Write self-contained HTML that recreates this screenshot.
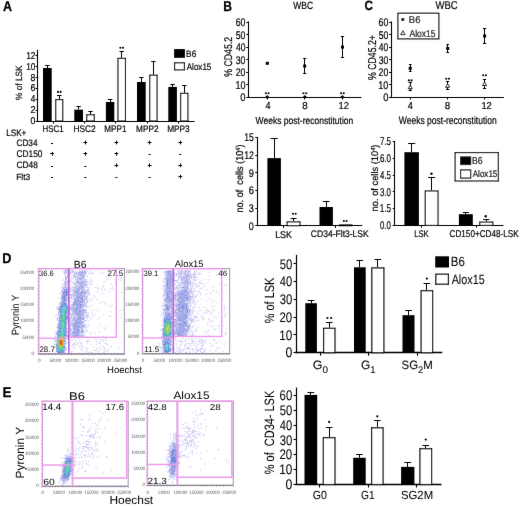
<!DOCTYPE html>
<html><head><meta charset="utf-8"><style>
html,body{margin:0;padding:0;background:#fff;}
svg{display:block;text-rendering:geometricPrecision;font-family:"Liberation Sans",sans-serif;}
</style></head><body>
<svg width="520" height="506" viewBox="0 0 520 506">
<defs><filter id="soft" x="-10%" y="-10%" width="120%" height="120%"><feGaussianBlur stdDeviation="0.35"/></filter>
<filter id="gsoft" x="0" y="0" width="520" height="506" filterUnits="userSpaceOnUse"><feConvolveMatrix order="3" kernelMatrix="0.0028 0.0470 0.0028 0.0470 0.8008 0.0470 0.0028 0.0470 0.0028" edgeMode="duplicate"/></filter></defs>
<rect width="520" height="506" fill="#fff"/>
<g filter="url(#gsoft)">
<text x="2.99" y="10.7" font-size="14.19" font-weight="bold" fill="#000" stroke="#000" stroke-width="0.25" textLength="9.04" lengthAdjust="spacingAndGlyphs">A</text>
<line x1="37.5" y1="49.8" x2="37.5" y2="121.5" stroke="#000" stroke-width="1.1"/>
<line x1="37.1" y1="121.5" x2="194.5" y2="121.5" stroke="#000" stroke-width="1.2"/>
<line x1="35.6" y1="121.5" x2="37.6" y2="121.5" stroke="#000" stroke-width="1"/>
<text x="30.61" y="124.3" font-size="9.92" font-weight="normal" fill="#000" stroke="#000" stroke-width="0.2" textLength="4.83" lengthAdjust="spacingAndGlyphs">0</text>
<line x1="35.6" y1="110.5" x2="37.6" y2="110.5" stroke="#000" stroke-width="1"/>
<text x="30.49" y="113.36" font-size="9.92" font-weight="normal" fill="#000" stroke="#000" stroke-width="0.2" textLength="5.07" lengthAdjust="spacingAndGlyphs">2</text>
<line x1="35.6" y1="99.5" x2="37.6" y2="99.5" stroke="#000" stroke-width="1"/>
<text x="30.76" y="102.42" font-size="10.07" font-weight="normal" fill="#000" stroke="#000" stroke-width="0.2" textLength="4.58" lengthAdjust="spacingAndGlyphs">4</text>
<line x1="35.6" y1="88.5" x2="37.6" y2="88.5" stroke="#000" stroke-width="1"/>
<text x="30.49" y="91.48" font-size="9.92" font-weight="normal" fill="#000" stroke="#000" stroke-width="0.2" textLength="5" lengthAdjust="spacingAndGlyphs">6</text>
<line x1="35.6" y1="77.5" x2="37.6" y2="77.5" stroke="#000" stroke-width="1"/>
<text x="30.57" y="80.54" font-size="9.92" font-weight="normal" fill="#000" stroke="#000" stroke-width="0.2" textLength="4.92" lengthAdjust="spacingAndGlyphs">8</text>
<line x1="35.6" y1="66.5" x2="37.6" y2="66.5" stroke="#000" stroke-width="1"/>
<text x="26.17" y="69.6" font-size="9.92" font-weight="normal" fill="#000" stroke="#000" stroke-width="0.2" textLength="9.26" lengthAdjust="spacingAndGlyphs">10</text>
<line x1="35.6" y1="55.5" x2="37.6" y2="55.5" stroke="#000" stroke-width="1"/>
<text x="26.16" y="58.66" font-size="9.92" font-weight="normal" fill="#000" stroke="#000" stroke-width="0.2" textLength="9.36" lengthAdjust="spacingAndGlyphs">12</text>
<line x1="53.5" y1="121" x2="53.5" y2="123.5" stroke="#000" stroke-width="1"/>
<line x1="84.5" y1="121" x2="84.5" y2="123.5" stroke="#000" stroke-width="1"/>
<line x1="115.5" y1="121" x2="115.5" y2="123.5" stroke="#000" stroke-width="1"/>
<line x1="147.5" y1="121" x2="147.5" y2="123.5" stroke="#000" stroke-width="1"/>
<line x1="178.5" y1="121" x2="178.5" y2="123.5" stroke="#000" stroke-width="1"/>
<line x1="47.5" y1="68" x2="47.5" y2="65.2" stroke="#000" stroke-width="1"/>
<line x1="45.15" y1="65.5" x2="49.55" y2="65.5" stroke="#000" stroke-width="1"/>
<rect x="43" y="68" width="8.7" height="53" fill="#000" stroke="none" stroke-width="0"/>
<line x1="59.5" y1="99.1" x2="59.5" y2="95.9" stroke="#000" stroke-width="1"/>
<line x1="57.05" y1="95.5" x2="61.45" y2="95.5" stroke="#000" stroke-width="1"/>
<rect x="55.75" y="99.65" width="7" height="21.35" fill="#fff" stroke="#000" stroke-width="1.1"/>
<line x1="78.5" y1="109.7" x2="78.5" y2="106.9" stroke="#000" stroke-width="1"/>
<line x1="76.45" y1="106.5" x2="80.85" y2="106.5" stroke="#000" stroke-width="1"/>
<rect x="74.3" y="109.7" width="8.7" height="11.3" fill="#000" stroke="none" stroke-width="0"/>
<line x1="90.5" y1="114.2" x2="90.5" y2="111.5" stroke="#000" stroke-width="1"/>
<line x1="88.3" y1="111.5" x2="92.7" y2="111.5" stroke="#000" stroke-width="1"/>
<rect x="86.75" y="114.75" width="7.5" height="6.25" fill="#fff" stroke="#000" stroke-width="1.1"/>
<line x1="110.5" y1="102" x2="110.5" y2="99.6" stroke="#000" stroke-width="1"/>
<line x1="107.9" y1="99.5" x2="112.3" y2="99.5" stroke="#000" stroke-width="1"/>
<rect x="105.9" y="102" width="8.4" height="19" fill="#000" stroke="none" stroke-width="0"/>
<line x1="121.5" y1="57.8" x2="121.5" y2="51.2" stroke="#000" stroke-width="1"/>
<line x1="119.5" y1="51.5" x2="123.9" y2="51.5" stroke="#000" stroke-width="1"/>
<rect x="117.95" y="58.35" width="7.5" height="62.65" fill="#fff" stroke="#000" stroke-width="1.1"/>
<line x1="141.5" y1="82" x2="141.5" y2="77.5" stroke="#000" stroke-width="1"/>
<line x1="139.15" y1="77.5" x2="143.55" y2="77.5" stroke="#000" stroke-width="1"/>
<rect x="137" y="82" width="8.7" height="39" fill="#000" stroke="none" stroke-width="0"/>
<line x1="153.5" y1="74.6" x2="153.5" y2="61.2" stroke="#000" stroke-width="1"/>
<line x1="151.2" y1="61.5" x2="155.6" y2="61.5" stroke="#000" stroke-width="1"/>
<rect x="149.75" y="75.15" width="7.3" height="45.85" fill="#fff" stroke="#000" stroke-width="1.1"/>
<line x1="172.5" y1="86.9" x2="172.5" y2="84.4" stroke="#000" stroke-width="1"/>
<line x1="170.4" y1="84.5" x2="174.8" y2="84.5" stroke="#000" stroke-width="1"/>
<rect x="168.3" y="86.9" width="8.6" height="34.1" fill="#000" stroke="none" stroke-width="0"/>
<line x1="184.5" y1="92.8" x2="184.5" y2="85.4" stroke="#000" stroke-width="1"/>
<line x1="182.1" y1="85.5" x2="186.5" y2="85.5" stroke="#000" stroke-width="1"/>
<rect x="180.65" y="93.35" width="7.3" height="27.65" fill="#fff" stroke="#000" stroke-width="1.1"/>
<circle cx="57.95" cy="91.9" r="1.05" fill="#000"/>
<circle cx="60.65" cy="91.9" r="1.05" fill="#000"/>
<circle cx="120.35" cy="47.7" r="1.05" fill="#000"/>
<circle cx="123.05" cy="47.7" r="1.05" fill="#000"/>
<rect x="174.1" y="49.1" width="10.8" height="8.7" fill="#000" stroke="none" stroke-width="0"/>
<rect x="174.6" y="62.8" width="9.8" height="7.1" fill="#fff" stroke="#000" stroke-width="1.1"/>
<text x="186.12" y="57" font-size="9.47" font-weight="normal" fill="#000" stroke="#000" stroke-width="0.2" textLength="10.14" lengthAdjust="spacingAndGlyphs">B6</text>
<text x="186.78" y="69.5" font-size="9.56" font-weight="normal" fill="#000" stroke="#000" stroke-width="0.2" textLength="24.55" lengthAdjust="spacingAndGlyphs">Alox15</text>
<text transform="translate(21.8,99.89) rotate(-90)" x="0" y="0" font-size="9.14" fill="#000" stroke="#000" stroke-width="0.2" textLength="34.49" lengthAdjust="spacingAndGlyphs">% of LSK</text>
<text x="42.55" y="132.3" font-size="9.47" font-weight="normal" fill="#000" stroke="#000" stroke-width="0.2" textLength="21.14" lengthAdjust="spacingAndGlyphs">HSC1</text>
<text x="73.52" y="132.3" font-size="9.47" font-weight="normal" fill="#000" stroke="#000" stroke-width="0.2" textLength="22.2" lengthAdjust="spacingAndGlyphs">HSC2</text>
<text x="104.33" y="132.3" font-size="9.61" font-weight="normal" fill="#000" stroke="#000" stroke-width="0.2" textLength="22.17" lengthAdjust="spacingAndGlyphs">MPP1</text>
<text x="136.12" y="132.3" font-size="9.47" font-weight="normal" fill="#000" stroke="#000" stroke-width="0.2" textLength="22.49" lengthAdjust="spacingAndGlyphs">MPP2</text>
<text x="167.22" y="132.3" font-size="9.47" font-weight="normal" fill="#000" stroke="#000" stroke-width="0.2" textLength="22.44" lengthAdjust="spacingAndGlyphs">MPP3</text>
<text x="6.23" y="135.9" font-size="9.32" font-weight="normal" fill="#000" stroke="#000" stroke-width="0.2" textLength="20.17" lengthAdjust="spacingAndGlyphs">LSK+</text>
<text x="16.48" y="145.6" font-size="9.32" font-weight="normal" fill="#000" stroke="#000" stroke-width="0.2" textLength="21.06" lengthAdjust="spacingAndGlyphs">CD34</text>
<text x="16.47" y="157.1" font-size="9.62" font-weight="normal" fill="#000" stroke="#000" stroke-width="0.2" textLength="26.05" lengthAdjust="spacingAndGlyphs">CD150</text>
<text x="16.47" y="168.4" font-size="9.32" font-weight="normal" fill="#000" stroke="#000" stroke-width="0.2" textLength="21.49" lengthAdjust="spacingAndGlyphs">CD48</text>
<text x="16.22" y="179.8" font-size="8.84" font-weight="normal" fill="#000" stroke="#000" stroke-width="0.2" textLength="13.85" lengthAdjust="spacingAndGlyphs">Flt3</text>
<line x1="51" y1="143.5" x2="53" y2="143.5" stroke="#000" stroke-width="1"/>
<line x1="50.1" y1="153.5" x2="53.9" y2="153.5" stroke="#000" stroke-width="1"/>
<line x1="52.5" y1="152" x2="52.5" y2="155.8" stroke="#000" stroke-width="1"/>
<line x1="51" y1="166.5" x2="53" y2="166.5" stroke="#000" stroke-width="1"/>
<line x1="51" y1="177.5" x2="53" y2="177.5" stroke="#000" stroke-width="1"/>
<line x1="83.4" y1="142.5" x2="87.2" y2="142.5" stroke="#000" stroke-width="1"/>
<line x1="85.5" y1="140.6" x2="85.5" y2="144.4" stroke="#000" stroke-width="1"/>
<line x1="83.4" y1="153.5" x2="87.2" y2="153.5" stroke="#000" stroke-width="1"/>
<line x1="85.5" y1="152" x2="85.5" y2="155.8" stroke="#000" stroke-width="1"/>
<line x1="84.3" y1="166.5" x2="86.3" y2="166.5" stroke="#000" stroke-width="1"/>
<line x1="84.3" y1="177.5" x2="86.3" y2="177.5" stroke="#000" stroke-width="1"/>
<line x1="114.5" y1="142.5" x2="118.3" y2="142.5" stroke="#000" stroke-width="1"/>
<line x1="116.5" y1="140.6" x2="116.5" y2="144.4" stroke="#000" stroke-width="1"/>
<line x1="114.5" y1="153.5" x2="118.3" y2="153.5" stroke="#000" stroke-width="1"/>
<line x1="116.5" y1="152" x2="116.5" y2="155.8" stroke="#000" stroke-width="1"/>
<line x1="114.5" y1="165.5" x2="118.3" y2="165.5" stroke="#000" stroke-width="1"/>
<line x1="116.5" y1="163.4" x2="116.5" y2="167.2" stroke="#000" stroke-width="1"/>
<line x1="115.4" y1="177.5" x2="117.4" y2="177.5" stroke="#000" stroke-width="1"/>
<line x1="147.7" y1="142.5" x2="151.5" y2="142.5" stroke="#000" stroke-width="1"/>
<line x1="149.5" y1="140.6" x2="149.5" y2="144.4" stroke="#000" stroke-width="1"/>
<line x1="148.6" y1="154.5" x2="150.6" y2="154.5" stroke="#000" stroke-width="1"/>
<line x1="147.7" y1="165.5" x2="151.5" y2="165.5" stroke="#000" stroke-width="1"/>
<line x1="149.5" y1="163.4" x2="149.5" y2="167.2" stroke="#000" stroke-width="1"/>
<line x1="148.6" y1="177.5" x2="150.6" y2="177.5" stroke="#000" stroke-width="1"/>
<line x1="178.4" y1="142.5" x2="182.2" y2="142.5" stroke="#000" stroke-width="1"/>
<line x1="180.5" y1="140.6" x2="180.5" y2="144.4" stroke="#000" stroke-width="1"/>
<line x1="179.3" y1="154.5" x2="181.3" y2="154.5" stroke="#000" stroke-width="1"/>
<line x1="178.4" y1="165.5" x2="182.2" y2="165.5" stroke="#000" stroke-width="1"/>
<line x1="180.5" y1="163.4" x2="180.5" y2="167.2" stroke="#000" stroke-width="1"/>
<line x1="178.4" y1="176.5" x2="182.2" y2="176.5" stroke="#000" stroke-width="1"/>
<line x1="180.5" y1="174.85" x2="180.5" y2="178.65" stroke="#000" stroke-width="1"/>
<text x="223.29" y="10.6" font-size="14.04" font-weight="bold" fill="#000" stroke="#000" stroke-width="0.25" textLength="8.76" lengthAdjust="spacingAndGlyphs">B</text>
<text x="293.26" y="9" font-size="10.53" font-weight="normal" fill="#000" stroke="#000" stroke-width="0.2" textLength="19.76" lengthAdjust="spacingAndGlyphs">WBC</text>
<line x1="248.5" y1="21.4" x2="248.5" y2="97.8" stroke="#000" stroke-width="1.1"/>
<line x1="247.8" y1="97.5" x2="361.5" y2="97.5" stroke="#000" stroke-width="1.2"/>
<line x1="246.3" y1="97.5" x2="248.3" y2="97.5" stroke="#000" stroke-width="1"/>
<text x="240.23" y="101.1" font-size="11.13" font-weight="normal" fill="#000" stroke="#000" stroke-width="0.2" textLength="5.24" lengthAdjust="spacingAndGlyphs">0</text>
<line x1="246.3" y1="84.5" x2="248.3" y2="84.5" stroke="#000" stroke-width="1"/>
<text x="235.41" y="88.62" font-size="11.13" font-weight="normal" fill="#000" stroke="#000" stroke-width="0.2" textLength="10.04" lengthAdjust="spacingAndGlyphs">10</text>
<line x1="246.3" y1="72.5" x2="248.3" y2="72.5" stroke="#000" stroke-width="1"/>
<text x="235.66" y="76.14" font-size="11.13" font-weight="normal" fill="#000" stroke="#000" stroke-width="0.2" textLength="9.79" lengthAdjust="spacingAndGlyphs">20</text>
<line x1="246.3" y1="59.5" x2="248.3" y2="59.5" stroke="#000" stroke-width="1"/>
<text x="235.77" y="63.66" font-size="11.13" font-weight="normal" fill="#000" stroke="#000" stroke-width="0.2" textLength="9.67" lengthAdjust="spacingAndGlyphs">30</text>
<line x1="246.3" y1="47.5" x2="248.3" y2="47.5" stroke="#000" stroke-width="1"/>
<text x="235.9" y="51.18" font-size="11.13" font-weight="normal" fill="#000" stroke="#000" stroke-width="0.2" textLength="9.53" lengthAdjust="spacingAndGlyphs">40</text>
<line x1="246.3" y1="34.5" x2="248.3" y2="34.5" stroke="#000" stroke-width="1"/>
<text x="235.75" y="38.7" font-size="11.13" font-weight="normal" fill="#000" stroke="#000" stroke-width="0.2" textLength="9.69" lengthAdjust="spacingAndGlyphs">50</text>
<line x1="246.3" y1="22.5" x2="248.3" y2="22.5" stroke="#000" stroke-width="1"/>
<text x="235.65" y="26.22" font-size="11.13" font-weight="normal" fill="#000" stroke="#000" stroke-width="0.2" textLength="9.79" lengthAdjust="spacingAndGlyphs">60</text>
<line x1="267.5" y1="97.3" x2="267.5" y2="99.5" stroke="#000" stroke-width="1"/>
<line x1="304.5" y1="97.3" x2="304.5" y2="99.5" stroke="#000" stroke-width="1"/>
<line x1="342.5" y1="97.3" x2="342.5" y2="99.5" stroke="#000" stroke-width="1"/>
<rect x="265.8" y="61.8" width="3" height="3" fill="#000" stroke="none" stroke-width="0"/>
<line x1="304.5" y1="58.9" x2="304.5" y2="73.2" stroke="#000" stroke-width="1"/>
<line x1="303.1" y1="58.5" x2="306.3" y2="58.5" stroke="#000" stroke-width="1"/>
<line x1="303.1" y1="73.5" x2="306.3" y2="73.5" stroke="#000" stroke-width="1"/>
<rect x="303.2" y="64.5" width="3" height="3" fill="#000" stroke="none" stroke-width="0"/>
<line x1="342.5" y1="36.6" x2="342.5" y2="57.4" stroke="#000" stroke-width="1"/>
<line x1="340.9" y1="36.5" x2="344.1" y2="36.5" stroke="#000" stroke-width="1"/>
<line x1="340.9" y1="57.5" x2="344.1" y2="57.5" stroke="#000" stroke-width="1"/>
<rect x="341" y="45.6" width="3" height="3" fill="#000" stroke="none" stroke-width="0"/>
<path d="M267.2 95L269.2 97L267.2 99L265.2 97Z" fill="#000"/>
<circle cx="265.85" cy="93.2" r="1.05" fill="#000"/>
<circle cx="268.55" cy="93.2" r="1.05" fill="#000"/>
<path d="M304.8 95L306.8 97L304.8 99L302.8 97Z" fill="#000"/>
<circle cx="303.45" cy="93.2" r="1.05" fill="#000"/>
<circle cx="306.15" cy="93.2" r="1.05" fill="#000"/>
<path d="M342.4 95L344.4 97L342.4 99L340.4 97Z" fill="#000"/>
<circle cx="341.05" cy="93.2" r="1.05" fill="#000"/>
<circle cx="343.75" cy="93.2" r="1.05" fill="#000"/>
<text x="265.39" y="109" font-size="10.23" font-weight="normal" fill="#000" stroke="#000" stroke-width="0.2" textLength="5.08" lengthAdjust="spacingAndGlyphs">4</text>
<text x="302.27" y="109" font-size="10.08" font-weight="normal" fill="#000" stroke="#000" stroke-width="0.2" textLength="5.45" lengthAdjust="spacingAndGlyphs">8</text>
<text x="338.59" y="109" font-size="10.08" font-weight="normal" fill="#000" stroke="#000" stroke-width="0.2" textLength="10.38" lengthAdjust="spacingAndGlyphs">12</text>
<text x="255.56" y="123.7" font-size="10.14" font-weight="normal" fill="#000" stroke="#000" stroke-width="0.2" textLength="97.69" lengthAdjust="spacingAndGlyphs">Weeks post-reconstitution</text>
<text transform="translate(231.8,76.71) rotate(-90)" x="0" y="0" font-size="11.13" fill="#000" stroke="#000" stroke-width="0.2" textLength="39.75" lengthAdjust="spacingAndGlyphs">% CD45.2</text>
<text x="364.42" y="10.4" font-size="13.38" font-weight="bold" fill="#000" stroke="#000" stroke-width="0.25" textLength="8.51" lengthAdjust="spacingAndGlyphs">C</text>
<text x="435.46" y="9.4" font-size="11.28" font-weight="normal" fill="#000" stroke="#000" stroke-width="0.2" textLength="22.2" lengthAdjust="spacingAndGlyphs">WBC</text>
<line x1="391.5" y1="21.4" x2="391.5" y2="97.8" stroke="#000" stroke-width="1.1"/>
<line x1="390.6" y1="97.5" x2="503.9" y2="97.5" stroke="#000" stroke-width="1.2"/>
<line x1="389.1" y1="97.5" x2="391.1" y2="97.5" stroke="#000" stroke-width="1"/>
<text x="383.13" y="101.1" font-size="11.13" font-weight="normal" fill="#000" stroke="#000" stroke-width="0.2" textLength="5.24" lengthAdjust="spacingAndGlyphs">0</text>
<line x1="389.1" y1="84.5" x2="391.1" y2="84.5" stroke="#000" stroke-width="1"/>
<text x="378.31" y="88.62" font-size="11.13" font-weight="normal" fill="#000" stroke="#000" stroke-width="0.2" textLength="10.04" lengthAdjust="spacingAndGlyphs">10</text>
<line x1="389.1" y1="72.5" x2="391.1" y2="72.5" stroke="#000" stroke-width="1"/>
<text x="378.56" y="76.14" font-size="11.13" font-weight="normal" fill="#000" stroke="#000" stroke-width="0.2" textLength="9.79" lengthAdjust="spacingAndGlyphs">20</text>
<line x1="389.1" y1="59.5" x2="391.1" y2="59.5" stroke="#000" stroke-width="1"/>
<text x="378.67" y="63.66" font-size="11.13" font-weight="normal" fill="#000" stroke="#000" stroke-width="0.2" textLength="9.67" lengthAdjust="spacingAndGlyphs">30</text>
<line x1="389.1" y1="47.5" x2="391.1" y2="47.5" stroke="#000" stroke-width="1"/>
<text x="378.8" y="51.18" font-size="11.13" font-weight="normal" fill="#000" stroke="#000" stroke-width="0.2" textLength="9.53" lengthAdjust="spacingAndGlyphs">40</text>
<line x1="389.1" y1="34.5" x2="391.1" y2="34.5" stroke="#000" stroke-width="1"/>
<text x="378.65" y="38.7" font-size="11.13" font-weight="normal" fill="#000" stroke="#000" stroke-width="0.2" textLength="9.69" lengthAdjust="spacingAndGlyphs">50</text>
<line x1="389.1" y1="22.5" x2="391.1" y2="22.5" stroke="#000" stroke-width="1"/>
<text x="378.55" y="26.22" font-size="11.13" font-weight="normal" fill="#000" stroke="#000" stroke-width="0.2" textLength="9.79" lengthAdjust="spacingAndGlyphs">60</text>
<line x1="410.5" y1="97.3" x2="410.5" y2="99.5" stroke="#000" stroke-width="1"/>
<line x1="447.5" y1="97.3" x2="447.5" y2="99.5" stroke="#000" stroke-width="1"/>
<line x1="484.5" y1="97.3" x2="484.5" y2="99.5" stroke="#000" stroke-width="1"/>
<line x1="410.5" y1="64.8" x2="410.5" y2="71.8" stroke="#000" stroke-width="1"/>
<line x1="408.9" y1="64.5" x2="411.5" y2="64.5" stroke="#000" stroke-width="1"/>
<line x1="408.9" y1="71.5" x2="411.5" y2="71.5" stroke="#000" stroke-width="1"/>
<rect x="408.7" y="66.9" width="3" height="3" fill="#000" stroke="none" stroke-width="0"/>
<line x1="447.5" y1="44.2" x2="447.5" y2="52.4" stroke="#000" stroke-width="1"/>
<line x1="446.4" y1="44.5" x2="449" y2="44.5" stroke="#000" stroke-width="1"/>
<line x1="446.4" y1="52.5" x2="449" y2="52.5" stroke="#000" stroke-width="1"/>
<rect x="446.2" y="46.9" width="3" height="3" fill="#000" stroke="none" stroke-width="0"/>
<line x1="484.5" y1="28.6" x2="484.5" y2="43.4" stroke="#000" stroke-width="1"/>
<line x1="483" y1="28.5" x2="486.2" y2="28.5" stroke="#000" stroke-width="1"/>
<line x1="483" y1="43.5" x2="486.2" y2="43.5" stroke="#000" stroke-width="1"/>
<rect x="483.1" y="34.5" width="3" height="3" fill="#000" stroke="none" stroke-width="0"/>
<line x1="410.5" y1="82.3" x2="410.5" y2="90.2" stroke="#000" stroke-width="1"/>
<line x1="408.6" y1="82.5" x2="411.8" y2="82.5" stroke="#000" stroke-width="1"/>
<line x1="408.6" y1="90.5" x2="411.8" y2="90.5" stroke="#000" stroke-width="1"/>
<path d="M410.2 85.1L412.2 88.7L408.2 88.7Z" fill="#fff" stroke="#000" stroke-width="0.9"/>
<circle cx="408.85" cy="80.4" r="1.05" fill="#000"/>
<circle cx="411.55" cy="80.4" r="1.05" fill="#000"/>
<line x1="447.5" y1="81.5" x2="447.5" y2="89.4" stroke="#000" stroke-width="1"/>
<line x1="446" y1="81.5" x2="449.2" y2="81.5" stroke="#000" stroke-width="1"/>
<line x1="446" y1="89.5" x2="449.2" y2="89.5" stroke="#000" stroke-width="1"/>
<path d="M447.6 83.7L449.6 87.3L445.6 87.3Z" fill="#fff" stroke="#000" stroke-width="0.9"/>
<circle cx="446.25" cy="78.8" r="1.05" fill="#000"/>
<circle cx="448.95" cy="78.8" r="1.05" fill="#000"/>
<line x1="484.5" y1="79" x2="484.5" y2="88" stroke="#000" stroke-width="1"/>
<line x1="482.9" y1="79.5" x2="486.1" y2="79.5" stroke="#000" stroke-width="1"/>
<line x1="482.9" y1="88.5" x2="486.1" y2="88.5" stroke="#000" stroke-width="1"/>
<path d="M484.5 81.9L486.5 85.5L482.5 85.5Z" fill="#fff" stroke="#000" stroke-width="0.9"/>
<circle cx="483.15" cy="75.3" r="1.05" fill="#000"/>
<circle cx="485.85" cy="75.3" r="1.05" fill="#000"/>
<text x="407.79" y="109" font-size="10.07" font-weight="normal" fill="#000" stroke="#000" stroke-width="0.2" textLength="5.08" lengthAdjust="spacingAndGlyphs">4</text>
<text x="444.87" y="109" font-size="9.92" font-weight="normal" fill="#000" stroke="#000" stroke-width="0.2" textLength="5.45" lengthAdjust="spacingAndGlyphs">8</text>
<text x="481.39" y="109" font-size="9.92" font-weight="normal" fill="#000" stroke="#000" stroke-width="0.2" textLength="10.38" lengthAdjust="spacingAndGlyphs">12</text>
<text x="398.76" y="123.8" font-size="10.87" font-weight="normal" fill="#000" stroke="#000" stroke-width="0.2" textLength="97.99" lengthAdjust="spacingAndGlyphs">Weeks post-reconstitution</text>
<text transform="translate(375.8,79.91) rotate(-90)" x="0" y="0" font-size="11.43" fill="#000" stroke="#000" stroke-width="0.2" textLength="44.84" lengthAdjust="spacingAndGlyphs">% CD45.2+</text>
<rect x="397.9" y="13.2" width="41" height="25.7" fill="#fff" stroke="#000" stroke-width="1.1"/>
<rect x="401.4" y="18.1" width="2.8" height="2.8" fill="#000" stroke="none" stroke-width="0"/>
<path d="M402.9 30.7L405.1 34.66L400.7 34.66Z" fill="#fff" stroke="#000" stroke-width="0.9"/>
<text x="408.82" y="22.9" font-size="9.77" font-weight="normal" fill="#000" stroke="#000" stroke-width="0.2" textLength="11.59" lengthAdjust="spacingAndGlyphs">B6</text>
<text x="409.48" y="36.7" font-size="10" font-weight="normal" fill="#000" stroke="#000" stroke-width="0.2" textLength="26.07" lengthAdjust="spacingAndGlyphs">Alox15</text>
<line x1="257.5" y1="137" x2="257.5" y2="226.2" stroke="#000" stroke-width="1.1"/>
<line x1="256.8" y1="225.5" x2="362.2" y2="225.5" stroke="#000" stroke-width="1.2"/>
<line x1="255.3" y1="225.5" x2="257.3" y2="225.5" stroke="#000" stroke-width="1"/>
<text x="248.85" y="229.5" font-size="11.13" font-weight="normal" fill="#000" stroke="#000" stroke-width="0.2" textLength="5" lengthAdjust="spacingAndGlyphs">0</text>
<line x1="255.3" y1="208.5" x2="257.3" y2="208.5" stroke="#000" stroke-width="1"/>
<text x="248.85" y="211.86" font-size="11.13" font-weight="normal" fill="#000" stroke="#000" stroke-width="0.2" textLength="5.04" lengthAdjust="spacingAndGlyphs">3</text>
<line x1="255.3" y1="190.5" x2="257.3" y2="190.5" stroke="#000" stroke-width="1"/>
<text x="248.73" y="194.22" font-size="11.13" font-weight="normal" fill="#000" stroke="#000" stroke-width="0.2" textLength="5.18" lengthAdjust="spacingAndGlyphs">6</text>
<line x1="255.3" y1="172.5" x2="257.3" y2="172.5" stroke="#000" stroke-width="1"/>
<text x="248.76" y="176.58" font-size="11.13" font-weight="normal" fill="#000" stroke="#000" stroke-width="0.2" textLength="5.18" lengthAdjust="spacingAndGlyphs">9</text>
<line x1="255.3" y1="155.5" x2="257.3" y2="155.5" stroke="#000" stroke-width="1"/>
<text x="244.24" y="158.94" font-size="11.13" font-weight="normal" fill="#000" stroke="#000" stroke-width="0.2" textLength="9.7" lengthAdjust="spacingAndGlyphs">12</text>
<line x1="255.3" y1="137.5" x2="257.3" y2="137.5" stroke="#000" stroke-width="1"/>
<text x="244.24" y="141.3" font-size="11.29" font-weight="normal" fill="#000" stroke="#000" stroke-width="0.2" textLength="9.62" lengthAdjust="spacingAndGlyphs">15</text>
<line x1="283.5" y1="225.7" x2="283.5" y2="228" stroke="#000" stroke-width="1"/>
<line x1="335.5" y1="225.7" x2="335.5" y2="228" stroke="#000" stroke-width="1"/>
<line x1="274.5" y1="158.1" x2="274.5" y2="138.9" stroke="#000" stroke-width="1"/>
<line x1="270.55" y1="138.5" x2="277.75" y2="138.5" stroke="#000" stroke-width="1"/>
<rect x="267.4" y="158.1" width="13.5" height="67.6" fill="#000" stroke="none" stroke-width="0"/>
<line x1="293.5" y1="221.3" x2="293.5" y2="218.6" stroke="#000" stroke-width="1"/>
<line x1="290.6" y1="218.5" x2="296.6" y2="218.5" stroke="#000" stroke-width="1"/>
<rect x="287.15" y="221.85" width="12.9" height="3.85" fill="#fff" stroke="#000" stroke-width="1.1"/>
<circle cx="292.95" cy="213.8" r="1.05" fill="#000"/>
<circle cx="295.65" cy="213.8" r="1.05" fill="#000"/>
<line x1="326.5" y1="207" x2="326.5" y2="201.4" stroke="#000" stroke-width="1"/>
<line x1="322.9" y1="201.5" x2="329.5" y2="201.5" stroke="#000" stroke-width="1"/>
<rect x="319.5" y="207" width="13.4" height="18.7" fill="#000" stroke="none" stroke-width="0"/>
<rect x="339.55" y="224.95" width="12.4" height="0.75" fill="#fff" stroke="#000" stroke-width="1.1"/>
<circle cx="343.85" cy="221" r="1.05" fill="#000"/>
<circle cx="346.55" cy="221" r="1.05" fill="#000"/>
<text x="275.17" y="237.5" font-size="9.77" font-weight="normal" fill="#000" stroke="#000" stroke-width="0.2" textLength="16.83" lengthAdjust="spacingAndGlyphs">LSK</text>
<text x="310.77" y="237.1" font-size="9.56" font-weight="normal" fill="#000" stroke="#000" stroke-width="0.2" textLength="58.03" lengthAdjust="spacingAndGlyphs">CD34-Flt3-LSK</text>
<text transform="translate(243,212.59) rotate(-90)" x="0" y="0" font-size="10.14" fill="#000" stroke="#000" stroke-width="0.2" textLength="68.04" lengthAdjust="spacingAndGlyphs">no. of&#160; cells (10<tspan font-size="60%" dy="-3">4</tspan><tspan dy="3">)</tspan></text>
<line x1="394.5" y1="140.9" x2="394.5" y2="225.9" stroke="#000" stroke-width="1.1"/>
<line x1="394.2" y1="225.5" x2="503.5" y2="225.5" stroke="#000" stroke-width="1.2"/>
<line x1="392.7" y1="225.5" x2="394.7" y2="225.5" stroke="#000" stroke-width="1"/>
<text x="379.99" y="229.2" font-size="11.28" font-weight="normal" fill="#000" stroke="#000" stroke-width="0.2" textLength="10.91" lengthAdjust="spacingAndGlyphs">0.0</text>
<line x1="392.7" y1="208.5" x2="394.7" y2="208.5" stroke="#000" stroke-width="1"/>
<text x="379.68" y="212.4" font-size="11.45" font-weight="normal" fill="#000" stroke="#000" stroke-width="0.2" textLength="11.26" lengthAdjust="spacingAndGlyphs">1.5</text>
<line x1="392.7" y1="191.5" x2="394.7" y2="191.5" stroke="#000" stroke-width="1"/>
<text x="380" y="195.6" font-size="11.28" font-weight="normal" fill="#000" stroke="#000" stroke-width="0.2" textLength="10.91" lengthAdjust="spacingAndGlyphs">3.0</text>
<line x1="392.7" y1="175.5" x2="394.7" y2="175.5" stroke="#000" stroke-width="1"/>
<text x="380.12" y="178.8" font-size="11.45" font-weight="normal" fill="#000" stroke="#000" stroke-width="0.2" textLength="10.8" lengthAdjust="spacingAndGlyphs">4.5</text>
<line x1="392.7" y1="158.5" x2="394.7" y2="158.5" stroke="#000" stroke-width="1"/>
<text x="379.9" y="162" font-size="11.28" font-weight="normal" fill="#000" stroke="#000" stroke-width="0.2" textLength="11.01" lengthAdjust="spacingAndGlyphs">6.0</text>
<line x1="392.7" y1="141.5" x2="394.7" y2="141.5" stroke="#000" stroke-width="1"/>
<text x="379.89" y="145.2" font-size="11.45" font-weight="normal" fill="#000" stroke="#000" stroke-width="0.2" textLength="11.04" lengthAdjust="spacingAndGlyphs">7.5</text>
<line x1="421.5" y1="225.4" x2="421.5" y2="227.7" stroke="#000" stroke-width="1"/>
<line x1="476.5" y1="225.4" x2="476.5" y2="227.7" stroke="#000" stroke-width="1"/>
<line x1="411.5" y1="152.2" x2="411.5" y2="143.4" stroke="#000" stroke-width="1"/>
<line x1="408.05" y1="143.5" x2="415.25" y2="143.5" stroke="#000" stroke-width="1"/>
<rect x="404.4" y="152.2" width="14.5" height="73.2" fill="#000" stroke="none" stroke-width="0"/>
<line x1="431.5" y1="190.4" x2="431.5" y2="177" stroke="#000" stroke-width="1"/>
<line x1="428.15" y1="177.5" x2="435.15" y2="177.5" stroke="#000" stroke-width="1"/>
<rect x="425.25" y="190.95" width="12.8" height="34.45" fill="#fff" stroke="#000" stroke-width="1.1"/>
<circle cx="431.5" cy="173.8" r="1.2" fill="#000"/>
<line x1="465.5" y1="214.2" x2="465.5" y2="212.3" stroke="#000" stroke-width="1"/>
<line x1="462.85" y1="212.5" x2="468.85" y2="212.5" stroke="#000" stroke-width="1"/>
<rect x="458.9" y="214.2" width="13.9" height="11.2" fill="#000" stroke="none" stroke-width="0"/>
<line x1="486.5" y1="221.5" x2="486.5" y2="219.2" stroke="#000" stroke-width="1"/>
<line x1="483.3" y1="219.5" x2="489.3" y2="219.5" stroke="#000" stroke-width="1"/>
<rect x="479.75" y="222.05" width="13.1" height="3.35" fill="#fff" stroke="#000" stroke-width="1.1"/>
<circle cx="485.7" cy="216.2" r="1.2" fill="#000"/>
<text x="414.17" y="237.2" font-size="9.62" font-weight="normal" fill="#000" stroke="#000" stroke-width="0.2" textLength="14.62" lengthAdjust="spacingAndGlyphs">LSK</text>
<text x="449.59" y="236.9" font-size="9.92" font-weight="normal" fill="#000" stroke="#000" stroke-width="0.2" textLength="69" lengthAdjust="spacingAndGlyphs">CD150+CD48-LSK</text>
<text transform="translate(377.9,211.4) rotate(-90)" x="0" y="0" font-size="9.71" fill="#000" stroke="#000" stroke-width="0.2" textLength="66.86" lengthAdjust="spacingAndGlyphs">no. of cells (10<tspan font-size="60%" dy="-3">4</tspan><tspan dy="3">)</tspan></text>
<rect x="455.1" y="152.6" width="43.2" height="28.4" fill="#fff" stroke="#000" stroke-width="1.1"/>
<rect x="460.1" y="156.4" width="11.1" height="8.7" fill="#000" stroke="none" stroke-width="0"/>
<rect x="460.6" y="169.9" width="10.1" height="8.2" fill="#fff" stroke="#000" stroke-width="1.1"/>
<text x="472.09" y="164.3" font-size="10.08" font-weight="normal" fill="#000" stroke="#000" stroke-width="0.2" textLength="10.59" lengthAdjust="spacingAndGlyphs">B6</text>
<text x="472.78" y="177.4" font-size="9.56" font-weight="normal" fill="#000" stroke="#000" stroke-width="0.2" textLength="24.55" lengthAdjust="spacingAndGlyphs">Alox15</text>
<text x="2.35" y="262.8" font-size="14.04" font-weight="bold" fill="#000" stroke="#000" stroke-width="0.25" textLength="9.18" lengthAdjust="spacingAndGlyphs">D</text>
<text x="2.51" y="397.3" font-size="14.04" font-weight="bold" fill="#000" stroke="#000" stroke-width="0.25" textLength="8.92" lengthAdjust="spacingAndGlyphs">E</text>
<line x1="296.5" y1="254.8" x2="296.5" y2="353.2" stroke="#000" stroke-width="1.2"/>
<line x1="295.5" y1="352.5" x2="442.2" y2="352.5" stroke="#000" stroke-width="1.3"/>
<line x1="293.5" y1="352.5" x2="296" y2="352.5" stroke="#000" stroke-width="1.1"/>
<text x="285.47" y="357.3" font-size="13.83" font-weight="normal" fill="#000" stroke="#000" stroke-width="0.06" textLength="6.81" lengthAdjust="spacingAndGlyphs">0</text>
<line x1="293.5" y1="334.5" x2="296" y2="334.5" stroke="#000" stroke-width="1.1"/>
<text x="279.21" y="339.54" font-size="13.83" font-weight="normal" fill="#000" stroke="#000" stroke-width="0.06" textLength="13.05" lengthAdjust="spacingAndGlyphs">10</text>
<line x1="293.5" y1="317.5" x2="296" y2="317.5" stroke="#000" stroke-width="1.1"/>
<text x="279.52" y="321.78" font-size="13.83" font-weight="normal" fill="#000" stroke="#000" stroke-width="0.06" textLength="12.72" lengthAdjust="spacingAndGlyphs">20</text>
<line x1="293.5" y1="299.5" x2="296" y2="299.5" stroke="#000" stroke-width="1.1"/>
<text x="279.67" y="304.02" font-size="13.83" font-weight="normal" fill="#000" stroke="#000" stroke-width="0.06" textLength="12.57" lengthAdjust="spacingAndGlyphs">30</text>
<line x1="293.5" y1="281.5" x2="296" y2="281.5" stroke="#000" stroke-width="1.1"/>
<text x="279.84" y="286.26" font-size="13.83" font-weight="normal" fill="#000" stroke="#000" stroke-width="0.06" textLength="12.39" lengthAdjust="spacingAndGlyphs">40</text>
<line x1="293.5" y1="263.5" x2="296" y2="263.5" stroke="#000" stroke-width="1.1"/>
<text x="279.65" y="268.5" font-size="13.83" font-weight="normal" fill="#000" stroke="#000" stroke-width="0.06" textLength="12.6" lengthAdjust="spacingAndGlyphs">50</text>
<line x1="320.5" y1="352.7" x2="320.5" y2="355.7" stroke="#000" stroke-width="1.1"/>
<line x1="368.5" y1="352.7" x2="368.5" y2="355.7" stroke="#000" stroke-width="1.1"/>
<line x1="417.5" y1="352.7" x2="417.5" y2="355.7" stroke="#000" stroke-width="1.1"/>
<line x1="311.5" y1="303.2" x2="311.5" y2="300.7" stroke="#000" stroke-width="1"/>
<line x1="307.8" y1="300.5" x2="314.4" y2="300.5" stroke="#000" stroke-width="1"/>
<rect x="305.3" y="303.2" width="11.6" height="49.5" fill="#000" stroke="none" stroke-width="0"/>
<line x1="329.5" y1="327.7" x2="329.5" y2="322.1" stroke="#000" stroke-width="1"/>
<line x1="326" y1="322.5" x2="332.6" y2="322.5" stroke="#000" stroke-width="1"/>
<rect x="323.6" y="328.3" width="11.4" height="24.4" fill="#fff" stroke="#000" stroke-width="1.2"/>
<circle cx="327.45" cy="318" r="1.1" fill="#000"/>
<circle cx="331.15" cy="318" r="1.1" fill="#000"/>
<line x1="359.5" y1="267.3" x2="359.5" y2="260.8" stroke="#000" stroke-width="1"/>
<line x1="356.55" y1="260.5" x2="363.15" y2="260.5" stroke="#000" stroke-width="1"/>
<rect x="354" y="267.3" width="11.7" height="85.4" fill="#000" stroke="none" stroke-width="0"/>
<line x1="377.5" y1="267.3" x2="377.5" y2="259.7" stroke="#000" stroke-width="1"/>
<line x1="374.55" y1="259.5" x2="381.15" y2="259.5" stroke="#000" stroke-width="1"/>
<rect x="371.8" y="267.9" width="12.1" height="84.8" fill="#fff" stroke="#000" stroke-width="1.2"/>
<line x1="408.5" y1="315.2" x2="408.5" y2="310.8" stroke="#000" stroke-width="1"/>
<line x1="405.2" y1="310.5" x2="411.8" y2="310.5" stroke="#000" stroke-width="1"/>
<rect x="402.5" y="315.2" width="12" height="37.5" fill="#000" stroke="none" stroke-width="0"/>
<line x1="426.5" y1="290.1" x2="426.5" y2="283.5" stroke="#000" stroke-width="1"/>
<line x1="423.55" y1="283.5" x2="430.15" y2="283.5" stroke="#000" stroke-width="1"/>
<rect x="421.1" y="290.7" width="11.5" height="62" fill="#fff" stroke="#000" stroke-width="1.2"/>
<circle cx="426.85" cy="278.6" r="1.1" fill="#000"/>
<text transform="translate(274,323.19) rotate(-90)" x="0" y="0" font-size="13.35" fill="#000" stroke="#000" stroke-width="0.06" textLength="45.51" lengthAdjust="spacingAndGlyphs">% of LSK</text>
<rect x="435.2" y="256.3" width="13.8" height="11.2" fill="#000" stroke="none" stroke-width="0"/>
<rect x="435.8" y="274.2" width="12.6" height="10" fill="#fff" stroke="#000" stroke-width="1.2"/>
<text x="450.75" y="266.4" font-size="13.38" font-weight="normal" fill="#000" stroke="#000" stroke-width="0.06" textLength="14.16" lengthAdjust="spacingAndGlyphs">B6</text>
<text x="451.68" y="284" font-size="13.33" font-weight="normal" fill="#000" stroke="#000" stroke-width="0.06" textLength="32.97" lengthAdjust="spacingAndGlyphs">Alox15</text>
<text x="312.73" y="369.3" font-size="12.03" stroke="#000" stroke-width="0.06" textLength="15.22" lengthAdjust="spacingAndGlyphs">G<tspan font-size="9.62" dy="3.37">0</tspan><tspan dy="-3.37"></tspan></text>
<text x="360.95" y="369.3" font-size="12.03" stroke="#000" stroke-width="0.06" textLength="14.58" lengthAdjust="spacingAndGlyphs">G<tspan font-size="9.62" dy="3.37">1</tspan><tspan dy="-3.37"></tspan></text>
<text x="401.6" y="369.3" font-size="12.03" stroke="#000" stroke-width="0.06" textLength="31.1" lengthAdjust="spacingAndGlyphs">SG<tspan font-size="9.62" dy="3.37">2</tspan><tspan dy="-3.37">M</tspan></text>
<line x1="296.5" y1="387.6" x2="296.5" y2="485" stroke="#000" stroke-width="1.2"/>
<line x1="295.5" y1="484.5" x2="441.5" y2="484.5" stroke="#000" stroke-width="1.3"/>
<line x1="293.5" y1="484.5" x2="296" y2="484.5" stroke="#000" stroke-width="1.1"/>
<text x="285.47" y="489.1" font-size="13.83" font-weight="normal" fill="#000" stroke="#000" stroke-width="0.06" textLength="6.81" lengthAdjust="spacingAndGlyphs">0</text>
<line x1="293.5" y1="469.5" x2="296" y2="469.5" stroke="#000" stroke-width="1.1"/>
<text x="279.21" y="474.25" font-size="13.83" font-weight="normal" fill="#000" stroke="#000" stroke-width="0.06" textLength="13.05" lengthAdjust="spacingAndGlyphs">10</text>
<line x1="293.5" y1="454.5" x2="296" y2="454.5" stroke="#000" stroke-width="1.1"/>
<text x="279.52" y="459.4" font-size="13.83" font-weight="normal" fill="#000" stroke="#000" stroke-width="0.06" textLength="12.72" lengthAdjust="spacingAndGlyphs">20</text>
<line x1="293.5" y1="439.5" x2="296" y2="439.5" stroke="#000" stroke-width="1.1"/>
<text x="279.67" y="444.55" font-size="13.83" font-weight="normal" fill="#000" stroke="#000" stroke-width="0.06" textLength="12.57" lengthAdjust="spacingAndGlyphs">30</text>
<line x1="293.5" y1="425.5" x2="296" y2="425.5" stroke="#000" stroke-width="1.1"/>
<text x="279.84" y="429.7" font-size="13.83" font-weight="normal" fill="#000" stroke="#000" stroke-width="0.06" textLength="12.39" lengthAdjust="spacingAndGlyphs">40</text>
<line x1="293.5" y1="410.5" x2="296" y2="410.5" stroke="#000" stroke-width="1.1"/>
<text x="279.65" y="414.85" font-size="13.83" font-weight="normal" fill="#000" stroke="#000" stroke-width="0.06" textLength="12.6" lengthAdjust="spacingAndGlyphs">50</text>
<line x1="293.5" y1="395.5" x2="296" y2="395.5" stroke="#000" stroke-width="1.1"/>
<text x="279.52" y="400" font-size="13.83" font-weight="normal" fill="#000" stroke="#000" stroke-width="0.06" textLength="12.73" lengthAdjust="spacingAndGlyphs">60</text>
<line x1="319.5" y1="484.5" x2="319.5" y2="487.5" stroke="#000" stroke-width="1.1"/>
<line x1="368.5" y1="484.5" x2="368.5" y2="487.5" stroke="#000" stroke-width="1.1"/>
<line x1="416.5" y1="484.5" x2="416.5" y2="487.5" stroke="#000" stroke-width="1.1"/>
<line x1="310.5" y1="394.9" x2="310.5" y2="392.4" stroke="#000" stroke-width="1"/>
<line x1="307.55" y1="392.5" x2="314.15" y2="392.5" stroke="#000" stroke-width="1"/>
<rect x="304.5" y="394.9" width="12.7" height="89.6" fill="#000" stroke="none" stroke-width="0"/>
<line x1="329.5" y1="437.1" x2="329.5" y2="427" stroke="#000" stroke-width="1"/>
<line x1="325.85" y1="427.5" x2="332.45" y2="427.5" stroke="#000" stroke-width="1"/>
<rect x="323.3" y="437.7" width="11.7" height="46.8" fill="#fff" stroke="#000" stroke-width="1.2"/>
<circle cx="329.15" cy="421.9" r="1.1" fill="#000"/>
<line x1="359.5" y1="457.8" x2="359.5" y2="454.6" stroke="#000" stroke-width="1"/>
<line x1="356.15" y1="454.5" x2="362.75" y2="454.5" stroke="#000" stroke-width="1"/>
<rect x="353.2" y="457.8" width="12.5" height="26.7" fill="#000" stroke="none" stroke-width="0"/>
<line x1="377.5" y1="427.2" x2="377.5" y2="420.5" stroke="#000" stroke-width="1"/>
<line x1="374.05" y1="420.5" x2="380.65" y2="420.5" stroke="#000" stroke-width="1"/>
<rect x="371.6" y="427.8" width="11.5" height="56.7" fill="#fff" stroke="#000" stroke-width="1.2"/>
<circle cx="377.35" cy="416.4" r="1.1" fill="#000"/>
<line x1="407.5" y1="466.9" x2="407.5" y2="462.3" stroke="#000" stroke-width="1"/>
<line x1="404.45" y1="462.5" x2="411.05" y2="462.5" stroke="#000" stroke-width="1"/>
<rect x="401.1" y="466.9" width="13.3" height="17.6" fill="#000" stroke="none" stroke-width="0"/>
<line x1="425.5" y1="448.1" x2="425.5" y2="445.5" stroke="#000" stroke-width="1"/>
<line x1="422.45" y1="445.5" x2="429.05" y2="445.5" stroke="#000" stroke-width="1"/>
<rect x="419.9" y="448.7" width="11.7" height="35.8" fill="#fff" stroke="#000" stroke-width="1.2"/>
<circle cx="425.75" cy="439.6" r="1.1" fill="#000"/>
<text transform="translate(274.2,474.19) rotate(-90)" x="0" y="0" font-size="13.49" fill="#000" stroke="#000" stroke-width="0.06" textLength="83.41" lengthAdjust="spacingAndGlyphs">% of&#160; CD34- LSK</text>
<text x="312.77" y="499.3" font-size="11.73" font-weight="normal" fill="#000" stroke="#000" stroke-width="0.06" textLength="14.04" lengthAdjust="spacingAndGlyphs">G0</text>
<text x="361.09" y="499.3" font-size="11.73" font-weight="normal" fill="#000" stroke="#000" stroke-width="0.06" textLength="13.61" lengthAdjust="spacingAndGlyphs">G1</text>
<text x="400.98" y="499.3" font-size="11.73" font-weight="normal" fill="#000" stroke="#000" stroke-width="0.06" textLength="32.15" lengthAdjust="spacingAndGlyphs">SG2M</text>
<g filter="url(#soft)"><path fill="rgb(87,88,213)" fill-opacity="0.36" d="M114.5 335.5h1v1h-1zM121.2 291.8h1v1h-1zM118.3 347.6h1v1h-1zM122 341.5h1v1h-1zM115.6 300.8h1v1h-1zM97.6 309.7h1v1h-1zM116.7 324.3h1v1h-1zM113.3 329h1v1h-1zM114.7 275h1v1h-1zM115.5 317.2h1v1h-1zM115.6 282.3h1v1h-1zM115.7 307.2h1v1h-1zM111.1 311.5h1v1h-1zM102.5 335.7h1v1h-1zM107.7 271.4h1v1h-1zM103.1 314.8h1v1h-1zM98.8 331.7h1v1h-1zM101.6 292.8h1v1h-1zM94.8 332h1v1h-1zM111 345.9h1v1h-1zM99.3 324.2h1v1h-1zM108.4 291.5h1v1h-1zM96.4 299.3h1v1h-1zM98.7 272.7h1v1h-1zM110.8 283.8h1v1h-1zM96.7 291.3h1v1h-1zM120.5 317.5h1v1h-1zM98.3 327.7h1v1h-1zM121 314.8h1v1h-1zM111.6 270.1h1v1h-1zM98.8 302.7h1v1h-1zM94.2 314.4h1v1h-1zM97.8 319.1h1v1h-1zM91.4 309.7h1v1h-1zM99.6 316.7h1v1h-1zM109 275.5h1v1h-1zM102 301.5h1v1h-1zM90.5 305h1v1h-1zM90.8 344.5h1v1h-1zM106 276.5h1v1h-1zM121.7 309.3h1v1h-1zM107.4 278.7h1v1h-1zM119.4 310.5h1v1h-1zM104 289.1h1v1h-1zM102.5 273.6h1v1h-1zM92.8 346.9h1v1h-1zM108.4 315.2h1v1h-1zM91.7 312.3h1v1h-1zM110.3 316.1h1v1h-1zM102.1 271.9h1v1h-1zM111.5 304.5h1v1h-1zM108.5 305.3h1v1h-1zM89.7 331.7h1v1h-1zM104.8 303.4h1v1h-1zM108.6 348.6h1v1h-1zM89.7 334.3h1v1h-1zM104.2 302h1v1h-1zM87.3 343.3h1v1h-1zM91.5 333.2h1v1h-1zM96.1 343.7h1v1h-1zM110.2 288.5h1v1h-1zM91.9 315.4h1v1h-1zM71 352.3h1v1h-1zM71.4 351.1h1v1h-1zM110.8 306.6h1v1h-1zM120.8 270.4h1v1h-1zM95.2 286.7h1v1h-1zM74.9 347.4h1v1h-1zM54 352.4h1v1h-1zM105 280.7h1v1h-1zM93.5 295.5h1v1h-1zM94.7 296.8h1v1h-1zM105.3 338.2h1v1h-1zM103.3 281.5h1v1h-1zM99.1 346.9h1v1h-1zM107.7 350.8h1v1h-1zM103.3 284.8h1v1h-1zM91.9 298.6h1v1h-1zM95.6 339.1h1v1h-1zM120.4 273.2h1v1h-1zM119.7 280.1h1v1h-1zM68.5 348h1v1h-1zM105.8 327.5h1v1h-1zM91.2 352h1v1h-1zM103.4 327.5h1v1h-1zM112 286.4h1v1h-1zM59 293.1h1v1h-1zM102.5 285.5h1v1h-1zM68.9 345.3h1v1h-1zM99.6 348.4h1v1h-1zM111.7 288.1h1v1h-1zM120.5 277.2h1v1h-1zM88.6 325.6h1v1h-1zM81.5 350.2h1v1h-1zM121 272.8h1v1h-1zM106.9 344.6h1v1h-1zM95.3 339.5h1v1h-1zM88.4 320.7h1v1h-1zM90.3 318.2h1v1h-1zM90.7 278.3h1v1h-1zM55.2 316h1v1h-1zM104.3 328.4h1v1h-1zM102.2 345.8h1v1h-1zM93.8 350h1v1h-1zM101.1 288.9h1v1h-1zM101.7 287.3h1v1h-1zM104.7 339.4h1v1h-1zM80.4 342.1h1v1h-1zM90.1 351.4h1v1h-1zM120.8 278.2h1v1h-1zM84.1 346.6h1v1h-1zM101.9 346.2h1v1h-1zM97.2 288.5h1v1h-1zM106.3 343.6h1v1h-1zM86.1 340.9h1v1h-1zM97.5 286.5h1v1h-1zM91.6 281.6h1v1h-1zM78.8 341.4h1v1h-1zM87 336.4h1v1h-1zM100.4 339.1h1v1h-1zM98.6 350.6h1v1h-1zM90.3 284.2h1v1h-1zM95 350.3h1v1h-1zM69.1 342.5h1v1h-1zM96.2 341.3h1v1h-1zM62.1 280.2h1v1h-1zM87.7 324.4h1v1h-1zM105.6 349.6h1v1h-1zM96.8 351.4h1v1h-1zM97.3 351.2h1v1h-1zM90 318.1h1v1h-1zM79.7 348h1v1h-1zM96.3 349.1h1v1h-1zM86.9 352.4h1v1h-1zM76 341.6h1v1h-1zM82.3 349.2h1v1h-1zM96.2 348.3h1v1h-1zM71.7 340h1v1h-1zM70.6 339.7h1v1h-1zM103.8 347.4h1v1h-1zM98.4 288h1v1h-1zM90.3 300.2h1v1h-1zM72.9 346.9h1v1h-1zM86.8 347.8h1v1h-1zM105.1 342.4h1v1h-1zM105 342.9h1v1h-1zM103.3 351.9h1v1h-1zM102.5 340.1h1v1h-1zM105.1 351.3h1v1h-1zM91.1 283.4h1v1h-1zM88.7 306.6h1v1h-1zM98.9 342.9h1v1h-1zM89.9 271.1h1v1h-1zM103.8 348.5h1v1h-1zM91.8 273.2h1v1h-1zM89.7 279.5h1v1h-1zM88.1 351.8h1v1h-1zM101.9 340.2h1v1h-1zM77.2 344.1h1v1h-1zM85.2 351.6h1v1h-1zM71.7 346.1h1v1h-1zM81.3 348.6h1v1h-1zM90.7 280.8h1v1h-1zM89.1 340.7h1v1h-1zM89 340.8h1v1h-1zM77.1 343.1h1v1h-1zM85.5 336.4h1v1h-1zM103.7 350.3h1v1h-1zM99.3 341.4h1v1h-1zM86.1 350.8h1v1h-1zM78.9 346.1h1v1h-1zM87.1 340.8h1v1h-1zM98.6 342h1v1h-1zM87.3 339.7h1v1h-1zM86.3 348.8h1v1h-1zM86.3 349h1v1h-1zM56.2 314.8h1v1h-1zM86.7 330.3h1v1h-1zM89.9 273h1v1h-1zM91.6 273h1v1h-1zM91.9 272.2h1v1h-1zM86.5 320.3h1v1h-1zM75.3 339.2h1v1h-1zM58.4 297.5h1v1h-1zM87 276h1v1h-1zM74 343h1v1h-1zM90.2 300.4h1v1h-1zM86.6 326.3h1v1h-1zM88.7 286.9h1v1h-1zM88.4 287.7h1v1h-1zM87.3 307.3h1v1h-1zM74.8 344.9h1v1h-1zM89.1 281.5h1v1h-1zM73.1 343.5h1v1h-1zM89.1 283.6h1v1h-1zM80 343.1h1v1h-1zM80.6 343.5h1v1h-1zM81.3 346.4h1v1h-1zM84.4 336.2h1v1h-1zM53.3 348.4h1v1h-1zM72.2 344.6h1v1h-1zM88.1 273h1v1h-1zM81.7 345.9h1v1h-1zM86.9 318.3h1v1h-1zM74.1 344.1h1v1h-1zM89.1 299.1h1v1h-1zM70.2 285h1v1h-1zM68.2 341.7h1v1h-1zM88.2 316.1h1v1h-1zM80.8 344.1h1v1h-1zM81.2 345.5h1v1h-1zM85.4 328.7h1v1h-1zM85.8 330.9h1v1h-1zM61.6 283.4h1v1h-1zM61.7 283.3h1v1h-1zM89.1 299.4h1v1h-1zM85.5 329.4h1v1h-1zM85.7 325.9h1v1h-1zM60.6 287.2h1v1h-1zM87.7 312.4h1v1h-1zM72.1 284.3h1v1h-1zM87.3 316.5h1v1h-1zM71.9 282.1h1v1h-1zM78.1 338.5h1v1h-1zM58.7 301.9h1v1h-1zM86.2 306.2h1v1h-1zM86.3 306.2h1v1h-1zM87.2 301.2h1v1h-1zM54.9 336.5h1v1h-1zM86.4 279.2h1v1h-1zM71.6 278.7h1v1h-1zM71.8 278.3h1v1h-1zM89.4 294.1h1v1h-1zM89.3 293.5h1v1h-1zM89.5 293.5h1v1h-1zM67.4 338.5h1v1h-1zM68.1 339h1v1h-1zM70.1 301.1h1v1h-1zM71 276.5h1v1h-1zM73 280.7h1v1h-1zM69.2 301.4h1v1h-1zM56.9 306.6h1v1h-1zM57 306.9h1v1h-1zM55 335.6h1v1h-1zM54 343.4h1v1h-1zM56.2 329.9h1v1h-1zM61.8 285.9h1v1h-1zM70.7 280.5h1v1h-1zM70.6 300.2h1v1h-1zM53.9 344.4h1v1h-1zM54.6 332.2h1v1h-1zM70 282.1h1v1h-1zM88.1 313.3h1v1h-1zM87.2 313.7h1v1h-1zM84.3 321.1h1v1h-1zM88.8 294.2h1v1h-1zM71.5 274.1h1v1h-1zM60.9 288.8h1v1h-1zM68.3 301.6h1v1h-1zM87.2 315.2h1v1h-1zM84.9 324h1v1h-1zM86.5 316.9h1v1h-1zM71.7 286.9h1v1h-1zM63.3 278.6h1v1h-1zM84.3 321h1v1h-1zM86.5 287h1v1h-1zM86.4 286.8h1v1h-1zM85 327.3h1v1h-1zM64 273.1h1v1h-1zM56.4 307.8h1v1h-1zM86.7 280.7h1v1h-1zM69.5 274.3h1v1h-1zM69.6 279.4h1v1h-1zM84.4 325.1h1v1h-1zM57 317.6h1v1h-1zM86.3 312.1h1v1h-1zM64.3 274.1h1v1h-1zM64.6 274.6h1v1h-1zM69.3 281h1v1h-1zM85.7 275.1h1v1h-1zM64.7 273.8h1v1h-1zM82.6 336.9h1v1h-1zM84.9 320.1h1v1h-1zM54.3 339.3h1v1h-1zM68.2 304.1h1v1h-1zM56.9 319.1h1v1h-1zM56.9 319.8h1v1h-1zM86.9 315.3h1v1h-1zM83.9 334h1v1h-1z"/>
<path fill="rgb(70,74,208)" fill-opacity="0.39" d="M87.4 294.6h1v1h-1zM70.4 287.6h1v1h-1zM56.7 318.3h1v1h-1zM88.2 289.3h1v1h-1zM85.6 305.8h1v1h-1zM85.8 305.2h1v1h-1zM72.5 270.2h1v1h-1zM72.9 271.1h1v1h-1zM66.3 341.9h1v1h-1zM72.2 298.6h1v1h-1zM84.2 277.5h1v1h-1zM85.5 279.5h1v1h-1zM68.2 298.2h1v1h-1zM85.5 309.3h1v1h-1zM84.3 318.3h1v1h-1zM86.5 301.7h1v1h-1zM70.3 270.2h1v1h-1zM71.1 270.8h1v1h-1zM73.1 287.1h1v1h-1zM63.8 272h1v1h-1zM63.4 272h1v1h-1zM71.8 270.7h1v1h-1zM71.8 271.1h1v1h-1zM75.1 279.4h1v1h-1zM74.9 279.7h1v1h-1zM71.6 272h1v1h-1zM64.9 275.7h1v1h-1zM70.5 336.8h1v1h-1zM71.2 336.8h1v1h-1zM70.7 336.5h1v1h-1zM68.4 282.9h1v1h-1zM86.4 300.3h1v1h-1zM86.9 300.5h1v1h-1zM70.2 289.4h1v1h-1zM70.6 289.4h1v1h-1zM88.5 291.6h1v1h-1zM88.4 291.5h1v1h-1zM54.8 340.1h1v1h-1zM55 340.8h1v1h-1zM54.2 340.6h1v1h-1zM70.1 326.4h1v1h-1zM70 327h1v1h-1zM71 297.5h1v1h-1zM85.9 315.9h1v1h-1zM85.3 315.7h1v1h-1zM70 272.9h1v1h-1zM63.9 270.2h1v1h-1zM63.4 270.8h1v1h-1zM69.7 335.3h1v1h-1zM72.5 271.3h1v1h-1zM85.9 286.5h1v1h-1zM85.8 286.7h1v1h-1zM71 294.1h1v1h-1zM72.8 275.6h1v1h-1zM87 284.8h1v1h-1zM85.8 304.5h1v1h-1zM73 277h1v1h-1zM73 276.6h1v1h-1zM68.5 327.8h1v1h-1zM85 308.8h1v1h-1zM69.2 298h1v1h-1zM70.1 297.6h1v1h-1zM71.9 290.5h1v1h-1zM87.2 282.2h1v1h-1zM74.9 278.8h1v1h-1zM71.4 291.2h1v1h-1zM86.8 295.9h1v1h-1zM86.6 295.3h1v1h-1zM86.2 296.7h1v1h-1zM72 301.7h1v1h-1zM86.5 298.4h1v1h-1zM87.1 298.3h1v1h-1zM70.1 291.1h1v1h-1zM73.2 271.6h1v1h-1zM69.6 325.5h1v1h-1zM70 272.1h1v1h-1zM85.5 314.5h1v1h-1zM85.9 314.9h1v1h-1zM85.6 273.3h1v1h-1zM68.2 278.5h1v1h-1zM85.5 313.3h1v1h-1zM81.8 336.7h1v1h-1zM87 289.1h1v1h-1zM67.9 300.3h1v1h-1zM64.5 352h1v1h-1zM69.3 315h1v1h-1zM65.5 348.9h1v1h-1zM69.3 334.4h1v1h-1zM70 334.4h1v1h-1zM68.8 325h1v1h-1zM68.4 324.6h1v1h-1zM88.1 293.3h1v1h-1zM83.9 324.1h1v1h-1zM84.2 288.4h1v1h-1zM74.9 271.4h1v1h-1zM83.4 320.5h1v1h-1zM64.8 277h1v1h-1zM85.8 310.6h1v1h-1zM69.2 280.1h1v1h-1zM69.7 313.4h1v1h-1zM69.5 287.3h1v1h-1zM69.5 288h1v1h-1zM86.1 270.2h1v1h-1zM68.5 277.9h1v1h-1zM70.9 294.4h1v1h-1zM66.3 338.4h1v1h-1zM69.9 333.3h1v1h-1zM73.9 285.8h1v1h-1zM70.1 324.4h1v1h-1zM69.9 312.6h1v1h-1zM70 293.9h1v1h-1zM71.1 316.3h1v1h-1zM70.7 317h1v1h-1zM68.5 275.6h1v1h-1zM68.8 275.2h1v1h-1zM70.9 296.5h1v1h-1zM69.1 329h1v1h-1zM84.2 331.5h1v1h-1zM83.7 331.7h1v1h-1zM83.3 331.7h1v1h-1zM84.3 306h1v1h-1zM75.9 271.4h1v1h-1zM75.7 271.7h1v1h-1zM75.4 271.2h1v1h-1zM74.1 272.2h1v1h-1zM85.2 312h1v1h-1zM83.2 307.2h1v1h-1zM82.3 335.9h1v1h-1zM83 335.2h1v1h-1zM74.1 282.8h1v1h-1zM74 282.6h1v1h-1zM73.9 283h1v1h-1zM74.1 282.6h1v1h-1zM65.1 278.4h1v1h-1zM64.8 279.8h1v1h-1zM65.2 279.6h1v1h-1zM69.6 289.3h1v1h-1zM70.1 317.4h1v1h-1zM70.7 313.7h1v1h-1zM71.6 297h1v1h-1zM73.7 273.8h1v1h-1zM73.3 273.3h1v1h-1zM67.5 283.8h1v1h-1zM68.1 283.5h1v1h-1zM81.2 337h1v1h-1zM80.5 336.3h1v1h-1zM73.2 288.4h1v1h-1zM72.6 288.6h1v1h-1zM69.6 311.9h1v1h-1zM69.5 311.6h1v1h-1zM73.4 283.2h1v1h-1zM74.1 283.2h1v1h-1zM84.3 279.7h1v1h-1zM87.7 290.4h1v1h-1zM88 290.6h1v1h-1zM87.7 290.4h1v1h-1zM79 270.5h1v1h-1zM79.1 270.2h1v1h-1zM70.9 325.1h1v1h-1zM68.6 271.1h1v1h-1zM57.9 313.9h1v1h-1zM57.7 313.2h1v1h-1zM54.7 346.6h1v1h-1zM57.1 329.8h1v1h-1zM69.1 322.3h1v1h-1zM71 335.5h1v1h-1zM70.5 335.2h1v1h-1zM70.1 294.4h1v1h-1zM70.1 322.5h1v1h-1zM69.5 322.7h1v1h-1zM83.7 325h1v1h-1zM75.2 277.8h1v1h-1zM68.7 314.1h1v1h-1zM69.8 318.9h1v1h-1zM85.4 272.7h1v1h-1zM63.8 282.3h1v1h-1zM58 312.7h1v1h-1zM73.9 274.7h1v1h-1zM68.2 272.6h1v1h-1zM68.5 272.7h1v1h-1zM69.3 319.1h1v1h-1zM70.4 318.5h1v1h-1zM74.3 338.1h1v1h-1zM62.9 287.1h1v1h-1zM64.8 271.5h1v1h-1zM65 272h1v1h-1zM74.1 276.8h1v1h-1zM73.8 276.6h1v1h-1zM74.2 276.6h1v1h-1zM73.8 276.8h1v1h-1zM70.1 333.1h1v1h-1zM71.7 295.2h1v1h-1zM56.9 324.6h1v1h-1zM68.5 271.3h1v1h-1zM86.1 302.4h1v1h-1zM85.6 302.6h1v1h-1zM86.1 271.3h1v1h-1zM69.3 295.6h1v1h-1zM69.5 295.2h1v1h-1zM65.4 346.3h1v1h-1zM65.5 346.7h1v1h-1zM70 328.1h1v1h-1zM84.6 310.1h1v1h-1zM73.1 298.6h1v1h-1zM88.2 292.7h1v1h-1zM69.2 315.5h1v1h-1zM57.1 327.4h1v1h-1zM56.4 327.3h1v1h-1zM83.9 309h1v1h-1zM69.1 322.1h1v1h-1zM68.3 322h1v1h-1zM83.7 270.1h1v1h-1zM54.6 343.8h1v1h-1zM63.5 284h1v1h-1zM72.3 289.5h1v1h-1zM83.1 334.7h1v1h-1zM82.3 334.4h1v1h-1zM71.1 320.2h1v1h-1zM67.3 331.3h1v1h-1zM67.4 332h1v1h-1zM84.2 327.1h1v1h-1zM84 326.1h1v1h-1zM71.7 315.6h1v1h-1zM71.7 316.1h1v1h-1zM67.2 273.8h1v1h-1zM67.4 275.1h1v1h-1zM67.2 274.2h1v1h-1zM68.2 296.7h1v1h-1zM68.8 296.7h1v1h-1zM68.4 296.5h1v1h-1zM55.5 332.3h1v1h-1zM72.6 336.6h1v1h-1zM70.1 305.8h1v1h-1zM70.8 304.7h1v1h-1zM71.1 304.9h1v1h-1zM83.9 278.4h1v1h-1zM86.2 301.5h1v1h-1zM70.2 321.2h1v1h-1zM70.5 321.5h1v1h-1zM71.2 314.8h1v1h-1zM75.1 272.7h1v1h-1zM79.9 270.9h1v1h-1zM84.9 305.1h1v1h-1zM84.8 290h1v1h-1zM84.6 289.6h1v1h-1zM67.8 278.1h1v1h-1zM68.2 329.8h1v1h-1zM58 310.6h1v1h-1zM87.4 291.1h1v1h-1zM67.7 324.2h1v1h-1zM69 331h1v1h-1zM66.3 272.7h1v1h-1zM66.4 272.4h1v1h-1zM69.2 320.6h1v1h-1zM56.7 326.6h1v1h-1zM83.6 318.6h1v1h-1zM67.3 280.3h1v1h-1zM67.4 280.4h1v1h-1zM68.1 280.1h1v1h-1zM85.2 296.2h1v1h-1zM86.2 296.3h1v1h-1zM64.8 270.3h1v1h-1zM85.6 281.2h1v1h-1zM86 281.6h1v1h-1zM68.3 312.3h1v1h-1zM70.7 323.2h1v1h-1zM67.5 272.5h1v1h-1zM68.2 272.8h1v1h-1zM67.6 272.9h1v1h-1zM72 313.7h1v1h-1zM71.2 313.6h1v1h-1zM71.7 314h1v1h-1zM56.1 333.6h1v1h-1zM85.7 298.9h1v1h-1zM80.7 271h1v1h-1zM84.4 312.2h1v1h-1zM67.4 281.7h1v1h-1zM67.6 281.3h1v1h-1zM75.2 276.2h1v1h-1zM71.9 327.7h1v1h-1zM73.1 296.3h1v1h-1zM85.9 297.4h1v1h-1zM85.7 298h1v1h-1zM71.1 328.5h1v1h-1zM67.3 275.5h1v1h-1zM67.5 275.4h1v1h-1zM74.6 284.2h1v1h-1zM70.5 333.7h1v1h-1zM63.3 285.5h1v1h-1zM64.1 285.7h1v1h-1zM64.1 285.9h1v1h-1zM83.2 322.2h1v1h-1zM83.9 287.4h1v1h-1zM86 284.1h1v1h-1zM86 284.3h1v1h-1zM81.3 270.5h1v1h-1zM82 270.2h1v1h-1zM81.9 270.9h1v1h-1zM82.6 332.3h1v1h-1zM86.8 290.1h1v1h-1zM57.3 317.7h1v1h-1zM57.6 317.8h1v1h-1zM83.7 316.8h1v1h-1zM83.9 317h1v1h-1zM77.5 271.4h1v1h-1zM74 287.3h1v1h-1zM73.8 288h1v1h-1zM66.8 275.7h1v1h-1zM66.9 275.3h1v1h-1zM67.7 278h1v1h-1zM67.8 277.7h1v1h-1zM67.9 277.9h1v1h-1zM68.3 319.7h1v1h-1zM68.3 319.1h1v1h-1zM82.5 321.7h1v1h-1zM70 331.4h1v1h-1zM67.7 323.2h1v1h-1zM71.9 335.6h1v1h-1zM83.4 305.6h1v1h-1zM66.6 284.8h1v1h-1zM66.9 284.7h1v1h-1zM66.6 284.8h1v1h-1zM83.5 316h1v1h-1zM81.7 335.8h1v1h-1zM83.4 276.7h1v1h-1zM83.9 276.6h1v1h-1zM83.9 276.4h1v1h-1zM84.6 271.1h1v1h-1zM84.4 270.6h1v1h-1zM84.2 271h1v1h-1zM84.4 270.2h1v1h-1zM74.7 283.7h1v1h-1zM75 283.8h1v1h-1zM74.3 283.1h1v1h-1zM66 279.1h1v1h-1zM65.3 278.6h1v1h-1zM74.9 275.4h1v1h-1zM75.1 274.4h1v1h-1zM75 274.4h1v1h-1zM68.8 305.6h1v1h-1zM83.8 279.6h1v1h-1zM57.2 309.3h1v1h-1zM65.4 276.1h1v1h-1zM65.8 277h1v1h-1zM71.5 318.1h1v1h-1zM71.7 317.8h1v1h-1zM75.5 272.8h1v1h-1zM72.9 292.2h1v1h-1zM72.7 292.9h1v1h-1zM72.9 295.6h1v1h-1zM72.8 295.7h1v1h-1zM84.8 273.3h1v1h-1zM84.6 273.9h1v1h-1zM82.7 270.4h1v1h-1zM68.7 296.1h1v1h-1zM67.3 277.1h1v1h-1zM82.2 323.3h1v1h-1zM83.4 315h1v1h-1zM85 310.5h1v1h-1zM84.3 310.3h1v1h-1zM84.2 310.2h1v1h-1zM68.7 287.2h1v1h-1zM60.8 296.6h1v1h-1zM56.1 350.9h1v1h-1zM66.2 271.7h1v1h-1zM67 271.2h1v1h-1zM70.1 329.5h1v1h-1zM84.3 303.8h1v1h-1zM72.7 293.6h1v1h-1zM72.3 294h1v1h-1zM64.7 281.7h1v1h-1zM64.6 281.1h1v1h-1zM64.3 281.4h1v1h-1zM65 281.1h1v1h-1zM71.3 321h1v1h-1zM62.4 287.6h1v1h-1zM84.2 281h1v1h-1zM84.8 281h1v1h-1zM72.4 294.5h1v1h-1zM72.9 314.4h1v1h-1zM58 308.6h1v1h-1zM57.3 308.5h1v1h-1zM68.1 269.7h1v1h-1zM68.1 269.4h1v1h-1zM67.5 269.9h1v1h-1zM66.4 280.9h1v1h-1zM67.1 280.4h1v1h-1zM65.4 280.5h1v1h-1zM84.4 311.7h1v1h-1zM85.1 311.5h1v1h-1zM72 321.5h1v1h-1zM71.6 321.1h1v1h-1zM65.9 277.5h1v1h-1zM65.4 277.8h1v1h-1zM66.2 277.7h1v1h-1zM65.9 277.9h1v1h-1zM85.7 283.6h1v1h-1zM85.6 283.2h1v1h-1zM86 283.9h1v1h-1zM86.8 292.8h1v1h-1zM86.3 292.4h1v1h-1zM82.4 307.1h1v1h-1zM67.8 287h1v1h-1zM71.1 333.1h1v1h-1zM72 326.1h1v1h-1zM76.5 278.9h1v1h-1zM72.1 303.9h1v1h-1zM66.4 284.1h1v1h-1zM76 275.9h1v1h-1zM85.4 290.7h1v1h-1zM73.1 302h1v1h-1zM83.4 313.4h1v1h-1zM66.8 336.1h1v1h-1zM85.3 293.3h1v1h-1zM69.7 331h1v1h-1zM70 330.5h1v1h-1zM69.6 330.9h1v1h-1zM69.9 330.3h1v1h-1zM76.2 274.3h1v1h-1zM71.6 310.6h1v1h-1zM73.3 288.5h1v1h-1zM59.6 303.2h1v1h-1zM59.6 304h1v1h-1zM65.1 284.7h1v1h-1zM75.5 273.3h1v1h-1zM75.8 273.7h1v1h-1zM75.2 281.7h1v1h-1zM76.2 281.6h1v1h-1zM75.8 282h1v1h-1zM83 308.9h1v1h-1zM66.7 276.7h1v1h-1zM66.2 270.2h1v1h-1zM65.7 270.4h1v1h-1zM66.6 277.6h1v1h-1zM70.8 309.5h1v1h-1zM75.4 284.7h1v1h-1zM78.5 336.9h1v1h-1zM78.9 336.3h1v1h-1zM86.9 291.1h1v1h-1zM72.7 313.6h1v1h-1zM81 335.6h1v1h-1zM82 334.9h1v1h-1zM81.2 334.9h1v1h-1zM81.7 334.8h1v1h-1zM82.4 328.6h1v1h-1zM64.3 283.3h1v1h-1zM64.9 283.6h1v1h-1zM64.5 283.6h1v1h-1zM65.1 284.1h1v1h-1zM76.8 277.5h1v1h-1zM76.8 277.7h1v1h-1zM77 277.7h1v1h-1zM64.3 282.5h1v1h-1zM79.2 271.9h1v1h-1zM78.6 271.9h1v1h-1zM79 271.3h1v1h-1zM68.2 291.1h1v1h-1zM84.2 272.5h1v1h-1zM60.7 297.9h1v1h-1zM66.9 282.3h1v1h-1zM66.3 282.3h1v1h-1zM73.9 336.2h1v1h-1zM74 336.6h1v1h-1zM65.3 284.1h1v1h-1zM84.7 271.5h1v1h-1zM85.1 272h1v1h-1zM85.2 271.4h1v1h-1zM84.8 272h1v1h-1zM66.5 270.8h1v1h-1zM63.4 286.2h1v1h-1zM84.1 304.2h1v1h-1zM71.7 334.5h1v1h-1zM83.2 320h1v1h-1zM68.6 288.9h1v1h-1zM69 289h1v1h-1zM76.8 277h1v1h-1zM76.2 276.3h1v1h-1zM76.3 276.2h1v1h-1zM76.5 276.4h1v1h-1zM70.5 330h1v1h-1zM70.8 329.3h1v1h-1zM70.4 329.1h1v1h-1zM70.6 330.1h1v1h-1zM60.7 298.5h1v1h-1zM84.8 302.7h1v1h-1zM84.6 302.6h1v1h-1zM84.3 302.4h1v1h-1zM67.5 305.1h1v1h-1zM68.7 292.8h1v1h-1zM74.9 286.4h1v1h-1zM74.9 286.8h1v1h-1zM75.1 286.2h1v1h-1zM71.1 331.5h1v1h-1zM65.8 281.7h1v1h-1zM65.2 281.9h1v1h-1zM71.4 324.2h1v1h-1zM71.6 324.6h1v1h-1zM83.3 274.1h1v1h-1zM83.7 274.8h1v1h-1zM65.9 269.6h1v1h-1zM66.1 269.9h1v1h-1zM65.8 269.7h1v1h-1zM85.2 296.1h1v1h-1zM74.1 314.9h1v1h-1zM76.9 273.8h1v1h-1zM76.6 273.2h1v1h-1zM77 273.4h1v1h-1zM76.5 273.8h1v1h-1zM82.3 329.3h1v1h-1zM65.2 285.6h1v1h-1zM76.9 281h1v1h-1zM76.6 280.5h1v1h-1zM73.4 289.6h1v1h-1zM71.8 323.4h1v1h-1zM71.5 323.6h1v1h-1zM84.6 297.8h1v1h-1zM76.4 284.5h1v1h-1zM76.3 284.8h1v1h-1zM76.3 284.9h1v1h-1zM76.8 284.5h1v1h-1zM81.5 332.3h1v1h-1zM81.6 332.5h1v1h-1zM77.3 278.7h1v1h-1zM67.3 314.9h1v1h-1zM66.5 301h1v1h-1zM77.7 279.9h1v1h-1zM77.5 280h1v1h-1zM77.3 279.3h1v1h-1zM82.5 331h1v1h-1zM82.7 330.4h1v1h-1zM82.6 330.7h1v1h-1zM61.8 290.4h1v1h-1zM61.7 290.7h1v1h-1zM61.9 290.9h1v1h-1zM71 306.7h1v1h-1zM70.6 306.7h1v1h-1zM80.1 272h1v1h-1zM66.7 269.3h1v1h-1zM73.1 312.9h1v1h-1zM72.2 312.7h1v1h-1zM77.7 276.5h1v1h-1zM77.6 276.3h1v1h-1zM72.7 335.9h1v1h-1zM65.2 349.5h1v1h-1zM77.9 272.5h1v1h-1zM78 272.6h1v1h-1zM73.4 315.2h1v1h-1zM77.3 274.5h1v1h-1zM74 296.7h1v1h-1zM73.8 296.9h1v1h-1zM83.8 280.3h1v1h-1zM83.6 310.2h1v1h-1zM78.6 275.3h1v1h-1zM78.3 275.7h1v1h-1zM84.4 281.1h1v1h-1zM84.3 281.2h1v1h-1zM85 281.8h1v1h-1zM85 298.7h1v1h-1zM85.1 298.8h1v1h-1zM84.7 298.3h1v1h-1zM70.5 330.5h1v1h-1zM65.6 283h1v1h-1zM66.1 283h1v1h-1zM85.1 284.9h1v1h-1zM83 277.8h1v1h-1zM82.4 277.5h1v1h-1zM77.8 278h1v1h-1zM66.1 342.5h1v1h-1zM85.4 292.8h1v1h-1zM58.3 306.3h1v1h-1zM83.7 271.6h1v1h-1zM83 326.4h1v1h-1zM82.8 326.1h1v1h-1zM82.4 326.3h1v1h-1zM82.3 309.9h1v1h-1zM81.2 271.6h1v1h-1zM81 271.8h1v1h-1zM63.1 288.9h1v1h-1zM62.3 288.6h1v1h-1zM63.1 288.1h1v1h-1zM63.2 288.9h1v1h-1zM84.9 299.4h1v1h-1zM83.1 325.2h1v1h-1zM82.9 325.4h1v1h-1zM84.7 295h1v1h-1zM84.5 294.6h1v1h-1zM83.9 311.7h1v1h-1zM83.5 312.1h1v1h-1zM83.7 311.6h1v1h-1zM85.3 291.9h1v1h-1zM85.4 291.8h1v1h-1zM85.6 291.6h1v1h-1zM85.5 291.7h1v1h-1zM82.4 271.2h1v1h-1zM71.3 304.4h1v1h-1zM72.2 304.4h1v1h-1zM82.4 318.8h1v1h-1zM83.1 319.1h1v1h-1zM82.4 318.4h1v1h-1zM69.1 307h1v1h-1zM80 335.6h1v1h-1zM79.6 335.5h1v1h-1zM80.3 334.4h1v1h-1zM80.5 334.6h1v1h-1zM72.9 303h1v1h-1zM83.8 285.9h1v1h-1zM83.5 285.4h1v1h-1zM83.4 285.3h1v1h-1zM83.5 285.5h1v1h-1zM83.4 285.9h1v1h-1zM69.4 308h1v1h-1zM69.7 307.9h1v1h-1zM78.7 279.8h1v1h-1zM80.3 334.1h1v1h-1zM81.1 333.3h1v1h-1zM82.9 288.2h1v1h-1zM82.8 288.5h1v1h-1zM82.4 306.1h1v1h-1zM83.2 305.4h1v1h-1zM67.8 315.2h1v1h-1zM83.3 273.9h1v1h-1zM66.5 286.5h1v1h-1zM70.3 308.3h1v1h-1zM70.9 308.2h1v1h-1zM70.3 308.9h1v1h-1zM72.9 321.5h1v1h-1zM66.8 299.4h1v1h-1zM69.6 308.8h1v1h-1zM69.6 308.2h1v1h-1zM74.1 299.1h1v1h-1zM74.1 298.9h1v1h-1zM76.6 282.2h1v1h-1zM77 282.2h1v1h-1zM77.2 282.8h1v1h-1zM60.8 301.1h1v1h-1zM60.5 300.9h1v1h-1zM81.1 332.6h1v1h-1zM80.5 332.5h1v1h-1zM74.1 290.6h1v1h-1zM56.1 349.8h1v1h-1zM82.5 276.5h1v1h-1zM82.3 276.3h1v1h-1z"/>
<path fill="rgb(55,64,203)" fill-opacity="0.43" d="M82.2 287.3h1v1h-1zM79.1 274.5h1v1h-1zM79.6 275.4h1v1h-1zM80.2 275.1h1v1h-1zM77.6 280.8h1v1h-1zM72.4 327h1v1h-1zM70.4 307.5h1v1h-1zM72.7 327.5h1v1h-1zM72.4 311.8h1v1h-1zM76.8 281.7h1v1h-1zM76.9 281.7h1v1h-1zM77.2 281.4h1v1h-1zM73.5 294.2h1v1h-1zM79.7 281h1v1h-1zM67 335.1h1v1h-1zM67.1 335.8h1v1h-1zM66.8 335.4h1v1h-1zM78.3 277.4h1v1h-1zM79 278.1h1v1h-1zM81.3 323.2h1v1h-1zM81.9 324.1h1v1h-1zM82.7 317h1v1h-1zM83.5 272.1h1v1h-1zM82.7 317.7h1v1h-1zM83.2 317.5h1v1h-1zM82.3 317.6h1v1h-1zM82.3 317.8h1v1h-1zM72.3 317.6h1v1h-1zM73.2 317.2h1v1h-1zM82.5 314.3h1v1h-1zM82.6 314.4h1v1h-1zM83.1 314.8h1v1h-1zM66.5 298.5h1v1h-1zM67.2 298.3h1v1h-1zM61.8 292.2h1v1h-1zM61.6 292.6h1v1h-1zM65.1 286.3h1v1h-1zM64.9 287.1h1v1h-1zM67 332.1h1v1h-1zM81.3 331.4h1v1h-1zM81.8 331.5h1v1h-1zM84.9 283.9h1v1h-1zM84.6 283.8h1v1h-1zM84.2 284h1v1h-1zM72 332.8h1v1h-1zM78.3 284.4h1v1h-1zM79.2 284.5h1v1h-1zM61.6 291.1h1v1h-1zM61.8 292.1h1v1h-1zM61.4 292h1v1h-1zM68.1 288h1v1h-1zM67.5 288.1h1v1h-1zM67.6 287.6h1v1h-1zM67.7 287.5h1v1h-1zM74.1 299.9h1v1h-1zM78.6 272.2h1v1h-1zM67.8 320.1h1v1h-1zM67.5 295.4h1v1h-1zM82.5 280.5h1v1h-1zM73.7 293.5h1v1h-1zM77.9 282.5h1v1h-1zM77.7 283h1v1h-1zM76.7 285.2h1v1h-1zM66.6 297.3h1v1h-1zM66.6 297.1h1v1h-1zM77.7 336.8h1v1h-1zM77.7 336.5h1v1h-1zM73.6 291.5h1v1h-1zM73.2 292h1v1h-1zM74.1 291.5h1v1h-1zM61.2 294.3h1v1h-1zM82.5 313.3h1v1h-1zM83.1 275.6h1v1h-1zM82.3 275.7h1v1h-1zM80.1 282h1v1h-1zM79.3 281.4h1v1h-1zM73.1 319.8h1v1h-1zM73.1 319.2h1v1h-1zM73 319.6h1v1h-1zM72.3 319.9h1v1h-1zM72.4 319.1h1v1h-1zM78.6 282.5h1v1h-1zM81.9 308.8h1v1h-1zM78.4 281.7h1v1h-1zM78.5 282h1v1h-1zM78.9 281.6h1v1h-1zM81.7 321.7h1v1h-1zM82.1 322.1h1v1h-1zM81.5 321.2h1v1h-1zM65.5 286.3h1v1h-1zM65.3 286.9h1v1h-1zM78.9 273.8h1v1h-1zM78.6 273.6h1v1h-1zM78.3 273.4h1v1h-1zM78.6 274.1h1v1h-1zM74.8 336.4h1v1h-1zM75.1 336.7h1v1h-1zM74.2 336.5h1v1h-1zM82.8 310.5h1v1h-1zM82.9 310.8h1v1h-1zM83 310.4h1v1h-1zM81.4 280.2h1v1h-1zM82.2 324.4h1v1h-1zM81.3 324.8h1v1h-1zM80.2 279.7h1v1h-1zM80.5 279.1h1v1h-1zM80.3 279.8h1v1h-1zM78.2 281.7h1v1h-1zM78.2 281.5h1v1h-1zM71.9 305.3h1v1h-1zM74.8 314.2h1v1h-1zM80.6 332.1h1v1h-1zM82.8 305.1h1v1h-1zM82.8 304.8h1v1h-1zM82.9 304.5h1v1h-1zM83 286.9h1v1h-1zM83.1 286.1h1v1h-1zM83.9 302.3h1v1h-1zM83.6 302.4h1v1h-1zM83.9 302.6h1v1h-1zM80.3 276h1v1h-1zM81.8 278.7h1v1h-1zM81.6 278.3h1v1h-1zM81.8 278.6h1v1h-1zM69.2 310h1v1h-1zM68.3 309.9h1v1h-1zM68.7 309.2h1v1h-1zM58.1 329.4h1v1h-1zM74.9 315.4h1v1h-1zM74.7 315.6h1v1h-1zM82.3 312.3h1v1h-1zM83 313.1h1v1h-1zM83.2 289.7h1v1h-1zM84 284.3h1v1h-1zM67.1 327.8h1v1h-1zM66.4 327.9h1v1h-1zM64.9 348.7h1v1h-1zM64.2 348.5h1v1h-1zM72 332h1v1h-1zM74 316.7h1v1h-1zM73.9 316.8h1v1h-1zM73.5 316.9h1v1h-1zM83.2 290.3h1v1h-1zM79.3 277.3h1v1h-1zM79.4 277.5h1v1h-1zM79.9 277.8h1v1h-1zM71.8 330.5h1v1h-1zM79.9 272.9h1v1h-1zM63.9 351.5h1v1h-1zM63.2 351.5h1v1h-1zM80.1 282.4h1v1h-1zM79.6 282.8h1v1h-1zM67.5 312.3h1v1h-1zM71.6 308.6h1v1h-1zM72.2 309h1v1h-1zM62.5 352.3h1v1h-1zM81.6 328.2h1v1h-1zM81.6 328.4h1v1h-1zM84.8 291.6h1v1h-1zM79.3 279.1h1v1h-1zM79.6 278.7h1v1h-1zM82.7 272.6h1v1h-1zM82.4 272.1h1v1h-1zM83.7 296.7h1v1h-1zM67.2 334.9h1v1h-1zM66.9 334.8h1v1h-1zM81.9 320.8h1v1h-1zM81.9 276.9h1v1h-1zM72.3 335h1v1h-1zM72.4 335.1h1v1h-1zM72.2 310.6h1v1h-1zM72.3 311h1v1h-1zM79.2 283.7h1v1h-1zM79.2 284.1h1v1h-1zM82.9 274.9h1v1h-1zM83.2 274.9h1v1h-1zM81.7 278.1h1v1h-1zM81.6 277.8h1v1h-1zM79.1 285.9h1v1h-1zM80.9 272.7h1v1h-1zM73.1 303.1h1v1h-1zM73.1 303.5h1v1h-1zM73 303.9h1v1h-1zM68.5 307.9h1v1h-1zM82.1 330.7h1v1h-1zM82.2 330.7h1v1h-1zM81.4 275.4h1v1h-1zM81.2 275.2h1v1h-1zM79.6 273.6h1v1h-1zM79.4 273.2h1v1h-1zM80.1 273.8h1v1h-1zM84 295.6h1v1h-1zM83.8 296h1v1h-1zM73.1 328.4h1v1h-1zM73 328.8h1v1h-1zM60.9 302.1h1v1h-1zM61 301.7h1v1h-1zM60.9 301.6h1v1h-1zM81.6 309.6h1v1h-1zM82 309.7h1v1h-1zM72.1 307.9h1v1h-1zM67.8 318.5h1v1h-1zM56.8 351.2h1v1h-1zM84.5 292.1h1v1h-1zM84.8 292.9h1v1h-1zM82 329.8h1v1h-1zM82.2 329.1h1v1h-1zM81.9 329.7h1v1h-1zM81.5 329.7h1v1h-1zM81.8 329.4h1v1h-1zM83.9 297.4h1v1h-1zM81.6 272.4h1v1h-1zM81.8 272.3h1v1h-1zM81.9 272.4h1v1h-1zM81.4 306.5h1v1h-1zM81.3 306.3h1v1h-1zM81.8 306.4h1v1h-1zM67.3 305.4h1v1h-1zM80.6 274.4h1v1h-1zM80.6 275.1h1v1h-1zM83.2 273.8h1v1h-1zM81.3 326h1v1h-1zM81.7 325.5h1v1h-1zM82.2 326h1v1h-1zM81.8 325.3h1v1h-1zM74.6 295.5h1v1h-1zM74.3 295.3h1v1h-1zM80.7 278.7h1v1h-1zM80.3 278.5h1v1h-1zM80.4 278.1h1v1h-1zM81.2 278.9h1v1h-1zM74.2 312.7h1v1h-1zM74 312.2h1v1h-1zM73.8 312.4h1v1h-1zM73.3 312.2h1v1h-1zM83.2 304h1v1h-1zM80.5 277.4h1v1h-1zM80.5 277.6h1v1h-1zM58.1 323.8h1v1h-1zM58 323.1h1v1h-1zM81.7 326.1h1v1h-1zM81.4 327.1h1v1h-1zM81.6 327h1v1h-1zM56 348.3h1v1h-1zM81.4 319.1h1v1h-1zM68 317.7h1v1h-1zM67.9 318h1v1h-1zM67.3 317.1h1v1h-1zM67.7 317.7h1v1h-1zM67.5 317.4h1v1h-1zM68.9 308.8h1v1h-1zM79.5 284.5h1v1h-1zM81.1 282.5h1v1h-1zM83.6 284h1v1h-1zM83.5 284h1v1h-1zM78.9 335.2h1v1h-1zM56.4 332.2h1v1h-1zM56.3 332.4h1v1h-1zM56.7 332.9h1v1h-1zM58.8 307.8h1v1h-1zM58.4 308h1v1h-1zM81.7 288.2h1v1h-1zM68.2 288.2h1v1h-1zM67.4 288.7h1v1h-1zM80.3 330.9h1v1h-1zM81.2 330.9h1v1h-1zM81.1 330.3h1v1h-1zM73.6 335.8h1v1h-1zM58.5 314.2h1v1h-1zM81.3 281.2h1v1h-1zM81.7 282h1v1h-1zM81.9 281.4h1v1h-1zM80.9 324.6h1v1h-1zM76.3 336.1h1v1h-1zM76.4 336.6h1v1h-1zM76.7 336.4h1v1h-1zM77 336.1h1v1h-1zM81.3 274.7h1v1h-1zM81.3 274.2h1v1h-1zM74.3 294.1h1v1h-1zM74.8 294.9h1v1h-1zM75.1 295h1v1h-1zM75 294.4h1v1h-1zM58.9 315.7h1v1h-1zM58.6 315.4h1v1h-1zM75.6 336.5h1v1h-1zM83.2 282.5h1v1h-1zM84.1 282.3h1v1h-1zM72.7 323.2h1v1h-1zM72.6 323.4h1v1h-1zM72.9 323.7h1v1h-1zM57.8 327.4h1v1h-1zM83.5 301.7h1v1h-1zM83.5 301.7h1v1h-1zM82.7 281.2h1v1h-1zM82.8 281.3h1v1h-1zM82.7 281.4h1v1h-1zM82.6 281.4h1v1h-1zM82.5 281.5h1v1h-1zM80.4 323.6h1v1h-1zM80.7 284h1v1h-1zM80.3 283.7h1v1h-1zM61.3 295.2h1v1h-1zM61.8 296.1h1v1h-1zM74.4 289.8h1v1h-1zM84.1 294.4h1v1h-1zM83.6 294.5h1v1h-1zM84 294.4h1v1h-1zM83.8 294.8h1v1h-1zM65.1 287.2h1v1h-1zM64.4 287.3h1v1h-1zM65.1 287.6h1v1h-1zM66.3 287.4h1v1h-1zM66.7 287.8h1v1h-1zM66.4 287.8h1v1h-1zM81.6 273.9h1v1h-1zM81.9 273.5h1v1h-1zM81.5 273.3h1v1h-1zM81.7 273.6h1v1h-1zM72.2 324.5h1v1h-1zM56.1 342.9h1v1h-1zM72.9 310.1h1v1h-1zM73 309.4h1v1h-1zM80.9 330h1v1h-1zM65 348h1v1h-1zM64.6 348h1v1h-1zM73.1 333.3h1v1h-1zM72.6 333.7h1v1h-1zM81.4 287.9h1v1h-1zM79 287h1v1h-1zM80.4 327.5h1v1h-1zM81 328h1v1h-1zM81.1 327.7h1v1h-1zM80.7 327.9h1v1h-1zM63.8 288.2h1v1h-1zM63.7 288.4h1v1h-1zM64 288.8h1v1h-1zM83 283.6h1v1h-1zM82.9 283.2h1v1h-1zM74.4 298h1v1h-1zM75.1 297.8h1v1h-1zM82.1 318.9h1v1h-1zM82.1 289.4h1v1h-1zM81.7 289.7h1v1h-1zM81.4 289.4h1v1h-1zM77.5 286.2h1v1h-1zM77.6 286.8h1v1h-1zM81.7 305.7h1v1h-1zM75.1 316.7h1v1h-1zM75 293.2h1v1h-1zM75.1 293.1h1v1h-1zM75 293.3h1v1h-1zM73.6 301.4h1v1h-1zM73.9 301.8h1v1h-1zM74.2 302h1v1h-1zM57.9 352.5h1v1h-1zM82 283h1v1h-1zM81.7 282.7h1v1h-1zM81.3 283.1h1v1h-1zM58.9 312.6h1v1h-1zM76.6 286.2h1v1h-1zM76.6 286.3h1v1h-1zM76.5 286.7h1v1h-1zM76.6 286.5h1v1h-1zM77.1 286.2h1v1h-1zM81.2 326.7h1v1h-1zM80 285.2h1v1h-1zM80.1 285.7h1v1h-1zM79.8 285.3h1v1h-1zM57.1 333.5h1v1h-1zM57 333.7h1v1h-1zM56.6 333.7h1v1h-1zM82 284.1h1v1h-1zM81.8 284.8h1v1h-1zM66.4 303.4h1v1h-1zM66.7 303.8h1v1h-1zM73.2 322.1h1v1h-1zM58.1 330.7h1v1h-1zM57.3 330.8h1v1h-1zM80.5 284.7h1v1h-1zM80.9 284.8h1v1h-1zM81 288.5h1v1h-1zM80.8 288.4h1v1h-1zM65.6 287.5h1v1h-1zM65.4 287.4h1v1h-1zM74.1 317.5h1v1h-1zM73.7 317.5h1v1h-1zM59.5 305.3h1v1h-1zM65.3 337.6h1v1h-1zM80.6 308.5h1v1h-1zM81.2 308.8h1v1h-1zM82.9 283.1h1v1h-1zM82.6 282.1h1v1h-1zM82 315.3h1v1h-1zM68.2 289.7h1v1h-1zM83.3 299.8h1v1h-1zM83.4 301h1v1h-1zM84 300.3h1v1h-1zM83.5 300.8h1v1h-1zM83.3 300.7h1v1h-1zM83.6 300.2h1v1h-1zM68 294.1h1v1h-1zM82.1 316.7h1v1h-1zM59.2 311.1h1v1h-1zM60.3 302.7h1v1h-1zM60.9 303h1v1h-1zM80.1 324.7h1v1h-1zM79.9 324.4h1v1h-1zM79.2 324.8h1v1h-1zM57.6 324.8h1v1h-1zM81.5 317.5h1v1h-1zM80.8 322.6h1v1h-1zM78.9 333.6h1v1h-1zM78.4 333.4h1v1h-1zM78.9 334h1v1h-1zM72.8 308.1h1v1h-1zM72.5 308.6h1v1h-1zM72.3 308.6h1v1h-1zM81.4 315h1v1h-1zM81.4 314.4h1v1h-1zM79.7 288.4h1v1h-1zM79.7 288.7h1v1h-1zM78.6 331.4h1v1h-1zM79 331.6h1v1h-1zM79.1 331.9h1v1h-1zM78.7 331.7h1v1h-1zM74.4 290.1h1v1h-1zM75 290.2h1v1h-1zM74.2 290.4h1v1h-1zM81.8 286.5h1v1h-1zM81.3 286.3h1v1h-1zM83.8 291.2h1v1h-1zM82.9 291h1v1h-1zM82.7 290.5h1v1h-1zM79.3 329.6h1v1h-1zM82.1 285.2h1v1h-1zM82.1 285.5h1v1h-1zM81.5 285.4h1v1h-1zM82 311.5h1v1h-1zM82 311.2h1v1h-1zM82.2 311.7h1v1h-1zM57.6 326.4h1v1h-1zM58 327.1h1v1h-1zM79 288h1v1h-1zM78.3 287.7h1v1h-1zM80.2 325.9h1v1h-1zM59.1 308.8h1v1h-1zM59.1 308.8h1v1h-1zM58.7 308.7h1v1h-1zM81.3 313.8h1v1h-1zM81.3 314h1v1h-1zM75.8 287.5h1v1h-1zM75.8 287.9h1v1h-1zM75.9 287.7h1v1h-1zM75.7 287.4h1v1h-1zM75.8 295.9h1v1h-1zM76.2 296.1h1v1h-1zM74.9 292.5h1v1h-1zM79.7 286.1h1v1h-1zM79 334.2h1v1h-1zM78.4 334.7h1v1h-1zM78.3 335h1v1h-1zM78.9 335h1v1h-1zM80.8 307.4h1v1h-1zM81 307.5h1v1h-1zM80.4 307.4h1v1h-1zM80.6 307.6h1v1h-1zM82.1 312.7h1v1h-1zM79.4 289.5h1v1h-1zM57.1 335.5h1v1h-1zM56.9 335.4h1v1h-1zM73 332.5h1v1h-1zM72.2 333h1v1h-1zM72.9 332.7h1v1h-1zM72.5 333.1h1v1h-1zM72.9 307.4h1v1h-1zM80.5 309.1h1v1h-1zM75.9 294.8h1v1h-1zM59.2 317.5h1v1h-1zM59.2 317.2h1v1h-1zM81.7 304.3h1v1h-1zM81.2 304.6h1v1h-1zM59 309.4h1v1h-1zM73.6 319.7h1v1h-1zM73.9 319.2h1v1h-1zM80.6 287.2h1v1h-1zM80.3 287.3h1v1h-1zM81.1 287.1h1v1h-1zM80.5 287.9h1v1h-1zM72.3 305.3h1v1h-1zM72.8 305.3h1v1h-1zM72.7 305.2h1v1h-1zM72.9 305.9h1v1h-1zM79.7 329h1v1h-1zM58.1 325.5h1v1h-1zM57.7 325.6h1v1h-1zM82.5 295.4h1v1h-1zM55.7 347h1v1h-1zM75 298.8h1v1h-1zM74.3 298.7h1v1h-1zM74.7 298.2h1v1h-1zM74.4 298.9h1v1h-1zM75 291.9h1v1h-1zM74.4 291.2h1v1h-1zM74.7 291.7h1v1h-1zM72.9 306.5h1v1h-1zM72.5 306.3h1v1h-1zM73 307h1v1h-1zM72.4 307h1v1h-1zM83 296.3h1v1h-1zM75.8 296.3h1v1h-1zM75.9 296.7h1v1h-1zM78.4 288.8h1v1h-1zM80.7 285.9h1v1h-1zM81.2 285.3h1v1h-1zM80 326.3h1v1h-1zM79.3 326.3h1v1h-1zM75.7 314.5h1v1h-1zM79.6 324h1v1h-1zM79.3 323.4h1v1h-1zM79.9 327.4h1v1h-1zM73.9 302.2h1v1h-1zM73.9 319h1v1h-1zM73.8 318.1h1v1h-1zM74 318.1h1v1h-1zM55.9 344.1h1v1h-1zM55.9 343.2h1v1h-1zM64.5 346.8h1v1h-1zM81.1 322h1v1h-1zM80.9 321.3h1v1h-1zM81.1 322h1v1h-1zM83.9 292.3h1v1h-1zM84 292.9h1v1h-1zM83.6 292.6h1v1h-1zM84.1 292.6h1v1h-1zM74.2 326.7h1v1h-1zM73.9 322.7h1v1h-1zM73.2 323h1v1h-1zM62.3 290.2h1v1h-1zM80.3 286.4h1v1h-1zM80.6 287.1h1v1h-1zM80.5 286.7h1v1h-1zM80.9 287.1h1v1h-1zM73.6 334.3h1v1h-1zM73.8 334.7h1v1h-1zM62 296.6h1v1h-1zM77.9 287.6h1v1h-1zM68.1 290.9h1v1h-1zM73.8 328h1v1h-1zM73.9 327.3h1v1h-1zM73.1 330.4h1v1h-1zM73.2 330.7h1v1h-1zM82.2 294.5h1v1h-1zM82.2 294.2h1v1h-1zM78.9 289.1h1v1h-1zM79.2 289.3h1v1h-1zM78.9 289.5h1v1h-1zM79.1 289.4h1v1h-1zM82.2 304.1h1v1h-1zM81.7 303.2h1v1h-1zM78.8 330.6h1v1h-1zM78.9 330.6h1v1h-1zM66.3 321.9h1v1h-1zM68 306.8h1v1h-1zM76.1 288.5h1v1h-1zM75.5 288.3h1v1h-1zM75.7 289h1v1h-1zM56.5 336.8h1v1h-1zM73.7 303.6h1v1h-1zM74 304h1v1h-1zM81.1 321h1v1h-1zM80.3 321h1v1h-1zM80.3 321.1h1v1h-1zM81 306.6h1v1h-1zM81.9 290.5h1v1h-1zM81.6 291h1v1h-1zM82.2 290.6h1v1h-1zM82.4 297.3h1v1h-1zM82.6 297.9h1v1h-1zM64.5 288.9h1v1h-1zM74.5 312.9h1v1h-1zM79.9 291.1h1v1h-1zM77.7 335.7h1v1h-1zM67.7 310.7h1v1h-1zM68 311h1v1h-1zM67.5 310.9h1v1h-1zM67.6 310.3h1v1h-1zM58.8 318.7h1v1h-1zM55.9 345.5h1v1h-1zM56.1 346.1h1v1h-1zM76.1 297.2h1v1h-1zM75.4 298h1v1h-1zM75.8 297.9h1v1h-1zM74.1 310.6h1v1h-1zM73.5 311.1h1v1h-1zM74.1 310.2h1v1h-1zM73.8 310.4h1v1h-1zM80.9 310.8h1v1h-1zM80.6 310.5h1v1h-1zM81 310.7h1v1h-1zM79.5 309h1v1h-1zM76.5 288h1v1h-1zM76.4 288h1v1h-1zM74.1 304.4h1v1h-1zM73.8 304.6h1v1h-1zM73.7 304.8h1v1h-1zM74.4 299.8h1v1h-1zM75.1 299.9h1v1h-1zM74.5 335.5h1v1h-1zM74.7 335.7h1v1h-1zM78.1 332.4h1v1h-1zM77.7 332.6h1v1h-1zM77.5 333h1v1h-1zM61 303.2h1v1h-1zM60.8 303.3h1v1h-1zM74.3 317.7h1v1h-1zM74.7 317.2h1v1h-1zM74.8 317.8h1v1h-1zM74.8 318.1h1v1h-1zM75.8 290.1h1v1h-1zM76.2 289.9h1v1h-1zM66.8 320.4h1v1h-1zM56 345h1v1h-1zM76.7 295.3h1v1h-1zM76.3 295.6h1v1h-1zM65.5 300.2h1v1h-1zM65.4 300.4h1v1h-1zM62.1 300h1v1h-1zM61.9 300h1v1h-1zM77.4 288.4h1v1h-1zM77.4 289h1v1h-1zM80.3 319.8h1v1h-1zM78.4 325.8h1v1h-1zM78.6 290.1h1v1h-1zM78.4 290.1h1v1h-1zM79 290.8h1v1h-1zM73.4 305.3h1v1h-1zM73.8 305.9h1v1h-1zM73.6 305.2h1v1h-1zM73.5 306h1v1h-1zM79.6 309.6h1v1h-1zM79.2 310h1v1h-1zM79.5 309.5h1v1h-1zM81.9 295.8h1v1h-1zM81.4 296.1h1v1h-1zM81.7 296.1h1v1h-1zM81.8 295.7h1v1h-1zM73.8 325.1h1v1h-1zM73.8 325.5h1v1h-1zM73.3 325.9h1v1h-1zM63.8 289.4h1v1h-1zM63.7 289.4h1v1h-1zM63.9 290h1v1h-1zM61.5 297.2h1v1h-1zM61.3 297.9h1v1h-1zM62.1 297.9h1v1h-1zM61.2 298.9h1v1h-1zM61.5 298.8h1v1h-1zM62.1 298.2h1v1h-1zM75.9 292.6h1v1h-1zM75.4 293h1v1h-1zM76.2 292.2h1v1h-1zM76.1 292.7h1v1h-1zM73.8 333.7h1v1h-1zM64.1 350.6h1v1h-1zM79.7 322.8h1v1h-1zM79.4 323.1h1v1h-1zM79.7 322.2h1v1h-1zM65.7 288.9h1v1h-1zM65.6 288.2h1v1h-1zM82.8 293.6h1v1h-1zM82.8 293.4h1v1h-1zM66 301.3h1v1h-1zM66 301.6h1v1h-1zM78.5 329.6h1v1h-1zM78.6 329.7h1v1h-1zM77.2 297h1v1h-1zM67.4 291.7h1v1h-1zM82.8 291.8h1v1h-1zM82.9 291.8h1v1h-1zM82.6 291.6h1v1h-1zM82.8 291.3h1v1h-1zM77.3 331.9h1v1h-1zM75.6 290.7h1v1h-1zM75.6 290.6h1v1h-1zM78.2 323.2h1v1h-1zM78.5 323.6h1v1h-1zM73.7 306.3h1v1h-1zM74.1 306.3h1v1h-1zM80.5 305.9h1v1h-1zM73.4 324.1h1v1h-1zM74.1 324h1v1h-1zM77.8 334h1v1h-1zM81.7 302.2h1v1h-1zM61.6 300.4h1v1h-1zM80.3 294.7h1v1h-1zM75 304.2h1v1h-1zM81 311.8h1v1h-1zM81.1 311.6h1v1h-1zM76.4 288.1h1v1h-1zM76.3 288.1h1v1h-1zM76.9 288.2h1v1h-1zM76.3 288.2h1v1h-1zM67.8 309.4h1v1h-1zM75.5 292h1v1h-1zM75.5 291.3h1v1h-1zM83.1 299h1v1h-1zM82.3 298.9h1v1h-1zM82.4 298.7h1v1h-1zM76.5 293.6h1v1h-1zM76.4 293.9h1v1h-1zM80.8 315.3h1v1h-1zM80.9 315.9h1v1h-1zM80.8 315.8h1v1h-1zM80.4 316h1v1h-1zM75.6 314h1v1h-1zM75.7 313.7h1v1h-1zM75.7 313.8h1v1h-1zM78.8 328.7h1v1h-1zM78.4 329h1v1h-1zM79 328.8h1v1h-1zM79 326.2h1v1h-1zM79.1 327.1h1v1h-1zM78.9 326.1h1v1h-1zM81 318.9h1v1h-1zM80.9 318.5h1v1h-1zM57.9 331.9h1v1h-1zM57.7 331.4h1v1h-1zM58.2 331.6h1v1h-1zM74.6 320.8h1v1h-1zM73.3 309.8h1v1h-1zM65.7 299.9h1v1h-1zM65.9 299.5h1v1h-1zM58.4 319.8h1v1h-1zM80.4 314.5h1v1h-1zM80.9 315.1h1v1h-1zM76.5 297.9h1v1h-1zM76.5 297.3h1v1h-1zM77.8 291h1v1h-1zM77.6 290.3h1v1h-1zM63.2 291.8h1v1h-1zM62.8 291.9h1v1h-1zM62.4 291.5h1v1h-1zM62.6 291.8h1v1h-1zM67.9 293h1v1h-1zM67.8 292.1h1v1h-1zM81.9 296.9h1v1h-1zM81.7 296.2h1v1h-1zM56.3 337.9h1v1h-1zM75.7 299h1v1h-1zM75.6 298.7h1v1h-1zM75.6 298.1h1v1h-1zM73.4 328.6h1v1h-1zM76.7 289.9h1v1h-1zM76.9 289.3h1v1h-1zM76.4 289.2h1v1h-1zM80.9 295.7h1v1h-1zM80.7 295.6h1v1h-1zM73.5 325.1h1v1h-1zM73.3 325.1h1v1h-1zM74 324.7h1v1h-1zM73.5 324.1h1v1h-1zM73.5 324.9h1v1h-1zM80.7 316.9h1v1h-1zM80.3 316.5h1v1h-1zM80.9 316.8h1v1h-1zM79.2 327.2h1v1h-1zM56.3 351h1v1h-1zM56.5 350.3h1v1h-1zM82.4 292.4h1v1h-1zM82.2 292.4h1v1h-1zM82.6 292.1h1v1h-1zM80.8 313.2h1v1h-1zM80.6 313.5h1v1h-1zM80.7 313.3h1v1h-1zM62.3 293.2h1v1h-1zM63.1 294h1v1h-1zM74.2 318.5h1v1h-1zM75.1 318.9h1v1h-1zM74.5 318.3h1v1h-1zM81.8 293.6h1v1h-1zM81.8 294h1v1h-1zM81.8 293.9h1v1h-1zM82.1 293.5h1v1h-1zM74.6 319.6h1v1h-1zM74.4 319.9h1v1h-1zM74.4 319.6h1v1h-1zM59.3 306.7h1v1h-1zM59.8 306.3h1v1h-1zM60.2 306.5h1v1h-1zM73.9 332.4h1v1h-1zM74.1 332.5h1v1h-1zM73.6 332.2h1v1h-1zM73.6 332.5h1v1h-1zM77.5 334.8h1v1h-1zM77.5 335.1h1v1h-1zM77.4 334.9h1v1h-1zM79.8 291.5h1v1h-1zM80.1 291.5h1v1h-1zM80.1 291.5h1v1h-1zM66.2 319.2h1v1h-1zM66.8 320.1h1v1h-1zM62.6 293h1v1h-1zM80.6 317.2h1v1h-1zM77.1 290.5h1v1h-1zM67.3 307.6h1v1h-1zM79.8 311h1v1h-1zM79.8 310.6h1v1h-1zM75.1 300.6h1v1h-1zM74.8 300.7h1v1h-1zM74.3 300.9h1v1h-1zM74.8 300.5h1v1h-1zM73.8 309h1v1h-1zM67.1 315.4h1v1h-1zM66.9 316h1v1h-1zM66.4 315.5h1v1h-1zM75 311.6h1v1h-1zM75.2 312.1h1v1h-1zM74.9 311.9h1v1h-1zM79.4 322.1h1v1h-1zM79.9 321.8h1v1h-1zM75 321.4h1v1h-1zM75 322h1v1h-1zM82.9 300.3h1v1h-1zM82.7 300.6h1v1h-1zM83.2 301h1v1h-1zM65.3 298.9h1v1h-1zM65.8 298.7h1v1h-1zM65.9 298.7h1v1h-1zM80.6 304.6h1v1h-1zM80.6 304.9h1v1h-1zM80.3 304.3h1v1h-1zM78.7 309.1h1v1h-1zM78.6 309.5h1v1h-1zM79.3 294.4h1v1h-1zM81 294h1v1h-1zM78.2 308.2h1v1h-1zM80.6 291.4h1v1h-1zM80.3 291.9h1v1h-1zM81 291.9h1v1h-1zM76.8 332.1h1v1h-1zM75.9 304.8h1v1h-1zM66.7 313.7h1v1h-1zM81.2 291.4h1v1h-1zM81.9 291.3h1v1h-1zM82.1 291.5h1v1h-1zM76.7 335.7h1v1h-1zM76.8 336h1v1h-1zM77 335.7h1v1h-1zM67.7 308.6h1v1h-1zM77.9 295.8h1v1h-1zM77.2 296h1v1h-1zM77.3 295.2h1v1h-1zM76 335.3h1v1h-1zM75.9 335.6h1v1h-1zM76.1 335.7h1v1h-1zM76.9 292h1v1h-1zM76.6 291.7h1v1h-1zM77 291.4h1v1h-1zM76.3 291.6h1v1h-1zM83 299.9h1v1h-1zM83.1 299.8h1v1h-1z"/>
<path fill="rgb(43,62,198)" fill-opacity="0.46" d="M78.1 294.1h1v1h-1zM77.6 294.3h1v1h-1zM77.8 294.2h1v1h-1zM80 306.8h1v1h-1zM80 307.1h1v1h-1zM79.9 306.3h1v1h-1zM80 306.6h1v1h-1zM80.2 295.1h1v1h-1zM77.3 291.6h1v1h-1zM77.9 291.5h1v1h-1zM75 303.5h1v1h-1zM74.8 303.8h1v1h-1zM74.8 304h1v1h-1zM77.8 297.8h1v1h-1zM78 297.8h1v1h-1zM77.4 298h1v1h-1zM77.5 296.4h1v1h-1zM78.1 296.2h1v1h-1zM74.4 334.3h1v1h-1zM75.1 334.3h1v1h-1zM74.2 334.8h1v1h-1zM77.3 298.7h1v1h-1zM62.5 295.1h1v1h-1zM62.4 294.1h1v1h-1zM62.4 294.8h1v1h-1zM62.6 294.2h1v1h-1zM76.1 317.3h1v1h-1zM75.8 305.8h1v1h-1zM79.1 322.4h1v1h-1zM78.9 322.6h1v1h-1zM79.3 293.8h1v1h-1zM79.7 293.5h1v1h-1zM66.7 290h1v1h-1zM66.3 289.2h1v1h-1zM67 289.2h1v1h-1zM66.3 289.2h1v1h-1zM78.1 330.4h1v1h-1zM77.9 330.7h1v1h-1zM77.3 330.7h1v1h-1zM79.5 320.6h1v1h-1zM79.3 320.9h1v1h-1zM80.1 320.1h1v1h-1zM78.2 324.4h1v1h-1zM65.9 330.4h1v1h-1zM65.5 330.3h1v1h-1zM65.4 331h1v1h-1zM65.6 331h1v1h-1zM76.8 315.2h1v1h-1zM65.8 335.5h1v1h-1zM65.2 335.2h1v1h-1zM65.8 335.3h1v1h-1zM65.4 335.5h1v1h-1zM74.7 333.4h1v1h-1zM74.8 333.6h1v1h-1zM74.7 333.2h1v1h-1zM80.8 293h1v1h-1zM81 292.2h1v1h-1zM80.9 292.7h1v1h-1zM80.8 292.6h1v1h-1zM81.1 292.2h1v1h-1zM66 329.6h1v1h-1zM66.1 329.3h1v1h-1zM65.5 330.1h1v1h-1zM79.2 310.8h1v1h-1zM79.1 310.4h1v1h-1zM78.8 310.3h1v1h-1zM80.7 297.1h1v1h-1zM81 296.7h1v1h-1zM81.1 296.9h1v1h-1zM80.6 304h1v1h-1zM77.7 293.7h1v1h-1zM77.4 293.5h1v1h-1zM77.5 294h1v1h-1zM79.5 293.1h1v1h-1zM78.9 295.5h1v1h-1zM78.7 295.4h1v1h-1zM79.1 295.7h1v1h-1zM78.5 307.4h1v1h-1zM78.8 307.8h1v1h-1zM79.2 307.6h1v1h-1zM81.6 298.1h1v1h-1zM81.5 297.7h1v1h-1zM81.6 298h1v1h-1zM62 302.1h1v1h-1zM62.1 301.9h1v1h-1zM78.9 298.6h1v1h-1zM78.3 298.9h1v1h-1zM78.5 298.1h1v1h-1zM76.9 333.7h1v1h-1zM59.1 320.7h1v1h-1zM59 321h1v1h-1zM58.5 320.3h1v1h-1zM59 320.6h1v1h-1zM74.8 306.9h1v1h-1zM66.2 296.9h1v1h-1zM75.7 332.9h1v1h-1zM76.2 333h1v1h-1zM78.2 293h1v1h-1zM77.3 292.8h1v1h-1zM77.9 292.2h1v1h-1zM77.9 292.9h1v1h-1zM77 304.3h1v1h-1zM76.5 304.5h1v1h-1zM76.6 332h1v1h-1zM77.2 331.6h1v1h-1zM76.8 331.8h1v1h-1zM73.9 331.7h1v1h-1zM73.3 332h1v1h-1zM74.9 326.3h1v1h-1zM74.6 327.1h1v1h-1zM74.6 326.4h1v1h-1zM81.5 301.2h1v1h-1zM82 302h1v1h-1zM81.6 302.1h1v1h-1zM81.8 301.8h1v1h-1zM75 322.7h1v1h-1zM74.4 323h1v1h-1zM75 322.1h1v1h-1zM65.8 332h1v1h-1zM78.6 292.7h1v1h-1zM79.1 293h1v1h-1zM79.6 311.6h1v1h-1zM79.8 311.6h1v1h-1zM79.4 311.9h1v1h-1zM79 297.9h1v1h-1zM79 298h1v1h-1zM78.9 299.9h1v1h-1zM78.2 325.8h1v1h-1zM78 325.6h1v1h-1zM77.7 325.2h1v1h-1zM75.4 299.9h1v1h-1zM76.1 300h1v1h-1zM78.6 293.4h1v1h-1zM79 293.1h1v1h-1zM78.3 294h1v1h-1zM78.6 293.5h1v1h-1zM78.5 293.4h1v1h-1zM78.7 293.8h1v1h-1zM78.6 296.6h1v1h-1zM79.1 296.8h1v1h-1zM79.1 296.3h1v1h-1zM78.5 297h1v1h-1zM79.9 296.5h1v1h-1zM79.5 296.2h1v1h-1zM79.6 296.8h1v1h-1zM78.1 299.9h1v1h-1zM77.6 299.3h1v1h-1zM77.8 299.1h1v1h-1zM77.4 299.8h1v1h-1zM78.1 299.2h1v1h-1zM80 306h1v1h-1zM79.4 305.2h1v1h-1zM80 305.5h1v1h-1zM67 316.4h1v1h-1zM66.3 316.4h1v1h-1zM61 304.9h1v1h-1zM75.7 312.8h1v1h-1zM75.6 312.7h1v1h-1zM75.8 312.9h1v1h-1zM65.1 290.1h1v1h-1zM67.1 318.4h1v1h-1zM65.5 303.1h1v1h-1zM75.3 333.7h1v1h-1zM75.8 333.7h1v1h-1zM78.6 321.7h1v1h-1zM79 321.8h1v1h-1zM78.3 321.5h1v1h-1zM78.6 321.4h1v1h-1zM74.6 327.7h1v1h-1zM73.6 329.7h1v1h-1zM73.4 329.2h1v1h-1zM74.4 302.6h1v1h-1zM74.9 302.1h1v1h-1zM74.4 302.3h1v1h-1zM65.5 328.6h1v1h-1zM56.5 339h1v1h-1zM79.3 320h1v1h-1zM79.7 319.7h1v1h-1zM76.3 306h1v1h-1zM76.9 305.5h1v1h-1zM77.1 305.3h1v1h-1zM76.6 305.5h1v1h-1zM75 310.6h1v1h-1zM75 310.8h1v1h-1zM78.6 307h1v1h-1zM78.9 307.1h1v1h-1zM78.3 306.4h1v1h-1zM79 306.5h1v1h-1zM77.7 329.6h1v1h-1zM77.6 329.2h1v1h-1zM77.8 329.9h1v1h-1zM80.1 297.3h1v1h-1zM79.7 298.1h1v1h-1zM63.5 349.9h1v1h-1zM76.8 334.4h1v1h-1zM76.7 334.2h1v1h-1zM76.6 335h1v1h-1zM76.6 334.7h1v1h-1zM76.8 334.3h1v1h-1zM75.7 304.1h1v1h-1zM76.3 299.8h1v1h-1zM76.9 299.7h1v1h-1zM74.7 326h1v1h-1zM74.8 325.5h1v1h-1zM74.9 325.8h1v1h-1zM78.2 327h1v1h-1zM77.8 326.6h1v1h-1zM77.3 326.2h1v1h-1zM77.8 326.7h1v1h-1zM77.4 326.7h1v1h-1zM77.3 304.4h1v1h-1zM80 312.2h1v1h-1zM79.5 312.8h1v1h-1zM79.7 312.4h1v1h-1zM79.5 312.6h1v1h-1zM79.3 312.5h1v1h-1zM80.1 312.7h1v1h-1zM79.7 312.4h1v1h-1zM80.3 302.5h1v1h-1zM75.6 320h1v1h-1zM76.1 319.4h1v1h-1zM75.7 319.7h1v1h-1zM76.4 317.1h1v1h-1zM76.4 316.9h1v1h-1zM76.6 316.8h1v1h-1zM76.9 316.7h1v1h-1zM76.6 316.7h1v1h-1zM66 332.3h1v1h-1zM80.7 297.5h1v1h-1zM79.7 304.3h1v1h-1zM80 304.9h1v1h-1zM78.3 311.7h1v1h-1zM78.6 311.5h1v1h-1zM80.2 314.3h1v1h-1zM75.7 334.3h1v1h-1zM75.9 334.5h1v1h-1zM76 334.7h1v1h-1zM75.3 334.3h1v1h-1zM77.4 328h1v1h-1zM77.9 328.6h1v1h-1zM77.7 328.3h1v1h-1zM78 329h1v1h-1zM78 328.5h1v1h-1zM77.6 311h1v1h-1zM73.5 330.4h1v1h-1zM73.5 330.5h1v1h-1zM73.7 330.4h1v1h-1zM73.5 330.1h1v1h-1zM73.5 330.6h1v1h-1zM73.4 330.5h1v1h-1zM77.3 309.9h1v1h-1zM58.5 321.5h1v1h-1zM58.5 321.2h1v1h-1zM66.4 317.9h1v1h-1zM66.8 317.7h1v1h-1zM75.5 320.6h1v1h-1zM78.9 300.8h1v1h-1zM78.4 300.9h1v1h-1zM80 314h1v1h-1zM63.9 290.6h1v1h-1zM78.6 305.3h1v1h-1zM78.2 305.8h1v1h-1zM78.9 305.3h1v1h-1zM58.4 329.6h1v1h-1zM58.5 329.3h1v1h-1zM77.5 305.3h1v1h-1zM78.1 305.3h1v1h-1zM78 322.4h1v1h-1zM77.7 322.7h1v1h-1zM77.3 322.6h1v1h-1zM77.7 322.7h1v1h-1zM78 322.6h1v1h-1zM74.9 323.3h1v1h-1zM81.5 298.5h1v1h-1zM81.9 298.6h1v1h-1zM65.8 289.3h1v1h-1zM57.8 332.5h1v1h-1zM57.2 332.1h1v1h-1zM57.6 332.6h1v1h-1zM58.1 332.3h1v1h-1zM76.7 303.7h1v1h-1zM76.5 303.4h1v1h-1zM78.7 304.2h1v1h-1zM75.8 331.9h1v1h-1zM74.5 324.9h1v1h-1zM74.2 324.9h1v1h-1zM67 312.4h1v1h-1zM66.9 313.1h1v1h-1zM76.8 314.1h1v1h-1zM76.3 313.9h1v1h-1zM76.7 313.3h1v1h-1zM76.7 313.1h1v1h-1zM76.3 313.7h1v1h-1zM77.5 303.9h1v1h-1zM78 303.6h1v1h-1zM78.1 303.3h1v1h-1zM65.9 334.6h1v1h-1zM65.5 334.2h1v1h-1zM81.9 300.5h1v1h-1zM82.1 300.9h1v1h-1zM77.6 300.7h1v1h-1zM77.9 308.6h1v1h-1zM77.9 308.7h1v1h-1zM77.6 308.2h1v1h-1zM79.8 303.2h1v1h-1zM79.5 303.5h1v1h-1zM79.3 304h1v1h-1zM80 303.7h1v1h-1zM80.1 303.9h1v1h-1zM76.1 321.3h1v1h-1zM75.4 321.4h1v1h-1zM76 321.9h1v1h-1zM75.8 321.7h1v1h-1zM75.3 321.9h1v1h-1zM75.7 321.1h1v1h-1zM74.8 331.6h1v1h-1zM74.5 331.4h1v1h-1zM74.8 331.2h1v1h-1zM79.3 316.4h1v1h-1zM80 317h1v1h-1zM65.3 333.6h1v1h-1zM66 334h1v1h-1zM66.2 333.9h1v1h-1zM74.2 308h1v1h-1zM74.8 308h1v1h-1zM58.8 352.4h1v1h-1zM58.4 352.5h1v1h-1zM76.9 324.9h1v1h-1zM77.1 324.4h1v1h-1zM77.1 324.4h1v1h-1zM75.9 306.5h1v1h-1zM80.3 299.1h1v1h-1zM80.6 298.3h1v1h-1zM80.6 298.9h1v1h-1zM80.7 298.5h1v1h-1zM81 298.9h1v1h-1zM80.3 298.4h1v1h-1zM79.2 318.7h1v1h-1zM79.2 318.6h1v1h-1zM79.5 318.6h1v1h-1zM79.4 318.3h1v1h-1zM62.7 351.5h1v1h-1zM62.6 351.8h1v1h-1zM62.4 351.2h1v1h-1zM66.3 294.5h1v1h-1zM67.1 294.2h1v1h-1zM66.4 294.9h1v1h-1zM66.7 294.3h1v1h-1zM67.2 294.2h1v1h-1zM78.6 303.7h1v1h-1zM79 303.6h1v1h-1zM78.6 303.2h1v1h-1zM78.8 303.5h1v1h-1zM81.7 299.5h1v1h-1zM81.3 299.6h1v1h-1zM81.7 299.7h1v1h-1zM79.5 300.2h1v1h-1zM79.8 300.5h1v1h-1zM76.1 326.8h1v1h-1zM75.4 326.3h1v1h-1zM78.6 301.7h1v1h-1zM77.1 326h1v1h-1zM76.8 325.8h1v1h-1zM77 326.1h1v1h-1zM76.6 330.5h1v1h-1zM80.2 301.3h1v1h-1zM80.7 301.1h1v1h-1zM80.9 301.9h1v1h-1zM80.7 301.2h1v1h-1zM78.2 312.3h1v1h-1zM77.5 321.1h1v1h-1zM77.4 320.3h1v1h-1zM77.8 320.6h1v1h-1zM76.7 323.5h1v1h-1zM76.7 323.9h1v1h-1zM76.8 323.8h1v1h-1zM65.9 327.7h1v1h-1zM65.4 327.2h1v1h-1zM65.5 327.3h1v1h-1zM61.4 303.1h1v1h-1zM61.4 302.6h1v1h-1zM61.6 302.1h1v1h-1zM74.9 310h1v1h-1zM74.8 309.5h1v1h-1zM76.5 326.5h1v1h-1zM76.9 326.1h1v1h-1zM76.3 327.1h1v1h-1zM76.9 321.1h1v1h-1zM76.4 320.3h1v1h-1zM76.5 320.1h1v1h-1zM58.4 322.8h1v1h-1zM58.5 322.1h1v1h-1zM79.4 302.5h1v1h-1zM79.5 302.8h1v1h-1zM79.8 302.3h1v1h-1zM78.7 303h1v1h-1zM75.5 327.6h1v1h-1zM75.7 327.3h1v1h-1zM75.7 327.8h1v1h-1zM79.8 317.7h1v1h-1zM79.5 317.4h1v1h-1zM80.1 318.1h1v1h-1zM79.8 317.6h1v1h-1zM76.1 325.7h1v1h-1zM75.8 325.3h1v1h-1zM75.8 322.9h1v1h-1zM75.7 322.7h1v1h-1zM76.2 327.4h1v1h-1zM76.5 327.4h1v1h-1zM74.6 329h1v1h-1zM75.2 328.2h1v1h-1zM74.6 329h1v1h-1zM74.8 328.3h1v1h-1zM76.9 317.9h1v1h-1zM76.4 317.2h1v1h-1zM77.1 311.6h1v1h-1zM76.8 311.9h1v1h-1zM77.1 311.9h1v1h-1zM76.8 311.3h1v1h-1zM80.2 301.7h1v1h-1zM79.3 301.6h1v1h-1zM79.9 301.3h1v1h-1zM80.2 301.6h1v1h-1zM79.7 301.9h1v1h-1zM79.3 301.6h1v1h-1zM76.9 322h1v1h-1zM76.2 321.5h1v1h-1zM76.4 312.4h1v1h-1zM77 313h1v1h-1zM76.9 312.8h1v1h-1zM76.8 312.2h1v1h-1zM77 312.2h1v1h-1zM76.3 312.3h1v1h-1zM77.7 302.5h1v1h-1zM78.1 303h1v1h-1zM80.6 299.8h1v1h-1zM80.8 299.6h1v1h-1zM80.3 299.2h1v1h-1zM80.8 299.6h1v1h-1zM80.9 299.8h1v1h-1zM77.7 314.9h1v1h-1zM77 322.3h1v1h-1zM76.2 322.9h1v1h-1zM76.4 322.9h1v1h-1zM76.9 320h1v1h-1zM77.1 319.7h1v1h-1zM77.2 320h1v1h-1zM79.2 319.1h1v1h-1zM78 301.2h1v1h-1zM77.7 315.4h1v1h-1zM78 315.6h1v1h-1zM78 316h1v1h-1zM77.9 315.8h1v1h-1zM77.6 315.3h1v1h-1zM76.1 324.2h1v1h-1zM75.4 324.7h1v1h-1zM75.3 324.4h1v1h-1zM76.9 310.4h1v1h-1zM76.7 310.9h1v1h-1zM76.6 310.7h1v1h-1zM76.5 311h1v1h-1zM77.1 310.5h1v1h-1zM76.4 306.8h1v1h-1zM77.1 306.5h1v1h-1zM76.8 306.7h1v1h-1zM76.7 306.6h1v1h-1zM76.2 306.8h1v1h-1zM78.7 313.5h1v1h-1zM78.4 313.3h1v1h-1zM80.6 300.4h1v1h-1zM80.5 300.7h1v1h-1zM76 323.6h1v1h-1zM75.5 323.4h1v1h-1zM75.7 324h1v1h-1zM75.9 323.7h1v1h-1zM78.2 314.4h1v1h-1zM78.8 314.1h1v1h-1zM78.9 314.7h1v1h-1zM78.6 314.3h1v1h-1zM78.8 315.1h1v1h-1zM79 314.3h1v1h-1zM66.9 290.6h1v1h-1zM66.5 291h1v1h-1zM67 290.3h1v1h-1zM66.7 290.4h1v1h-1zM66.5 290.4h1v1h-1zM76 310.4h1v1h-1zM75.9 310.8h1v1h-1zM77.6 312.8h1v1h-1zM76.3 300.2h1v1h-1zM76.8 300.9h1v1h-1zM77 300.9h1v1h-1zM77.2 300.5h1v1h-1zM74.7 308.5h1v1h-1zM74.8 308.1h1v1h-1zM75.1 308.8h1v1h-1zM75.1 308.3h1v1h-1zM56.4 349.9h1v1h-1zM56.3 349.6h1v1h-1zM65.6 295.9h1v1h-1zM65.2 295.5h1v1h-1zM76.7 318.7h1v1h-1zM77 318.7h1v1h-1zM77 318.6h1v1h-1zM77.3 314.1h1v1h-1zM78 313.9h1v1h-1zM77.2 313.8h1v1h-1zM77.8 313.9h1v1h-1zM76.3 329h1v1h-1zM77.1 328.7h1v1h-1zM78.8 315.7h1v1h-1zM79.1 316h1v1h-1zM78.3 315.6h1v1h-1zM56.7 340h1v1h-1zM57.2 339.9h1v1h-1zM60.1 308.3h1v1h-1zM60.1 308.4h1v1h-1zM60.1 309h1v1h-1zM59.3 308.8h1v1h-1zM59.2 330.9h1v1h-1zM75.7 302.8h1v1h-1zM75.9 302.7h1v1h-1zM75.5 302.7h1v1h-1zM75.4 302.6h1v1h-1zM75.6 302.4h1v1h-1zM57.4 333.7h1v1h-1zM64.9 300.6h1v1h-1zM76.9 329.9h1v1h-1zM77.1 329.4h1v1h-1zM62.2 300.2h1v1h-1zM62.8 300.9h1v1h-1zM62.6 300.2h1v1h-1zM63.1 300.4h1v1h-1zM77.4 319.2h1v1h-1zM77.9 319.7h1v1h-1zM77.2 319.3h1v1h-1zM62.6 297.1h1v1h-1zM62.3 296.1h1v1h-1zM63.1 296.5h1v1h-1zM62.7 296.9h1v1h-1zM62.4 296.6h1v1h-1zM63 296.4h1v1h-1zM63.1 296.9h1v1h-1zM76.3 302.1h1v1h-1zM77 302.6h1v1h-1zM63 299.6h1v1h-1zM62.7 299.9h1v1h-1zM57.3 351.4h1v1h-1zM57.2 352.1h1v1h-1zM58 351.8h1v1h-1zM58.2 351.6h1v1h-1zM76.3 309.7h1v1h-1zM58.9 327.2h1v1h-1zM58.2 327.8h1v1h-1zM58.9 327.7h1v1h-1zM59.2 328.1h1v1h-1zM65.4 326.7h1v1h-1zM65.3 326.6h1v1h-1zM65.4 326.3h1v1h-1zM77.7 316.7h1v1h-1zM77.8 316.8h1v1h-1zM76 328.6h1v1h-1zM75.3 301.5h1v1h-1zM75.7 301.8h1v1h-1zM75.6 301.6h1v1h-1zM75.4 301.1h1v1h-1zM75.2 301.7h1v1h-1zM75.5 301.3h1v1h-1zM76 301.4h1v1h-1zM76 301.4h1v1h-1zM64.2 291.8h1v1h-1zM63.5 291.7h1v1h-1zM63.8 292h1v1h-1zM64.2 291.2h1v1h-1zM63.6 291.6h1v1h-1zM75 330.9h1v1h-1zM75.7 331h1v1h-1zM76 331.1h1v1h-1zM75.8 331h1v1h-1zM76 330.6h1v1h-1zM76.2 330.8h1v1h-1zM78.8 316.9h1v1h-1zM79.1 317h1v1h-1zM65.2 343.8h1v1h-1zM64.8 302.1h1v1h-1zM64.4 301.7h1v1h-1zM64.5 301.8h1v1h-1zM76.4 301.7h1v1h-1zM76.4 302.1h1v1h-1zM76.5 302h1v1h-1zM76.7 301.3h1v1h-1zM76.7 301.2h1v1h-1zM58.3 323.8h1v1h-1zM58.7 323.5h1v1h-1zM58.7 323.6h1v1h-1zM59.6 309.5h1v1h-1zM60 310h1v1h-1zM59.9 310h1v1h-1zM59.5 310.1h1v1h-1zM66.6 311.8h1v1h-1zM66.6 312.1h1v1h-1zM60.4 305.4h1v1h-1zM60.5 305.1h1v1h-1zM61 305.6h1v1h-1zM64.9 299.7h1v1h-1zM64.8 299.5h1v1h-1zM64.6 300h1v1h-1zM64.4 299.2h1v1h-1zM64.4 299.4h1v1h-1zM75 329.6h1v1h-1zM74.9 329.2h1v1h-1zM74.4 329.8h1v1h-1zM74.8 329.4h1v1h-1zM74.8 329.2h1v1h-1zM74.8 329.2h1v1h-1zM75.1 329.6h1v1h-1zM66.1 303.7h1v1h-1zM65.5 303.4h1v1h-1zM66.2 303.2h1v1h-1zM79 318.4h1v1h-1zM78.5 319.1h1v1h-1zM78.4 318.5h1v1h-1zM78.4 318.6h1v1h-1zM79.2 318.6h1v1h-1zM62.6 297.7h1v1h-1zM62.3 297.9h1v1h-1zM76.5 307.8h1v1h-1zM76.9 307.8h1v1h-1zM77.2 307.3h1v1h-1zM76.4 307.9h1v1h-1zM76.6 307.7h1v1h-1zM75.9 309.9h1v1h-1zM75.3 309.7h1v1h-1zM75.3 309.7h1v1h-1zM75.2 310h1v1h-1zM75.8 309.3h1v1h-1zM76 307.5h1v1h-1zM75.5 307.3h1v1h-1zM75.8 308h1v1h-1zM76 307.1h1v1h-1zM76 307.5h1v1h-1zM75.7 307.3h1v1h-1zM60.3 352.2h1v1h-1zM58 334.6h1v1h-1zM57.4 335h1v1h-1zM57.4 334.9h1v1h-1zM64.7 290.7h1v1h-1zM65 290.5h1v1h-1zM76.2 308.2h1v1h-1zM77 309h1v1h-1zM76.5 308.2h1v1h-1zM78.1 318.2h1v1h-1zM78 318.2h1v1h-1zM77.8 318.8h1v1h-1zM63.3 293.4h1v1h-1zM63.5 293.5h1v1h-1zM63.5 293.3h1v1h-1zM64.1 293.3h1v1h-1zM63.3 293h1v1h-1zM63.8 292.4h1v1h-1zM62.8 302h1v1h-1zM63.1 301.4h1v1h-1zM78.3 317.3h1v1h-1zM78.8 317.7h1v1h-1zM59.7 314.1h1v1h-1zM59.8 314.8h1v1h-1zM59.8 314.6h1v1h-1zM65.3 325.4h1v1h-1zM65.8 325.6h1v1h-1zM65.3 326h1v1h-1zM78 317.8h1v1h-1zM77.5 317.9h1v1h-1zM78.1 317.5h1v1h-1zM78.2 317.4h1v1h-1zM77.7 317.3h1v1h-1zM77.5 317.5h1v1h-1zM60.1 310.5h1v1h-1zM59.8 310.9h1v1h-1zM59.4 310.1h1v1h-1zM76.2 329.4h1v1h-1zM75.8 329.9h1v1h-1zM75.7 329.6h1v1h-1zM75.8 329.4h1v1h-1zM75.5 329.6h1v1h-1zM63.5 294.5h1v1h-1zM63.5 294.6h1v1h-1zM64.4 297.2h1v1h-1zM65 297.5h1v1h-1zM64.9 299.1h1v1h-1zM64.9 298.6h1v1h-1zM65 296.6h1v1h-1zM64.7 296.5h1v1h-1zM65 296.9h1v1h-1zM64.6 297h1v1h-1zM64.8 296.2h1v1h-1zM61.2 303.7h1v1h-1zM61.8 303.5h1v1h-1zM59.7 315.2h1v1h-1zM60.2 315.6h1v1h-1zM60 316h1v1h-1zM56.3 340.7h1v1h-1zM56.9 340.5h1v1h-1zM66.5 293.6h1v1h-1zM66.5 293.7h1v1h-1zM66.4 293.4h1v1h-1zM66.9 293.3h1v1h-1zM75.7 308.2h1v1h-1zM75.4 308.6h1v1h-1zM75.6 308.6h1v1h-1zM75.5 308.2h1v1h-1zM75.9 308.8h1v1h-1zM58.8 326.5h1v1h-1zM58.9 327h1v1h-1zM63.5 300.6h1v1h-1zM63.9 300.7h1v1h-1zM63.5 347.4h1v1h-1zM63.5 347.6h1v1h-1zM64.1 347.6h1v1h-1zM59.5 312.6h1v1h-1zM59.3 312.2h1v1h-1zM59.9 312.6h1v1h-1zM64.6 342.9h1v1h-1zM59.6 311.6h1v1h-1zM59.3 311.1h1v1h-1zM60.1 311.8h1v1h-1zM66.3 291.9h1v1h-1zM59.1 324.2h1v1h-1zM58.8 324.5h1v1h-1zM59.1 324.3h1v1h-1zM58.9 324.5h1v1h-1zM66.6 310.5h1v1h-1zM66.2 310.9h1v1h-1zM67.1 310.6h1v1h-1zM60.1 352.4h1v1h-1zM60.2 352.3h1v1h-1zM59.5 352.2h1v1h-1zM60.1 352.5h1v1h-1zM63.9 295.4h1v1h-1zM64 296h1v1h-1zM63.2 295.8h1v1h-1zM66 290.2h1v1h-1zM65.2 291h1v1h-1zM66.1 291h1v1h-1zM65.4 290.7h1v1h-1zM66.1 290.3h1v1h-1zM66.2 306.3h1v1h-1zM66.8 306.4h1v1h-1zM59.4 316.1h1v1h-1zM65.7 325h1v1h-1zM65.4 324.2h1v1h-1zM65.2 324.8h1v1h-1zM59.1 325.9h1v1h-1zM59 325.9h1v1h-1zM56.8 348.5h1v1h-1zM56.6 349h1v1h-1zM65.1 295.2h1v1h-1zM64.2 295.5h1v1h-1zM64.7 295.5h1v1h-1zM64.2 295.4h1v1h-1zM63.6 299.2h1v1h-1zM64.1 299.5h1v1h-1zM63.3 299.5h1v1h-1zM63.5 299.3h1v1h-1zM66.5 309.8h1v1h-1zM64.4 341.3h1v1h-1zM64.5 341.6h1v1h-1z"/>
<path fill="rgb(34,76,199)" fill-opacity="0.50" d="M58.8 331.4h1v1h-1zM58.9 331.4h1v1h-1zM58.9 331.2h1v1h-1zM57.8 335.4h1v1h-1zM57.7 336h1v1h-1zM58 335.8h1v1h-1zM57.5 335.5h1v1h-1zM66.4 292.7h1v1h-1zM67.1 292.3h1v1h-1zM66.4 292.9h1v1h-1zM66.8 292.8h1v1h-1zM66.3 292.5h1v1h-1zM66.5 292.3h1v1h-1zM66.3 292.1h1v1h-1zM64.1 301.9h1v1h-1zM64 301.8h1v1h-1zM63.7 301.9h1v1h-1zM64 297h1v1h-1zM64.1 296.4h1v1h-1zM63.7 296.4h1v1h-1zM63.5 296.9h1v1h-1zM63.5 296.5h1v1h-1zM66.1 294.9h1v1h-1zM65.5 294.7h1v1h-1zM65.6 294.2h1v1h-1zM65.2 295h1v1h-1zM66.1 294.5h1v1h-1zM60.1 318h1v1h-1zM59.8 317.1h1v1h-1zM59.9 317.9h1v1h-1zM59.4 317.8h1v1h-1zM65.6 323.7h1v1h-1zM65.7 322h1v1h-1zM65.5 321.9h1v1h-1zM65.5 321.6h1v1h-1zM65.4 321.5h1v1h-1zM66 322h1v1h-1zM65.4 320.5h1v1h-1zM56.5 341.2h1v1h-1zM66.5 308.3h1v1h-1zM66.8 308.9h1v1h-1zM66.2 322.9h1v1h-1zM65.8 322.6h1v1h-1zM65.9 323h1v1h-1zM65.3 322.3h1v1h-1zM65.5 322.5h1v1h-1zM64.1 298.3h1v1h-1zM63.4 298.2h1v1h-1zM64 298.3h1v1h-1zM63.6 298.1h1v1h-1zM63.9 299h1v1h-1zM63.9 298.3h1v1h-1zM64 298.6h1v1h-1zM63.8 298.9h1v1h-1zM63.4 298.9h1v1h-1zM64.2 299h1v1h-1zM63.7 298.8h1v1h-1zM64.8 340.2h1v1h-1zM65 340.6h1v1h-1zM64.8 341h1v1h-1zM64 297.5h1v1h-1zM63.8 298h1v1h-1zM64.4 302.8h1v1h-1zM64.7 302.7h1v1h-1zM64.5 302.8h1v1h-1zM66.6 307.2h1v1h-1zM66.8 307.2h1v1h-1zM66.7 307.7h1v1h-1zM67.1 307.5h1v1h-1zM66.2 307.2h1v1h-1zM66.8 307.3h1v1h-1zM66.7 307.5h1v1h-1zM66.4 308h1v1h-1zM65 294.9h1v1h-1zM64.9 295h1v1h-1zM64.3 294.8h1v1h-1zM60.6 306.5h1v1h-1zM60.2 306.6h1v1h-1zM61 307h1v1h-1zM60.4 306.7h1v1h-1zM56.9 347.3h1v1h-1zM56.7 348h1v1h-1zM56.4 347.6h1v1h-1zM57.1 347.7h1v1h-1zM59.7 318.3h1v1h-1zM59.2 318.8h1v1h-1zM65 336.8h1v1h-1zM64.4 336.8h1v1h-1zM62.8 302.7h1v1h-1zM62.8 302.8h1v1h-1zM62.9 302.9h1v1h-1zM64.5 291.3h1v1h-1zM65 291.5h1v1h-1zM65.1 291.4h1v1h-1zM64.7 291.9h1v1h-1zM64.2 291.8h1v1h-1zM65.3 319.5h1v1h-1zM65.7 319.3h1v1h-1zM64.6 339.9h1v1h-1zM64.6 339.4h1v1h-1zM64.7 339.8h1v1h-1zM65.3 305.1h1v1h-1zM65.4 304.4h1v1h-1zM65.4 304.7h1v1h-1zM65.2 304.2h1v1h-1zM65.4 314.1h1v1h-1zM65.6 314.4h1v1h-1zM66.1 314.8h1v1h-1zM64.6 338.3h1v1h-1zM62.3 350.4h1v1h-1zM62.5 350.2h1v1h-1zM62.9 350.2h1v1h-1zM62.8 350.5h1v1h-1zM64.7 329.3h1v1h-1zM64.4 329.6h1v1h-1zM64.4 293.8h1v1h-1zM64.7 293.6h1v1h-1zM64.5 293.9h1v1h-1zM61.3 305h1v1h-1zM61.2 304.3h1v1h-1zM61.4 304.8h1v1h-1zM65.3 315.4h1v1h-1zM64.3 335.4h1v1h-1zM64.6 330.3h1v1h-1zM64.9 330.1h1v1h-1zM65 330.8h1v1h-1zM65.5 291.1h1v1h-1zM65.5 292.1h1v1h-1zM66 291.1h1v1h-1zM65.6 291.8h1v1h-1zM65.6 291.2h1v1h-1zM66 292.1h1v1h-1zM65.6 291.6h1v1h-1zM57.6 336.2h1v1h-1zM63.3 346.6h1v1h-1zM64 346.6h1v1h-1zM59.8 319.7h1v1h-1zM60 319.9h1v1h-1zM66.2 293.7h1v1h-1zM65.5 293.5h1v1h-1zM66.2 293.6h1v1h-1zM65.9 293.8h1v1h-1zM65.3 293.8h1v1h-1zM66 293.4h1v1h-1zM65.2 313.3h1v1h-1zM58.6 332.7h1v1h-1zM61.2 307.5h1v1h-1zM60.9 307.2h1v1h-1zM60.4 307.4h1v1h-1zM64.8 329h1v1h-1zM64.9 328.2h1v1h-1zM64.3 329h1v1h-1zM64.5 328.2h1v1h-1zM64.4 328.8h1v1h-1zM65.5 318.9h1v1h-1zM65.5 318.7h1v1h-1zM65.7 318.9h1v1h-1zM66.1 318.1h1v1h-1zM63.5 302.9h1v1h-1zM63.7 302.3h1v1h-1zM63.8 302.9h1v1h-1zM63.6 302.5h1v1h-1zM63.3 302.1h1v1h-1zM63.5 302.2h1v1h-1zM65 331.2h1v1h-1zM64.3 332.1h1v1h-1zM64.5 331.9h1v1h-1zM64.4 331.4h1v1h-1zM65.9 317.1h1v1h-1zM65.5 316.7h1v1h-1zM57.3 350.2h1v1h-1zM57.7 350.2h1v1h-1zM56.8 345.3h1v1h-1zM56.7 345.3h1v1h-1zM57 345.4h1v1h-1zM56.7 345.5h1v1h-1zM65.2 292.2h1v1h-1zM66.2 292.6h1v1h-1zM66 292.3h1v1h-1zM65.4 292.6h1v1h-1zM66.1 292.9h1v1h-1zM57.1 343.6h1v1h-1zM62.1 352h1v1h-1zM61.3 351.6h1v1h-1zM61.4 351.2h1v1h-1zM64.5 334.6h1v1h-1zM64.8 334.3h1v1h-1zM64.8 334.3h1v1h-1zM64.6 335h1v1h-1zM65.3 317.7h1v1h-1zM65.5 318.1h1v1h-1zM65.6 317.2h1v1h-1zM59.2 329.2h1v1h-1zM59.3 329.9h1v1h-1zM60.6 308.7h1v1h-1zM64.3 332.1h1v1h-1zM65.1 332.2h1v1h-1zM64.6 332.3h1v1h-1zM64.6 332.1h1v1h-1zM63.1 303.8h1v1h-1zM62.5 304h1v1h-1zM62.9 303.9h1v1h-1zM57 344.2h1v1h-1zM56.5 344.5h1v1h-1zM56.6 344.7h1v1h-1zM60.1 320.5h1v1h-1zM60.2 320.6h1v1h-1zM59.5 320.5h1v1h-1zM59.7 320.4h1v1h-1zM64.3 303.5h1v1h-1zM64.8 303.9h1v1h-1zM64.9 303.5h1v1h-1zM64.3 303.3h1v1h-1zM64.3 303.5h1v1h-1zM64.8 303.8h1v1h-1zM64.4 303.8h1v1h-1zM64.3 333.9h1v1h-1zM64.6 333.7h1v1h-1zM64.9 333.6h1v1h-1zM64.8 333.5h1v1h-1zM64.2 333.2h1v1h-1zM65.4 305.8h1v1h-1zM65.7 305.3h1v1h-1zM66 305.8h1v1h-1zM65.6 305.8h1v1h-1zM65.9 305.7h1v1h-1zM65.6 305.6h1v1h-1zM59.9 328.8h1v1h-1zM59.4 328.3h1v1h-1zM66.2 312.7h1v1h-1zM66 312.9h1v1h-1zM65.3 312.5h1v1h-1zM65.5 312.2h1v1h-1zM66 312.7h1v1h-1zM65.8 312.7h1v1h-1zM62.4 349.9h1v1h-1zM62.2 349.5h1v1h-1zM62.7 350h1v1h-1zM62.9 349.7h1v1h-1zM63.1 349.6h1v1h-1zM63.2 349.9h1v1h-1zM65.2 327.5h1v1h-1zM64.8 327.6h1v1h-1zM65 327.2h1v1h-1zM58.7 333.4h1v1h-1zM58.3 333.7h1v1h-1zM58.7 333.1h1v1h-1zM60.1 330.3h1v1h-1zM59.8 331h1v1h-1zM59.6 330.7h1v1h-1zM60.3 309.3h1v1h-1zM61.7 306h1v1h-1zM61.9 305.5h1v1h-1zM61.6 305.3h1v1h-1zM58.2 352.1h1v1h-1zM58.3 351.6h1v1h-1zM58.3 351.8h1v1h-1zM58.8 351.3h1v1h-1zM58.8 351.8h1v1h-1zM58.1 337.6h1v1h-1zM58 337.2h1v1h-1zM57.3 337.4h1v1h-1zM58.1 337.3h1v1h-1zM57.7 338.1h1v1h-1zM58 337.5h1v1h-1zM59.5 321.5h1v1h-1zM60 321.7h1v1h-1zM60 321.4h1v1h-1z"/>
<path fill="rgb(31,130,210)" fill-opacity="0.53" d="M59.9 322.3h1v1h-1zM63.9 304.1h1v1h-1zM63.6 303.3h1v1h-1zM63.5 303.7h1v1h-1zM64.1 303.9h1v1h-1zM63.7 304.1h1v1h-1zM63.9 303.1h1v1h-1zM61 310.8h1v1h-1zM61 310.7h1v1h-1zM61.1 310.3h1v1h-1zM61.1 311h1v1h-1zM59.5 328.1h1v1h-1zM59.4 327.9h1v1h-1zM59.6 327.5h1v1h-1zM60 327.9h1v1h-1zM65.8 311.3h1v1h-1zM65.8 311.2h1v1h-1zM66 311.5h1v1h-1zM65.3 311.5h1v1h-1zM62.6 348.6h1v1h-1zM62.7 348.2h1v1h-1zM62.4 348.1h1v1h-1zM63.4 345.6h1v1h-1zM64 346h1v1h-1zM64 345.7h1v1h-1zM58.5 334.2h1v1h-1zM58.9 334.7h1v1h-1zM59.5 323.4h1v1h-1zM59.9 323.8h1v1h-1zM59.5 323.7h1v1h-1zM59.9 323.4h1v1h-1zM64.4 326.8h1v1h-1zM65.1 326.5h1v1h-1zM64.3 326.4h1v1h-1zM64.5 326.7h1v1h-1zM64.2 326.4h1v1h-1zM64.9 326.2h1v1h-1zM66.1 306.3h1v1h-1zM66.1 306.6h1v1h-1zM66.1 306.9h1v1h-1zM65.9 306.6h1v1h-1zM63.2 304.6h1v1h-1zM62.5 304.9h1v1h-1zM63 304.3h1v1h-1zM65.7 310.9h1v1h-1zM65.3 310.8h1v1h-1zM66.1 310.2h1v1h-1zM66.2 310.5h1v1h-1zM65.8 310.5h1v1h-1zM65.8 309.4h1v1h-1zM60.1 331.3h1v1h-1zM59.2 331.6h1v1h-1zM59.6 331.5h1v1h-1zM59.2 331.8h1v1h-1zM64.3 304.4h1v1h-1zM64.8 304.6h1v1h-1zM65.2 304.9h1v1h-1zM60.9 311.9h1v1h-1zM60.9 312h1v1h-1zM60.3 311.5h1v1h-1zM61 311.9h1v1h-1zM60.7 311.1h1v1h-1zM60.2 311.1h1v1h-1zM62.1 306.1h1v1h-1zM61.7 306.2h1v1h-1zM61.7 306.2h1v1h-1zM62.2 306.4h1v1h-1zM61.4 306.1h1v1h-1zM61.9 307.1h1v1h-1zM62 306.4h1v1h-1zM61 313.8h1v1h-1zM61 313.7h1v1h-1zM60.9 313.2h1v1h-1zM61.1 313.2h1v1h-1zM61 313.6h1v1h-1zM66 308.2h1v1h-1zM65.6 308.3h1v1h-1zM65.7 308.6h1v1h-1zM66 308.5h1v1h-1zM66.2 309h1v1h-1zM65.4 308.2h1v1h-1zM60.8 313h1v1h-1zM60.3 312.3h1v1h-1zM61.2 312.8h1v1h-1zM60.8 312.8h1v1h-1zM60.5 312.2h1v1h-1zM60.6 313.1h1v1h-1zM60.2 324.8h1v1h-1zM59.3 324.5h1v1h-1zM59.2 325h1v1h-1zM59.7 324.5h1v1h-1zM59.6 325h1v1h-1zM59.8 326.5h1v1h-1zM60.2 326.7h1v1h-1zM59.7 326.1h1v1h-1zM60 326.5h1v1h-1zM59.8 326.8h1v1h-1zM60.7 314.7h1v1h-1zM61 314.5h1v1h-1zM60.6 314.2h1v1h-1zM61.1 314.1h1v1h-1zM60.3 315h1v1h-1zM66 307.2h1v1h-1zM57.8 338.8h1v1h-1zM59.7 325.4h1v1h-1zM60.3 351.5h1v1h-1zM60.3 351.7h1v1h-1zM60.9 351.5h1v1h-1zM60.2 351.9h1v1h-1zM60.3 352.1h1v1h-1zM61.2 352h1v1h-1zM60.9 351.9h1v1h-1zM60.7 352.1h1v1h-1zM60.8 351.5h1v1h-1zM60.2 351.4h1v1h-1zM61.1 351.4h1v1h-1zM60.2 351.3h1v1h-1zM60.2 352h1v1h-1zM63.7 329.8h1v1h-1zM63.4 329.5h1v1h-1zM63.4 329.4h1v1h-1zM63.4 329.4h1v1h-1zM64.2 320.3h1v1h-1zM64.3 320.8h1v1h-1zM65.1 320.6h1v1h-1zM65.1 320.6h1v1h-1zM64.8 320.3h1v1h-1zM64.7 321.7h1v1h-1zM64.7 321.6h1v1h-1zM64.4 321.2h1v1h-1zM61.3 307.6h1v1h-1zM62 308h1v1h-1zM61.5 307.2h1v1h-1zM61.4 307.3h1v1h-1zM61 315.5h1v1h-1zM59.4 351.2h1v1h-1zM59.7 351.5h1v1h-1zM59.9 351.7h1v1h-1zM59.9 351.1h1v1h-1zM60.1 352h1v1h-1zM60.2 352h1v1h-1zM60.2 351.3h1v1h-1zM59.3 351.9h1v1h-1zM59.8 352h1v1h-1zM59.8 352h1v1h-1zM63 347.3h1v1h-1zM62.6 347.7h1v1h-1zM62.6 347.4h1v1h-1zM62.3 347.3h1v1h-1zM62.3 347.6h1v1h-1zM63.3 305h1v1h-1zM63.9 304.3h1v1h-1zM63.9 305h1v1h-1zM63.4 304.5h1v1h-1zM64.1 304.5h1v1h-1zM63.7 330.5h1v1h-1zM63.8 331.1h1v1h-1zM64.1 330.7h1v1h-1zM64.1 331h1v1h-1zM64.2 325.1h1v1h-1zM64.3 324.7h1v1h-1zM64.7 324.9h1v1h-1zM64.3 324.4h1v1h-1zM64.7 324.2h1v1h-1zM63.9 329.1h1v1h-1zM63.4 328.4h1v1h-1zM63.6 329h1v1h-1zM58.9 335.2h1v1h-1zM58.9 335.3h1v1h-1zM58.5 335.5h1v1h-1zM59 335.3h1v1h-1zM64.2 322.8h1v1h-1zM64.2 322.4h1v1h-1zM64.7 322.1h1v1h-1zM64.5 322.4h1v1h-1zM63.3 335.2h1v1h-1zM63.3 335.8h1v1h-1zM63.8 335.7h1v1h-1zM63.7 335.6h1v1h-1zM63.6 335.2h1v1h-1zM61.6 350.4h1v1h-1zM61.8 350.8h1v1h-1zM61.4 350.7h1v1h-1zM61.9 350.4h1v1h-1zM61.4 350.2h1v1h-1zM62.1 350.5h1v1h-1zM62 350.5h1v1h-1zM64.4 323.6h1v1h-1zM65.1 323.9h1v1h-1zM64.7 323.4h1v1h-1zM65.2 323.9h1v1h-1zM64.3 324h1v1h-1zM64.2 323.9h1v1h-1zM64.9 323.5h1v1h-1zM59.8 332.9h1v1h-1zM59.6 332.2h1v1h-1zM59.9 332.6h1v1h-1zM60 332.6h1v1h-1zM59.7 332.4h1v1h-1zM60.3 316.6h1v1h-1zM60.7 316.9h1v1h-1zM60.5 316.9h1v1h-1zM61 316.1h1v1h-1zM62.2 305.4h1v1h-1zM62.5 305.9h1v1h-1zM62.4 305.9h1v1h-1zM62.7 305.8h1v1h-1zM62.9 306h1v1h-1zM62.8 305.9h1v1h-1zM62.4 305.9h1v1h-1zM63.2 305.6h1v1h-1zM62.3 305.6h1v1h-1zM63.1 305.9h1v1h-1zM64.7 319.2h1v1h-1zM64.5 319.3h1v1h-1zM64.7 319.7h1v1h-1zM64.3 319.7h1v1h-1zM65.1 319.3h1v1h-1zM65 319.5h1v1h-1zM64.6 314.8h1v1h-1zM64.9 314.5h1v1h-1zM65 314.7h1v1h-1zM64.8 314.8h1v1h-1zM64.6 314.4h1v1h-1zM64.7 314.5h1v1h-1zM64.5 314.2h1v1h-1zM62.1 308.2h1v1h-1zM61.3 308.4h1v1h-1zM61.8 308.2h1v1h-1zM62 308.6h1v1h-1zM61.7 308.6h1v1h-1zM61.6 308.3h1v1h-1zM62.1 308.8h1v1h-1zM61.3 308.8h1v1h-1zM62.1 308.5h1v1h-1zM64.8 305.5h1v1h-1zM64.5 306h1v1h-1zM64.3 305.4h1v1h-1zM64.3 305.7h1v1h-1zM64.7 305.9h1v1h-1zM57.6 348.6h1v1h-1zM57.9 348.7h1v1h-1zM57.8 348.6h1v1h-1zM57.7 348.4h1v1h-1zM57.5 348.8h1v1h-1zM58.1 348.8h1v1h-1zM58.2 348.9h1v1h-1zM58 349h1v1h-1zM57.8 349h1v1h-1zM58 349h1v1h-1zM63.7 335.1h1v1h-1zM64.1 334.5h1v1h-1zM64.1 334.4h1v1h-1zM63.8 334.7h1v1h-1zM64.1 334.9h1v1h-1zM64 334.4h1v1h-1zM63.8 334.9h1v1h-1zM61 317.4h1v1h-1zM60.4 317.3h1v1h-1zM63.5 331.5h1v1h-1zM64.5 315.6h1v1h-1zM65.1 316.1h1v1h-1zM64.5 316h1v1h-1zM65 315.4h1v1h-1zM64.4 316h1v1h-1zM65.1 313.3h1v1h-1zM64.6 313.5h1v1h-1zM64.8 313.6h1v1h-1z"/>
<path fill="rgb(33,164,186)" fill-opacity="0.57" d="M63.6 336.1h1v1h-1zM63.4 336.8h1v1h-1zM63.8 336.5h1v1h-1zM63.4 336.2h1v1h-1zM60.3 318.7h1v1h-1zM60.8 318.2h1v1h-1zM60.7 318.9h1v1h-1zM60.5 329.5h1v1h-1zM60.8 330h1v1h-1zM61 329.8h1v1h-1zM60.3 329.8h1v1h-1zM60.6 329.6h1v1h-1zM60.3 329.5h1v1h-1zM60.9 329.8h1v1h-1zM60.9 329.5h1v1h-1zM60.6 329.1h1v1h-1zM58.1 339.5h1v1h-1zM57.3 339.3h1v1h-1zM57.4 339.9h1v1h-1zM63.6 345h1v1h-1zM58.8 350.4h1v1h-1zM58.5 351h1v1h-1zM59 351h1v1h-1zM58.6 351h1v1h-1zM58.8 350.8h1v1h-1zM58.3 350.3h1v1h-1zM59.1 350.4h1v1h-1zM58.4 350.3h1v1h-1zM59.2 350.3h1v1h-1zM61.7 310h1v1h-1zM62 309.7h1v1h-1zM61.5 309.1h1v1h-1zM61.2 309.3h1v1h-1zM64.1 333.9h1v1h-1zM63.8 333.4h1v1h-1zM63.5 333.4h1v1h-1zM61.1 319.7h1v1h-1zM60.5 319.9h1v1h-1zM60.5 319.8h1v1h-1zM60.6 319.3h1v1h-1zM60.5 319.2h1v1h-1zM60.8 319.8h1v1h-1zM63.6 332.8h1v1h-1zM63.6 332.4h1v1h-1zM63.8 332.9h1v1h-1zM64 332.6h1v1h-1zM63.6 332.4h1v1h-1zM64.6 318.7h1v1h-1zM65.2 318.4h1v1h-1zM57.4 348h1v1h-1zM57.7 347.5h1v1h-1zM57.7 347.6h1v1h-1zM57.4 347.1h1v1h-1zM57.6 347.4h1v1h-1zM60.3 330.2h1v1h-1zM61.2 330.9h1v1h-1zM64.2 316.9h1v1h-1zM65 317h1v1h-1zM65.1 316.4h1v1h-1zM64.6 316.7h1v1h-1zM64.2 316.5h1v1h-1zM63.9 305.4h1v1h-1zM63.3 305.9h1v1h-1zM63.6 305.3h1v1h-1zM63.3 305.8h1v1h-1zM63.3 305.8h1v1h-1zM62.8 306.7h1v1h-1zM62.7 306.7h1v1h-1zM62.4 306.6h1v1h-1zM62.3 306.4h1v1h-1zM64.1 327.5h1v1h-1zM64.1 327.3h1v1h-1zM60.6 328.7h1v1h-1zM61.2 329h1v1h-1zM61.1 328.5h1v1h-1zM61 328.4h1v1h-1zM59.5 333.9h1v1h-1zM59.4 334h1v1h-1zM60.2 333.2h1v1h-1zM59.7 334.1h1v1h-1zM59.8 333.9h1v1h-1zM64.2 307h1v1h-1zM64.3 306.1h1v1h-1zM65.1 306.5h1v1h-1zM64.3 306.6h1v1h-1zM64.7 306.7h1v1h-1zM65 306.2h1v1h-1zM64.3 306.4h1v1h-1zM64.6 306.4h1v1h-1zM64.5 306.4h1v1h-1zM65 317.4h1v1h-1zM64.5 317.4h1v1h-1zM64.9 317.7h1v1h-1zM64.8 317.3h1v1h-1zM64.5 317.8h1v1h-1zM64.4 318.1h1v1h-1zM64.4 317.6h1v1h-1zM64.8 313h1v1h-1zM65.1 312.2h1v1h-1zM64.2 313h1v1h-1zM60.9 320.6h1v1h-1zM60.3 321h1v1h-1zM60.6 320.8h1v1h-1zM60.6 320.5h1v1h-1zM61.6 310.4h1v1h-1zM62.1 311h1v1h-1zM61.3 310.8h1v1h-1zM61.5 310.6h1v1h-1zM61.7 310.6h1v1h-1zM57.3 346.1h1v1h-1zM58 346.6h1v1h-1zM57.7 347.1h1v1h-1zM57.9 346.5h1v1h-1zM58.4 336.4h1v1h-1zM58.5 336.3h1v1h-1zM58.6 336.7h1v1h-1zM58.3 337h1v1h-1zM62 349.9h1v1h-1zM61.5 349.3h1v1h-1zM62 349.3h1v1h-1zM61.4 349.8h1v1h-1zM62.1 349.2h1v1h-1zM64.9 307.8h1v1h-1zM64.3 307.1h1v1h-1zM64.7 307.9h1v1h-1zM64.2 307.5h1v1h-1zM64.7 307.5h1v1h-1zM64.7 307.4h1v1h-1zM64.3 308h1v1h-1zM64.6 307.1h1v1h-1zM64.8 307.8h1v1h-1zM65.1 308h1v1h-1zM62.9 307.7h1v1h-1zM62.7 329.9h1v1h-1zM63 330h1v1h-1zM63 329.5h1v1h-1zM62.7 329.6h1v1h-1zM62.7 329.3h1v1h-1zM62.4 329.6h1v1h-1zM64.3 308.4h1v1h-1zM64.3 308.5h1v1h-1zM64.3 309h1v1h-1zM65 309.6h1v1h-1zM64.9 309.7h1v1h-1zM64.9 309.5h1v1h-1zM64.4 309.6h1v1h-1zM64.2 309.3h1v1h-1zM65 309.4h1v1h-1zM64.6 309.2h1v1h-1zM63.7 338h1v1h-1zM64.2 338h1v1h-1zM63.3 337.8h1v1h-1zM63.6 337.3h1v1h-1zM63.4 337.4h1v1h-1zM63.6 337.9h1v1h-1zM57.9 340.6h1v1h-1zM57.7 340.6h1v1h-1zM58 341.1h1v1h-1zM57.7 341h1v1h-1zM62.4 346.1h1v1h-1zM62.9 346.4h1v1h-1zM61.1 321.9h1v1h-1zM61.2 321.8h1v1h-1zM60.5 321.4h1v1h-1zM60.4 321.3h1v1h-1zM60.8 321.3h1v1h-1zM60.6 321.5h1v1h-1zM61.2 321.3h1v1h-1zM60.4 321.8h1v1h-1zM60.4 321.4h1v1h-1zM60.5 321.4h1v1h-1zM60.5 331.1h1v1h-1zM60.7 332h1v1h-1zM61.2 331.5h1v1h-1zM60.5 331.9h1v1h-1zM60.8 332h1v1h-1zM60.8 331.2h1v1h-1zM63.9 306.4h1v1h-1zM63.9 306.4h1v1h-1zM64 306.6h1v1h-1zM64.1 306.6h1v1h-1zM63.3 343.8h1v1h-1zM63.3 343.5h1v1h-1zM63.7 343.5h1v1h-1zM63.4 343.8h1v1h-1zM64.1 343.7h1v1h-1zM63.4 343.8h1v1h-1zM63.6 343.7h1v1h-1zM62 312h1v1h-1zM62.1 311.3h1v1h-1zM61.8 311.6h1v1h-1zM64.2 311.2h1v1h-1zM64.4 311.7h1v1h-1zM64.2 312h1v1h-1zM64.6 312h1v1h-1zM65.1 311.9h1v1h-1zM65.1 311.4h1v1h-1zM65.2 310.4h1v1h-1zM64.6 310.6h1v1h-1zM64.8 310.9h1v1h-1zM64.3 310.5h1v1h-1zM64.4 311.1h1v1h-1zM65.2 310.6h1v1h-1zM64.6 310.5h1v1h-1zM61 322.5h1v1h-1zM60.9 323h1v1h-1zM60.3 322.5h1v1h-1zM60.9 322.9h1v1h-1zM60.6 328.1h1v1h-1zM60.7 327.2h1v1h-1zM60.6 328.1h1v1h-1zM60.4 327.8h1v1h-1zM60.8 327.2h1v1h-1zM60.9 327.8h1v1h-1zM62.3 330.9h1v1h-1zM62.8 330.4h1v1h-1zM62.7 330.2h1v1h-1zM63 330.8h1v1h-1zM62.2 330.7h1v1h-1zM62.9 330.4h1v1h-1zM62.2 312.5h1v1h-1zM62.2 312.8h1v1h-1zM61.4 312.7h1v1h-1zM61.6 312.3h1v1h-1zM61.8 313h1v1h-1zM62.1 312.5h1v1h-1zM61.8 313h1v1h-1zM62 313.2h1v1h-1zM61.6 313.5h1v1h-1zM62.1 313.2h1v1h-1zM61.6 313.3h1v1h-1zM63.1 328.8h1v1h-1zM62.4 328.2h1v1h-1zM62.4 309h1v1h-1zM62.8 308.2h1v1h-1zM63 308.9h1v1h-1zM62.4 309h1v1h-1zM63 308.7h1v1h-1zM62.9 308.8h1v1h-1zM63.1 308.5h1v1h-1zM60.5 323.5h1v1h-1zM61.1 323.4h1v1h-1zM61.1 323.9h1v1h-1zM60.8 323.4h1v1h-1zM60.2 323.7h1v1h-1zM60.4 323.9h1v1h-1zM60 335h1v1h-1zM59.9 334.9h1v1h-1zM59.4 334.2h1v1h-1zM59.6 334.8h1v1h-1zM59.4 334.2h1v1h-1zM60.1 334.2h1v1h-1zM60.1 334.9h1v1h-1zM62 329.9h1v1h-1zM61.4 329.7h1v1h-1zM61.6 329.8h1v1h-1zM61.5 330h1v1h-1zM63.3 326.4h1v1h-1zM63.4 326.5h1v1h-1zM63.3 326.3h1v1h-1zM63.6 326.9h1v1h-1zM64.2 326.5h1v1h-1zM64 326.7h1v1h-1zM63.3 326.5h1v1h-1zM63.3 326.7h1v1h-1zM57.2 345.9h1v1h-1zM57.9 345.8h1v1h-1zM58.1 345.9h1v1h-1zM57.3 345.5h1v1h-1zM58.1 345.7h1v1h-1zM60.3 350.2h1v1h-1zM60.4 350.3h1v1h-1zM60.5 350.9h1v1h-1zM63.6 343h1v1h-1zM63.3 342.4h1v1h-1zM63.7 341.5h1v1h-1zM63.5 341.4h1v1h-1zM63.8 342.1h1v1h-1zM63.4 341.1h1v1h-1zM63.4 341.9h1v1h-1zM63.2 307.4h1v1h-1zM63.4 307.6h1v1h-1zM63.4 307.3h1v1h-1zM63.7 307.2h1v1h-1zM63.3 307.2h1v1h-1zM64.2 307.4h1v1h-1zM60.3 324.9h1v1h-1zM60.5 325h1v1h-1zM60.3 324.6h1v1h-1zM60.8 324.9h1v1h-1zM60.4 324.4h1v1h-1zM60.9 324.4h1v1h-1zM60.3 324.8h1v1h-1zM60.6 324.4h1v1h-1zM63.4 340.9h1v1h-1zM63.4 340.1h1v1h-1zM62.1 314.4h1v1h-1zM62.1 315h1v1h-1zM61.9 314.6h1v1h-1zM61.5 314.4h1v1h-1zM61.6 314.5h1v1h-1zM61.3 314.6h1v1h-1zM63.5 338.9h1v1h-1zM64.2 338.1h1v1h-1zM63.4 338.9h1v1h-1zM63.2 339h1v1h-1zM63.3 338.2h1v1h-1zM63.6 338.2h1v1h-1zM63.9 338.5h1v1h-1zM62 330.2h1v1h-1zM61.8 330.4h1v1h-1zM62.1 330.8h1v1h-1zM61.5 330.5h1v1h-1zM61.5 331h1v1h-1zM62 330.7h1v1h-1zM61.9 330.6h1v1h-1zM62 330.4h1v1h-1zM57.6 342.1h1v1h-1zM57.6 341.6h1v1h-1zM57.4 341.7h1v1h-1zM58 342h1v1h-1zM59.6 351h1v1h-1zM60 350.2h1v1h-1zM60.2 350.2h1v1h-1zM61.4 348.6h1v1h-1zM61.4 348.2h1v1h-1zM61.8 348.9h1v1h-1zM61.9 349.1h1v1h-1zM61.5 348.8h1v1h-1zM61.1 326.6h1v1h-1zM60.3 327.1h1v1h-1zM60.5 326.1h1v1h-1zM60.9 326.6h1v1h-1zM60.9 326.3h1v1h-1zM61.1 326.5h1v1h-1zM60.6 326.6h1v1h-1zM59 349.2h1v1h-1zM58.2 350h1v1h-1zM58.9 349.1h1v1h-1zM58.9 349.8h1v1h-1zM64.1 339.7h1v1h-1zM64 339.7h1v1h-1zM63.6 339.5h1v1h-1zM63.7 339.2h1v1h-1zM64 339.4h1v1h-1zM64 339.4h1v1h-1zM60.5 325.2h1v1h-1zM60.4 326h1v1h-1zM61.2 325.8h1v1h-1zM61 325.3h1v1h-1zM61 325.9h1v1h-1zM60.6 326h1v1h-1zM62.2 309.6h1v1h-1zM63.1 309.5h1v1h-1zM62.2 309.9h1v1h-1zM62.3 309.3h1v1h-1zM62.4 309.5h1v1h-1zM62.3 309.8h1v1h-1zM62.9 309.7h1v1h-1zM61.9 328.4h1v1h-1zM61.9 328.8h1v1h-1zM61.4 328.7h1v1h-1zM62 328.9h1v1h-1zM61.9 328.9h1v1h-1zM61.2 328.4h1v1h-1zM61.9 328.2h1v1h-1zM64.1 308.8h1v1h-1zM63.8 308.2h1v1h-1zM64.1 308.9h1v1h-1zM63.4 309h1v1h-1zM63.8 308.9h1v1h-1zM63.5 308.3h1v1h-1zM63.5 308.9h1v1h-1zM63.8 308.4h1v1h-1zM64 308.7h1v1h-1zM60.9 333h1v1h-1zM61.1 332.4h1v1h-1zM61 332.9h1v1h-1zM60.8 332.4h1v1h-1zM60.6 332.4h1v1h-1zM60.6 333.1h1v1h-1zM60.6 332.1h1v1h-1zM64.1 321.6h1v1h-1zM63.9 321.7h1v1h-1zM63.5 321.9h1v1h-1zM63.4 321.2h1v1h-1zM64.2 322h1v1h-1zM64.1 321.8h1v1h-1zM63 334.3h1v1h-1zM63.2 334.3h1v1h-1zM62.9 334.5h1v1h-1zM62.6 335h1v1h-1zM62.5 334.9h1v1h-1zM63 334.5h1v1h-1zM62.3 334.2h1v1h-1zM63 334.3h1v1h-1zM63.9 320.8h1v1h-1zM63.3 320.3h1v1h-1z"/>
<path fill="rgb(39,186,139)" fill-opacity="0.60" d="M63.6 325.9h1v1h-1zM64 325.9h1v1h-1zM63.2 325.9h1v1h-1zM63.9 325.5h1v1h-1zM63.2 325.6h1v1h-1zM63.7 325.6h1v1h-1zM63.2 325.1h1v1h-1zM63.3 325.8h1v1h-1zM63.8 325.5h1v1h-1zM62.3 331.7h1v1h-1zM62.5 331.6h1v1h-1zM62.5 331.6h1v1h-1zM62.5 332.1h1v1h-1zM62.8 331.5h1v1h-1zM63.1 332h1v1h-1zM63.2 331.6h1v1h-1zM62.3 332h1v1h-1zM62.5 331.6h1v1h-1zM62.6 331.2h1v1h-1zM64.2 314.2h1v1h-1zM63.2 315h1v1h-1zM63.5 314.6h1v1h-1zM63.6 314.8h1v1h-1zM63.4 313.8h1v1h-1zM63.3 313.2h1v1h-1zM63.4 313.7h1v1h-1zM63.6 313.2h1v1h-1zM63.3 314h1v1h-1zM64 313.9h1v1h-1zM63.3 313.4h1v1h-1zM63.5 313.7h1v1h-1zM63.5 313.9h1v1h-1zM63.4 313.8h1v1h-1zM63.5 322.2h1v1h-1zM63.4 322.8h1v1h-1zM64 322.3h1v1h-1zM63.7 322.6h1v1h-1zM63.6 322.7h1v1h-1zM64.2 323.1h1v1h-1zM63.9 322.5h1v1h-1zM63.8 309.1h1v1h-1zM63.5 309.5h1v1h-1zM64 309.9h1v1h-1zM62.8 333.3h1v1h-1zM62.8 333.2h1v1h-1zM63 333.9h1v1h-1zM63 333.4h1v1h-1zM63.2 333.6h1v1h-1zM63.3 324.5h1v1h-1zM63.6 325.1h1v1h-1zM63.5 325h1v1h-1zM64 324.9h1v1h-1zM63.5 324.5h1v1h-1zM64 324.2h1v1h-1zM63.2 324.1h1v1h-1zM63.7 324.6h1v1h-1zM63.5 323.9h1v1h-1zM63.5 324h1v1h-1zM64 323.9h1v1h-1zM63.8 323.7h1v1h-1zM64 323.7h1v1h-1zM63.9 323.5h1v1h-1zM61.3 315.2h1v1h-1zM61.7 315.4h1v1h-1zM61.5 315.5h1v1h-1zM61.8 315.3h1v1h-1zM62.2 315.5h1v1h-1zM61.5 315.3h1v1h-1zM61.4 315.5h1v1h-1zM61.4 315.2h1v1h-1zM62.1 315.4h1v1h-1zM58 344.9h1v1h-1zM57.4 344.9h1v1h-1zM57.8 344.9h1v1h-1zM58.1 345h1v1h-1zM57.3 344.3h1v1h-1zM57.9 344.1h1v1h-1zM58.1 344.8h1v1h-1zM57.7 345h1v1h-1zM62.7 332.8h1v1h-1zM63.2 333h1v1h-1zM62.5 332.8h1v1h-1zM62.8 332.7h1v1h-1zM63.1 332.5h1v1h-1zM62.4 332.6h1v1h-1zM62.3 332.7h1v1h-1zM62.5 332.6h1v1h-1zM62.9 332.4h1v1h-1zM62.4 332.8h1v1h-1zM62.9 333h1v1h-1zM58 342.1h1v1h-1zM57.3 342.3h1v1h-1zM58.1 342.6h1v1h-1zM58.2 342.6h1v1h-1zM57.3 342.4h1v1h-1zM58.2 342.3h1v1h-1zM57.9 342.3h1v1h-1zM62.8 310.9h1v1h-1zM62.3 310.9h1v1h-1zM63.1 310.3h1v1h-1zM63.1 310.7h1v1h-1zM62.8 310.5h1v1h-1zM62.5 310.8h1v1h-1zM62.7 328h1v1h-1zM62.3 328.1h1v1h-1zM62.6 327.3h1v1h-1zM62.6 327.3h1v1h-1zM62.8 327.1h1v1h-1zM62.5 327.7h1v1h-1zM62.4 328h1v1h-1zM62.8 327.6h1v1h-1zM62.5 327.8h1v1h-1zM61.6 331.4h1v1h-1zM61.8 332h1v1h-1zM61.9 331.4h1v1h-1zM62 331.7h1v1h-1zM61.7 331.9h1v1h-1zM62 331.7h1v1h-1zM61.8 332h1v1h-1zM60.3 333.5h1v1h-1zM60.7 333.2h1v1h-1zM60.2 333.9h1v1h-1zM60.5 333.9h1v1h-1zM60.5 333.6h1v1h-1zM61 333.6h1v1h-1zM59 337.6h1v1h-1zM58.3 337.6h1v1h-1zM58.9 338h1v1h-1zM58.6 337.7h1v1h-1zM59.1 337.5h1v1h-1zM58.3 337.9h1v1h-1zM64.1 319.3h1v1h-1zM63.2 319.2h1v1h-1zM64.2 319.4h1v1h-1zM63.3 319.7h1v1h-1zM64 312.1h1v1h-1zM63.9 313.1h1v1h-1zM63.7 312.9h1v1h-1zM64.1 312.4h1v1h-1zM63.3 312.9h1v1h-1zM63.3 313.1h1v1h-1zM64 312.8h1v1h-1zM63.4 312.7h1v1h-1zM63.5 315.6h1v1h-1zM63.9 315.1h1v1h-1zM63.9 315.9h1v1h-1zM63.7 315.7h1v1h-1zM63 313.3h1v1h-1zM63.1 313.4h1v1h-1zM63.1 313.5h1v1h-1zM62.6 313.4h1v1h-1zM59.7 335.2h1v1h-1zM59.2 335.7h1v1h-1zM59.6 335.2h1v1h-1zM59.8 335.4h1v1h-1zM59.6 336h1v1h-1zM59.5 335.5h1v1h-1zM63.9 310.4h1v1h-1zM63.9 311h1v1h-1zM63.4 310.2h1v1h-1zM63.9 310.3h1v1h-1zM63.2 310.5h1v1h-1zM64 311h1v1h-1zM63.6 311h1v1h-1zM57.7 344h1v1h-1zM57.7 343.2h1v1h-1zM57.7 343.9h1v1h-1zM57.5 343.2h1v1h-1zM62.3 311.1h1v1h-1zM62.3 311.9h1v1h-1zM62.3 311.2h1v1h-1zM63.1 311.7h1v1h-1zM62.3 312.1h1v1h-1zM62.5 311.9h1v1h-1zM62.7 311.3h1v1h-1zM62.6 311.4h1v1h-1zM62.7 312.5h1v1h-1zM63 312.8h1v1h-1zM62.7 312.7h1v1h-1zM62.9 312.3h1v1h-1zM62.6 312.8h1v1h-1zM62.5 312.4h1v1h-1zM62.6 312.8h1v1h-1zM61.9 327.6h1v1h-1zM61.8 327.3h1v1h-1zM61.2 327.4h1v1h-1zM61.8 327.2h1v1h-1zM62 327.5h1v1h-1zM62 327.9h1v1h-1zM61.8 327.8h1v1h-1zM61.6 327.5h1v1h-1zM61.2 328h1v1h-1zM61.3 327.4h1v1h-1zM62.1 327.4h1v1h-1zM61.8 347.4h1v1h-1zM61.5 347.5h1v1h-1zM62 347.9h1v1h-1zM61.7 347.6h1v1h-1zM63.7 311.4h1v1h-1zM63.6 311.6h1v1h-1zM63.8 311.4h1v1h-1zM63.6 311.9h1v1h-1zM63.6 311.1h1v1h-1zM63.9 311.2h1v1h-1zM63.3 311.6h1v1h-1zM63.4 311.2h1v1h-1zM63.3 311.8h1v1h-1zM63.8 311.5h1v1h-1zM62.8 314.9h1v1h-1zM63.1 315.1h1v1h-1zM63.1 314.6h1v1h-1zM63 314.7h1v1h-1zM62.6 314.7h1v1h-1zM62.7 314.5h1v1h-1zM61.4 332.9h1v1h-1zM61.7 332.8h1v1h-1zM61.5 332.7h1v1h-1zM61.2 333h1v1h-1zM61.9 332.2h1v1h-1zM61.8 333h1v1h-1zM61.3 320.6h1v1h-1zM61.7 320.2h1v1h-1zM62.1 320.1h1v1h-1zM61.6 320.2h1v1h-1zM62 320.4h1v1h-1zM61.7 316.4h1v1h-1zM61.7 316.9h1v1h-1zM62.2 316.2h1v1h-1zM61.8 316.2h1v1h-1zM61.7 317h1v1h-1zM62.1 317.1h1v1h-1zM61.3 316.8h1v1h-1zM61.4 316.8h1v1h-1zM61.3 316.9h1v1h-1zM61.8 317h1v1h-1zM61.9 319.7h1v1h-1zM61.6 320h1v1h-1zM58.4 348.7h1v1h-1zM59.2 348.5h1v1h-1zM58.9 348.3h1v1h-1zM58.7 348.5h1v1h-1zM59.2 348.6h1v1h-1zM59 348.7h1v1h-1zM58.5 349.1h1v1h-1zM59.1 348.8h1v1h-1zM61.7 333.1h1v1h-1zM61.9 333.2h1v1h-1zM61.9 333.5h1v1h-1zM62 333.3h1v1h-1zM61.5 334.1h1v1h-1zM62 333.3h1v1h-1zM60.5 349.7h1v1h-1zM60.2 349.6h1v1h-1zM60.8 349.6h1v1h-1zM61.1 349.9h1v1h-1zM61 349.2h1v1h-1zM60.9 350h1v1h-1zM61.6 321.5h1v1h-1zM61.9 322.1h1v1h-1zM61.6 321.4h1v1h-1zM62 321.2h1v1h-1zM61.8 321.5h1v1h-1zM62 321.1h1v1h-1zM61.8 321.6h1v1h-1zM62.1 322h1v1h-1zM61.8 321.7h1v1h-1zM61.5 322h1v1h-1zM61.4 321.7h1v1h-1zM61.1 334.1h1v1h-1zM61 334.9h1v1h-1zM61 334.8h1v1h-1zM60.7 334.5h1v1h-1zM60.8 334.7h1v1h-1zM60.7 335h1v1h-1zM61.1 334.9h1v1h-1zM60.6 334.6h1v1h-1zM60.5 334.6h1v1h-1zM61.2 334.6h1v1h-1zM61.4 334.8h1v1h-1zM61.9 334.3h1v1h-1zM61.3 335.1h1v1h-1zM61.9 334.5h1v1h-1zM61.7 335h1v1h-1zM61.5 322.9h1v1h-1zM61.8 322.8h1v1h-1zM61.9 322.9h1v1h-1zM62 322.5h1v1h-1zM61.3 323.1h1v1h-1zM61.7 323.1h1v1h-1zM61.6 322.7h1v1h-1zM62 323.5h1v1h-1zM61.8 324h1v1h-1zM61.9 324.1h1v1h-1zM61.8 323.5h1v1h-1zM61.3 323.9h1v1h-1zM62.7 326.1h1v1h-1zM62.6 326.5h1v1h-1zM62.3 326.4h1v1h-1zM62.7 326.8h1v1h-1zM62.5 326.5h1v1h-1zM62.9 326.4h1v1h-1zM63 326.8h1v1h-1zM61.8 318.8h1v1h-1zM62.1 318.9h1v1h-1zM61.7 318.5h1v1h-1zM61.5 319.1h1v1h-1zM61.6 319h1v1h-1zM61.9 319h1v1h-1zM61.4 319.1h1v1h-1zM61.6 318.4h1v1h-1zM61.3 318.3h1v1h-1zM61.9 318.8h1v1h-1zM63.5 316.5h1v1h-1zM64.1 316.2h1v1h-1zM63.6 316.7h1v1h-1zM63.6 316.5h1v1h-1zM63.6 316.3h1v1h-1zM63.2 316.6h1v1h-1zM63.4 317h1v1h-1zM63.8 317.1h1v1h-1zM64.1 316.9h1v1h-1zM63.3 318.8h1v1h-1zM63.7 318.5h1v1h-1zM63.6 318.9h1v1h-1zM63.5 318.2h1v1h-1zM64.2 318.7h1v1h-1zM63.7 318.7h1v1h-1zM63.4 318.9h1v1h-1zM63.6 318.8h1v1h-1zM63.3 318.8h1v1h-1zM61.9 317.6h1v1h-1zM61.3 317.9h1v1h-1zM61.4 317.2h1v1h-1zM61.8 317.6h1v1h-1zM61.9 317.2h1v1h-1zM63 321.7h1v1h-1zM62.8 321.9h1v1h-1zM63.1 321.8h1v1h-1zM62.6 321.4h1v1h-1zM63.1 321.8h1v1h-1zM62 324.2h1v1h-1zM62 324.5h1v1h-1zM61.3 324.9h1v1h-1zM61.6 325h1v1h-1zM61.7 325.1h1v1h-1zM61.5 324.9h1v1h-1zM62.7 320.1h1v1h-1zM62.7 320.8h1v1h-1zM62.8 320.9h1v1h-1zM62.5 320.7h1v1h-1zM63.2 320.9h1v1h-1zM62.5 321h1v1h-1zM62.7 321h1v1h-1zM62.9 320.9h1v1h-1zM62.7 320.2h1v1h-1zM63 320.8h1v1h-1zM63.2 320.4h1v1h-1zM61.6 326.4h1v1h-1zM62.1 326.3h1v1h-1zM61.4 326.8h1v1h-1zM61.2 326.9h1v1h-1zM61.3 326.9h1v1h-1zM61.2 326.2h1v1h-1zM62.1 326.7h1v1h-1zM62 326.9h1v1h-1zM62.8 345.7h1v1h-1zM62.4 345.3h1v1h-1zM63.2 345.3h1v1h-1zM62.2 345.9h1v1h-1zM62.2 345.3h1v1h-1zM62.9 346.1h1v1h-1zM62.7 336.8h1v1h-1zM63 336.7h1v1h-1zM63 336.8h1v1h-1zM62.6 336.7h1v1h-1zM62.4 337.1h1v1h-1zM63 336.7h1v1h-1zM59.7 350h1v1h-1zM59.7 350.1h1v1h-1zM59.4 350.1h1v1h-1zM59.9 349.9h1v1h-1zM59.9 349.5h1v1h-1zM59.5 349.2h1v1h-1zM59.7 349.5h1v1h-1zM59.4 349.3h1v1h-1zM59.3 349.9h1v1h-1zM62.5 322.9h1v1h-1zM62.3 322.5h1v1h-1zM62.6 322.2h1v1h-1zM62.6 322.9h1v1h-1zM62.4 322.9h1v1h-1zM62.6 322.3h1v1h-1zM62.8 322.3h1v1h-1zM61.5 325.9h1v1h-1zM61.7 325.4h1v1h-1zM62.2 325.9h1v1h-1zM62.2 325.9h1v1h-1zM62 325.9h1v1h-1zM61.8 325.3h1v1h-1zM61.8 325.3h1v1h-1zM61.6 325.1h1v1h-1zM62.6 316h1v1h-1zM63 315.7h1v1h-1zM62.9 315.6h1v1h-1zM63.2 315.4h1v1h-1zM63 315.7h1v1h-1zM62.8 315.7h1v1h-1zM62.3 316h1v1h-1zM62.6 315.6h1v1h-1zM62.6 315.8h1v1h-1zM62.9 315.5h1v1h-1zM63.1 325.6h1v1h-1zM63.1 325.1h1v1h-1zM62.6 325.9h1v1h-1zM62.8 325.9h1v1h-1zM62.4 325.1h1v1h-1zM63 324.1h1v1h-1zM62.9 323.5h1v1h-1zM62.7 323.2h1v1h-1zM62.6 323.6h1v1h-1zM63.2 323.9h1v1h-1zM62.3 323.6h1v1h-1zM62.9 323.7h1v1h-1zM63 324h1v1h-1zM63.1 323.2h1v1h-1zM63.7 318h1v1h-1zM63.6 317.3h1v1h-1zM64.1 317.4h1v1h-1zM62.9 324.2h1v1h-1zM62.8 324.6h1v1h-1zM62.6 324.9h1v1h-1zM62.5 324.6h1v1h-1zM62.3 325.1h1v1h-1zM62.6 324.8h1v1h-1zM58.6 347.4h1v1h-1zM59.2 347.7h1v1h-1zM58.8 347.2h1v1h-1zM58.9 347.3h1v1h-1zM59.1 347.2h1v1h-1zM58.8 348.1h1v1h-1zM58.7 347.4h1v1h-1z"/>
<path fill="rgb(75,197,95)" fill-opacity="0.64" d="M62.7 319.4h1v1h-1zM63.1 319.4h1v1h-1zM62.3 319.9h1v1h-1zM63 319.8h1v1h-1zM62.9 319.8h1v1h-1zM62.6 319.5h1v1h-1zM63.1 319.7h1v1h-1zM61.9 336h1v1h-1zM61.6 336.1h1v1h-1zM61.8 336h1v1h-1zM61.8 335.4h1v1h-1zM61.2 336.1h1v1h-1zM58.5 338.9h1v1h-1zM58.7 338.4h1v1h-1zM58.7 338.5h1v1h-1zM59.1 338.9h1v1h-1zM58.7 338.5h1v1h-1zM58.7 338.3h1v1h-1zM60.9 348.8h1v1h-1zM60.6 348.9h1v1h-1zM60.7 348.9h1v1h-1zM61 348.2h1v1h-1zM61.2 348.1h1v1h-1zM60.3 348.3h1v1h-1zM60.2 348.3h1v1h-1zM60.8 348.3h1v1h-1zM61 348.4h1v1h-1zM60.5 348.9h1v1h-1zM61 349h1v1h-1zM60.4 335.9h1v1h-1zM61.1 336h1v1h-1zM61.1 335.1h1v1h-1zM60.8 335.9h1v1h-1zM60.6 335.5h1v1h-1zM60.6 335.5h1v1h-1zM60.8 335.5h1v1h-1zM60.3 335.6h1v1h-1zM61.2 336h1v1h-1zM58.5 346.5h1v1h-1zM59 347h1v1h-1zM63.2 316.4h1v1h-1zM62.8 316.8h1v1h-1zM62.8 317h1v1h-1zM62.3 316.7h1v1h-1zM62.8 316.7h1v1h-1zM62.5 316.3h1v1h-1zM62.7 316.3h1v1h-1zM62.8 316.4h1v1h-1zM62.6 316.8h1v1h-1zM59.7 336.5h1v1h-1zM59.3 336.2h1v1h-1zM62.8 318.3h1v1h-1zM63 318.7h1v1h-1zM62.8 318.8h1v1h-1zM62.8 318.9h1v1h-1zM63.2 318.8h1v1h-1zM62.7 318.4h1v1h-1zM62.3 318.2h1v1h-1zM62.2 318.6h1v1h-1zM63.1 318.1h1v1h-1zM62.6 318.5h1v1h-1zM63 318.5h1v1h-1zM62.9 318.9h1v1h-1zM62.7 318.8h1v1h-1zM63 318.2h1v1h-1zM62.7 318.8h1v1h-1zM62.8 318.8h1v1h-1zM62.8 319h1v1h-1zM61.5 346.5h1v1h-1zM61.9 346.6h1v1h-1zM61.4 346.8h1v1h-1zM61.9 347h1v1h-1zM62.1 346.2h1v1h-1zM61.8 346.5h1v1h-1zM61.6 346.8h1v1h-1zM60 348.7h1v1h-1zM59.4 348.3h1v1h-1zM60.2 348.3h1v1h-1zM59.5 348.3h1v1h-1zM59.3 349h1v1h-1zM59.7 348.9h1v1h-1zM59.5 349h1v1h-1zM59.5 348.2h1v1h-1zM59.6 348.3h1v1h-1zM59.8 348.6h1v1h-1zM59.4 348.6h1v1h-1zM62.9 317.6h1v1h-1zM63.1 317.7h1v1h-1zM62.8 317.4h1v1h-1zM62.2 317.3h1v1h-1zM62.4 317.8h1v1h-1zM62.8 317.4h1v1h-1zM62.5 317.5h1v1h-1zM63 317.9h1v1h-1zM62.9 317.2h1v1h-1zM62.3 317.1h1v1h-1zM60.5 347.9h1v1h-1zM61.2 348h1v1h-1zM60.6 347.5h1v1h-1zM60.3 347.9h1v1h-1zM60.9 347.6h1v1h-1zM62.4 338h1v1h-1zM62.6 337.8h1v1h-1zM62.7 337.5h1v1h-1zM62.8 338h1v1h-1zM62.4 338h1v1h-1zM62.4 337.2h1v1h-1zM62.4 337.5h1v1h-1zM63.1 337.6h1v1h-1zM63.1 338.1h1v1h-1zM62.6 337.2h1v1h-1zM63.1 337.7h1v1h-1zM60 347.6h1v1h-1zM59.8 347.7h1v1h-1zM59.9 347.5h1v1h-1zM59.3 347.2h1v1h-1zM59.4 347.5h1v1h-1zM59.4 347.9h1v1h-1zM59.3 347.3h1v1h-1zM60.1 348h1v1h-1zM60.1 348h1v1h-1zM59.9 347.8h1v1h-1zM59.1 345.2h1v1h-1zM58.3 345.2h1v1h-1zM59 346.1h1v1h-1zM58.7 345.9h1v1h-1zM59 346h1v1h-1zM59.1 345.7h1v1h-1zM58.9 345.2h1v1h-1zM58.3 345.2h1v1h-1zM58.2 345.2h1v1h-1zM59 345.7h1v1h-1zM58.7 345.6h1v1h-1zM58.7 340h1v1h-1zM58.7 340h1v1h-1zM58.5 339.9h1v1h-1zM58.9 339.7h1v1h-1zM58.6 339.7h1v1h-1zM59.2 339.6h1v1h-1zM59.1 339.6h1v1h-1zM58.3 339.2h1v1h-1zM59.2 339.6h1v1h-1zM58.5 339.7h1v1h-1zM58.7 339.5h1v1h-1z"/>
<path fill="rgb(119,205,51)" fill-opacity="0.67" d="M61.4 336.2h1v1h-1zM61.4 336.4h1v1h-1zM61.8 336.4h1v1h-1zM61.6 336.8h1v1h-1zM61.8 336.4h1v1h-1zM63.1 344.6h1v1h-1zM62.4 345h1v1h-1zM62.3 344.5h1v1h-1zM62.8 344.2h1v1h-1zM62.4 344.4h1v1h-1zM63.1 344.5h1v1h-1zM62.9 344.3h1v1h-1zM62.3 344.6h1v1h-1zM62.7 344.3h1v1h-1zM63 344.6h1v1h-1zM63.1 344.8h1v1h-1zM62.8 344.9h1v1h-1zM62.9 344.8h1v1h-1zM63 344.6h1v1h-1zM60.6 336.8h1v1h-1zM60.8 336.8h1v1h-1zM60.6 337h1v1h-1zM60.4 336.3h1v1h-1zM60.8 336.4h1v1h-1zM60.3 336.4h1v1h-1zM60.9 337.1h1v1h-1zM61 336.3h1v1h-1zM60.9 336.8h1v1h-1zM60.8 336.6h1v1h-1zM60.1 346.8h1v1h-1zM59.6 346.4h1v1h-1zM60.1 346.5h1v1h-1zM59.4 347.1h1v1h-1zM59.4 346.4h1v1h-1zM59.9 346.6h1v1h-1zM59.7 346.8h1v1h-1zM60.1 346.9h1v1h-1zM59.9 347.1h1v1h-1zM59.5 346.3h1v1h-1zM59.6 337.2h1v1h-1zM59.8 338.1h1v1h-1zM59.3 337.3h1v1h-1zM59.5 337.3h1v1h-1zM60 337.9h1v1h-1zM60 337.9h1v1h-1zM59.7 337.7h1v1h-1zM59.9 337.9h1v1h-1zM59.8 337.4h1v1h-1zM59.4 337.2h1v1h-1zM59.7 337.5h1v1h-1zM59.8 337.9h1v1h-1zM63 338.2h1v1h-1zM63.1 338.2h1v1h-1zM62.9 338.5h1v1h-1zM62.7 338.4h1v1h-1zM62.8 338.4h1v1h-1zM62.4 338.2h1v1h-1zM62.5 338.3h1v1h-1zM62.4 338.6h1v1h-1zM62.8 338.7h1v1h-1zM62.7 338.4h1v1h-1zM62.5 338.4h1v1h-1zM60.9 346.7h1v1h-1zM60.8 346.9h1v1h-1zM61.1 346.6h1v1h-1zM60.6 346.3h1v1h-1zM60.3 346.9h1v1h-1zM60.8 346.8h1v1h-1zM61 346.3h1v1h-1zM60.8 346.6h1v1h-1zM61.2 346.4h1v1h-1zM58.8 340.8h1v1h-1zM59.2 340.3h1v1h-1zM58.9 340.9h1v1h-1zM58.4 340.7h1v1h-1zM58.4 340.6h1v1h-1zM58.9 340.6h1v1h-1zM63.1 339.3h1v1h-1zM63.2 339.2h1v1h-1zM62.9 339.9h1v1h-1zM62.7 340.1h1v1h-1zM63 339.7h1v1h-1zM62.8 339.2h1v1h-1zM62.3 339.5h1v1h-1zM62.4 340h1v1h-1zM59.2 344.5h1v1h-1zM58.2 344.5h1v1h-1zM59.1 345h1v1h-1zM58.6 344.8h1v1h-1zM59.2 344.3h1v1h-1zM58.8 344.5h1v1h-1zM59.2 344.3h1v1h-1zM58.4 344.4h1v1h-1zM59.2 345h1v1h-1zM61.9 345.5h1v1h-1zM61.6 345.7h1v1h-1zM61.6 346h1v1h-1zM62 345.9h1v1h-1zM61.5 345.4h1v1h-1zM61.6 345.9h1v1h-1zM61.3 345.8h1v1h-1zM61.5 345.5h1v1h-1zM62 345.6h1v1h-1zM61.3 345.9h1v1h-1zM62.6 343.4h1v1h-1zM62.3 343.6h1v1h-1zM62.5 343.8h1v1h-1zM62.5 343.2h1v1h-1zM63 343.7h1v1h-1zM62.4 343.8h1v1h-1zM62.6 343.6h1v1h-1zM62.5 344.1h1v1h-1zM62.5 343.8h1v1h-1zM62.4 343.5h1v1h-1zM62.3 340.3h1v1h-1zM63.2 340.4h1v1h-1zM62.3 340.9h1v1h-1zM62.3 340.4h1v1h-1zM62.6 340.6h1v1h-1zM62.8 340.9h1v1h-1z"/>
<path fill="rgb(187,205,44)" fill-opacity="0.71" d="M62.5 341.9h1v1h-1zM62.8 341.2h1v1h-1zM62.8 341.5h1v1h-1zM62.8 341.4h1v1h-1zM62.5 341.5h1v1h-1zM62.9 341.2h1v1h-1zM62.9 341.6h1v1h-1zM62.4 342.7h1v1h-1zM62.3 342.5h1v1h-1zM62.2 342.2h1v1h-1zM62.2 342.3h1v1h-1zM62.5 342.6h1v1h-1zM62.8 342.2h1v1h-1zM62.7 342.8h1v1h-1zM62.9 342.8h1v1h-1zM62.4 342.7h1v1h-1zM58.9 341.3h1v1h-1zM58.6 342h1v1h-1zM59.1 341.3h1v1h-1zM58.3 341.5h1v1h-1zM58.5 341.9h1v1h-1zM58.6 341.5h1v1h-1zM58.7 342.1h1v1h-1zM58.8 341.5h1v1h-1zM58.9 341.6h1v1h-1zM59 341.4h1v1h-1zM58.2 341.2h1v1h-1zM61.7 337.4h1v1h-1zM61.4 337.8h1v1h-1zM61.4 337.8h1v1h-1zM61.7 337.9h1v1h-1zM61.9 337.2h1v1h-1zM62.1 337.3h1v1h-1zM61.6 337.6h1v1h-1zM61.7 337.6h1v1h-1zM62.2 337.7h1v1h-1zM61.3 338h1v1h-1zM58.8 343.6h1v1h-1zM59.2 343.4h1v1h-1zM58.5 343.4h1v1h-1zM58.5 343.5h1v1h-1zM58.5 343.4h1v1h-1zM58.8 343.4h1v1h-1zM58.7 343.6h1v1h-1zM58.7 343.1h1v1h-1zM60.1 345.9h1v1h-1zM60.1 345.2h1v1h-1zM60.2 345.7h1v1h-1zM59.5 345.8h1v1h-1zM60.2 345.4h1v1h-1zM59.2 346h1v1h-1zM59.4 345.6h1v1h-1zM59.1 342.6h1v1h-1zM58.3 342.4h1v1h-1zM59 342.9h1v1h-1zM58.9 342.8h1v1h-1zM58.5 342.6h1v1h-1zM59.1 342.8h1v1h-1zM58.2 343.1h1v1h-1zM59.3 339h1v1h-1zM60 338.6h1v1h-1zM60 338.1h1v1h-1zM59.4 339h1v1h-1zM59.7 338.9h1v1h-1zM60.3 337.4h1v1h-1zM60.4 337.2h1v1h-1zM60.2 337.9h1v1h-1zM60.6 337.3h1v1h-1zM61.1 337.3h1v1h-1zM60.8 337.7h1v1h-1zM60.4 337.6h1v1h-1zM61.1 337.6h1v1h-1zM60.7 338h1v1h-1zM60.7 337.7h1v1h-1zM60.8 337.2h1v1h-1zM60.6 337.6h1v1h-1zM61.1 338h1v1h-1zM61.1 337.5h1v1h-1zM61 338h1v1h-1zM60.5 337.2h1v1h-1zM60.2 337.6h1v1h-1zM60.5 337.6h1v1h-1zM61.1 345.1h1v1h-1zM60.4 345.9h1v1h-1zM60.8 345.4h1v1h-1zM60.6 345.8h1v1h-1zM60.2 346h1v1h-1zM60.8 345.6h1v1h-1zM60.6 345.7h1v1h-1zM60.7 345.9h1v1h-1zM61 345.6h1v1h-1zM60.6 345.7h1v1h-1zM60.3 345.1h1v1h-1z"/>
<path fill="rgb(237,189,38)" fill-opacity="0.74" d="M61.8 338.6h1v1h-1zM61.4 338.6h1v1h-1zM61.6 338.9h1v1h-1zM61.4 338.9h1v1h-1zM61.7 338.2h1v1h-1zM62 338.1h1v1h-1zM61.2 338.7h1v1h-1zM61.7 339h1v1h-1zM61.5 339.1h1v1h-1zM61.6 338.7h1v1h-1zM60 339.6h1v1h-1zM59.9 339.7h1v1h-1zM59.6 339.2h1v1h-1zM59.5 340h1v1h-1zM60.2 339.6h1v1h-1zM59.7 339.9h1v1h-1zM59.7 339.2h1v1h-1zM59.4 339.1h1v1h-1zM59.5 339.2h1v1h-1zM59.2 339.2h1v1h-1zM61.4 344.5h1v1h-1zM61.3 345h1v1h-1zM61.9 345h1v1h-1zM61.5 344.7h1v1h-1zM61.9 344.8h1v1h-1zM62.1 344.3h1v1h-1zM61.8 344.3h1v1h-1zM61.6 344.2h1v1h-1zM61.4 344.6h1v1h-1zM61.7 344.8h1v1h-1zM61.3 344.4h1v1h-1zM61.4 344.2h1v1h-1zM61.9 345h1v1h-1zM60.5 338.7h1v1h-1zM60.3 338.7h1v1h-1zM60.9 339.1h1v1h-1zM60.9 338.2h1v1h-1zM60.4 338.5h1v1h-1zM61.1 338.9h1v1h-1zM60.3 338.7h1v1h-1zM61.1 339h1v1h-1zM60.3 338.5h1v1h-1zM61 338.9h1v1h-1zM60.3 338.2h1v1h-1zM60.5 338.5h1v1h-1zM59.7 344.1h1v1h-1zM60 344.4h1v1h-1zM60.1 344.3h1v1h-1zM59.2 345.1h1v1h-1zM59.2 344.8h1v1h-1zM59.7 344.2h1v1h-1zM61.2 339.6h1v1h-1zM61.6 339.6h1v1h-1zM61.7 339.8h1v1h-1zM61.4 339.6h1v1h-1zM61.5 339.9h1v1h-1zM61.6 339.1h1v1h-1zM62 339.5h1v1h-1zM61.3 339.1h1v1h-1zM61.7 339.5h1v1h-1zM62 339.8h1v1h-1zM61.5 339.9h1v1h-1z"/>
<path fill="rgb(244,135,31)" fill-opacity="0.78" d="M59.2 341.1h1v1h-1zM59.5 340.9h1v1h-1zM59.7 340.7h1v1h-1zM59.6 340.8h1v1h-1zM60.1 340.5h1v1h-1zM60.2 340.9h1v1h-1zM59.5 340.8h1v1h-1zM60.2 340.6h1v1h-1zM60.1 340.3h1v1h-1zM59.8 340.4h1v1h-1zM59.5 341h1v1h-1zM59.8 340.5h1v1h-1zM59.6 340.4h1v1h-1zM59.6 340.8h1v1h-1zM59.9 340.4h1v1h-1zM59.9 340.5h1v1h-1zM60.2 340.9h1v1h-1zM61.2 340.8h1v1h-1zM62.2 340.4h1v1h-1zM61.3 340.5h1v1h-1zM61.8 340.2h1v1h-1zM61.6 340.9h1v1h-1zM61.5 341h1v1h-1zM61.4 340.3h1v1h-1zM62 340.4h1v1h-1zM61.4 340.9h1v1h-1zM61.8 340.6h1v1h-1zM61.1 345h1v1h-1zM60.5 344.4h1v1h-1zM61 344.8h1v1h-1zM60.9 344.3h1v1h-1zM60.5 344.6h1v1h-1zM60.9 344.5h1v1h-1zM60.7 344.5h1v1h-1zM60.7 344.8h1v1h-1zM61.5 343.4h1v1h-1zM61.4 343.7h1v1h-1zM61.7 343.4h1v1h-1zM61.9 343.3h1v1h-1zM62 343.6h1v1h-1zM61.6 343.2h1v1h-1zM61.7 343.6h1v1h-1zM62.1 343.5h1v1h-1zM61.8 343.7h1v1h-1zM61.3 343.8h1v1h-1zM61.9 343.8h1v1h-1zM61.2 343.3h1v1h-1zM62.1 343.6h1v1h-1zM60.6 339.9h1v1h-1zM60.5 339.1h1v1h-1zM61 339.9h1v1h-1zM60.4 339.5h1v1h-1zM60.3 339.2h1v1h-1zM60.9 339.9h1v1h-1zM60.4 339.1h1v1h-1zM60.7 339.2h1v1h-1zM60.7 339.6h1v1h-1zM60.9 339.4h1v1h-1zM60.9 339.5h1v1h-1zM61.2 339.6h1v1h-1zM60.5 339.6h1v1h-1zM60.7 339.5h1v1h-1zM60.2 343.9h1v1h-1zM59.2 343.7h1v1h-1zM59.6 343.8h1v1h-1zM59.8 343.3h1v1h-1zM59.7 344.1h1v1h-1zM59.8 343.1h1v1h-1zM60 343.4h1v1h-1zM59.9 343.4h1v1h-1zM59.8 343.4h1v1h-1zM60 343.4h1v1h-1zM59.5 343.3h1v1h-1zM59.6 344.1h1v1h-1zM59.6 344h1v1h-1zM59.8 343.5h1v1h-1zM60.1 343.3h1v1h-1zM60 344h1v1h-1zM60 344h1v1h-1zM59.6 343.2h1v1h-1zM59.4 343.2h1v1h-1zM59.6 343.4h1v1h-1zM59.9 343.5h1v1h-1zM59.8 343.7h1v1h-1zM61.9 341.9h1v1h-1zM61.4 341.5h1v1h-1zM61.9 341.7h1v1h-1zM61.5 341.7h1v1h-1zM62.1 341.4h1v1h-1zM61.7 341.5h1v1h-1zM61.6 341.6h1v1h-1zM62.2 341.2h1v1h-1zM62 341.3h1v1h-1zM62.2 341.1h1v1h-1zM61.4 341.4h1v1h-1zM61.3 341.6h1v1h-1zM61.5 342.1h1v1h-1zM62.1 341.4h1v1h-1zM61.4 342h1v1h-1zM61.2 341.8h1v1h-1zM61.6 341.8h1v1h-1zM61.5 341.7h1v1h-1zM61.8 341.3h1v1h-1zM62.1 341.8h1v1h-1zM62.1 341.7h1v1h-1zM62.1 341.9h1v1h-1zM60 341.1h1v1h-1zM59.7 341.9h1v1h-1zM60 341.7h1v1h-1zM59.3 342.1h1v1h-1zM59.6 341.4h1v1h-1zM60.2 341.7h1v1h-1zM59.9 342h1v1h-1zM61.9 342.7h1v1h-1zM61.3 342.7h1v1h-1zM61.2 342.8h1v1h-1zM61.6 342.1h1v1h-1zM61.4 342.4h1v1h-1zM61.4 342.5h1v1h-1zM61.9 342.6h1v1h-1z"/>
<path fill="rgb(232,69,27)" fill-opacity="0.81" d="M59.9 342.3h1v1h-1zM60 343h1v1h-1zM59.3 342.8h1v1h-1zM59.4 342.5h1v1h-1zM60.1 342.1h1v1h-1zM59.3 342.4h1v1h-1zM60.1 342.9h1v1h-1zM59.8 342.6h1v1h-1zM60 342.7h1v1h-1zM60.2 342.4h1v1h-1zM60 343h1v1h-1zM59.6 342.6h1v1h-1zM60 343.1h1v1h-1zM59.7 342.2h1v1h-1zM61.1 341h1v1h-1zM60.5 340.1h1v1h-1zM60.4 340.8h1v1h-1zM60.8 340.8h1v1h-1zM61.1 340.6h1v1h-1zM60.5 340.5h1v1h-1zM60.7 340.2h1v1h-1zM60.2 340.2h1v1h-1zM60.4 340.5h1v1h-1zM60.8 340.4h1v1h-1zM60.9 340.1h1v1h-1zM60.4 340.7h1v1h-1zM60.7 340.6h1v1h-1zM60.7 340.8h1v1h-1zM60.9 343.5h1v1h-1zM60.7 343.2h1v1h-1zM61.1 343.1h1v1h-1zM60.9 343.6h1v1h-1zM60.7 344h1v1h-1zM60.4 343.9h1v1h-1zM60.8 343.6h1v1h-1zM61.1 343.1h1v1h-1zM60.6 343.5h1v1h-1zM61 343.7h1v1h-1zM60.6 343.6h1v1h-1zM60.9 343.1h1v1h-1zM60.9 343.3h1v1h-1zM61 344h1v1h-1zM60.9 343.4h1v1h-1zM60.7 343.8h1v1h-1zM60.4 343.8h1v1h-1zM61.1 343.5h1v1h-1zM60.8 343.1h1v1h-1zM60.7 343.3h1v1h-1zM60.8 344h1v1h-1zM61 343.2h1v1h-1zM60.4 343.9h1v1h-1zM60.3 343.6h1v1h-1zM61.1 341.7h1v1h-1zM61 341.1h1v1h-1zM60.7 341.4h1v1h-1zM60.6 341.1h1v1h-1zM60.3 341.6h1v1h-1zM60.6 341.9h1v1h-1zM60.5 342.1h1v1h-1zM60.5 341.8h1v1h-1zM60.6 341.5h1v1h-1zM60.4 341.3h1v1h-1zM60.4 342h1v1h-1zM61.2 341.9h1v1h-1zM60.6 341.8h1v1h-1zM60.9 342.1h1v1h-1zM60.8 341.5h1v1h-1zM60.9 341.3h1v1h-1zM60.6 341.6h1v1h-1zM61 341.8h1v1h-1zM60.4 341.3h1v1h-1zM60.4 342.4h1v1h-1zM61.1 342.7h1v1h-1zM61.1 342.6h1v1h-1zM60.3 342.6h1v1h-1zM61 342.7h1v1h-1zM61.1 343h1v1h-1zM60.4 342.8h1v1h-1zM60.2 342.2h1v1h-1zM61 343h1v1h-1zM60.8 342.2h1v1h-1z"/>
<path fill="rgb(87,88,213)" fill-opacity="0.34" d="M219 284.3h1v1h-1zM220.4 277.7h1v1h-1zM221.7 320.3h1v1h-1zM218.1 311.7h1v1h-1zM223.1 325.1h1v1h-1zM209.3 350.2h1v1h-1zM222.7 351h1v1h-1zM223.8 293.3h1v1h-1zM212.2 334.8h1v1h-1zM206.5 289.5h1v1h-1zM221.4 290.4h1v1h-1zM220.6 315.8h1v1h-1zM216.1 303.3h1v1h-1zM218.2 293.2h1v1h-1zM201.2 298h1v1h-1zM205.9 300.4h1v1h-1zM219.6 340.7h1v1h-1zM225.9 328.6h1v1h-1zM209.6 275.9h1v1h-1zM220.9 305.6h1v1h-1zM204.7 278.8h1v1h-1zM224.8 341.4h1v1h-1zM207.4 324.4h1v1h-1zM215.4 317.4h1v1h-1zM203.5 334.1h1v1h-1zM224 344.8h1v1h-1zM221.6 343.5h1v1h-1zM219.7 330.5h1v1h-1zM198.7 306.9h1v1h-1zM197.7 326.5h1v1h-1zM220.1 347.7h1v1h-1zM207.5 297.7h1v1h-1zM206.8 321.9h1v1h-1zM213.8 316h1v1h-1zM213.4 286.1h1v1h-1zM215.4 350.9h1v1h-1zM204.8 330.9h1v1h-1zM209.1 343.1h1v1h-1zM208 329.9h1v1h-1zM224.6 271.5h1v1h-1zM207.6 281.6h1v1h-1zM216.5 289.9h1v1h-1zM204.9 294h1v1h-1zM213.5 300.3h1v1h-1zM223.9 304.9h1v1h-1zM198.9 335.8h1v1h-1zM209.3 272.2h1v1h-1zM210.3 270.9h1v1h-1zM211 305.7h1v1h-1zM212 345.2h1v1h-1zM219.9 271h1v1h-1zM204.7 306.6h1v1h-1zM207.8 279.3h1v1h-1zM213 305.9h1v1h-1zM211.6 301.7h1v1h-1zM206.3 293.2h1v1h-1zM225.6 284.6h1v1h-1zM224.2 285.3h1v1h-1zM200.4 294.3h1v1h-1zM196.9 311.5h1v1h-1zM199.3 309.5h1v1h-1zM211.9 288.9h1v1h-1zM213.1 291.1h1v1h-1zM215.7 291.5h1v1h-1zM210.9 345.8h1v1h-1zM211.4 286.8h1v1h-1zM222.2 271.5h1v1h-1zM202.5 307.2h1v1h-1zM212.3 319.8h1v1h-1zM158.5 342.7h1v1h-1zM159.7 310.8h1v1h-1zM204.3 284.2h1v1h-1zM200.8 279.8h1v1h-1zM224.3 306.5h1v1h-1zM223.6 309.8h1v1h-1zM211.1 326.1h1v1h-1zM207.1 335.7h1v1h-1zM210.4 292.9h1v1h-1zM212.3 325.1h1v1h-1zM202.8 312.5h1v1h-1zM209.6 292.2h1v1h-1zM215.1 329.1h1v1h-1zM206 338.4h1v1h-1zM208 334.7h1v1h-1zM216.6 342.1h1v1h-1zM203.5 286h1v1h-1zM208.5 318.1h1v1h-1zM196.9 313.4h1v1h-1zM216.7 274.8h1v1h-1zM216.3 274.5h1v1h-1zM220.7 336h1v1h-1zM220.8 335.4h1v1h-1zM210.6 314.5h1v1h-1zM197.7 300.6h1v1h-1zM215.6 342.9h1v1h-1zM201.1 309.9h1v1h-1zM202.1 283h1v1h-1zM224.8 313.1h1v1h-1zM201 287.6h1v1h-1zM213.1 327.8h1v1h-1zM224.1 308.2h1v1h-1zM208.2 318.7h1v1h-1zM202.9 319.2h1v1h-1zM207.3 331.3h1v1h-1zM195.8 331.3h1v1h-1zM206.1 332.6h1v1h-1zM194.9 338.8h1v1h-1zM210.5 298.6h1v1h-1zM210.2 298.9h1v1h-1zM217 346.9h1v1h-1zM225.3 313.8h1v1h-1zM216.3 348.7h1v1h-1zM225 334.3h1v1h-1zM188 339.1h1v1h-1zM198.4 319.6h1v1h-1zM213.9 329.1h1v1h-1zM203 318.3h1v1h-1zM212.9 309.5h1v1h-1zM213.2 310h1v1h-1zM225.7 331.4h1v1h-1zM209.1 322h1v1h-1zM213 338.5h1v1h-1zM224.3 315.7h1v1h-1zM224 315.8h1v1h-1zM217.6 325.4h1v1h-1zM196.1 329.5h1v1h-1zM211.6 321.8h1v1h-1zM196.5 352.2h1v1h-1zM185.7 340.5h1v1h-1zM196.4 293.9h1v1h-1zM214.4 339.8h1v1h-1zM158.7 344.3h1v1h-1zM218.6 325.4h1v1h-1zM217.6 347.4h1v1h-1zM213.7 339.8h1v1h-1zM200.8 316.1h1v1h-1zM198.4 271.9h1v1h-1zM210.9 310.6h1v1h-1zM160.1 314.7h1v1h-1zM193.4 325.1h1v1h-1zM195.2 321.5h1v1h-1zM195.3 328.5h1v1h-1zM211.3 313h1v1h-1zM209.9 320.1h1v1h-1zM202.8 316.3h1v1h-1zM180.7 344.2h1v1h-1zM179.6 352.1h1v1h-1zM218.6 327.4h1v1h-1zM218.6 327.6h1v1h-1zM197.1 320.1h1v1h-1zM205.8 348.7h1v1h-1zM225.4 333.4h1v1h-1zM225.2 332.6h1v1h-1zM199.6 288.7h1v1h-1zM193.7 345h1v1h-1zM197.2 290.9h1v1h-1zM205 342.2h1v1h-1zM199.8 293h1v1h-1zM161.7 287.8h1v1h-1zM192 327.3h1v1h-1zM198.3 343.7h1v1h-1zM179.4 343.7h1v1h-1zM200.9 316.2h1v1h-1zM194.4 330.1h1v1h-1zM176.6 345.9h1v1h-1zM185 339h1v1h-1zM196.2 301.2h1v1h-1zM210.5 312.1h1v1h-1zM196.7 344.4h1v1h-1zM196 304h1v1h-1zM196.4 345.7h1v1h-1zM183.8 344.3h1v1h-1zM193.6 351.5h1v1h-1zM199 291.3h1v1h-1zM205.8 309.7h1v1h-1zM201.6 317.7h1v1h-1zM199.6 287.9h1v1h-1zM200.5 273.2h1v1h-1zM200.9 273.8h1v1h-1zM195.2 346.7h1v1h-1zM195 290.6h1v1h-1zM176.6 347.9h1v1h-1zM177 340h1v1h-1zM194.7 306.9h1v1h-1zM189.5 352h1v1h-1zM177.4 340.5h1v1h-1zM175.1 339.6h1v1h-1zM194.6 351.7h1v1h-1zM162.8 282.1h1v1h-1zM204.2 312.1h1v1h-1zM204.3 311.8h1v1h-1zM199 274.1h1v1h-1zM195.8 343h1v1h-1zM198.4 291.7h1v1h-1zM200.5 282.6h1v1h-1zM206.1 312.8h1v1h-1zM196.8 279.1h1v1h-1zM206.8 309.8h1v1h-1zM198.6 281.8h1v1h-1zM205.5 340.4h1v1h-1zM195.2 341.7h1v1h-1zM187.9 342.9h1v1h-1zM188 342.7h1v1h-1zM175.6 342.2h1v1h-1zM176.2 351.1h1v1h-1zM191.3 345h1v1h-1zM174.9 352h1v1h-1zM162.3 280.2h1v1h-1zM198.6 286.3h1v1h-1zM195.7 297.2h1v1h-1zM198.7 284.3h1v1h-1zM188.8 351.5h1v1h-1zM199.4 281.5h1v1h-1zM189.9 345.7h1v1h-1zM192.4 325.5h1v1h-1zM175.3 338.4h1v1h-1zM203.9 351.4h1v1h-1zM181.6 351.4h1v1h-1zM192.7 330.7h1v1h-1zM185.1 343.4h1v1h-1zM185.9 343.3h1v1h-1zM199.8 283h1v1h-1zM183.9 340.7h1v1h-1zM175.8 343.6h1v1h-1zM175.7 343.8h1v1h-1zM195.1 282.5h1v1h-1zM198.5 273.8h1v1h-1zM193.1 305.5h1v1h-1zM193.2 306.2h1v1h-1zM196.2 276.9h1v1h-1zM204.1 340h1v1h-1zM188.5 344.2h1v1h-1zM197.9 273.2h1v1h-1zM177.6 351.9h1v1h-1zM208.5 310.3h1v1h-1zM208.2 311h1v1h-1zM195.7 303.8h1v1h-1zM174 348.7h1v1h-1zM197.4 340.2h1v1h-1zM179.2 346.5h1v1h-1zM178.8 346.8h1v1h-1zM173.3 351.4h1v1h-1zM173.5 351.9h1v1h-1zM194.6 288.4h1v1h-1zM191 330.1h1v1h-1zM189.7 350.3h1v1h-1zM159 346.8h1v1h-1zM159.8 346.7h1v1h-1zM160.1 350.2h1v1h-1zM200.8 351.6h1v1h-1zM162.5 301.2h1v1h-1zM161.6 308.2h1v1h-1zM196.3 283.6h1v1h-1zM191.9 307.4h1v1h-1zM182.1 349h1v1h-1zM201.7 345.6h1v1h-1zM196.2 275.3h1v1h-1zM195.8 348.7h1v1h-1zM190.6 338.4h1v1h-1zM193.7 310.3h1v1h-1zM177.6 350.5h1v1h-1zM191.5 331.4h1v1h-1zM207.4 311.5h1v1h-1zM207.2 311.5h1v1h-1zM195.8 295.6h1v1h-1zM202.9 345h1v1h-1zM182.6 350.6h1v1h-1zM201.7 352.1h1v1h-1zM197.2 285.8h1v1h-1zM161.6 305.2h1v1h-1zM161.2 305.3h1v1h-1zM179.4 341.4h1v1h-1zM202.3 352h1v1h-1zM194 270.4h1v1h-1zM195.6 286.6h1v1h-1zM195.7 286.7h1v1h-1zM198.4 338.4h1v1h-1zM184.6 349.1h1v1h-1zM202.9 339.2h1v1h-1zM192.4 308.5h1v1h-1zM194 283.3h1v1h-1zM194 315.9h1v1h-1zM196.7 348.7h1v1h-1zM194.3 303.7h1v1h-1zM182.5 341.7h1v1h-1zM195.1 280h1v1h-1zM204.7 350.6h1v1h-1zM192.2 332.8h1v1h-1zM196.2 317.8h1v1h-1zM184.2 346.6h1v1h-1zM196.6 350.7h1v1h-1zM182.6 349.9h1v1h-1zM193 287.8h1v1h-1zM200.2 347.4h1v1h-1zM179.4 347.9h1v1h-1zM203.9 349.2h1v1h-1zM184.5 347.7h1v1h-1zM202 347.1h1v1h-1zM197.7 350.8h1v1h-1zM193.6 339.9h1v1h-1zM201 344.9h1v1h-1zM190.1 342.9h1v1h-1zM186 352h1v1h-1zM195.4 315.7h1v1h-1zM178.5 350.7h1v1h-1zM180.3 339.2h1v1h-1zM196.5 285.6h1v1h-1zM193.4 334.9h1v1h-1zM193.7 334.7h1v1h-1zM180 351.1h1v1h-1zM189.1 334.6h1v1h-1zM192.8 315.1h1v1h-1zM177.9 348.7h1v1h-1zM195.3 284.4h1v1h-1zM185.6 351.8h1v1h-1zM185.5 351.5h1v1h-1zM184.9 351.6h1v1h-1zM185 352h1v1h-1zM196.4 316.5h1v1h-1zM196.4 316.8h1v1h-1zM191.7 338.1h1v1h-1zM173.1 338.9h1v1h-1zM161.9 312.7h1v1h-1zM161.3 313.1h1v1h-1zM181.7 349.3h1v1h-1zM173.1 343.2h1v1h-1zM194.2 319.8h1v1h-1zM160.1 348.1h1v1h-1zM193.1 284.5h1v1h-1zM196.1 349.5h1v1h-1zM194.7 316.6h1v1h-1zM203.2 343.3h1v1h-1zM193.9 318.3h1v1h-1zM199.7 348.6h1v1h-1zM202.6 344.7h1v1h-1zM198 340.6h1v1h-1zM162.8 294.6h1v1h-1zM185.3 345.4h1v1h-1zM185.5 345.4h1v1h-1zM200.2 338.6h1v1h-1zM193.5 280.4h1v1h-1zM197.7 349.7h1v1h-1zM179.5 349h1v1h-1zM192.4 343h1v1h-1zM162.6 296.1h1v1h-1zM162.5 296.7h1v1h-1zM199 338.5h1v1h-1zM199.4 338.6h1v1h-1zM200 351.1h1v1h-1zM193.9 342h1v1h-1zM179.8 349.4h1v1h-1zM203.7 350.7h1v1h-1zM173.8 346.8h1v1h-1zM163.6 271.2h1v1h-1zM193.6 271.7h1v1h-1zM191.6 342.8h1v1h-1zM192.3 285.9h1v1h-1zM191 315.9h1v1h-1zM193.4 321.6h1v1h-1zM180.9 341.2h1v1h-1zM173.3 348.1h1v1h-1zM195.7 271.3h1v1h-1zM195.3 271.4h1v1h-1zM195 271.3h1v1h-1zM163.8 272.2h1v1h-1zM195 316.9h1v1h-1zM199.9 342.5h1v1h-1zM192 335.1h1v1h-1zM192.8 335.6h1v1h-1zM192.2 333.4h1v1h-1zM190.7 348.2h1v1h-1zM203.6 349.8h1v1h-1zM199 349.3h1v1h-1zM199.7 349.4h1v1h-1zM192.9 349.2h1v1h-1zM192.7 349.5h1v1h-1zM199.1 342h1v1h-1zM190.2 334.4h1v1h-1zM189.9 334.5h1v1h-1zM202.1 348.6h1v1h-1zM194.2 279.2h1v1h-1zM192.9 281.5h1v1h-1zM191.6 335.6h1v1h-1zM192.2 349.1h1v1h-1zM192.4 348.6h1v1h-1zM192.1 348.7h1v1h-1zM180.4 340.6h1v1h-1zM179.9 340.9h1v1h-1zM190.3 305.4h1v1h-1zM190 305.2h1v1h-1zM192.2 284.6h1v1h-1zM193.5 302.1h1v1h-1zM193.2 303.1h1v1h-1zM202 343.4h1v1h-1zM163.8 280.8h1v1h-1zM191.6 348.6h1v1h-1zM180.9 340.8h1v1h-1zM181.4 340.5h1v1h-1zM203.8 341.3h1v1h-1zM203.7 341.3h1v1h-1zM201 339.5h1v1h-1zM201 348.8h1v1h-1zM201.7 348.7h1v1h-1zM186.9 335.9h1v1h-1zM194.2 297h1v1h-1zM162.9 303.3h1v1h-1zM162.3 303.7h1v1h-1zM191.3 286.9h1v1h-1zM160.7 346h1v1h-1zM188.9 347.4h1v1h-1zM177.7 279.2h1v1h-1zM161.9 320h1v1h-1zM194.8 295.8h1v1h-1zM194 295.7h1v1h-1zM177.7 277.9h1v1h-1zM192.7 310.5h1v1h-1zM192 313h1v1h-1zM192.7 312.2h1v1h-1zM193.3 279.4h1v1h-1zM191 322.4h1v1h-1zM199 341h1v1h-1zM194.5 278.4h1v1h-1zM183 338.1h1v1h-1zM177.7 280.2h1v1h-1zM191.2 334.9h1v1h-1zM193.5 291h1v1h-1zM191.8 340h1v1h-1zM192.8 311.3h1v1h-1zM193.2 301.9h1v1h-1zM177.2 270.1h1v1h-1zM200.5 340h1v1h-1zM202 340.2h1v1h-1zM176.3 279.9h1v1h-1zM193.3 299.7h1v1h-1zM193.7 299.7h1v1h-1zM193.1 300.1h1v1h-1zM193.7 291.6h1v1h-1zM163 278.4h1v1h-1zM177.3 281.6h1v1h-1zM175.9 275.2h1v1h-1zM193.2 319.8h1v1h-1zM176 282.5h1v1h-1zM161.5 324.8h1v1h-1zM189.4 330.9h1v1h-1zM176.2 281h1v1h-1zM162.6 308.5h1v1h-1zM190.6 303.7h1v1h-1zM160.5 328.9h1v1h-1zM193.8 273h1v1h-1zM187.3 346.6h1v1h-1zM187.2 346.6h1v1h-1zM186.9 348h1v1h-1zM192.6 340.8h1v1h-1zM192.2 340.9h1v1h-1zM161.9 316h1v1h-1zM192.6 318.4h1v1h-1zM172 345.4h1v1h-1zM172.2 345.2h1v1h-1zM201.7 341.2h1v1h-1zM201.5 342.1h1v1h-1zM201 341.9h1v1h-1zM190.3 286.4h1v1h-1zM160.8 337.1h1v1h-1zM191.1 341h1v1h-1zM191.8 340.5h1v1h-1zM191.8 340.3h1v1h-1zM192.6 321.3h1v1h-1zM192.4 321.1h1v1h-1zM187 348.7h1v1h-1zM187.3 348.8h1v1h-1zM187.2 348.1h1v1h-1zM194.8 272.8h1v1h-1zM192.8 301.4h1v1h-1zM192.7 301.7h1v1h-1zM193.5 279h1v1h-1zM190.5 318h1v1h-1zM162.9 309.5h1v1h-1zM177.8 270.6h1v1h-1zM177 270.5h1v1h-1zM188.5 332.6h1v1h-1zM188.9 348h1v1h-1zM188.1 347.7h1v1h-1zM175.7 272.9h1v1h-1zM177.7 283.9h1v1h-1zM161.7 350.2h1v1h-1zM162.6 313h1v1h-1zM172.7 343h1v1h-1zM194.2 276.2h1v1h-1zM194.9 277.1h1v1h-1zM177.5 284.6h1v1h-1zM171.7 351.5h1v1h-1z"/>
<path fill="rgb(70,74,208)" fill-opacity="0.37" d="M176.5 285.9h1v1h-1zM189.9 285.3h1v1h-1zM194.2 274.1h1v1h-1zM160.9 329.7h1v1h-1zM175.6 286h1v1h-1zM191.7 301.4h1v1h-1zM187.5 347.5h1v1h-1zM174.1 288.7h1v1h-1zM190.5 326.7h1v1h-1zM192.9 273.2h1v1h-1zM164.5 274.6h1v1h-1zM194.1 274.2h1v1h-1zM194.4 274.8h1v1h-1zM192.6 290h1v1h-1zM192.7 299.8h1v1h-1zM178.4 277.2h1v1h-1zM178.7 282.8h1v1h-1zM191.5 310.3h1v1h-1zM163.7 293.5h1v1h-1zM191 288.3h1v1h-1zM191.2 288.3h1v1h-1zM163.5 292.6h1v1h-1zM191.6 283.8h1v1h-1zM193.2 273.2h1v1h-1zM191.1 311.5h1v1h-1zM175.5 286.8h1v1h-1zM175.9 286.5h1v1h-1zM178.7 285.8h1v1h-1zM176.7 273.8h1v1h-1zM174.7 289.1h1v1h-1zM162.9 294.8h1v1h-1zM175 287.6h1v1h-1zM191.4 318.8h1v1h-1zM175.4 280h1v1h-1zM172.8 347.5h1v1h-1zM172.4 347.6h1v1h-1zM178.7 276.4h1v1h-1zM177.9 276.6h1v1h-1zM191.8 282.6h1v1h-1zM192.1 319.4h1v1h-1zM189.9 314.8h1v1h-1zM163.8 295.2h1v1h-1zM178.2 284.9h1v1h-1zM174.8 336.6h1v1h-1zM190.3 322.1h1v1h-1zM176.5 288.5h1v1h-1zM178.2 283.3h1v1h-1zM163 285.4h1v1h-1zM163 285.2h1v1h-1zM163.7 285.6h1v1h-1zM175.8 273.9h1v1h-1zM163.2 300.1h1v1h-1zM189.6 328.2h1v1h-1zM176.4 287.6h1v1h-1zM176.7 288h1v1h-1zM191.2 278.2h1v1h-1zM178.3 275.5h1v1h-1zM189.9 325.1h1v1h-1zM177.7 288.1h1v1h-1zM176.9 287.3h1v1h-1zM192.9 290.1h1v1h-1zM178.4 270.6h1v1h-1zM175.7 274.7h1v1h-1zM163.7 287.3h1v1h-1zM189.7 315.2h1v1h-1zM163.1 286.2h1v1h-1zM192.1 293.7h1v1h-1zM192.3 293.8h1v1h-1zM192.8 293.5h1v1h-1zM190.3 280.5h1v1h-1zM192.1 292.2h1v1h-1zM192 292.5h1v1h-1zM190.4 318.4h1v1h-1zM189.4 288.1h1v1h-1zM189.7 270h1v1h-1zM193.4 277.1h1v1h-1zM163.2 298.3h1v1h-1zM189.8 304.6h1v1h-1zM177.3 273.7h1v1h-1zM177.3 272.4h1v1h-1zM177.6 272.7h1v1h-1zM173.6 287.6h1v1h-1zM193.4 275.6h1v1h-1zM193.7 276h1v1h-1zM190 313.4h1v1h-1zM190.3 313.5h1v1h-1zM190.3 314h1v1h-1zM189.4 306.3h1v1h-1zM179.4 285h1v1h-1zM163.8 290.6h1v1h-1zM192.9 274.1h1v1h-1zM179.6 286.8h1v1h-1zM192 297.4h1v1h-1zM192.8 297.9h1v1h-1zM173.9 271.4h1v1h-1zM173.8 271.9h1v1h-1zM192.6 277.3h1v1h-1zM163.6 289.5h1v1h-1zM164.6 281.4h1v1h-1zM173 286.8h1v1h-1zM174.2 283.8h1v1h-1zM174.4 284h1v1h-1zM174.7 284h1v1h-1zM191.2 320.5h1v1h-1zM191.1 320.9h1v1h-1zM189 318.3h1v1h-1zM189.2 323.7h1v1h-1zM164.7 271.6h1v1h-1zM191.6 319.5h1v1h-1zM179.2 282.6h1v1h-1zM191 289.3h1v1h-1zM179.7 283.4h1v1h-1zM190.2 273.3h1v1h-1zM190.8 320.6h1v1h-1zM190.8 320.1h1v1h-1zM191.5 274.7h1v1h-1zM179.4 270.5h1v1h-1zM192 295.4h1v1h-1zM192.4 295.8h1v1h-1zM192.5 295.2h1v1h-1zM178.7 271.9h1v1h-1zM162.5 351.7h1v1h-1zM174.1 273.3h1v1h-1zM190 319.8h1v1h-1zM161.2 347.6h1v1h-1zM189.2 319.4h1v1h-1zM189 319.7h1v1h-1zM178.9 287.2h1v1h-1zM179 287.7h1v1h-1zM179.2 287.5h1v1h-1zM163.2 352.3h1v1h-1zM190 281.4h1v1h-1zM164 277.9h1v1h-1zM164.8 277.3h1v1h-1zM164.3 278h1v1h-1zM174.1 281.7h1v1h-1zM189.8 314.2h1v1h-1zM190.2 310.1h1v1h-1zM179.8 277.8h1v1h-1zM189.5 271.1h1v1h-1zM188.9 279.2h1v1h-1zM189.7 279.7h1v1h-1zM190.1 283.3h1v1h-1zM178.7 273.9h1v1h-1zM178.5 273.8h1v1h-1zM161.5 339.5h1v1h-1zM187.9 321.5h1v1h-1zM191.4 277.5h1v1h-1zM191.2 277.8h1v1h-1zM163.7 311.9h1v1h-1zM176.3 290.2h1v1h-1zM163.6 312.1h1v1h-1zM164.6 278.7h1v1h-1zM180.4 284.8h1v1h-1zM163.1 310.4h1v1h-1zM178.6 272.6h1v1h-1zM190.9 290.9h1v1h-1zM163.6 309.7h1v1h-1zM179.2 274.4h1v1h-1zM179.8 274.7h1v1h-1zM175.3 291.8h1v1h-1zM188.6 316.8h1v1h-1zM188.1 316.6h1v1h-1zM173 272.9h1v1h-1zM174.4 280.3h1v1h-1zM190.3 282.9h1v1h-1zM190.5 282.7h1v1h-1zM190.7 289.8h1v1h-1zM190.7 289.2h1v1h-1zM187.4 332.4h1v1h-1zM170.9 341h1v1h-1zM191.3 291.6h1v1h-1zM162.9 314.3h1v1h-1zM163.6 314.9h1v1h-1zM189.1 326.5h1v1h-1zM189.1 302.8h1v1h-1zM189.9 302.8h1v1h-1zM171.7 339.6h1v1h-1zM161.9 340.2h1v1h-1zM163.2 306h1v1h-1zM163.6 305.2h1v1h-1zM180.7 270.3h1v1h-1zM189.3 324.5h1v1h-1zM189.8 324.5h1v1h-1zM189.1 324.6h1v1h-1zM191.5 275.2h1v1h-1zM190.5 299.4h1v1h-1zM174.1 335.8h1v1h-1zM174.6 336h1v1h-1zM174.3 335.4h1v1h-1zM189.5 314h1v1h-1zM173.2 284.3h1v1h-1zM173.5 284.7h1v1h-1zM171.4 341.7h1v1h-1zM191.9 295.8h1v1h-1zM191.8 296.1h1v1h-1zM189.3 271.6h1v1h-1zM164.3 300.9h1v1h-1zM191 276.7h1v1h-1zM191 276.2h1v1h-1zM174.6 306.4h1v1h-1zM191.2 298h1v1h-1zM188.8 329.3h1v1h-1zM164.2 284.5h1v1h-1zM188 286.4h1v1h-1zM174.1 275.2h1v1h-1zM165.5 270.9h1v1h-1zM182.7 270.4h1v1h-1zM182.9 270.7h1v1h-1zM180 274.2h1v1h-1zM180.4 276.1h1v1h-1zM180.3 276.9h1v1h-1zM181.9 271.1h1v1h-1zM181.1 271h1v1h-1zM181 270.1h1v1h-1zM180.1 287.2h1v1h-1zM189.1 325.5h1v1h-1zM189.5 325.2h1v1h-1zM165.1 275.3h1v1h-1zM171.3 343.9h1v1h-1zM180.9 276.1h1v1h-1zM174.5 301.9h1v1h-1zM174.4 301.8h1v1h-1zM172.9 308.1h1v1h-1zM173.7 307.2h1v1h-1zM188 288.3h1v1h-1zM189.7 272.9h1v1h-1zM189.8 273h1v1h-1zM189.2 301.9h1v1h-1zM189.5 301.8h1v1h-1zM189.6 301.4h1v1h-1zM171.7 342.4h1v1h-1zM191.3 296.2h1v1h-1zM188.9 289.5h1v1h-1zM189.1 278h1v1h-1zM189.1 277.3h1v1h-1zM189.2 277.9h1v1h-1zM170.9 349.1h1v1h-1zM173.7 335.5h1v1h-1zM172.9 335.9h1v1h-1zM173.8 335.4h1v1h-1zM190 275.5h1v1h-1zM190.4 275.4h1v1h-1zM178.6 289.5h1v1h-1zM181.3 274.9h1v1h-1zM173.9 273.9h1v1h-1zM189.9 273.9h1v1h-1zM184.6 270.9h1v1h-1zM184.9 270.8h1v1h-1zM184.5 270.4h1v1h-1zM180.6 282.1h1v1h-1zM180.6 281.8h1v1h-1zM162.6 319.1h1v1h-1zM164.2 294.2h1v1h-1zM188.6 328.4h1v1h-1zM174.2 306h1v1h-1zM188.5 279.5h1v1h-1zM189.5 281.2h1v1h-1zM189.2 281.1h1v1h-1zM186.8 334.2h1v1h-1zM187.1 331.3h1v1h-1zM185.1 271.1h1v1h-1zM185.5 270.1h1v1h-1zM171.3 348.1h1v1h-1zM181.1 284.8h1v1h-1zM181.3 284.5h1v1h-1zM190.2 276.2h1v1h-1zM190.6 277h1v1h-1zM190.8 276.6h1v1h-1zM186.2 271h1v1h-1zM186.5 270.6h1v1h-1zM188.1 270.5h1v1h-1zM188 271h1v1h-1zM188.5 271h1v1h-1zM188.7 279h1v1h-1zM172.9 288.5h1v1h-1zM172.5 288.4h1v1h-1zM180.1 278h1v1h-1zM180.2 277.9h1v1h-1zM174.2 308.9h1v1h-1zM174.7 308.9h1v1h-1zM180.7 280h1v1h-1zM180.5 279.6h1v1h-1zM182.5 275.9h1v1h-1zM189.7 308.2h1v1h-1zM189.8 283.4h1v1h-1zM189.7 283.9h1v1h-1zM170.1 351.4h1v1h-1zM189.9 292.4h1v1h-1zM190.7 293h1v1h-1zM190.7 293.1h1v1h-1zM188.1 314.9h1v1h-1zM176.8 291.7h1v1h-1zM189.2 275h1v1h-1zM190.4 298.6h1v1h-1zM190.5 298.7h1v1h-1zM190.2 298.6h1v1h-1zM173.2 315.7h1v1h-1zM175.1 300.6h1v1h-1zM175.8 300.2h1v1h-1zM162.7 351h1v1h-1zM162.8 350.2h1v1h-1zM187.5 270.2h1v1h-1zM174.7 292.2h1v1h-1zM174.8 292.1h1v1h-1zM189.6 300.9h1v1h-1zM189.4 300.7h1v1h-1zM164.7 288h1v1h-1zM164.3 288h1v1h-1zM181.6 276.6h1v1h-1zM161.7 337h1v1h-1zM161.1 336.5h1v1h-1zM180.8 278.6h1v1h-1zM171.6 348.9h1v1h-1zM177 290.7h1v1h-1zM177.7 290.8h1v1h-1zM164 299.1h1v1h-1zM164.9 299.6h1v1h-1zM188 327.8h1v1h-1zM174.5 303.5h1v1h-1zM173.6 316.2h1v1h-1zM173.1 282.3h1v1h-1zM172.9 282.4h1v1h-1zM180.3 273.5h1v1h-1zM180.2 273.3h1v1h-1zM164.6 303.2h1v1h-1zM164 303.7h1v1h-1zM163.9 316.6h1v1h-1zM173.9 304.5h1v1h-1zM174.5 304.8h1v1h-1zM175.6 302.4h1v1h-1zM189.5 282.5h1v1h-1zM190.4 291.4h1v1h-1zM180.6 288.1h1v1h-1zM174.3 316.1h1v1h-1zM172.5 271.9h1v1h-1zM172.4 271.5h1v1h-1zM180.6 271.2h1v1h-1zM180.2 271.2h1v1h-1zM184.9 335.2h1v1h-1zM162.2 323.6h1v1h-1zM189 275.7h1v1h-1zM162.7 322.2h1v1h-1zM190.1 295.7h1v1h-1zM172.5 307h1v1h-1zM173.8 303.8h1v1h-1zM173.3 303.5h1v1h-1zM172.9 317.7h1v1h-1zM173 317.3h1v1h-1zM181.5 286.9h1v1h-1zM181.2 286.8h1v1h-1zM173.1 302.6h1v1h-1zM189 311.3h1v1h-1zM189.8 312h1v1h-1zM175.3 299.2h1v1h-1zM187.5 321.9h1v1h-1zM187.8 321.5h1v1h-1zM187 320.2h1v1h-1zM188.1 284.7h1v1h-1zM188.3 284.9h1v1h-1zM188.4 284.5h1v1h-1zM173 301.7h1v1h-1zM181.2 273.7h1v1h-1zM182.1 276.7h1v1h-1zM174.6 300.1h1v1h-1zM174.8 314.5h1v1h-1zM174.8 314.8h1v1h-1zM174.6 314.3h1v1h-1zM175.6 307.7h1v1h-1zM181.2 283.5h1v1h-1zM181.2 283.9h1v1h-1zM164.5 291.6h1v1h-1zM164.8 297.9h1v1h-1zM173.8 318.2h1v1h-1zM173.5 318.4h1v1h-1zM171.1 337.2h1v1h-1zM171.1 337.2h1v1h-1zM183.4 275.6h1v1h-1zM174 334.2h1v1h-1zM173 328h1v1h-1zM174.2 309.8h1v1h-1zM164.4 298.9h1v1h-1zM188.5 324.5h1v1h-1zM180.8 272.3h1v1h-1zM180.1 272.5h1v1h-1zM180.8 272.8h1v1h-1zM180.7 272.1h1v1h-1zM164.2 289.7h1v1h-1zM164.1 289.7h1v1h-1zM188.8 326.8h1v1h-1zM173.8 274.1h1v1h-1zM173 275.1h1v1h-1zM181.4 271.1h1v1h-1zM181.7 271.1h1v1h-1zM164.9 273.4h1v1h-1zM165.4 273.8h1v1h-1zM186.9 319.9h1v1h-1zM183.5 274.9h1v1h-1zM179.8 289.9h1v1h-1zM189.5 299.2h1v1h-1zM164.3 311.2h1v1h-1zM188.1 271.7h1v1h-1zM188 271.7h1v1h-1zM188.5 272.1h1v1h-1zM188.9 271.2h1v1h-1zM188.5 272h1v1h-1zM161.1 335.9h1v1h-1zM173 319.6h1v1h-1zM173.3 313.7h1v1h-1zM164.1 290.8h1v1h-1zM164.4 290.9h1v1h-1zM186.2 333.9h1v1h-1zM186.2 334h1v1h-1zM171.9 272.9h1v1h-1zM187.5 322.9h1v1h-1zM190.7 297.1h1v1h-1zM174.2 329h1v1h-1zM187 330.2h1v1h-1zM187.8 330.6h1v1h-1zM174.2 313.8h1v1h-1zM181.5 277.9h1v1h-1zM172.6 335.5h1v1h-1zM189.6 309.1h1v1h-1zM189.2 309.9h1v1h-1zM189.9 309.4h1v1h-1zM189.4 309.5h1v1h-1zM164.1 310.4h1v1h-1zM177.5 335.5h1v1h-1zM164.9 271.6h1v1h-1zM165.9 272h1v1h-1zM165.9 272h1v1h-1zM186.2 271.5h1v1h-1zM174.2 293.5h1v1h-1zM183.5 276.7h1v1h-1zM188.5 313.5h1v1h-1zM173.4 291.8h1v1h-1zM189.7 290.2h1v1h-1zM189.6 290.4h1v1h-1zM189.7 290.5h1v1h-1zM185.1 271.2h1v1h-1zM187.7 318.4h1v1h-1zM187.7 319.1h1v1h-1zM187.8 318.6h1v1h-1zM165.5 277.6h1v1h-1zM165.1 277.1h1v1h-1zM164.9 277.7h1v1h-1zM174 318.9h1v1h-1zM174.1 319h1v1h-1zM164.6 313.1h1v1h-1zM190.7 296.3h1v1h-1zM189.9 296.7h1v1h-1zM189.2 294.7h1v1h-1zM188.1 325.7h1v1h-1zM187.9 325.2h1v1h-1zM181.1 272.8h1v1h-1zM188.3 282h1v1h-1zM188.6 281.9h1v1h-1zM184.2 271.2h1v1h-1zM184.1 271.8h1v1h-1zM184.9 271.8h1v1h-1zM173.8 280.1h1v1h-1zM173.8 281h1v1h-1zM187.7 271.3h1v1h-1zM188.4 274h1v1h-1zM174.8 298.2h1v1h-1zM174.3 298.8h1v1h-1zM187.7 279.1h1v1h-1zM164.9 301.2h1v1h-1zM172.7 314.7h1v1h-1zM187.2 287.3h1v1h-1zM187.3 287.9h1v1h-1zM182.5 273.1h1v1h-1zM182 272.6h1v1h-1zM176.3 300.4h1v1h-1zM176.3 300.8h1v1h-1zM187.1 279.8h1v1h-1zM172.5 315.7h1v1h-1zM188 283.8h1v1h-1zM188.1 283.9h1v1h-1zM188.2 274.2h1v1h-1zM175 297.4h1v1h-1zM175.3 298h1v1h-1zM187.9 317.4h1v1h-1zM182.1 277.8h1v1h-1zM182.4 278.1h1v1h-1zM172.5 304.5h1v1h-1zM187.1 286.5h1v1h-1zM187.2 286.6h1v1h-1zM187.6 286.4h1v1h-1zM183.5 273.5h1v1h-1zM183.4 273.5h1v1h-1zM183.2 273.5h1v1h-1zM164.2 309.1h1v1h-1zM163.9 309.9h1v1h-1zM164.8 309.7h1v1h-1zM188.4 275.8h1v1h-1zM175.4 309.3h1v1h-1zM181.1 282.3h1v1h-1zM181.3 282.2h1v1h-1zM164.9 305.1h1v1h-1zM164.5 304.9h1v1h-1zM161.6 334.4h1v1h-1zM173.4 321h1v1h-1zM172.1 285h1v1h-1zM165.4 280.8h1v1h-1zM165.4 302.2h1v1h-1zM165.2 302.2h1v1h-1zM174.7 312.1h1v1h-1zM174.6 312.8h1v1h-1zM183.3 277.2h1v1h-1zM182.9 277.9h1v1h-1zM164.1 308.4h1v1h-1zM172.8 319.3h1v1h-1zM181.1 278.7h1v1h-1zM181.4 279h1v1h-1zM181.7 278.6h1v1h-1zM186.8 332.8h1v1h-1zM175.9 305.8h1v1h-1zM188.2 283h1v1h-1zM187.9 286h1v1h-1zM174.6 326.9h1v1h-1zM165.8 282.9h1v1h-1zM165.9 282.3h1v1h-1zM172.5 308.8h1v1h-1zM172.5 308.2h1v1h-1zM172.1 308.8h1v1h-1zM172.3 317h1v1h-1zM181.3 280.2h1v1h-1zM181.7 280.1h1v1h-1zM176.2 299.2h1v1h-1zM172.3 317.7h1v1h-1zM161.7 329.9h1v1h-1zM183.4 272.5h1v1h-1zM182.9 273.1h1v1h-1zM181.5 279.6h1v1h-1zM181 280h1v1h-1zM181.3 279.1h1v1h-1zM184.3 275.2h1v1h-1zM174.8 319.2h1v1h-1zM164.3 313.4h1v1h-1zM178.1 290.5h1v1h-1zM174.3 297.5h1v1h-1zM174.9 315.4h1v1h-1zM175.4 315.5h1v1h-1zM184.5 274.2h1v1h-1zM181.2 282h1v1h-1zM181.3 281.7h1v1h-1zM176.6 303h1v1h-1zM174.8 294.7h1v1h-1zM173.6 333.5h1v1h-1zM187 272.6h1v1h-1zM174.9 311.8h1v1h-1zM175.1 314.4h1v1h-1zM187.5 323.2h1v1h-1zM173.6 293.7h1v1h-1zM173 275.6h1v1h-1zM173.7 276.1h1v1h-1zM173.7 276h1v1h-1zM181.4 288.6h1v1h-1zM187.6 329.8h1v1h-1zM187.1 329.7h1v1h-1zM187.8 329.2h1v1h-1zM165 279.6h1v1h-1zM187.5 278.1h1v1h-1zM183 278.4h1v1h-1zM183.8 278.5h1v1h-1zM184.1 277h1v1h-1zM173 329.8h1v1h-1zM173.5 329.2h1v1h-1zM174.7 329.6h1v1h-1zM182.1 283.8h1v1h-1zM164.5 306.8h1v1h-1zM164.3 306.5h1v1h-1zM164.9 307.1h1v1h-1zM164.5 307h1v1h-1zM177.4 291.7h1v1h-1zM176.9 291.6h1v1h-1zM177.8 292h1v1h-1zM174.8 334h1v1h-1zM174 333.6h1v1h-1zM161.5 333.7h1v1h-1zM161.4 333.8h1v1h-1zM175.2 327.4h1v1h-1zM175.3 328.1h1v1h-1zM175.7 327.7h1v1h-1zM174.6 296.8h1v1h-1zM174.6 296.5h1v1h-1zM173.1 312.3h1v1h-1zM173.7 312.3h1v1h-1zM175 310.3h1v1h-1zM174.9 310.3h1v1h-1zM187 315.5h1v1h-1zM173.2 299.4h1v1h-1zM175.1 304.4h1v1h-1zM175.1 304.1h1v1h-1zM184.5 272.9h1v1h-1zM184.4 272.5h1v1h-1zM184.6 272.7h1v1h-1zM184 277.6h1v1h-1zM184 273.6h1v1h-1zM187.9 327.1h1v1h-1zM187.4 327.4h1v1h-1zM187.7 327.4h1v1h-1zM173 294.1h1v1h-1zM173 294.7h1v1h-1zM173.6 294.7h1v1h-1zM172.4 303.7h1v1h-1zM171.9 303.7h1v1h-1zM184.8 278.5h1v1h-1zM189.9 291.5h1v1h-1zM189.6 292h1v1h-1zM166 270.2h1v1h-1zM166.7 271h1v1h-1zM173.9 295.6h1v1h-1zM174.8 296h1v1h-1zM187.8 328.3h1v1h-1zM164.5 305.1h1v1h-1zM187.8 280.8h1v1h-1zM165.1 300.6h1v1h-1zM165.9 300.5h1v1h-1zM187.1 273.5h1v1h-1zM187.4 273.4h1v1h-1zM187.7 273.8h1v1h-1zM187 273.2h1v1h-1zM183.4 279.7h1v1h-1zM183.4 279.3h1v1h-1zM171.5 270.1h1v1h-1zM171.7 270.6h1v1h-1zM171.7 270.6h1v1h-1zM171.3 270.3h1v1h-1zM174.4 320.2h1v1h-1zM188.9 300.3h1v1h-1zM175.7 328.3h1v1h-1zM185.5 273.2h1v1h-1zM185.7 273.2h1v1h-1zM175.5 313.1h1v1h-1zM182.2 279.1h1v1h-1zM182.2 279.9h1v1h-1z"/>
<path fill="rgb(55,64,203)" fill-opacity="0.41" d="M189.8 295.7h1v1h-1zM163.3 351.9h1v1h-1zM182.2 286.2h1v1h-1zM182.8 286.9h1v1h-1zM182 287h1v1h-1zM182.4 286.7h1v1h-1zM182.5 286.7h1v1h-1zM173.7 280.1h1v1h-1zM173 279.9h1v1h-1zM173 279.6h1v1h-1zM187.7 327.1h1v1h-1zM186.8 273.9h1v1h-1zM186.7 273.4h1v1h-1zM184.1 335.4h1v1h-1zM184.3 335.9h1v1h-1zM183.9 335.8h1v1h-1zM165.3 283.6h1v1h-1zM175 311.1h1v1h-1zM176.7 297.8h1v1h-1zM185.9 278.9h1v1h-1zM186.5 278.4h1v1h-1zM186.7 278.5h1v1h-1zM172.3 334.5h1v1h-1zM185 274.4h1v1h-1zM185.8 275.1h1v1h-1zM187.9 274.9h1v1h-1zM187 274.9h1v1h-1zM170.3 341.1h1v1h-1zM170 340.9h1v1h-1zM170.6 340.3h1v1h-1zM175.1 318.7h1v1h-1zM175.4 319h1v1h-1zM173.4 310.7h1v1h-1zM173.5 310.5h1v1h-1zM171.6 336.3h1v1h-1zM175 294.9h1v1h-1zM175.1 294.6h1v1h-1zM171.1 307.1h1v1h-1zM187.5 276.9h1v1h-1zM187.4 276.7h1v1h-1zM187 276.9h1v1h-1zM187.3 276.1h1v1h-1zM173.7 332.9h1v1h-1zM173.9 296.9h1v1h-1zM173.6 296.6h1v1h-1zM185.7 278.4h1v1h-1zM162.7 325.8h1v1h-1zM174.1 321.8h1v1h-1zM175.6 327h1v1h-1zM170.6 339.2h1v1h-1zM188.7 290.3h1v1h-1zM176.4 334.1h1v1h-1zM176.7 334.8h1v1h-1zM173.5 321.8h1v1h-1zM173.5 321.3h1v1h-1zM173.5 276.1h1v1h-1zM173.6 276.7h1v1h-1zM173.3 276.6h1v1h-1zM173.6 277h1v1h-1zM187.6 324.5h1v1h-1zM187.8 324.7h1v1h-1zM173.6 330.8h1v1h-1zM187.6 275.4h1v1h-1zM187.3 275.9h1v1h-1zM187 275.4h1v1h-1zM183.4 285.2h1v1h-1zM185.5 275.9h1v1h-1zM185.3 275.3h1v1h-1zM185.7 275.9h1v1h-1zM166.2 276h1v1h-1zM166 276h1v1h-1zM185.2 277.8h1v1h-1zM185.2 277.5h1v1h-1zM173.5 312h1v1h-1zM173.6 311.9h1v1h-1zM187.2 326.1h1v1h-1zM187.4 325.4h1v1h-1zM187.1 283.3h1v1h-1zM187 283.6h1v1h-1zM171.2 308.3h1v1h-1zM171.2 308.7h1v1h-1zM170.9 308.2h1v1h-1zM187.1 290h1v1h-1zM171 306.8h1v1h-1zM172.4 275h1v1h-1zM172.1 274.2h1v1h-1zM172.3 282.7h1v1h-1zM172 282.1h1v1h-1zM172.6 295.8h1v1h-1zM173.5 332h1v1h-1zM186.7 277.3h1v1h-1zM186.6 277.6h1v1h-1zM174.2 325.3h1v1h-1zM174.7 325.7h1v1h-1zM173.9 325.3h1v1h-1zM174.6 325.2h1v1h-1zM174.4 326h1v1h-1zM173.3 298.2h1v1h-1zM173.3 298.3h1v1h-1zM185.2 276.3h1v1h-1zM185.3 277h1v1h-1zM185.8 334.4h1v1h-1zM185.9 334.8h1v1h-1zM185.2 335.1h1v1h-1zM185.2 335h1v1h-1zM182.5 287.3h1v1h-1zM172.3 290.6h1v1h-1zM172.9 290.9h1v1h-1zM172.2 290.6h1v1h-1zM172.4 290.6h1v1h-1zM174.5 330.4h1v1h-1zM174.6 332.5h1v1h-1zM174.8 332.9h1v1h-1zM174.7 332.7h1v1h-1zM172 294.6h1v1h-1zM172.5 294.5h1v1h-1zM172.5 294.3h1v1h-1zM172.1 310h1v1h-1zM171.9 309.8h1v1h-1zM173.4 297.1h1v1h-1zM173.1 297.3h1v1h-1zM187.3 281.1h1v1h-1zM187.7 281.7h1v1h-1zM182.7 282.3h1v1h-1zM182.7 282.2h1v1h-1zM182 282.1h1v1h-1zM176.4 293.9h1v1h-1zM176.4 293.1h1v1h-1zM176.2 293.4h1v1h-1zM176.2 294.1h1v1h-1zM178.6 335.5h1v1h-1zM165 304.1h1v1h-1zM165.7 303.5h1v1h-1zM175.7 333.8h1v1h-1zM175.5 333.3h1v1h-1zM173.4 278.8h1v1h-1zM173.7 278.2h1v1h-1zM173.5 278.7h1v1h-1zM173.6 278.4h1v1h-1zM175.7 320h1v1h-1zM185.4 279.5h1v1h-1zM176.6 296.4h1v1h-1zM173.4 277.4h1v1h-1zM186 320.4h1v1h-1zM186.2 320.1h1v1h-1zM162 338.2h1v1h-1zM182.2 282h1v1h-1zM182.4 281.3h1v1h-1zM182.6 281.5h1v1h-1zM186.6 285.3h1v1h-1zM186.1 285.7h1v1h-1zM186.3 285.5h1v1h-1zM183 283.6h1v1h-1zM174.8 323.8h1v1h-1zM188.7 308.5h1v1h-1zM188.2 308.6h1v1h-1zM188.3 308.4h1v1h-1zM186.7 287.1h1v1h-1zM186.7 286.4h1v1h-1zM187.3 282.1h1v1h-1zM162.3 340.8h1v1h-1zM162.8 340.9h1v1h-1zM162.1 341h1v1h-1zM186.5 276.5h1v1h-1zM186.6 276.3h1v1h-1zM171.1 288.7h1v1h-1zM179.4 290.5h1v1h-1zM179.5 291.1h1v1h-1zM179.8 291.1h1v1h-1zM184.7 284.2h1v1h-1zM184.7 284.8h1v1h-1zM184.2 284.7h1v1h-1zM175.5 329.3h1v1h-1zM173.2 325.1h1v1h-1zM174.1 331.2h1v1h-1zM174.6 331.2h1v1h-1zM175 326h1v1h-1zM175.4 325.4h1v1h-1zM175.2 326h1v1h-1zM186.5 284.2h1v1h-1zM186.3 284.7h1v1h-1zM172.1 281.3h1v1h-1zM172.4 281.7h1v1h-1zM186.8 287.3h1v1h-1zM174.7 324.6h1v1h-1zM184.7 285.5h1v1h-1zM165.8 284.2h1v1h-1zM165.3 284.4h1v1h-1zM188.8 299.6h1v1h-1zM166.3 274.5h1v1h-1zM170.7 345.8h1v1h-1zM189 297.4h1v1h-1zM169.9 341.5h1v1h-1zM170.9 288.1h1v1h-1zM171.2 305.6h1v1h-1zM171.1 305.4h1v1h-1zM183.5 335.4h1v1h-1zM183.5 335.5h1v1h-1zM183.4 335.6h1v1h-1zM182.9 335.6h1v1h-1zM177.7 300.3h1v1h-1zM177.2 300.1h1v1h-1zM177.5 300.8h1v1h-1zM177.8 300.3h1v1h-1zM186.2 327.7h1v1h-1zM186.6 327.9h1v1h-1zM165 300h1v1h-1zM165.8 299.1h1v1h-1zM175.2 323h1v1h-1zM175.6 322.5h1v1h-1zM189.1 297h1v1h-1zM189.1 296.4h1v1h-1zM170 350.4h1v1h-1zM186.4 331h1v1h-1zM186 330.7h1v1h-1zM186.2 331h1v1h-1zM172.7 333.7h1v1h-1zM176.5 303.8h1v1h-1zM176.7 303.2h1v1h-1zM176.7 303.6h1v1h-1zM175.6 325h1v1h-1zM175.5 320.2h1v1h-1zM175.6 320.8h1v1h-1zM175.6 320.1h1v1h-1zM185.8 285.9h1v1h-1zM185.5 285.9h1v1h-1zM186.2 319.5h1v1h-1zM186.6 320h1v1h-1zM186.1 319.7h1v1h-1zM177.8 292.6h1v1h-1zM177.5 292.7h1v1h-1zM184.6 280.2h1v1h-1zM184 280.2h1v1h-1zM188.3 294.1h1v1h-1zM183.5 287h1v1h-1zM183.4 287h1v1h-1zM183.5 286.2h1v1h-1zM183.8 286.5h1v1h-1zM183.2 286.9h1v1h-1zM188.1 293.5h1v1h-1zM188.2 293.4h1v1h-1zM188.4 293.5h1v1h-1zM163.7 318.2h1v1h-1zM163.8 319h1v1h-1zM171 309.3h1v1h-1zM162.3 341.4h1v1h-1zM162.9 341.3h1v1h-1zM162.1 341.3h1v1h-1zM162 341.8h1v1h-1zM176.9 309h1v1h-1zM176.1 309h1v1h-1zM176.2 308.6h1v1h-1zM171.9 328.9h1v1h-1zM186.7 326.4h1v1h-1zM176.2 327.6h1v1h-1zM175 321.2h1v1h-1zM175.2 321.4h1v1h-1zM175.1 322.1h1v1h-1zM175.7 322h1v1h-1zM176.8 313.9h1v1h-1zM185 284.9h1v1h-1zM176.1 314.2h1v1h-1zM176.6 314.8h1v1h-1zM188.9 311.4h1v1h-1zM170.7 308.2h1v1h-1zM169.9 339.1h1v1h-1zM170.4 338.9h1v1h-1zM165.2 289.1h1v1h-1zM164.8 315.7h1v1h-1zM176.5 295.9h1v1h-1zM176.4 295.9h1v1h-1zM176.4 295.4h1v1h-1zM176.9 295.1h1v1h-1zM176 295.8h1v1h-1zM176.3 295.5h1v1h-1zM162.1 342.8h1v1h-1zM183.8 281.5h1v1h-1zM182.7 288.7h1v1h-1zM182.3 288.8h1v1h-1zM172.2 300.3h1v1h-1zM186.6 280.1h1v1h-1zM186.4 280.2h1v1h-1zM186.3 281h1v1h-1zM186.7 280.3h1v1h-1zM175.9 326.7h1v1h-1zM176.1 294.3h1v1h-1zM176.4 294.2h1v1h-1zM176.8 315.3h1v1h-1zM175.9 315.5h1v1h-1zM176.5 315.5h1v1h-1zM176 315.7h1v1h-1zM176.2 306.9h1v1h-1zM176 306.2h1v1h-1zM181.4 289.7h1v1h-1zM178.1 292h1v1h-1zM176.2 312.7h1v1h-1zM175.9 312.2h1v1h-1zM171.7 286.1h1v1h-1zM170.9 286.3h1v1h-1zM165.6 287.5h1v1h-1zM186.4 288.2h1v1h-1zM186.5 289.1h1v1h-1zM185.9 289h1v1h-1zM186.8 288.8h1v1h-1zM186.6 323h1v1h-1zM186 322.4h1v1h-1zM186.8 322.4h1v1h-1zM187.6 313.2h1v1h-1zM187.8 313.8h1v1h-1zM187.6 313.8h1v1h-1zM176.7 310h1v1h-1zM186.7 329h1v1h-1zM186.2 328.3h1v1h-1zM162.6 348h1v1h-1zM162 347.5h1v1h-1zM171.8 304.7h1v1h-1zM171.4 304.4h1v1h-1zM171.1 305h1v1h-1zM171.6 295.2h1v1h-1zM171.3 295.8h1v1h-1zM183.8 282.8h1v1h-1zM183.9 282.3h1v1h-1zM183.3 283.1h1v1h-1zM186.5 283.8h1v1h-1zM186.4 283.5h1v1h-1zM176.8 311.6h1v1h-1zM176.7 311.8h1v1h-1zM176.2 311.6h1v1h-1zM170.6 344.5h1v1h-1zM184.7 286.7h1v1h-1zM172.4 310.2h1v1h-1zM172 310.6h1v1h-1zM172.6 311h1v1h-1zM177.8 302.4h1v1h-1zM176.2 316.9h1v1h-1zM188.2 291.2h1v1h-1zM188.4 291.2h1v1h-1zM188.4 291.5h1v1h-1zM165.7 294.1h1v1h-1zM165.8 294.8h1v1h-1zM184 283.2h1v1h-1zM184.4 283.2h1v1h-1zM176.3 328.7h1v1h-1zM165.5 289.5h1v1h-1zM165 289.3h1v1h-1zM165.6 289.8h1v1h-1zM165.7 289.7h1v1h-1zM177.8 299.6h1v1h-1zM176.9 299.9h1v1h-1zM165.4 296.8h1v1h-1zM165.7 296.1h1v1h-1zM165.9 296.5h1v1h-1zM162.7 343.3h1v1h-1zM162.5 343.6h1v1h-1zM186.7 329.4h1v1h-1zM186.7 329.9h1v1h-1zM182.1 335.6h1v1h-1zM171.6 286.1h1v1h-1zM171 285.4h1v1h-1zM171.6 285.4h1v1h-1zM188.7 292.6h1v1h-1zM188.3 292.4h1v1h-1zM188.5 292.2h1v1h-1zM172.6 275.3h1v1h-1zM176.9 318.1h1v1h-1zM176.6 317.4h1v1h-1zM176.8 317.5h1v1h-1zM172.3 311.7h1v1h-1zM172.8 311.5h1v1h-1zM165.8 285.4h1v1h-1zM165.7 285.3h1v1h-1zM175.6 332.6h1v1h-1zM171 294.1h1v1h-1zM185.1 280.9h1v1h-1zM185.2 280.6h1v1h-1zM185.5 280.7h1v1h-1zM185.3 280.6h1v1h-1zM188.1 309.8h1v1h-1zM172.6 292.9h1v1h-1zM172.8 292.4h1v1h-1zM172.9 291.4h1v1h-1zM172.6 292.1h1v1h-1zM172 291.7h1v1h-1zM172.6 291.3h1v1h-1zM171.9 291.8h1v1h-1zM187.1 301.9h1v1h-1zM176.5 318.8h1v1h-1zM176.7 318.8h1v1h-1zM165.3 286.6h1v1h-1zM170.2 307.8h1v1h-1zM170.9 307.9h1v1h-1zM166.1 301.8h1v1h-1zM175.2 331.1h1v1h-1zM175.8 330.6h1v1h-1zM175.7 330.5h1v1h-1zM175.7 330.6h1v1h-1zM185.8 287.5h1v1h-1zM185.6 287.2h1v1h-1zM185.5 287.2h1v1h-1zM165.8 312.1h1v1h-1zM165.7 312.3h1v1h-1zM165.2 312.6h1v1h-1zM165 312.6h1v1h-1zM165.5 312.1h1v1h-1zM176.9 319.9h1v1h-1zM165.5 352.2h1v1h-1zM185.3 332.5h1v1h-1zM185.7 332.5h1v1h-1zM185 332.5h1v1h-1zM185.5 332.7h1v1h-1zM185.2 332.7h1v1h-1zM171 303.9h1v1h-1zM171.3 272.7h1v1h-1zM171.1 272.9h1v1h-1zM172.5 326.5h1v1h-1zM171.9 314.3h1v1h-1zM172.1 330.1h1v1h-1zM172.2 329.1h1v1h-1zM188.5 310.7h1v1h-1zM188.6 310.7h1v1h-1zM188.7 311h1v1h-1zM188.5 310.6h1v1h-1zM165.4 299h1v1h-1zM186 325.3h1v1h-1zM186.2 325.7h1v1h-1zM171.5 335.6h1v1h-1zM172.6 297.2h1v1h-1zM172.3 297.2h1v1h-1zM172.5 297.4h1v1h-1zM170.4 310.9h1v1h-1zM170.4 311h1v1h-1zM171.5 285.1h1v1h-1zM171.2 284.6h1v1h-1zM171.2 285.1h1v1h-1zM166.8 273.4h1v1h-1zM166.5 273.3h1v1h-1zM166.3 273.7h1v1h-1zM173.8 324.8h1v1h-1zM180.7 290.7h1v1h-1zM180.3 290.4h1v1h-1zM180.5 290.9h1v1h-1zM166.3 271.7h1v1h-1zM166.4 271.8h1v1h-1zM166.7 271.3h1v1h-1zM184.3 287.8h1v1h-1zM184.3 287.6h1v1h-1zM184.5 288h1v1h-1zM176.7 320.3h1v1h-1zM176.6 320.6h1v1h-1zM176.2 320.4h1v1h-1zM187.1 290.2h1v1h-1zM177.1 298.8h1v1h-1zM171.1 313.6h1v1h-1zM176.3 305.3h1v1h-1zM176.4 305.1h1v1h-1zM176 305.4h1v1h-1zM179 335.4h1v1h-1zM179.7 335.3h1v1h-1zM179.2 335.5h1v1h-1zM186.5 282.7h1v1h-1zM176.5 325h1v1h-1zM176 324.7h1v1h-1zM176.9 325.1h1v1h-1zM186.8 281.9h1v1h-1zM171.9 299.8h1v1h-1zM172.6 299.3h1v1h-1zM172.8 300.1h1v1h-1zM165.6 290.4h1v1h-1zM165.7 290.8h1v1h-1zM170.9 310.5h1v1h-1zM171.8 310.4h1v1h-1zM171.7 310.3h1v1h-1zM187.2 303.1h1v1h-1zM187.6 302.4h1v1h-1zM187.5 302.6h1v1h-1zM187.8 302.6h1v1h-1zM187.1 303.1h1v1h-1zM187.5 302.7h1v1h-1zM165.8 297.8h1v1h-1zM165.7 297.2h1v1h-1zM165.2 297.8h1v1h-1zM188.2 295.2h1v1h-1zM171.4 319h1v1h-1zM171.5 296.9h1v1h-1zM165.7 309.3h1v1h-1zM164.9 309.8h1v1h-1zM187.4 305.6h1v1h-1zM187.7 305.7h1v1h-1zM187.5 305.9h1v1h-1zM187.8 305.7h1v1h-1zM176 304.7h1v1h-1zM176.7 304.4h1v1h-1zM165.3 304.3h1v1h-1zM165.6 304.5h1v1h-1zM187.2 300.4h1v1h-1zM173.8 323.9h1v1h-1zM173.4 323.5h1v1h-1zM173.2 324h1v1h-1zM175.1 331.2h1v1h-1zM169 309.3h1v1h-1zM186.1 323.5h1v1h-1zM186.5 323.2h1v1h-1zM186 323.5h1v1h-1zM177.3 293.3h1v1h-1zM177.1 293.5h1v1h-1zM187.3 304.4h1v1h-1zM187.3 304.8h1v1h-1zM176.2 323.2h1v1h-1zM176.1 323.9h1v1h-1zM185.3 331.9h1v1h-1zM175.9 321.5h1v1h-1zM172.9 331.5h1v1h-1zM176.5 333.4h1v1h-1zM170.3 344h1v1h-1zM170.3 343.9h1v1h-1zM170.1 343.4h1v1h-1zM162.7 346.8h1v1h-1zM168.9 310.6h1v1h-1zM162.3 344.6h1v1h-1zM161.9 344.2h1v1h-1zM166.7 277.3h1v1h-1zM166.5 277.5h1v1h-1zM166.2 278h1v1h-1zM167.6 270.9h1v1h-1zM167.6 270.3h1v1h-1zM184.2 282.5h1v1h-1zM184 282.8h1v1h-1zM187.1 303.7h1v1h-1zM181.2 335.6h1v1h-1zM181.2 335.4h1v1h-1zM188.4 299h1v1h-1zM177.4 334.9h1v1h-1zM177.2 334.4h1v1h-1zM177.7 334.6h1v1h-1zM177.7 334.1h1v1h-1zM177.3 334.4h1v1h-1zM177.8 334.8h1v1h-1zM165 292.4h1v1h-1zM165.1 292h1v1h-1zM165.8 292h1v1h-1zM177.7 297.7h1v1h-1zM177.4 297.8h1v1h-1zM177.8 297.8h1v1h-1zM171.7 283.8h1v1h-1zM171.7 283.3h1v1h-1zM170.9 283.6h1v1h-1zM171.7 283.9h1v1h-1zM171.6 283.9h1v1h-1zM187.9 306.6h1v1h-1zM187.6 306.5h1v1h-1zM186.2 324.2h1v1h-1zM171.8 302.8h1v1h-1zM171.7 302.5h1v1h-1zM171.5 302.7h1v1h-1zM171.8 319.4h1v1h-1zM175.9 329.6h1v1h-1zM175.9 330h1v1h-1zM176.5 329.3h1v1h-1zM171.3 313h1v1h-1zM171.1 312.8h1v1h-1zM171.2 312.3h1v1h-1zM171.5 312.5h1v1h-1zM186.5 317.6h1v1h-1zM186 317.3h1v1h-1zM171 318h1v1h-1zM172.2 321.7h1v1h-1zM172 321.2h1v1h-1zM184.5 334.6h1v1h-1zM184.7 334.5h1v1h-1zM184.9 334.9h1v1h-1zM184.7 334.9h1v1h-1zM183.9 334.1h1v1h-1zM183.4 288.7h1v1h-1zM164.7 316.6h1v1h-1zM164.8 316.3h1v1h-1zM164 316.6h1v1h-1zM164.2 316.9h1v1h-1zM166.6 303.5h1v1h-1zM165.9 303.5h1v1h-1zM179.1 291.2h1v1h-1zM179.6 291.4h1v1h-1zM179.5 291.6h1v1h-1zM165.9 300.6h1v1h-1zM171.1 311.3h1v1h-1zM171.8 311.6h1v1h-1zM171 311.9h1v1h-1zM185 281.9h1v1h-1zM185.1 281.6h1v1h-1zM185.1 281.4h1v1h-1zM166.3 272.3h1v1h-1zM166.7 272.2h1v1h-1zM166.6 273.1h1v1h-1zM166.6 273.1h1v1h-1zM178.6 292.9h1v1h-1zM171.8 274.4h1v1h-1zM180.1 335.3h1v1h-1zM180.5 335.9h1v1h-1zM180.4 335.8h1v1h-1zM185.5 282.2h1v1h-1zM185.5 283.1h1v1h-1zM185.8 282.8h1v1h-1zM185.2 282.5h1v1h-1zM185.4 282.5h1v1h-1zM185.9 282.5h1v1h-1zM171.2 316.5h1v1h-1zM171.1 317h1v1h-1zM170.3 306.9h1v1h-1zM170 306.8h1v1h-1zM177.6 313.3h1v1h-1zM177.8 313.7h1v1h-1zM187.7 293.6h1v1h-1zM187.1 293.6h1v1h-1zM186.1 290h1v1h-1zM185.2 288.5h1v1h-1zM165.2 308.4h1v1h-1zM165.2 309.1h1v1h-1zM171.5 293.3h1v1h-1zM171.5 293.4h1v1h-1zM177.8 312.7h1v1h-1zM177.8 312.1h1v1h-1zM177 313.1h1v1h-1zM177.3 314.6h1v1h-1zM171.5 282.7h1v1h-1zM171.1 282.6h1v1h-1zM178.5 301.1h1v1h-1zM178 301.4h1v1h-1zM178.6 301.6h1v1h-1zM172.7 276.3h1v1h-1zM172 277.1h1v1h-1zM170.7 270.9h1v1h-1zM170 270.2h1v1h-1zM170.1 270.4h1v1h-1zM170.7 311.2h1v1h-1zM170.6 311.3h1v1h-1zM187.2 294.2h1v1h-1zM187.3 312.1h1v1h-1zM187.5 312.5h1v1h-1zM187.6 307.2h1v1h-1zM187.5 307.8h1v1h-1zM185 330.9h1v1h-1zM185.1 330.8h1v1h-1zM170.1 338h1v1h-1zM177.5 311.6h1v1h-1zM177.1 321.1h1v1h-1zM177.8 322h1v1h-1zM177.2 321.9h1v1h-1zM185.4 328.6h1v1h-1zM185.9 328.8h1v1h-1zM165.5 308.1h1v1h-1zM165.3 307.7h1v1h-1zM165.8 306h1v1h-1zM165.3 305.4h1v1h-1zM170.8 295.3h1v1h-1zM170.1 296h1v1h-1zM184 289h1v1h-1zM165.2 313.2h1v1h-1zM163.6 319.2h1v1h-1zM163.5 319.4h1v1h-1zM182.3 289.2h1v1h-1zM182.2 289.9h1v1h-1zM182.2 289.9h1v1h-1zM162.4 336.2h1v1h-1zM162.4 336.8h1v1h-1zM162.9 336.8h1v1h-1zM186.4 316.5h1v1h-1zM186 316.7h1v1h-1zM185.9 316.7h1v1h-1zM170 349.2h1v1h-1zM166.4 312h1v1h-1zM166.1 312.1h1v1h-1zM166 311.3h1v1h-1zM187.5 292h1v1h-1zM185.5 320.7h1v1h-1zM171.4 301.8h1v1h-1zM171.7 302.1h1v1h-1zM170.9 301.8h1v1h-1zM171.1 302h1v1h-1zM171.6 301.6h1v1h-1zM171.6 301.7h1v1h-1zM177.3 303.9h1v1h-1zM177.7 303.9h1v1h-1zM187.3 292.6h1v1h-1zM187.5 292.9h1v1h-1zM187.7 292.8h1v1h-1zM187.9 292.3h1v1h-1zM170.9 290.4h1v1h-1zM171 290.7h1v1h-1zM177.5 326.2h1v1h-1zM177.2 326.8h1v1h-1zM177.6 326.7h1v1h-1zM186.6 314.9h1v1h-1zM186.1 314.7h1v1h-1zM186.5 315.6h1v1h-1zM177.3 323.1h1v1h-1zM177.5 323h1v1h-1zM177.3 322.5h1v1h-1zM177.6 322.4h1v1h-1zM177.2 322.4h1v1h-1zM185.3 329.7h1v1h-1zM185.7 329.5h1v1h-1zM168.7 310.6h1v1h-1zM168 310.2h1v1h-1zM168.5 310.8h1v1h-1zM186.9 299.7h1v1h-1zM187.4 299.5h1v1h-1zM185.3 322h1v1h-1zM185.9 321.7h1v1h-1zM170.1 305.3h1v1h-1zM169.9 305.8h1v1h-1zM170 305.3h1v1h-1zM170 305.8h1v1h-1zM177.3 327.5h1v1h-1zM177.2 327.4h1v1h-1zM166 352.2h1v1h-1zM170.3 303.9h1v1h-1zM188.3 296.7h1v1h-1zM188 296.1h1v1h-1zM188.1 296.6h1v1h-1zM188 296.2h1v1h-1zM176.6 332.8h1v1h-1zM176.1 332.2h1v1h-1zM167.6 302.5h1v1h-1zM167.7 302.7h1v1h-1zM167.7 302.3h1v1h-1zM170.3 304.4h1v1h-1zM170.3 304.5h1v1h-1zM166.9 310.3h1v1h-1zM166.3 310.8h1v1h-1zM177.5 310.5h1v1h-1zM177 310.1h1v1h-1zM177.3 310.7h1v1h-1zM177.3 310.6h1v1h-1zM184.9 333.1h1v1h-1zM184.1 333.1h1v1h-1zM176.8 330.5h1v1h-1zM181.1 290.6h1v1h-1zM181.1 290.2h1v1h-1zM181.3 290.7h1v1h-1zM171.4 297.6h1v1h-1zM171.1 297.9h1v1h-1zM187.9 297.4h1v1h-1zM188.6 297.7h1v1h-1zM188.2 297.3h1v1h-1zM171.8 281.9h1v1h-1zM171.5 281.7h1v1h-1zM167.4 275.6h1v1h-1zM167.1 275.7h1v1h-1zM177.8 316.5h1v1h-1zM177.4 316.6h1v1h-1zM177 316.5h1v1h-1zM184.4 332.7h1v1h-1zM184.6 332.7h1v1h-1zM170.5 294.5h1v1h-1zM171.4 275.1h1v1h-1zM171.4 275.3h1v1h-1zM170.6 296.8h1v1h-1zM171.2 334.2h1v1h-1zM171.8 334.4h1v1h-1zM187.1 308.9h1v1h-1zM186.9 308.9h1v1h-1zM178.7 302.5h1v1h-1zM163.4 350.8h1v1h-1zM180.7 291.6h1v1h-1zM180.4 291.4h1v1h-1zM169.6 307.6h1v1h-1zM169.7 308h1v1h-1zM169.5 307.8h1v1h-1zM166.5 278.4h1v1h-1zM177.7 318.2h1v1h-1zM177.4 318.7h1v1h-1zM177.4 319h1v1h-1zM168.6 311.2h1v1h-1zM166.1 299.6h1v1h-1zM166.8 299.9h1v1h-1zM166.9 281.3h1v1h-1zM186.1 293.6h1v1h-1zM177.3 323.2h1v1h-1zM177.3 324.1h1v1h-1zM177.5 323.9h1v1h-1zM166.6 282.1h1v1h-1zM166.8 282.4h1v1h-1zM166.1 282.3h1v1h-1zM166.5 282.7h1v1h-1zM170.2 348.6h1v1h-1zM170.7 348.5h1v1h-1zM178.8 312.2h1v1h-1zM178.1 312.6h1v1h-1zM178.2 312.8h1v1h-1zM185.4 319.6h1v1h-1zM185.5 319.4h1v1h-1zM177.3 324.9h1v1h-1zM177.8 324.5h1v1h-1zM178.1 294h1v1h-1zM178.9 294h1v1h-1zM178.9 293.2h1v1h-1zM172.1 325.2h1v1h-1zM177.1 317.4h1v1h-1zM177.2 317.6h1v1h-1zM176.4 331.5h1v1h-1zM176.1 331.3h1v1h-1zM176.2 331.9h1v1h-1zM176 331.5h1v1h-1zM176.9 328.8h1v1h-1zM185.9 313.9h1v1h-1zM186.5 314h1v1h-1zM172.5 277.5h1v1h-1zM172.9 277.7h1v1h-1zM170.6 312.2h1v1h-1zM170.7 313h1v1h-1zM179.7 292.4h1v1h-1zM179.9 292.1h1v1h-1zM179 293h1v1h-1zM184.2 332.1h1v1h-1zM184.8 331.3h1v1h-1zM184.5 331.1h1v1h-1zM178 311.7h1v1h-1zM178.2 311.6h1v1h-1zM169.9 302.9h1v1h-1zM170.7 302.8h1v1h-1zM170.2 303h1v1h-1zM171.2 300.4h1v1h-1zM171.6 300.5h1v1h-1zM177.4 309.8h1v1h-1zM177.8 309.6h1v1h-1zM178.5 314.1h1v1h-1zM177.9 313.2h1v1h-1zM178.7 313.6h1v1h-1zM168.4 309.5h1v1h-1zM168.2 309.2h1v1h-1zM168.9 309.3h1v1h-1zM168.1 309.7h1v1h-1zM168.4 309.2h1v1h-1zM178.3 323h1v1h-1zM177.9 307.7h1v1h-1zM169.1 304.1h1v1h-1zM169.7 303.6h1v1h-1zM169.3 303.5h1v1h-1zM187.8 295.2h1v1h-1zM187.4 295.3h1v1h-1zM171.3 292.3h1v1h-1zM171.2 292.9h1v1h-1zM171.1 292.4h1v1h-1zM167.4 274.7h1v1h-1zM167.3 274.9h1v1h-1zM166.9 274.7h1v1h-1zM166.9 311.6h1v1h-1zM167.9 312.1h1v1h-1zM167.5 312h1v1h-1zM177.8 309h1v1h-1zM177.5 308.5h1v1h-1zM177 308.8h1v1h-1zM166.6 281.1h1v1h-1zM166.5 280.7h1v1h-1zM167.1 301.8h1v1h-1zM167.6 301.2h1v1h-1zM166.9 302.1h1v1h-1zM167.8 302h1v1h-1zM168.8 270.6h1v1h-1zM168.4 270.7h1v1h-1zM168.2 270.5h1v1h-1zM168.8 270.9h1v1h-1zM168.9 270.7h1v1h-1zM167.1 276.9h1v1h-1zM178.7 315h1v1h-1zM178 314.3h1v1h-1zM178.3 314.7h1v1h-1zM167.5 310.2h1v1h-1zM186.3 294.8h1v1h-1zM186.4 294.1h1v1h-1zM186.3 294.8h1v1h-1zM185.9 294.8h1v1h-1zM186.3 294.9h1v1h-1zM172 279h1v1h-1zM172 279h1v1h-1zM185.3 322.6h1v1h-1zM187.6 312.1h1v1h-1zM187.4 311.7h1v1h-1zM187 311.7h1v1h-1zM187.8 311.8h1v1h-1zM178.8 320.4h1v1h-1zM178.7 320.2h1v1h-1zM178 320.4h1v1h-1zM178.6 320.1h1v1h-1zM166.1 313h1v1h-1zM168.2 302.7h1v1h-1zM168.7 302.6h1v1h-1zM186.6 300.1h1v1h-1zM186.4 300.9h1v1h-1zM186.4 300.7h1v1h-1zM186.8 300.8h1v1h-1zM186.2 300.8h1v1h-1zM166.8 279.6h1v1h-1zM166.3 280h1v1h-1zM166.1 279.6h1v1h-1zM166.8 283.9h1v1h-1zM166.8 304.4h1v1h-1zM166.8 304.4h1v1h-1zM166.5 304.4h1v1h-1zM177.8 306.4h1v1h-1zM177.6 306.7h1v1h-1zM177.7 306.3h1v1h-1zM178.3 299.4h1v1h-1zM178.3 300h1v1h-1zM171.2 291.3h1v1h-1zM171.4 291.8h1v1h-1zM186.8 290.6h1v1h-1zM186.6 290.3h1v1h-1zM186.1 290.4h1v1h-1zM186.7 290.2h1v1h-1zM185.8 325.3h1v1h-1zM185 325.4h1v1h-1zM185.7 325.9h1v1h-1zM187 309.3h1v1h-1zM187.8 309.5h1v1h-1zM186.7 292.2h1v1h-1zM178 315.6h1v1h-1zM178.1 315.9h1v1h-1zM178.4 315.9h1v1h-1zM169.4 302.3h1v1h-1zM169.4 302.9h1v1h-1zM164.1 317.7h1v1h-1zM164.7 317.9h1v1h-1zM169 270.7h1v1h-1zM169.7 270.5h1v1h-1zM169.5 270.4h1v1h-1zM169 270.2h1v1h-1zM168.9 340h1v1h-1zM169.7 339.8h1v1h-1zM169.8 339.7h1v1h-1zM171.4 298.9h1v1h-1zM171.7 298.2h1v1h-1zM171.1 298.4h1v1h-1zM171.7 298.8h1v1h-1zM170.9 298.9h1v1h-1zM166.6 309.8h1v1h-1zM166.5 309.6h1v1h-1zM166.6 310h1v1h-1zM166.7 309.5h1v1h-1zM171.2 299.7h1v1h-1zM171 299.6h1v1h-1zM170.7 288.7h1v1h-1zM170.5 288.2h1v1h-1zM177.8 333.5h1v1h-1zM177.4 333.3h1v1h-1zM169.9 304.8h1v1h-1zM164.9 314.4h1v1h-1zM165.8 315.1h1v1h-1zM165 314.4h1v1h-1zM177.8 304.1h1v1h-1zM177.3 304.6h1v1h-1zM177.8 304.4h1v1h-1zM177.2 304.9h1v1h-1zM177.4 304.2h1v1h-1zM178.9 310.5h1v1h-1zM179.7 322.8h1v1h-1zM179.1 322.4h1v1h-1zM185.2 289.2h1v1h-1zM170.6 284.2h1v1h-1zM170.4 289.5h1v1h-1zM177 329.5h1v1h-1zM183.7 290.1h1v1h-1zM183.5 289.8h1v1h-1zM178.8 335.1h1v1h-1zM177.9 334.4h1v1h-1zM163.4 340h1v1h-1zM163.4 339.5h1v1h-1zM166.3 289h1v1h-1zM166.1 288.7h1v1h-1zM166.1 288.8h1v1h-1zM163.7 340.7h1v1h-1zM163.9 340.7h1v1h-1zM163.6 340.2h1v1h-1zM187.1 310.5h1v1h-1zM185.7 318.8h1v1h-1zM185.7 318.5h1v1h-1zM169 306.5h1v1h-1zM163.5 320.2h1v1h-1zM163.8 320.8h1v1h-1zM166.7 298.1h1v1h-1zM166.5 299h1v1h-1zM166.1 298.4h1v1h-1zM179 312.7h1v1h-1zM167.4 271.5h1v1h-1zM166.9 271.8h1v1h-1zM167.4 271.4h1v1h-1zM178.6 294.4h1v1h-1zM178.5 294.9h1v1h-1zM178 294.9h1v1h-1zM170.4 297.6h1v1h-1zM170.4 297.7h1v1h-1zM170 297.7h1v1h-1zM170.7 313.3h1v1h-1zM170.6 313.8h1v1h-1zM170.5 313.4h1v1h-1zM170.6 314h1v1h-1zM180 292.2h1v1h-1zM168.8 308.8h1v1h-1zM187.5 299.1h1v1h-1zM187.7 298.3h1v1h-1zM187.4 298.8h1v1h-1zM187.6 298.5h1v1h-1zM171.2 276.8h1v1h-1zM171.5 277h1v1h-1zM170.7 294.1h1v1h-1zM169.5 312.5h1v1h-1zM170.4 272h1v1h-1zM170.4 271.2h1v1h-1zM170.7 271.9h1v1h-1zM170.1 271.4h1v1h-1zM170.1 271.2h1v1h-1zM170.3 301.6h1v1h-1zM183.6 333.4h1v1h-1zM171.4 280.4h1v1h-1zM171.9 280.3h1v1h-1zM171.3 280.8h1v1h-1zM178.5 323.7h1v1h-1zM167.7 300.8h1v1h-1zM167.4 300.6h1v1h-1zM167.1 301h1v1h-1zM167.1 274h1v1h-1zM167.9 274.1h1v1h-1zM181.1 292h1v1h-1zM178.8 316.8h1v1h-1zM178.5 316.7h1v1h-1zM179 313.8h1v1h-1zM183.3 333.1h1v1h-1zM186.8 303.1h1v1h-1zM186.1 291.4h1v1h-1zM186 291.9h1v1h-1zM170.7 282.1h1v1h-1zM170.2 282.7h1v1h-1zM169.7 305.2h1v1h-1zM169.6 305.7h1v1h-1zM169.4 305.6h1v1h-1zM169.6 305.7h1v1h-1zM185.5 323.8h1v1h-1zM185 323.6h1v1h-1zM167.2 310.1h1v1h-1zM167.4 309.3h1v1h-1zM179.1 314.2h1v1h-1zM179.1 314.3h1v1h-1zM179.5 293.2h1v1h-1zM166.8 296.9h1v1h-1zM186.3 312.7h1v1h-1zM186.5 312.9h1v1h-1zM186.4 313h1v1h-1zM186.5 312.7h1v1h-1zM168.5 304.1h1v1h-1zM168.3 304.5h1v1h-1zM168.4 304.6h1v1h-1zM170.5 285.2h1v1h-1zM170.3 285.4h1v1h-1zM178 319.3h1v1h-1zM170.5 336.8h1v1h-1zM171.4 333.2h1v1h-1zM171.4 333.2h1v1h-1zM171.2 333.4h1v1h-1zM170.7 287.8h1v1h-1zM170.1 288.1h1v1h-1zM170.8 287.5h1v1h-1zM170.8 287.6h1v1h-1zM166.9 295.7h1v1h-1zM164.2 351.5h1v1h-1zM164.8 351.3h1v1h-1zM164.3 351.5h1v1h-1zM170.1 273.7h1v1h-1zM170.2 273.5h1v1h-1zM182.1 334.4h1v1h-1zM182.8 334.9h1v1h-1zM182.3 334.2h1v1h-1zM182.1 334.8h1v1h-1zM167 304.1h1v1h-1zM167.1 304.7h1v1h-1zM167.4 304.8h1v1h-1zM167.5 304.6h1v1h-1zM178.1 298.2h1v1h-1zM178.1 298.7h1v1h-1zM178.7 299h1v1h-1zM178.1 298.9h1v1h-1zM184.3 327.7h1v1h-1zM184 327.6h1v1h-1zM178.3 304.1h1v1h-1zM178.8 304h1v1h-1zM170.1 274.6h1v1h-1zM170.6 275h1v1h-1zM170.4 274.7h1v1h-1zM170.8 274.7h1v1h-1zM170.7 274.3h1v1h-1zM165.9 297.8h1v1h-1zM166.2 298h1v1h-1zM165.9 297.9h1v1h-1zM166.8 297.6h1v1h-1zM166.5 297.7h1v1h-1zM169.2 297h1v1h-1zM169.4 297h1v1h-1zM169.5 296.3h1v1h-1zM169.2 297.1h1v1h-1zM184 289.8h1v1h-1zM184.9 289.2h1v1h-1zM184.3 290.1h1v1h-1zM185.9 324.7h1v1h-1zM179.6 315.9h1v1h-1zM179.4 315.2h1v1h-1zM170.7 272.9h1v1h-1zM184.4 328.5h1v1h-1zM184.1 328.4h1v1h-1zM168.8 301.8h1v1h-1zM168.2 301.9h1v1h-1zM168.5 301.4h1v1h-1zM187.3 296.7h1v1h-1zM187.2 296.5h1v1h-1zM187.4 296.1h1v1h-1zM187.2 297h1v1h-1zM179.6 310.9h1v1h-1zM179.7 310.9h1v1h-1zM179.2 310.9h1v1h-1zM184.8 330.1h1v1h-1zM184.4 329.6h1v1h-1zM184.3 329.7h1v1h-1zM186.3 299.3h1v1h-1zM186.7 299.5h1v1h-1zM179.7 301.3h1v1h-1zM166.4 284.8h1v1h-1zM178.1 309.8h1v1h-1zM178.8 309.8h1v1h-1zM178.8 309.5h1v1h-1zM178.4 310h1v1h-1zM178.8 309.1h1v1h-1zM178.4 309.9h1v1h-1zM166.3 308.1h1v1h-1zM166.4 308.9h1v1h-1zM165.9 308.7h1v1h-1zM163.4 341.6h1v1h-1zM163.9 341.7h1v1h-1zM163.3 341.9h1v1h-1zM178.4 295.9h1v1h-1zM178.6 295.3h1v1h-1zM177 330.6h1v1h-1zM177.2 330.4h1v1h-1zM177 332.7h1v1h-1zM169.6 301.6h1v1h-1zM170.5 286.5h1v1h-1zM170 286.2h1v1h-1zM178.9 317.1h1v1h-1zM178.1 317.8h1v1h-1zM178.5 317.1h1v1h-1zM183.1 331.2h1v1h-1zM167.9 312.8h1v1h-1zM167.5 313h1v1h-1zM167.4 312.6h1v1h-1zM170.3 276h1v1h-1zM168.6 312.7h1v1h-1zM185.2 294.2h1v1h-1zM185.6 295h1v1h-1zM166.3 305.4h1v1h-1zM166.7 305.7h1v1h-1zM166.5 305.8h1v1h-1zM166.2 305.9h1v1h-1zM170.4 314.8h1v1h-1zM185.9 305.7h1v1h-1zM186.2 305.3h1v1h-1zM186.3 306.3h1v1h-1zM186.2 306.6h1v1h-1zM186.5 306.4h1v1h-1zM186.4 306.3h1v1h-1zM186 306.2h1v1h-1zM172.9 324.9h1v1h-1zM167.5 299.8h1v1h-1zM180.3 322.6h1v1h-1zM180.5 322.5h1v1h-1zM178.6 319h1v1h-1zM178.9 318.8h1v1h-1zM178.3 319h1v1h-1zM170.9 300.9h1v1h-1zM170.7 300.3h1v1h-1zM163.6 321.2h1v1h-1zM163.8 321.8h1v1h-1zM163.3 321.5h1v1h-1zM184.9 314.2h1v1h-1zM185.3 314.2h1v1h-1zM185.8 314.4h1v1h-1zM178.1 324.5h1v1h-1zM178.4 324.5h1v1h-1zM178.3 324.4h1v1h-1zM178.2 324.9h1v1h-1zM178.4 324.2h1v1h-1zM166.8 287.5h1v1h-1zM187.1 297.6h1v1h-1zM186.9 298h1v1h-1zM187.1 297.7h1v1h-1zM185 317.2h1v1h-1zM185 317.9h1v1h-1zM185 317.8h1v1h-1zM170 290.7h1v1h-1zM170.7 290.6h1v1h-1zM169.9 291h1v1h-1zM179.6 320.8h1v1h-1zM179.3 320.3h1v1h-1zM179.7 320.3h1v1h-1zM179.6 320.8h1v1h-1zM178.2 297.6h1v1h-1zM168.1 307.8h1v1h-1zM186.5 307.1h1v1h-1zM186.2 307.7h1v1h-1zM181.4 292.5h1v1h-1zM181.7 292.7h1v1h-1zM185.4 292.6h1v1h-1zM170.7 298.8h1v1h-1zM170.7 298.5h1v1h-1zM170.4 299.1h1v1h-1zM184.7 320.9h1v1h-1zM184.8 320.6h1v1h-1zM178.9 323.5h1v1h-1zM179.5 323.4h1v1h-1zM179.3 324h1v1h-1zM169.3 297.2h1v1h-1zM178.8 296.9h1v1h-1zM178.7 296.1h1v1h-1zM180.2 321.7h1v1h-1zM179.9 321.8h1v1h-1zM177.5 331.6h1v1h-1zM177.2 332h1v1h-1zM167.2 277.2h1v1h-1zM184.4 322h1v1h-1zM183.9 321.7h1v1h-1zM184 321.2h1v1h-1zM165.1 315.4h1v1h-1zM165.8 315.3h1v1h-1zM162.9 334.5h1v1h-1zM162.8 335h1v1h-1zM162.6 334.5h1v1h-1zM166.8 294.7h1v1h-1zM166.6 294.2h1v1h-1zM166.3 294.1h1v1h-1zM179.2 316.1h1v1h-1zM179.2 316.6h1v1h-1zM163.3 322.4h1v1h-1zM163 338.4h1v1h-1zM163.2 338.9h1v1h-1zM163.4 338.5h1v1h-1z"/>
<path fill="rgb(43,62,198)" fill-opacity="0.44" d="M185.9 303.3h1v1h-1zM186.5 304.1h1v1h-1zM186.6 304h1v1h-1zM185.9 303.4h1v1h-1zM186 304.1h1v1h-1zM179.1 301h1v1h-1zM179.5 300.9h1v1h-1zM179.7 300.4h1v1h-1zM168.9 275.6h1v1h-1zM178.4 327.1h1v1h-1zM178.9 326.3h1v1h-1zM178.7 326.7h1v1h-1zM186.8 308.9h1v1h-1zM186.2 308.1h1v1h-1zM186.5 309.1h1v1h-1zM165.9 307.6h1v1h-1zM166.3 307.7h1v1h-1zM166.2 307.9h1v1h-1zM180.2 315.9h1v1h-1zM180 294h1v1h-1zM180.1 293.6h1v1h-1zM178 308.7h1v1h-1zM178.3 308.1h1v1h-1zM178.3 308.7h1v1h-1zM179.4 302.6h1v1h-1zM179.3 302.8h1v1h-1zM169.8 294.2h1v1h-1zM169 294.7h1v1h-1zM169.7 294.5h1v1h-1zM169.5 294.7h1v1h-1zM166.1 306.1h1v1h-1zM166.6 306.9h1v1h-1zM166.3 306.5h1v1h-1zM170.2 299.9h1v1h-1zM170.7 299.4h1v1h-1zM170.3 299.9h1v1h-1zM180.3 314.2h1v1h-1zM180.4 314.8h1v1h-1zM180.2 314.4h1v1h-1zM180.2 314.9h1v1h-1zM170.1 281.6h1v1h-1zM172.7 323.2h1v1h-1zM172.4 323.4h1v1h-1zM172 323.2h1v1h-1zM172.4 323.6h1v1h-1zM172 323.6h1v1h-1zM172.1 323.4h1v1h-1zM178.7 327.7h1v1h-1zM178.2 327.6h1v1h-1zM167.7 308.1h1v1h-1zM167.9 308.5h1v1h-1zM167.2 309h1v1h-1zM167.6 309h1v1h-1zM169.2 338.4h1v1h-1zM170 292.4h1v1h-1zM170.4 292.2h1v1h-1zM170.1 292.2h1v1h-1zM185.7 300.1h1v1h-1zM168.2 300.6h1v1h-1zM168.6 300.7h1v1h-1zM168.7 300.9h1v1h-1zM168.2 300.4h1v1h-1zM168.6 300.4h1v1h-1zM168 305.2h1v1h-1zM168.3 305.9h1v1h-1zM168.5 274.5h1v1h-1zM168.3 274.1h1v1h-1zM168.9 274.2h1v1h-1zM167.4 298.8h1v1h-1zM167.7 298.5h1v1h-1zM167.5 298.5h1v1h-1zM166.2 313.7h1v1h-1zM178.2 307.2h1v1h-1zM178.5 307.4h1v1h-1zM178.6 307.9h1v1h-1zM178.7 307.7h1v1h-1zM184.8 294.1h1v1h-1zM184.2 293.1h1v1h-1zM184.4 294h1v1h-1zM185.1 312.3h1v1h-1zM185.1 312.6h1v1h-1zM185.5 312.1h1v1h-1zM185.5 315.4h1v1h-1zM185.8 315.8h1v1h-1zM185.3 315.4h1v1h-1zM184.9 315.3h1v1h-1zM185.9 315.5h1v1h-1zM185.2 315.4h1v1h-1zM185.2 315.4h1v1h-1zM180.9 313.5h1v1h-1zM180.3 313.1h1v1h-1zM180.5 314.1h1v1h-1zM186.7 310.1h1v1h-1zM186.7 309.9h1v1h-1zM171.6 277.2h1v1h-1zM171 277.4h1v1h-1zM185.6 316.7h1v1h-1zM185.1 316.2h1v1h-1zM169.5 299.1h1v1h-1zM169.2 298.4h1v1h-1zM169.1 298.2h1v1h-1zM170.1 315.1h1v1h-1zM170.8 315.6h1v1h-1zM170.5 315.2h1v1h-1zM170.2 315.3h1v1h-1zM166.9 292.1h1v1h-1zM166.5 291.3h1v1h-1zM166.3 291.5h1v1h-1zM169.1 300.5h1v1h-1zM169.3 300.4h1v1h-1zM169 300.1h1v1h-1zM169.7 300.3h1v1h-1zM186.1 311.9h1v1h-1zM186.6 311.2h1v1h-1zM171.7 332.5h1v1h-1zM171.5 332.4h1v1h-1zM168.5 307h1v1h-1zM168.2 306.2h1v1h-1zM168.6 307h1v1h-1zM168.2 306.9h1v1h-1zM180.6 312.2h1v1h-1zM180.1 312.1h1v1h-1zM180.9 312.5h1v1h-1zM184.3 319.2h1v1h-1zM184.6 319.3h1v1h-1zM180 316.6h1v1h-1zM180 316.8h1v1h-1zM180.7 316.6h1v1h-1zM180.5 316.7h1v1h-1zM184.1 313.7h1v1h-1zM184.2 313.8h1v1h-1zM178.5 328.4h1v1h-1zM177.9 328.7h1v1h-1zM178.5 328.9h1v1h-1zM179.6 294.9h1v1h-1zM179.6 294.3h1v1h-1zM179.4 294.2h1v1h-1zM185.2 291h1v1h-1zM185.8 290.9h1v1h-1zM185.6 290.9h1v1h-1zM185.7 290.2h1v1h-1zM163.2 349.3h1v1h-1zM170.1 276.5h1v1h-1zM168.1 299.1h1v1h-1zM168.7 299.3h1v1h-1zM179.6 334.3h1v1h-1zM179.8 334.9h1v1h-1zM179.6 334.9h1v1h-1zM179.6 334.5h1v1h-1zM179.4 334.9h1v1h-1zM171.7 279.3h1v1h-1zM171.1 279.2h1v1h-1zM178.2 304.4h1v1h-1zM178.4 304.6h1v1h-1zM170.6 291.4h1v1h-1zM170.5 291.4h1v1h-1zM170.4 291.2h1v1h-1zM166.3 285.3h1v1h-1zM166.5 285.8h1v1h-1zM166.2 285.8h1v1h-1zM162.8 328.9h1v1h-1zM162 328.2h1v1h-1zM162.8 328.6h1v1h-1zM162.7 329h1v1h-1zM163.8 342.4h1v1h-1zM167.1 306.1h1v1h-1zM167.2 305.8h1v1h-1zM167.5 305.8h1v1h-1zM168.3 298.5h1v1h-1zM168.1 298.2h1v1h-1zM168.8 276.2h1v1h-1zM167.9 276.7h1v1h-1zM168.3 276.9h1v1h-1zM168.7 276.7h1v1h-1zM180.7 311.3h1v1h-1zM180.1 311.1h1v1h-1zM168.1 272h1v1h-1zM168.6 271.6h1v1h-1zM186.6 298.4h1v1h-1zM168.6 297.7h1v1h-1zM168.5 297.6h1v1h-1zM168.6 297.3h1v1h-1zM181.5 334.9h1v1h-1zM181.1 334.5h1v1h-1zM181.5 334.2h1v1h-1zM181 334.8h1v1h-1zM181.9 316h1v1h-1zM181.4 315.3h1v1h-1zM181.9 293.3h1v1h-1zM181 293.1h1v1h-1zM181.8 293.5h1v1h-1zM180.9 294h1v1h-1zM181.8 293.8h1v1h-1zM169.7 275.2h1v1h-1zM169.6 276.1h1v1h-1zM168.9 299.6h1v1h-1zM169.7 299.3h1v1h-1zM184.1 323h1v1h-1zM184.6 322.2h1v1h-1zM184.9 322.7h1v1h-1zM182.6 291.3h1v1h-1zM182 291.6h1v1h-1zM182.7 291.3h1v1h-1zM182.9 291.2h1v1h-1zM182.6 291.5h1v1h-1zM180.4 323.9h1v1h-1zM180.7 323.6h1v1h-1zM166.2 293.7h1v1h-1zM166 293.4h1v1h-1zM166.8 293.4h1v1h-1zM166.1 293.9h1v1h-1zM166 293.7h1v1h-1zM166.4 293.2h1v1h-1zM164 318.2h1v1h-1zM164.6 318.5h1v1h-1zM164.8 318.4h1v1h-1zM168.6 296.8h1v1h-1zM166.8 286.8h1v1h-1zM166.7 287.1h1v1h-1zM178.1 306.5h1v1h-1zM178.3 307h1v1h-1zM183.7 330.7h1v1h-1zM183.1 330.1h1v1h-1zM183.1 330.4h1v1h-1zM169.4 283.1h1v1h-1zM169.6 283.8h1v1h-1zM167.8 297.6h1v1h-1zM167.3 297.1h1v1h-1zM167.7 297.1h1v1h-1zM167 297.2h1v1h-1zM182.3 334h1v1h-1zM182.2 333.9h1v1h-1zM182.4 333.2h1v1h-1zM182.2 333.4h1v1h-1zM179.2 317.6h1v1h-1zM178.9 317.4h1v1h-1zM179.1 317.9h1v1h-1zM179.4 317.7h1v1h-1zM186.8 310.6h1v1h-1zM186.8 311h1v1h-1zM186.4 310.7h1v1h-1zM186.6 310.9h1v1h-1zM169.6 274.9h1v1h-1zM169.2 274.3h1v1h-1zM169.3 274.2h1v1h-1zM169.7 274.6h1v1h-1zM169.5 274.4h1v1h-1zM169.4 274.3h1v1h-1zM169.5 272h1v1h-1zM169.4 272h1v1h-1zM169.7 271.8h1v1h-1zM169.4 271.2h1v1h-1zM169.6 271.3h1v1h-1zM167.6 307.4h1v1h-1zM166.9 308h1v1h-1zM166.9 307.2h1v1h-1zM167.4 307.2h1v1h-1zM167.9 307.4h1v1h-1zM182 292.7h1v1h-1zM166 292.6h1v1h-1zM166.1 292.5h1v1h-1zM166.4 292.9h1v1h-1zM166.6 292.7h1v1h-1zM167.6 296.7h1v1h-1zM167.3 296.2h1v1h-1zM167.4 296.2h1v1h-1zM168 273.5h1v1h-1zM185.8 291.7h1v1h-1zM185.1 291.6h1v1h-1zM185 291.6h1v1h-1zM185.3 291.5h1v1h-1zM185.2 292h1v1h-1zM186.4 296.9h1v1h-1zM186 296.2h1v1h-1zM169.9 316.6h1v1h-1zM170.8 316.5h1v1h-1zM170 316.6h1v1h-1zM170.5 316.3h1v1h-1zM170 316.9h1v1h-1zM181.6 314.5h1v1h-1zM184.9 314.3h1v1h-1zM184 314.9h1v1h-1zM170.4 319.1h1v1h-1zM178.3 333.3h1v1h-1zM178.2 334h1v1h-1zM170.8 317.8h1v1h-1zM170.4 317.6h1v1h-1zM170.7 317.2h1v1h-1zM178.8 305.5h1v1h-1zM178 306h1v1h-1zM178.8 305.4h1v1h-1zM178.8 305.5h1v1h-1zM179.2 308.8h1v1h-1zM179.9 308.3h1v1h-1zM179.5 308.7h1v1h-1zM185.1 299.8h1v1h-1zM185.4 299.8h1v1h-1zM185.4 299.6h1v1h-1zM185.2 299.9h1v1h-1zM185.6 299.8h1v1h-1zM185.3 299.2h1v1h-1zM169 313.2h1v1h-1zM169.3 313.6h1v1h-1zM168.9 313.4h1v1h-1zM169.4 313.5h1v1h-1zM178.9 319.5h1v1h-1zM179.2 319.5h1v1h-1zM179 319.5h1v1h-1zM179 319.1h1v1h-1zM179 319.6h1v1h-1zM179.3 319.7h1v1h-1zM179.8 319.5h1v1h-1zM183.1 291h1v1h-1zM183.7 291.1h1v1h-1zM183 290.5h1v1h-1zM180 310.4h1v1h-1zM180.3 311.1h1v1h-1zM182.6 333h1v1h-1zM182.1 332.3h1v1h-1zM179.8 300h1v1h-1zM181.6 316.9h1v1h-1zM184.6 292.5h1v1h-1zM167 282.3h1v1h-1zM167.5 282.1h1v1h-1zM167.4 282.2h1v1h-1zM167.7 282.6h1v1h-1zM181.3 322.7h1v1h-1zM181.5 322.5h1v1h-1zM181.3 323h1v1h-1zM179 325.1h1v1h-1zM178.9 324.2h1v1h-1zM179.5 324.9h1v1h-1zM179.5 324.2h1v1h-1zM171.1 331.5h1v1h-1zM171.2 331.6h1v1h-1zM171.5 331.3h1v1h-1zM171.9 331.1h1v1h-1zM171.8 328.4h1v1h-1zM171.7 328.2h1v1h-1zM171.8 328.9h1v1h-1zM167.6 306.4h1v1h-1zM167.9 306.1h1v1h-1zM167 306.8h1v1h-1zM169 274h1v1h-1zM169.5 273.5h1v1h-1zM169.5 273.4h1v1h-1zM178.8 329.2h1v1h-1zM178.7 329.8h1v1h-1zM178.6 329.7h1v1h-1zM178.3 329.3h1v1h-1zM184.4 313h1v1h-1zM168.5 295.7h1v1h-1zM168.5 295.5h1v1h-1zM168.7 295.6h1v1h-1zM168.8 295.9h1v1h-1zM169.2 282.2h1v1h-1zM169.6 283h1v1h-1zM169.9 282.9h1v1h-1zM169.8 282.5h1v1h-1zM162.7 334h1v1h-1zM167.2 289.5h1v1h-1zM167.6 289.7h1v1h-1zM167 289.8h1v1h-1zM169.4 289.1h1v1h-1zM168.9 289.9h1v1h-1zM169.5 289.1h1v1h-1zM179.7 303.9h1v1h-1zM179 303.7h1v1h-1zM179.5 303.9h1v1h-1zM179.9 303.2h1v1h-1zM179.7 303.8h1v1h-1zM171.1 279h1v1h-1zM171.2 279h1v1h-1zM171.1 278.8h1v1h-1zM171.5 278.2h1v1h-1zM171.5 278.2h1v1h-1zM171.2 278.7h1v1h-1zM182.3 294h1v1h-1zM182.2 293.2h1v1h-1zM169.4 284.6h1v1h-1zM168.9 284.6h1v1h-1zM171 329.2h1v1h-1zM171 329.3h1v1h-1zM171.7 329.6h1v1h-1zM184.1 318.4h1v1h-1zM183.9 318.5h1v1h-1zM183.4 293.7h1v1h-1zM183.5 293.7h1v1h-1zM182.9 293.6h1v1h-1zM183.3 294h1v1h-1zM180.3 334.6h1v1h-1zM180.3 334.7h1v1h-1zM180 335h1v1h-1zM169.2 293.6h1v1h-1zM169.8 293.3h1v1h-1zM186.3 297.4h1v1h-1zM186.8 297.5h1v1h-1zM186 297.9h1v1h-1zM186 297.8h1v1h-1zM182.2 315.1h1v1h-1zM182.8 315.5h1v1h-1zM182.9 315.1h1v1h-1zM182.5 315.4h1v1h-1zM182.6 315.5h1v1h-1zM179.3 318.3h1v1h-1zM171.5 330.4h1v1h-1zM171.3 330.7h1v1h-1zM171 331h1v1h-1zM168.8 272.5h1v1h-1zM168.2 273h1v1h-1zM168.3 272.2h1v1h-1zM168.5 272.4h1v1h-1zM168.7 272.3h1v1h-1zM168.4 272.7h1v1h-1zM181.4 322h1v1h-1zM181.8 321.2h1v1h-1zM167.1 283.8h1v1h-1zM167.3 283.4h1v1h-1zM167.5 283.2h1v1h-1zM167.1 295.4h1v1h-1zM167.1 295.5h1v1h-1zM167.4 296.1h1v1h-1zM167.7 295.5h1v1h-1zM167.3 295.3h1v1h-1zM185.9 302.9h1v1h-1zM185 302.8h1v1h-1zM184.8 295h1v1h-1zM169.4 276.6h1v1h-1zM169.4 276.7h1v1h-1zM168.9 276.1h1v1h-1zM169 276.4h1v1h-1zM185.9 295.4h1v1h-1zM185.4 295.5h1v1h-1zM169.1 273h1v1h-1zM169 272.8h1v1h-1zM169.2 272.6h1v1h-1zM170.2 336h1v1h-1zM170.8 335.7h1v1h-1zM170.2 336h1v1h-1zM170.7 335.5h1v1h-1zM184.7 325.6h1v1h-1zM184.7 325.7h1v1h-1zM184 325.3h1v1h-1zM184.4 325.6h1v1h-1zM183.8 313.5h1v1h-1zM183.5 313.8h1v1h-1zM180.4 294.7h1v1h-1zM180.3 294.2h1v1h-1zM180 294.8h1v1h-1zM180.2 294.3h1v1h-1zM183.4 314.8h1v1h-1zM183.8 315h1v1h-1zM183.8 314.6h1v1h-1zM185.3 311.8h1v1h-1zM185.3 311.4h1v1h-1zM185.1 312h1v1h-1zM182 314.3h1v1h-1zM182 315h1v1h-1zM167.5 281.7h1v1h-1zM167.3 281.7h1v1h-1zM163.3 324.3h1v1h-1zM182.8 332h1v1h-1zM182.1 331.9h1v1h-1zM183 292.4h1v1h-1zM171.1 327.2h1v1h-1zM184.3 290.6h1v1h-1zM184.3 290.8h1v1h-1zM184.8 290.7h1v1h-1zM162.5 329.1h1v1h-1zM162.5 329.1h1v1h-1zM185.3 308.2h1v1h-1zM185.8 308.5h1v1h-1zM185.5 308.2h1v1h-1zM181.3 313.3h1v1h-1zM181.4 313.4h1v1h-1zM181.4 313.7h1v1h-1zM181.5 313.9h1v1h-1zM185.6 306.7h1v1h-1zM171.8 321.3h1v1h-1zM185.5 309.4h1v1h-1zM185.5 307.2h1v1h-1zM185 307.7h1v1h-1zM185.3 307.3h1v1h-1zM185 307.5h1v1h-1zM185 307.7h1v1h-1zM169.6 288.9h1v1h-1zM169.5 288.5h1v1h-1zM169.4 288.3h1v1h-1zM180.7 310h1v1h-1zM180.8 309.3h1v1h-1zM180.6 317.2h1v1h-1zM180.6 317.2h1v1h-1zM183.6 321.3h1v1h-1zM183.1 321.8h1v1h-1zM183.3 321.8h1v1h-1zM183 321.4h1v1h-1zM163.8 337.3h1v1h-1zM163.2 337.3h1v1h-1zM163.5 337.6h1v1h-1zM167.5 289h1v1h-1zM167.7 288.7h1v1h-1zM182.1 316.8h1v1h-1zM182.2 316.7h1v1h-1zM182.8 316.5h1v1h-1zM184.1 323.6h1v1h-1zM184.1 323.4h1v1h-1zM184.3 323.4h1v1h-1zM184.4 323.9h1v1h-1zM169.9 280.9h1v1h-1zM170.6 280.5h1v1h-1zM185.9 305.2h1v1h-1zM185.1 305.2h1v1h-1zM185.5 305.2h1v1h-1zM185.5 305.6h1v1h-1zM183.2 329.6h1v1h-1zM183.3 329.3h1v1h-1zM183.2 329.8h1v1h-1zM183.7 329.8h1v1h-1zM183.2 329.2h1v1h-1zM183.7 329.9h1v1h-1zM183.3 330h1v1h-1zM179.3 308h1v1h-1zM179.2 307.3h1v1h-1zM162.4 330.7h1v1h-1zM162.7 330.5h1v1h-1zM162.4 331h1v1h-1zM167 278.8h1v1h-1zM167.6 278.3h1v1h-1zM167 278.5h1v1h-1zM184.6 315.7h1v1h-1zM184.9 315.3h1v1h-1zM184 315.2h1v1h-1zM179.9 295.6h1v1h-1zM179.5 295.9h1v1h-1zM179.4 295.9h1v1h-1zM179.9 295.3h1v1h-1zM184.3 318h1v1h-1zM184.3 317.5h1v1h-1zM184 317.3h1v1h-1zM184.4 317.5h1v1h-1zM184.1 317.8h1v1h-1zM178.1 330.4h1v1h-1zM178.3 330.2h1v1h-1zM162.6 332.7h1v1h-1zM162.7 332.7h1v1h-1zM162.7 332.9h1v1h-1zM162.9 332.9h1v1h-1zM162.9 331.9h1v1h-1zM162.7 331.5h1v1h-1zM183.8 315.7h1v1h-1zM183 315.2h1v1h-1zM183.3 315.3h1v1h-1zM183.4 315.9h1v1h-1zM170.3 319.3h1v1h-1zM170.3 319.4h1v1h-1zM185.2 310.4h1v1h-1zM185.9 310.2h1v1h-1zM185.4 310.9h1v1h-1zM185.6 311h1v1h-1zM185.6 310.6h1v1h-1zM185.2 310.5h1v1h-1zM185.3 310.2h1v1h-1zM169.4 291h1v1h-1zM169.1 290.2h1v1h-1zM181.7 323.6h1v1h-1zM181.8 323.1h1v1h-1zM178.5 332.5h1v1h-1zM177.9 333.1h1v1h-1zM178.2 332.4h1v1h-1zM178.9 332.1h1v1h-1zM179.6 325.8h1v1h-1zM179.6 325.6h1v1h-1zM179.5 325.9h1v1h-1zM179.5 325.8h1v1h-1zM179.8 325.1h1v1h-1zM167 290.3h1v1h-1zM167.8 290.9h1v1h-1zM167.3 290.6h1v1h-1zM182.1 313.7h1v1h-1zM182.7 313.8h1v1h-1zM182.4 313.9h1v1h-1zM184.9 316.6h1v1h-1zM184.8 317h1v1h-1zM184.1 316.9h1v1h-1zM184.3 316.7h1v1h-1zM164.4 340.1h1v1h-1zM181.3 294.8h1v1h-1zM185.7 298.2h1v1h-1zM185.8 298.4h1v1h-1zM185.6 298.5h1v1h-1zM183.7 320.7h1v1h-1zM183.7 291.2h1v1h-1zM183.2 291.2h1v1h-1zM183.6 292h1v1h-1zM183.3 292.1h1v1h-1zM183.2 291.4h1v1h-1zM183.9 291.6h1v1h-1zM183.2 291.6h1v1h-1zM179.2 298.6h1v1h-1zM179 298.5h1v1h-1zM179 298.2h1v1h-1zM180.6 324.6h1v1h-1zM180.2 324.6h1v1h-1zM168 283.1h1v1h-1zM168.2 283.9h1v1h-1zM168.8 283.2h1v1h-1zM168.2 283.5h1v1h-1zM167.4 313.8h1v1h-1zM167 314.1h1v1h-1zM178.6 331.6h1v1h-1zM178.4 331.4h1v1h-1zM178.3 331.1h1v1h-1zM178 331.8h1v1h-1zM183.3 329.1h1v1h-1zM169.8 350.3h1v1h-1zM169.6 351h1v1h-1zM168.1 294.6h1v1h-1zM167.9 294.8h1v1h-1zM184.2 324.4h1v1h-1zM184.4 324.1h1v1h-1zM184.8 324.4h1v1h-1zM184.7 324.3h1v1h-1zM184.3 324.4h1v1h-1zM183.4 322.3h1v1h-1zM183.8 322.7h1v1h-1zM180.7 302h1v1h-1zM180.7 302h1v1h-1zM184.6 291.5h1v1h-1zM184.5 291.3h1v1h-1zM184 291.7h1v1h-1zM184.8 291.6h1v1h-1zM184.3 292.1h1v1h-1zM184 292.1h1v1h-1zM183.3 312.8h1v1h-1zM182.9 313h1v1h-1zM181.2 312.1h1v1h-1zM181.2 312.9h1v1h-1zM181.1 312.8h1v1h-1zM181.8 312.6h1v1h-1zM168.8 282.8h1v1h-1zM168.9 282.4h1v1h-1zM168.2 282.8h1v1h-1zM168.4 283h1v1h-1zM167.9 351.2h1v1h-1zM168.5 351.3h1v1h-1zM168.2 351.2h1v1h-1zM168.4 351.6h1v1h-1zM168 351.2h1v1h-1zM167.9 289.1h1v1h-1zM168.1 289.3h1v1h-1zM168.6 289.7h1v1h-1zM168.8 290h1v1h-1zM168 289.9h1v1h-1zM168.8 289.5h1v1h-1zM182.1 321.8h1v1h-1zM182.3 321.7h1v1h-1zM182.7 321.2h1v1h-1zM182.7 321.5h1v1h-1zM184.4 311.7h1v1h-1zM184.7 311.1h1v1h-1zM184.4 311.5h1v1h-1zM182.2 322.7h1v1h-1zM182.1 322.5h1v1h-1zM182.1 322.4h1v1h-1zM169.3 281.7h1v1h-1zM169 281.7h1v1h-1zM169.8 281.2h1v1h-1zM165.9 315h1v1h-1zM165.9 315.1h1v1h-1zM166.7 314.7h1v1h-1zM166.7 314.3h1v1h-1zM166.1 314.3h1v1h-1zM168.8 313.6h1v1h-1zM167.9 313.4h1v1h-1zM168.8 313.1h1v1h-1zM168.5 314h1v1h-1zM168 313.1h1v1h-1zM166.9 280.5h1v1h-1zM167.2 280.2h1v1h-1zM167.1 280.4h1v1h-1zM184 300.2h1v1h-1zM184.1 300.7h1v1h-1zM184.8 300.6h1v1h-1zM184.8 300.4h1v1h-1zM184.6 300.7h1v1h-1zM163 343.8h1v1h-1zM163.9 344h1v1h-1zM169.8 342.2h1v1h-1zM169.8 342.2h1v1h-1zM169.4 342.7h1v1h-1zM169.5 342.2h1v1h-1zM170.7 277.8h1v1h-1zM170.8 277.1h1v1h-1zM185.1 304.4h1v1h-1zM185.2 304.8h1v1h-1zM185.8 304.3h1v1h-1zM179 304.6h1v1h-1zM167 294.5h1v1h-1zM167.6 295.1h1v1h-1zM167 294.6h1v1h-1zM167.2 294.7h1v1h-1zM183.6 327.6h1v1h-1zM183.4 328h1v1h-1zM183.5 327.5h1v1h-1zM179 326.7h1v1h-1zM179.2 326.3h1v1h-1zM179.4 326.8h1v1h-1zM169.1 292.4h1v1h-1zM169.4 293h1v1h-1zM180.1 308.5h1v1h-1zM180.1 308.2h1v1h-1zM168.6 340.7h1v1h-1zM168.9 340.5h1v1h-1zM179.5 306.1h1v1h-1zM179.6 307h1v1h-1zM185.6 303.1h1v1h-1zM185 303.5h1v1h-1zM185.6 303.7h1v1h-1zM185 303.5h1v1h-1zM185 303.6h1v1h-1zM185.5 303.3h1v1h-1zM185.1 303.3h1v1h-1zM185.6 303.5h1v1h-1zM168.7 277.3h1v1h-1zM168.2 277.3h1v1h-1zM168.2 277.6h1v1h-1zM168.7 278.1h1v1h-1zM181.3 317.9h1v1h-1zM181.7 317.8h1v1h-1zM179.2 296.9h1v1h-1zM179.9 296.3h1v1h-1zM179.7 296.9h1v1h-1zM179.3 296.4h1v1h-1zM179.2 297h1v1h-1zM179.3 297.1h1v1h-1zM180.5 302.6h1v1h-1zM180.1 302.5h1v1h-1zM180.8 302.7h1v1h-1zM180.4 302.7h1v1h-1zM182.5 330.7h1v1h-1zM182.3 330.2h1v1h-1zM182.2 330.9h1v1h-1zM179.3 298h1v1h-1zM179 297.4h1v1h-1zM179.1 297.8h1v1h-1zM179.1 297.4h1v1h-1zM164.2 339.2h1v1h-1zM179.7 327.4h1v1h-1zM178.9 327.4h1v1h-1zM179.6 327.9h1v1h-1zM179.2 327.6h1v1h-1zM169.5 285.5h1v1h-1zM169.3 285.4h1v1h-1zM169.3 345.5h1v1h-1zM169.7 345.5h1v1h-1zM180.2 300.8h1v1h-1zM169.3 291.6h1v1h-1zM168.9 291.5h1v1h-1zM169.5 291.1h1v1h-1zM168.9 291.3h1v1h-1zM167.8 284.8h1v1h-1zM166.9 284.3h1v1h-1zM167.4 284.5h1v1h-1zM182 294.7h1v1h-1zM182.2 294.2h1v1h-1zM167.1 279.8h1v1h-1zM167.4 280h1v1h-1zM167.5 280h1v1h-1zM167.6 280.1h1v1h-1zM167.7 279.5h1v1h-1zM183.8 294.4h1v1h-1zM183.1 294.7h1v1h-1zM183.5 317.6h1v1h-1zM181.5 320.3h1v1h-1zM181.2 321.1h1v1h-1zM181.3 320.8h1v1h-1zM169.6 337.2h1v1h-1zM169.3 337.7h1v1h-1zM169.2 337.5h1v1h-1zM180.1 319.3h1v1h-1zM180.7 319.7h1v1h-1zM180.4 319.9h1v1h-1zM169.3 314.7h1v1h-1zM169.6 314.2h1v1h-1zM169.1 314.9h1v1h-1zM181.3 333.6h1v1h-1zM181.8 333.4h1v1h-1zM181.6 334.1h1v1h-1zM180.9 311.8h1v1h-1zM184.9 310.2h1v1h-1zM179.2 305.8h1v1h-1zM179.3 305.9h1v1h-1zM179.6 305.7h1v1h-1zM179.1 306h1v1h-1zM179.7 305.6h1v1h-1zM179.7 305.8h1v1h-1zM179.9 318.2h1v1h-1zM168.4 339.5h1v1h-1zM167.9 339.2h1v1h-1zM168.1 340h1v1h-1zM185 296.6h1v1h-1zM185.6 296.8h1v1h-1zM185.1 296.6h1v1h-1zM185.6 296.5h1v1h-1zM180.8 295.6h1v1h-1zM180.8 295.8h1v1h-1zM179.9 296h1v1h-1zM179.7 328.8h1v1h-1zM179.4 329h1v1h-1zM169.2 287.6h1v1h-1zM169.8 287.6h1v1h-1zM169.3 288h1v1h-1zM182.3 312.6h1v1h-1zM182.7 312.9h1v1h-1zM182 312.5h1v1h-1zM182.4 312.2h1v1h-1zM183.1 319.4h1v1h-1zM183.7 319.4h1v1h-1zM183 319.8h1v1h-1zM185.6 297.3h1v1h-1zM185.5 297.4h1v1h-1zM168.7 290.4h1v1h-1zM171.6 326.3h1v1h-1zM182.6 318.1h1v1h-1zM182.3 317.5h1v1h-1zM168 288.2h1v1h-1zM179 333.6h1v1h-1zM179 334.1h1v1h-1zM183.5 326.5h1v1h-1zM183.4 327h1v1h-1zM183.5 327.1h1v1h-1zM183.1 326.9h1v1h-1zM182.8 323.1h1v1h-1zM182.7 323.3h1v1h-1zM182.7 323.6h1v1h-1zM181.9 324.1h1v1h-1zM181.6 324.5h1v1h-1zM181.4 324.9h1v1h-1zM181 324.6h1v1h-1zM168.9 281.2h1v1h-1zM168.9 282.1h1v1h-1zM168.7 281.6h1v1h-1zM168.6 284.8h1v1h-1zM181.9 320.9h1v1h-1zM182.1 320.9h1v1h-1zM182.8 320.2h1v1h-1zM167.4 291.3h1v1h-1zM167.2 291.3h1v1h-1zM166.9 291.9h1v1h-1zM167.9 291.4h1v1h-1zM167.5 291.6h1v1h-1zM167.5 291.4h1v1h-1zM167.4 291.2h1v1h-1zM183.3 323.2h1v1h-1zM183 323.8h1v1h-1zM183.6 319h1v1h-1zM183.2 318.8h1v1h-1zM183.5 318.4h1v1h-1zM183.1 318.4h1v1h-1zM183.3 318.8h1v1h-1zM183 318.3h1v1h-1zM164.4 341.8h1v1h-1zM164.6 341.1h1v1h-1zM164.9 341.5h1v1h-1zM164.6 341.1h1v1h-1zM184.2 309h1v1h-1zM184.4 309h1v1h-1zM184.5 308.4h1v1h-1zM180.7 325.7h1v1h-1zM180.5 325.4h1v1h-1zM180.2 325.2h1v1h-1zM179.8 330h1v1h-1zM178.9 330.1h1v1h-1zM179.5 329.2h1v1h-1zM179.2 329.5h1v1h-1zM180.1 303.7h1v1h-1zM180.2 303.8h1v1h-1zM184.1 305.7h1v1h-1zM184 305.5h1v1h-1zM169.6 278.1h1v1h-1zM169.1 278h1v1h-1zM169 277.2h1v1h-1zM165.5 317.5h1v1h-1zM165.2 317.5h1v1h-1zM165.9 317.9h1v1h-1zM184.6 306.5h1v1h-1zM183.6 311.5h1v1h-1zM183.8 311.3h1v1h-1zM183.1 311.7h1v1h-1zM183.5 311.3h1v1h-1zM183.1 311.2h1v1h-1zM168.1 293.9h1v1h-1zM167.9 294.1h1v1h-1zM168.4 293.5h1v1h-1zM168.3 293.9h1v1h-1zM181 332.9h1v1h-1zM181 310.6h1v1h-1zM181.5 310.4h1v1h-1zM181 310.9h1v1h-1zM181 310.3h1v1h-1zM181.8 310.6h1v1h-1zM181 310.5h1v1h-1zM181.4 310.6h1v1h-1zM164.1 319.6h1v1h-1zM164.1 319.2h1v1h-1zM164.2 319.7h1v1h-1zM163.8 336.1h1v1h-1zM163.6 336.4h1v1h-1zM163.8 336.7h1v1h-1zM180.5 307.9h1v1h-1zM180.6 307.5h1v1h-1zM180.7 307.9h1v1h-1zM167.5 293.7h1v1h-1zM167.3 294h1v1h-1zM167.4 293.4h1v1h-1zM167.7 293.7h1v1h-1zM167.1 287.9h1v1h-1zM167.2 287.6h1v1h-1zM167.3 287.2h1v1h-1zM167 287.9h1v1h-1zM184.3 298.3h1v1h-1zM170.3 279.7h1v1h-1zM170.3 280h1v1h-1zM170.4 280h1v1h-1zM170.8 280.1h1v1h-1zM170.7 279.9h1v1h-1zM180.7 299.5h1v1h-1zM180.6 299.2h1v1h-1zM180.4 299.2h1v1h-1zM180.8 299.4h1v1h-1zM180.7 300h1v1h-1zM180.5 300.1h1v1h-1zM180.6 299.3h1v1h-1zM169.6 343.6h1v1h-1zM169.1 343.7h1v1h-1zM181.1 295.5h1v1h-1zM181.6 295.3h1v1h-1zM169.6 286.4h1v1h-1zM169.1 286.3h1v1h-1zM169.1 286.7h1v1h-1zM184.3 307.8h1v1h-1zM184 307.8h1v1h-1zM181 332.1h1v1h-1zM181.2 331.2h1v1h-1zM181.1 331.4h1v1h-1zM181.2 332.1h1v1h-1zM181.5 331.5h1v1h-1zM181.5 331.6h1v1h-1zM184.3 302.4h1v1h-1zM184.3 302.4h1v1h-1zM184.5 302.7h1v1h-1zM169.8 346.8h1v1h-1zM182.1 329.2h1v1h-1zM182.3 329.3h1v1h-1zM182.7 329.7h1v1h-1zM184.1 295.3h1v1h-1zM184.4 295.3h1v1h-1zM184.3 295.6h1v1h-1zM179.5 330.1h1v1h-1zM179.4 330.5h1v1h-1zM179.1 330.6h1v1h-1zM179.1 330.7h1v1h-1zM166.8 316.1h1v1h-1zM166.2 315.6h1v1h-1zM166.2 315.6h1v1h-1zM166.4 315.1h1v1h-1zM166.2 315.1h1v1h-1zM166.5 315.9h1v1h-1zM180.5 297h1v1h-1zM180.7 296.2h1v1h-1zM180.4 296.6h1v1h-1zM180.7 296.7h1v1h-1zM170.1 278.9h1v1h-1zM170.1 278.3h1v1h-1zM170 278.1h1v1h-1zM170.3 278.7h1v1h-1zM170.3 278.8h1v1h-1zM167.5 292.8h1v1h-1zM169.9 334.2h1v1h-1zM180.7 333.5h1v1h-1zM180.8 333.4h1v1h-1zM180.3 333.8h1v1h-1zM180.2 333.3h1v1h-1zM180.3 333.9h1v1h-1zM180.8 333.6h1v1h-1zM180.6 298.2h1v1h-1zM180.8 299h1v1h-1zM180.8 299.1h1v1h-1zM184.8 304.8h1v1h-1zM184.4 304.4h1v1h-1zM169.3 315.6h1v1h-1zM169 315.8h1v1h-1zM182 312.1h1v1h-1zM182.9 311.6h1v1h-1zM182.4 311.1h1v1h-1zM182.4 311.2h1v1h-1zM181 309.9h1v1h-1zM181.1 309.5h1v1h-1zM183 325.2h1v1h-1zM183.5 325.8h1v1h-1zM183.3 326h1v1h-1zM183.6 326h1v1h-1zM180.4 297.9h1v1h-1zM180.3 297.7h1v1h-1zM180.8 298h1v1h-1zM180.2 297.7h1v1h-1zM179.9 297.2h1v1h-1zM168.7 291.2h1v1h-1zM168.2 291.5h1v1h-1zM168.1 291.8h1v1h-1zM168.5 291.6h1v1h-1zM168.1 291.7h1v1h-1zM179 332.9h1v1h-1zM178.9 332.3h1v1h-1zM169.6 280.4h1v1h-1zM169.2 280.5h1v1h-1zM181.2 330.5h1v1h-1zM179.5 331.7h1v1h-1zM179.5 331.4h1v1h-1zM179 331.4h1v1h-1zM179.6 331.2h1v1h-1zM163.5 325.6h1v1h-1zM163.3 325.6h1v1h-1zM163.9 325.3h1v1h-1zM181.6 318.9h1v1h-1zM180.9 318.9h1v1h-1zM181.1 319h1v1h-1zM181.1 318.1h1v1h-1zM181.6 318.7h1v1h-1zM181.6 318.5h1v1h-1zM181.3 318.2h1v1h-1zM180.8 326.9h1v1h-1zM180.7 326.4h1v1h-1zM180.4 326.5h1v1h-1zM180.7 326.3h1v1h-1zM165.9 351.4h1v1h-1zM165.6 351.2h1v1h-1zM183.4 324.2h1v1h-1zM183.3 325.1h1v1h-1zM183.9 324.4h1v1h-1zM183.5 324.7h1v1h-1zM183.2 324.1h1v1h-1zM183.6 310.6h1v1h-1zM183.7 310.9h1v1h-1zM183.2 311.1h1v1h-1zM180.7 304.5h1v1h-1zM180.3 304.2h1v1h-1zM182.6 324.3h1v1h-1zM182.8 325.1h1v1h-1zM182.8 324.7h1v1h-1zM181.6 319.9h1v1h-1zM180.9 319.4h1v1h-1zM181.2 319.2h1v1h-1zM181.4 319.7h1v1h-1zM181.2 319.1h1v1h-1zM168.8 292.7h1v1h-1zM168.8 292.3h1v1h-1zM168.3 293h1v1h-1zM168.6 293.1h1v1h-1zM168.7 293.1h1v1h-1zM181.6 326h1v1h-1zM183.9 303.3h1v1h-1zM184.8 303.3h1v1h-1zM184.8 303.6h1v1h-1zM184.7 303.4h1v1h-1zM181.7 297.1h1v1h-1zM182.6 318.5h1v1h-1zM182.2 319.1h1v1h-1zM182.6 318.4h1v1h-1zM182 318.8h1v1h-1zM180.1 307h1v1h-1zM180.2 306.3h1v1h-1zM163.7 347.7h1v1h-1zM163.5 347.3h1v1h-1zM183.2 299.9h1v1h-1zM183.6 299.3h1v1h-1zM183.5 299.7h1v1h-1zM163.4 345h1v1h-1zM163.9 344.3h1v1h-1zM163.4 344.3h1v1h-1zM182.1 329.1h1v1h-1zM182 320.1h1v1h-1zM182.8 319.8h1v1h-1zM182.9 320.1h1v1h-1zM182.2 319.6h1v1h-1zM182.4 319.9h1v1h-1zM181 297.6h1v1h-1zM167.2 285.6h1v1h-1zM167.4 285.9h1v1h-1zM167.5 285.4h1v1h-1zM167.1 285.1h1v1h-1zM167.4 285.8h1v1h-1zM167.4 285.6h1v1h-1zM167.4 285.3h1v1h-1zM167.8 286h1v1h-1zM180.2 327.7h1v1h-1zM180.5 327.2h1v1h-1zM180.8 328h1v1h-1zM168.8 280.4h1v1h-1zM168 280.4h1v1h-1zM168.8 281h1v1h-1zM168.2 280.1h1v1h-1zM168.1 281h1v1h-1zM183.1 300.9h1v1h-1zM183.7 300.4h1v1h-1zM183.6 300.2h1v1h-1zM183.9 300.8h1v1h-1zM182.7 295.2h1v1h-1zM182 295.6h1v1h-1zM181.9 295.3h1v1h-1zM182.3 295.5h1v1h-1zM180 330.3h1v1h-1zM179.9 330.9h1v1h-1zM167.2 314.2h1v1h-1zM167.4 314.9h1v1h-1zM167.2 314.4h1v1h-1zM167 314.7h1v1h-1zM167.8 314.9h1v1h-1zM183 298.5h1v1h-1zM183.6 298.2h1v1h-1zM183.8 298.4h1v1h-1zM183.3 298.2h1v1h-1zM180.4 329.1h1v1h-1zM180.9 328.3h1v1h-1zM170.5 320.8h1v1h-1zM170.3 321.1h1v1h-1zM170.1 320.8h1v1h-1zM180.5 329.3h1v1h-1zM180.5 329.8h1v1h-1zM179.9 329.7h1v1h-1zM180.9 329.6h1v1h-1zM180.1 305.5h1v1h-1zM180.3 305.6h1v1h-1zM180.8 305.2h1v1h-1zM180.2 305.4h1v1h-1zM168 278.8h1v1h-1zM168.5 278.2h1v1h-1zM168.9 279.1h1v1h-1zM168.8 278.2h1v1h-1zM180.3 331.7h1v1h-1zM180.1 331.4h1v1h-1zM180.4 331.6h1v1h-1zM184.4 298h1v1h-1zM184.7 297.4h1v1h-1zM184.5 297.6h1v1h-1zM181.5 298.8h1v1h-1zM181 298.1h1v1h-1zM183 309.3h1v1h-1zM183.1 309.7h1v1h-1zM183.1 309.8h1v1h-1zM183.2 309.5h1v1h-1zM180.8 332.3h1v1h-1zM180.6 332.1h1v1h-1zM180 332.7h1v1h-1zM180.5 332.4h1v1h-1zM180.6 332.7h1v1h-1zM179.9 333h1v1h-1zM168.7 315.1h1v1h-1zM168.1 315h1v1h-1zM168.9 314.4h1v1h-1zM168.5 314.8h1v1h-1zM168.3 314.2h1v1h-1zM182.4 327.9h1v1h-1zM182.5 327.6h1v1h-1zM182.8 327.4h1v1h-1zM182.2 327.9h1v1h-1zM182.3 327.7h1v1h-1zM182.1 327.3h1v1h-1zM182.1 327.7h1v1h-1zM169.9 316.1h1v1h-1zM168.9 316.5h1v1h-1zM169.9 316.4h1v1h-1zM169.6 316.9h1v1h-1zM169.1 316.6h1v1h-1zM182.1 310.7h1v1h-1zM182.8 310.6h1v1h-1zM182.1 310.8h1v1h-1zM182.4 311.1h1v1h-1zM181.5 301.4h1v1h-1zM181.5 308.6h1v1h-1zM180.9 308.8h1v1h-1zM181.7 329.2h1v1h-1zM181.4 329.7h1v1h-1zM181.7 329.6h1v1h-1zM181.1 330.1h1v1h-1zM181.8 330h1v1h-1zM168.8 287.7h1v1h-1zM168.4 287.3h1v1h-1zM168 288h1v1h-1zM168.8 287.8h1v1h-1zM168.7 288h1v1h-1zM182 325.1h1v1h-1zM182 325.3h1v1h-1zM182.4 326h1v1h-1zM182 326h1v1h-1zM182.8 325.4h1v1h-1zM181.8 302.4h1v1h-1zM181.9 303.1h1v1h-1zM181 303.1h1v1h-1zM181 302.6h1v1h-1zM181.1 302.7h1v1h-1zM167.3 286.8h1v1h-1zM167.7 286.5h1v1h-1zM167.5 286.2h1v1h-1zM167.9 286.7h1v1h-1zM167.2 286.5h1v1h-1zM183.7 301.7h1v1h-1zM183.7 301.8h1v1h-1zM182.9 301.6h1v1h-1zM183.4 301.4h1v1h-1zM182.4 326.9h1v1h-1zM182.7 326.6h1v1h-1zM182.3 326.7h1v1h-1zM182 298.9h1v1h-1zM181.9 298.5h1v1h-1zM181.1 300.6h1v1h-1zM181.7 300.2h1v1h-1zM181.2 300.5h1v1h-1zM181.7 300.7h1v1h-1zM181.5 300.7h1v1h-1zM165.9 340.5h1v1h-1zM165.2 340.4h1v1h-1zM165.5 340.3h1v1h-1zM181.3 326.5h1v1h-1zM181.6 327h1v1h-1zM180.9 326.8h1v1h-1zM181 326.8h1v1h-1zM164.7 338.4h1v1h-1zM164.3 338.3h1v1h-1zM164.7 338.3h1v1h-1zM181.8 299.3h1v1h-1zM181 299.7h1v1h-1zM181.5 300h1v1h-1zM181.2 299.9h1v1h-1zM168.4 341.8h1v1h-1zM168.8 341.8h1v1h-1zM168.4 341.1h1v1h-1zM168.8 341.3h1v1h-1zM183.1 295.6h1v1h-1zM183.5 295.2h1v1h-1zM183.8 295.5h1v1h-1zM183.5 295.7h1v1h-1zM183.6 296h1v1h-1zM183.9 295.1h1v1h-1zM183.3 295.1h1v1h-1zM182 297.8h1v1h-1zM168.4 286h1v1h-1zM168.7 285.4h1v1h-1zM168.6 286h1v1h-1zM168.2 285.9h1v1h-1zM168.5 285.9h1v1h-1zM184.7 296.3h1v1h-1zM183.9 296.6h1v1h-1zM184 296.9h1v1h-1zM184.3 296.7h1v1h-1zM184.8 296.9h1v1h-1zM171.8 322.7h1v1h-1zM171.6 323h1v1h-1zM171.6 322.2h1v1h-1zM170.9 322.7h1v1h-1zM171.2 322.6h1v1h-1zM181.3 303.7h1v1h-1zM181.8 303.5h1v1h-1zM181.7 303.6h1v1h-1zM181.4 303.8h1v1h-1zM183.1 305.2h1v1h-1zM183.8 305.7h1v1h-1zM166.4 316.8h1v1h-1zM166.9 316.2h1v1h-1zM164.8 350.1h1v1h-1zM164.9 350.3h1v1h-1zM164.3 351.1h1v1h-1zM181.4 328.4h1v1h-1zM180.9 328.6h1v1h-1zM181.8 328.9h1v1h-1zM181.5 328.8h1v1h-1zM181.4 329h1v1h-1zM181.3 328.8h1v1h-1zM183.9 304.2h1v1h-1zM183.9 304.4h1v1h-1zM169.2 278.2h1v1h-1zM169.5 278.9h1v1h-1zM169 279h1v1h-1zM168.9 278.5h1v1h-1zM181.1 327.5h1v1h-1zM181.7 328h1v1h-1zM182.9 299.5h1v1h-1zM182.7 300.1h1v1h-1zM182.7 299.4h1v1h-1zM182 299.1h1v1h-1zM182.7 299.9h1v1h-1zM182.6 300h1v1h-1zM183 308.3h1v1h-1zM183.9 308.3h1v1h-1zM183.4 308.7h1v1h-1zM182.3 309.8h1v1h-1zM182 309.7h1v1h-1zM182.8 309.4h1v1h-1zM183.8 302.9h1v1h-1zM183.2 302.2h1v1h-1zM183.6 302.8h1v1h-1zM183.3 302.7h1v1h-1zM183.4 302.2h1v1h-1zM169.8 317.4h1v1h-1zM169.7 317.4h1v1h-1zM169.1 318h1v1h-1zM169.4 318.1h1v1h-1zM163.6 335.7h1v1h-1zM163.4 335.7h1v1h-1zM163.1 336h1v1h-1zM163.7 335.4h1v1h-1zM182.5 296.5h1v1h-1zM182.5 296.8h1v1h-1zM182 296.7h1v1h-1zM182.8 296.8h1v1h-1zM182 296.4h1v1h-1zM168.1 280.1h1v1h-1zM168.8 279.1h1v1h-1zM168.5 279.7h1v1h-1zM168.4 279.3h1v1h-1zM168.3 279.7h1v1h-1zM167.9 279.3h1v1h-1zM168.3 279.4h1v1h-1zM163.2 346.4h1v1h-1zM169.6 279.3h1v1h-1zM169.3 279.3h1v1h-1zM169.1 279.6h1v1h-1zM169.2 347.8h1v1h-1zM169.1 348h1v1h-1zM169.6 347.3h1v1h-1zM168.9 347.8h1v1h-1zM169.1 347.5h1v1h-1zM169.8 347.6h1v1h-1zM183.5 303.5h1v1h-1zM183.8 303.7h1v1h-1zM183 303.3h1v1h-1zM183.3 304h1v1h-1zM183.1 297.8h1v1h-1zM183.4 297.1h1v1h-1zM183.4 297.8h1v1h-1zM183.2 297.3h1v1h-1zM183.5 297.9h1v1h-1zM183.5 306.1h1v1h-1zM183.7 306.7h1v1h-1zM183.7 306.6h1v1h-1zM183.8 306.9h1v1h-1zM163.5 345.8h1v1h-1zM163 345.9h1v1h-1zM163.8 345.1h1v1h-1zM163.2 345.4h1v1h-1zM169.2 349.3h1v1h-1zM169 349.9h1v1h-1zM169.2 349.8h1v1h-1zM169.4 349.3h1v1h-1zM181.8 305h1v1h-1zM181.4 304.9h1v1h-1zM181.3 305h1v1h-1zM181.5 308h1v1h-1zM181.1 307.4h1v1h-1zM181.3 307.5h1v1h-1zM168 338.9h1v1h-1zM168.4 338.6h1v1h-1zM182.3 300.7h1v1h-1zM181.9 300.4h1v1h-1zM182.1 300.6h1v1h-1zM166.9 340.9h1v1h-1zM167.1 340.8h1v1h-1zM183.5 308h1v1h-1zM183.4 307.1h1v1h-1zM183.2 307.5h1v1h-1zM183.6 308h1v1h-1zM183.6 308h1v1h-1zM182.7 301.6h1v1h-1zM182.5 301.2h1v1h-1zM182 301.7h1v1h-1zM182.8 301.7h1v1h-1zM182.8 301.6h1v1h-1zM169 336.9h1v1h-1zM169.8 336.2h1v1h-1zM169.7 336.6h1v1h-1zM168.9 337.1h1v1h-1zM164.4 342.4h1v1h-1zM164.8 342.6h1v1h-1zM164.7 342.6h1v1h-1zM164.6 342.9h1v1h-1zM182.4 302.3h1v1h-1zM182.2 302.4h1v1h-1zM182.7 302.5h1v1h-1zM182.3 302.3h1v1h-1zM168.2 286.3h1v1h-1zM168.7 286.6h1v1h-1zM168.5 286.5h1v1h-1zM168.8 286.2h1v1h-1zM168.1 286.6h1v1h-1zM168.7 286.9h1v1h-1zM168.2 286.5h1v1h-1zM168.8 286.5h1v1h-1zM182.1 303.3h1v1h-1zM182.8 303.8h1v1h-1zM165.3 339.8h1v1h-1zM164.9 339.5h1v1h-1zM168.6 315.4h1v1h-1zM168.1 315.6h1v1h-1zM168.5 315.9h1v1h-1zM168.8 315.6h1v1h-1zM167 315.8h1v1h-1zM167 315.9h1v1h-1zM167 315.6h1v1h-1zM167.3 315.6h1v1h-1zM182.6 304.6h1v1h-1zM182.4 304.9h1v1h-1zM182 304.6h1v1h-1zM182.2 304.3h1v1h-1zM182 304.7h1v1h-1zM165.7 319h1v1h-1zM165.3 318.3h1v1h-1zM165.6 318.6h1v1h-1zM181 305.9h1v1h-1zM181.9 305.8h1v1h-1zM181.2 305.3h1v1h-1zM181.1 305.4h1v1h-1zM182.5 308.9h1v1h-1zM182.8 308.8h1v1h-1zM182 308.7h1v1h-1zM182.6 308.9h1v1h-1zM182.2 309h1v1h-1zM182.3 308.6h1v1h-1zM182.7 308.7h1v1h-1zM182.7 308.8h1v1h-1zM183.8 296.6h1v1h-1zM183.1 296.8h1v1h-1zM183.2 296.3h1v1h-1zM183.3 296.6h1v1h-1zM183.5 296.2h1v1h-1zM183.4 296.4h1v1h-1zM183.6 296.5h1v1h-1zM167.6 351.9h1v1h-1zM166.9 351.2h1v1h-1zM167.8 351.4h1v1h-1zM167.7 351.9h1v1h-1zM181.5 306.6h1v1h-1zM181.7 306.4h1v1h-1zM181.7 306.8h1v1h-1zM181.4 307h1v1h-1z"/>
<path fill="rgb(34,76,199)" fill-opacity="0.47" d="M168.9 318.1h1v1h-1zM169.6 318.5h1v1h-1zM169.6 318.4h1v1h-1zM182.6 305.6h1v1h-1zM182 305.5h1v1h-1zM182.3 305.4h1v1h-1zM182 306h1v1h-1zM182.2 305.7h1v1h-1zM170.5 334h1v1h-1zM170.1 333.2h1v1h-1zM167.6 339.3h1v1h-1zM164 320.5h1v1h-1zM164.4 320.2h1v1h-1zM164.5 320.4h1v1h-1zM164.8 320.8h1v1h-1zM164.5 320.5h1v1h-1zM169 348.7h1v1h-1zM166.4 340.9h1v1h-1zM166.4 340.4h1v1h-1zM166.5 340.6h1v1h-1zM166.4 340.3h1v1h-1zM164.9 342h1v1h-1zM165.6 341.9h1v1h-1zM182.5 307.3h1v1h-1zM182.9 307.8h1v1h-1zM182.8 307.2h1v1h-1zM182.9 307.5h1v1h-1zM182.4 306.8h1v1h-1zM182.3 306.5h1v1h-1zM182.1 307h1v1h-1zM182.5 306.1h1v1h-1zM182.8 306.5h1v1h-1zM182.2 306.7h1v1h-1zM166.5 351.8h1v1h-1zM166.7 351.6h1v1h-1zM166.7 351.4h1v1h-1zM166.1 351.6h1v1h-1zM166.7 351.9h1v1h-1zM166.3 351.9h1v1h-1zM166.6 351.9h1v1h-1zM166 351.1h1v1h-1zM168.3 316.4h1v1h-1zM168.1 316.6h1v1h-1zM168.4 316.2h1v1h-1zM171.2 324.9h1v1h-1zM171.1 324.5h1v1h-1zM171 324.4h1v1h-1zM167.4 316.4h1v1h-1zM167.1 316.7h1v1h-1zM163.7 327.1h1v1h-1zM166.3 317.2h1v1h-1zM166.2 317.8h1v1h-1zM166.8 317.9h1v1h-1zM166.9 317.4h1v1h-1zM166.5 317.5h1v1h-1zM166.3 317.6h1v1h-1zM166.6 317.7h1v1h-1zM166.2 317.9h1v1h-1zM166.8 339.8h1v1h-1zM166 339.2h1v1h-1zM166.2 339.2h1v1h-1zM166.3 339.4h1v1h-1zM166.6 339.8h1v1h-1zM166.8 339.7h1v1h-1zM164.2 337.3h1v1h-1zM164.9 337.4h1v1h-1zM164.2 338h1v1h-1zM164.2 337.5h1v1h-1zM164.6 337.6h1v1h-1zM164.4 337.2h1v1h-1zM164.4 337.6h1v1h-1zM163.7 334.9h1v1h-1zM163.7 334.9h1v1h-1zM169.8 319.4h1v1h-1zM168.9 319.2h1v1h-1zM169.2 319.3h1v1h-1zM169.3 320.1h1v1h-1zM169.2 319.2h1v1h-1zM169 320h1v1h-1zM169.4 319.8h1v1h-1zM167.4 341.7h1v1h-1zM167.7 341.4h1v1h-1zM168 317.5h1v1h-1zM168.8 317.9h1v1h-1zM168 317.3h1v1h-1zM170.7 333h1v1h-1zM170.4 332.6h1v1h-1zM169.9 332.8h1v1h-1zM166.5 341.7h1v1h-1zM166.4 341.7h1v1h-1zM166.5 341.4h1v1h-1zM166.4 341.6h1v1h-1zM166.7 342h1v1h-1zM165.9 341.1h1v1h-1zM168.6 342.5h1v1h-1zM168.5 342.9h1v1h-1zM168 342.4h1v1h-1zM168.5 342.6h1v1h-1zM168.3 342.6h1v1h-1zM168 342.6h1v1h-1zM168.6 342.4h1v1h-1zM168 342.5h1v1h-1zM170 321.9h1v1h-1zM170.6 321.8h1v1h-1zM170.4 321.7h1v1h-1zM170.8 322.1h1v1h-1zM165.4 338.8h1v1h-1zM165 338.5h1v1h-1zM165.7 338.4h1v1h-1zM165.8 338.4h1v1h-1zM165.1 338.2h1v1h-1zM167.6 317.2h1v1h-1zM167.3 317.8h1v1h-1zM164.8 321.8h1v1h-1zM164 321.4h1v1h-1zM164.4 321.5h1v1h-1zM169.4 335.2h1v1h-1zM169.3 335.7h1v1h-1zM169.7 335.4h1v1h-1zM169 335.7h1v1h-1zM168.1 337.6h1v1h-1zM168.1 337.9h1v1h-1zM165 320h1v1h-1zM165.3 320h1v1h-1zM165.1 319.8h1v1h-1zM165.7 319.5h1v1h-1zM164.1 343.4h1v1h-1zM164.7 343.8h1v1h-1zM164.3 343.9h1v1h-1zM168.9 350.2h1v1h-1zM168.8 350.5h1v1h-1zM168.3 350.5h1v1h-1zM168.7 350.6h1v1h-1zM168.7 351h1v1h-1zM168.5 350.3h1v1h-1zM168.6 350.9h1v1h-1zM168.8 351.1h1v1h-1zM167.9 350.6h1v1h-1zM167.3 338.5h1v1h-1zM167.9 339h1v1h-1zM167.9 338.8h1v1h-1zM167.2 338.9h1v1h-1zM167.6 338.2h1v1h-1zM167.7 338.8h1v1h-1zM167.4 339.1h1v1h-1zM167.6 338.2h1v1h-1zM167.7 338.6h1v1h-1zM164.6 349.1h1v1h-1zM164.7 349.1h1v1h-1zM164.3 349.8h1v1h-1zM164.1 336.9h1v1h-1zM164.3 336.9h1v1h-1zM170.6 331.3h1v1h-1zM170.5 331.7h1v1h-1zM166.1 318.4h1v1h-1zM166.3 318.5h1v1h-1zM166.4 318.6h1v1h-1zM166.8 318.8h1v1h-1zM163.3 328h1v1h-1zM163.7 327.6h1v1h-1zM163.9 328.1h1v1h-1zM168.3 318.9h1v1h-1zM168.6 318.2h1v1h-1zM168 318.8h1v1h-1zM168.1 318.9h1v1h-1zM168.1 318.4h1v1h-1zM165.2 342.8h1v1h-1zM165 342.2h1v1h-1zM165.7 342.6h1v1h-1zM170.6 330.4h1v1h-1zM163.5 333.6h1v1h-1zM163.3 333.5h1v1h-1zM163.5 334h1v1h-1zM163.7 333.6h1v1h-1zM164.5 322.8h1v1h-1zM164.1 323h1v1h-1zM164 322.2h1v1h-1zM164.4 322.6h1v1h-1zM170.3 329.7h1v1h-1zM170.4 330h1v1h-1zM170.4 329.9h1v1h-1zM166.3 339h1v1h-1zM166.5 338.9h1v1h-1zM168.4 344h1v1h-1zM168.8 343.8h1v1h-1zM168.2 343.7h1v1h-1zM168.5 343.5h1v1h-1zM168.3 343.6h1v1h-1zM168.5 343.2h1v1h-1zM168.5 343.8h1v1h-1zM168.8 343.8h1v1h-1zM168.1 343.4h1v1h-1zM168.9 321.1h1v1h-1zM169.3 320.6h1v1h-1zM169.9 328.3h1v1h-1zM167.4 319h1v1h-1zM167.5 318.8h1v1h-1zM167.8 319h1v1h-1zM167.4 318.7h1v1h-1zM167.2 318.6h1v1h-1zM167.4 318.7h1v1h-1zM167.7 318.1h1v1h-1zM167 318.6h1v1h-1zM167.7 318.8h1v1h-1zM167.4 318.5h1v1h-1zM167.7 318.7h1v1h-1zM163.2 332.8h1v1h-1zM163.2 332.4h1v1h-1zM163.2 332.2h1v1h-1zM163.3 332.5h1v1h-1zM165.9 351.1h1v1h-1zM165.3 350.3h1v1h-1zM165.9 350.5h1v1h-1zM164.9 350.3h1v1h-1zM165.2 350.3h1v1h-1zM164.9 350.5h1v1h-1zM164.9 350.7h1v1h-1zM165.3 350.6h1v1h-1zM168.3 344.5h1v1h-1zM168.4 345h1v1h-1zM168.5 344.5h1v1h-1zM164.9 324.1h1v1h-1zM164.4 324h1v1h-1zM165.6 337.3h1v1h-1zM164.9 337.9h1v1h-1zM165.2 337.2h1v1h-1zM165.1 337.9h1v1h-1zM165.8 337.5h1v1h-1zM165.5 337.2h1v1h-1zM165.6 338h1v1h-1zM168.1 345.1h1v1h-1zM168 345.9h1v1h-1zM168.5 345.3h1v1h-1zM163 331.3h1v1h-1zM163 331.2h1v1h-1zM163.8 331.2h1v1h-1zM163.7 331.8h1v1h-1zM163.5 328.9h1v1h-1zM163.1 328.3h1v1h-1zM163.7 328.1h1v1h-1zM163.7 328.6h1v1h-1zM163.5 328.3h1v1h-1zM164.7 335.8h1v1h-1zM164.7 336.1h1v1h-1zM164.6 335.7h1v1h-1zM164 336h1v1h-1zM167.7 342.2h1v1h-1zM167 342.9h1v1h-1zM167.6 343.1h1v1h-1zM167.5 342.8h1v1h-1zM167.6 342.4h1v1h-1zM167.3 343.1h1v1h-1z"/>
<path fill="rgb(31,130,210)" fill-opacity="0.51" d="M169.8 334.6h1v1h-1zM167.9 336.2h1v1h-1zM168.1 336.3h1v1h-1zM168.1 336.3h1v1h-1zM168.4 336.7h1v1h-1zM163.6 330.7h1v1h-1zM163 330.6h1v1h-1zM163.6 331.1h1v1h-1zM163.4 330.8h1v1h-1zM166.3 342.2h1v1h-1zM166.1 342.7h1v1h-1zM166.2 343.1h1v1h-1zM166.6 342.4h1v1h-1zM166.4 342.6h1v1h-1zM164.4 348.9h1v1h-1zM164.1 348.6h1v1h-1zM164.2 348.7h1v1h-1zM164.8 348.3h1v1h-1zM164.8 349h1v1h-1zM164.5 348.5h1v1h-1zM164 348.1h1v1h-1zM164.3 348.1h1v1h-1zM164.1 348.2h1v1h-1zM168 320h1v1h-1zM168.6 319.4h1v1h-1zM168.8 319.3h1v1h-1zM163.9 344.9h1v1h-1zM164.1 344.2h1v1h-1zM164.6 344.4h1v1h-1zM164.8 344.2h1v1h-1zM164.1 344.6h1v1h-1zM164.9 344.5h1v1h-1zM170.2 327.7h1v1h-1zM170.4 327.6h1v1h-1zM170.1 323h1v1h-1zM170 322.2h1v1h-1zM170.1 322.1h1v1h-1zM170.7 322.9h1v1h-1zM169.9 322.5h1v1h-1zM168.1 346.9h1v1h-1zM168.3 346.2h1v1h-1zM166.1 319.6h1v1h-1zM165.3 320.4h1v1h-1zM165.1 320.5h1v1h-1zM165.8 321.1h1v1h-1zM165 320.5h1v1h-1zM167.9 338.1h1v1h-1zM167.1 338h1v1h-1zM167.6 337.9h1v1h-1zM167.1 337.8h1v1h-1zM167.8 337.7h1v1h-1zM167.8 337.2h1v1h-1zM167.1 337.3h1v1h-1zM167.3 338h1v1h-1zM167.9 337.8h1v1h-1zM167.5 338h1v1h-1zM164.7 325.1h1v1h-1zM164.4 324.8h1v1h-1zM168.8 349.7h1v1h-1zM168.4 349.6h1v1h-1zM168.2 349.4h1v1h-1zM168.7 349.9h1v1h-1zM168.1 349.9h1v1h-1zM168.7 350h1v1h-1zM168.3 350h1v1h-1zM166 337.6h1v1h-1zM166.2 337.6h1v1h-1zM166.1 337.7h1v1h-1zM166 337.3h1v1h-1zM166.4 337.8h1v1h-1zM164.8 347.5h1v1h-1zM164.2 347.9h1v1h-1zM164.8 347.7h1v1h-1zM163.9 347.9h1v1h-1zM164.8 348h1v1h-1zM167.9 350.6h1v1h-1zM167.6 350.5h1v1h-1zM167.1 351.1h1v1h-1zM167.3 350.2h1v1h-1zM170.9 326.3h1v1h-1zM170.2 326.1h1v1h-1zM170.7 326.9h1v1h-1zM170.2 326.5h1v1h-1zM165.9 343.8h1v1h-1zM165 343.9h1v1h-1zM165.1 343.8h1v1h-1zM165.6 343.3h1v1h-1zM165.5 343.2h1v1h-1zM165.3 343.9h1v1h-1zM166.9 319.1h1v1h-1zM167.5 320.1h1v1h-1zM167.8 319.2h1v1h-1zM167.5 319.2h1v1h-1zM165.8 336.5h1v1h-1zM165.6 336.7h1v1h-1zM165.6 336.9h1v1h-1zM165.4 336.4h1v1h-1zM165.5 336.8h1v1h-1zM165.5 337h1v1h-1zM165.4 337h1v1h-1zM168 347.5h1v1h-1zM168.2 347.8h1v1h-1zM168.8 347.5h1v1h-1zM168.5 347.5h1v1h-1zM168.6 348h1v1h-1zM168.2 347.5h1v1h-1zM168.3 348h1v1h-1zM168.5 348h1v1h-1zM164.5 345.5h1v1h-1zM164.4 345.5h1v1h-1zM164.3 345.5h1v1h-1zM164.2 345.3h1v1h-1zM164.3 345.5h1v1h-1zM164.9 345.9h1v1h-1zM166.5 350.2h1v1h-1zM165.9 350.2h1v1h-1zM166.8 351.1h1v1h-1zM166.4 350.6h1v1h-1zM166.3 350.6h1v1h-1zM166.1 350.2h1v1h-1zM165.9 350.3h1v1h-1zM164.1 346.7h1v1h-1zM164.9 347h1v1h-1zM164.2 346.8h1v1h-1zM164.8 346.9h1v1h-1zM164.4 346.7h1v1h-1zM164.6 346.9h1v1h-1zM164.6 346.2h1v1h-1zM168 348.5h1v1h-1zM168.3 348.1h1v1h-1zM168.3 348.8h1v1h-1zM168 348.9h1v1h-1zM169.6 333.5h1v1h-1zM169.4 333.4h1v1h-1zM169.8 334h1v1h-1zM169.4 333.3h1v1h-1zM169.1 333.7h1v1h-1zM164.1 334.1h1v1h-1zM164.6 335h1v1h-1zM164.7 334.9h1v1h-1zM164.3 334.1h1v1h-1zM164.8 335.1h1v1h-1zM164.9 334.9h1v1h-1zM170 325.3h1v1h-1zM170.1 325.3h1v1h-1zM170.7 325.9h1v1h-1zM170 325.7h1v1h-1zM170.5 325.2h1v1h-1zM170.8 326.1h1v1h-1zM170.6 324h1v1h-1zM170.5 323.6h1v1h-1zM170.3 323.6h1v1h-1zM170.2 324h1v1h-1zM170.7 323.4h1v1h-1zM169.9 323.6h1v1h-1zM170.3 323.8h1v1h-1zM167.3 343.4h1v1h-1zM167.4 343.3h1v1h-1zM167.3 343.2h1v1h-1zM167.8 343.3h1v1h-1zM167.3 343.2h1v1h-1zM169.5 321.4h1v1h-1zM168.9 321.7h1v1h-1zM168.9 321.9h1v1h-1zM169 322h1v1h-1zM169.5 321.8h1v1h-1zM169.4 321.7h1v1h-1zM167.9 335.5h1v1h-1zM168.3 335.5h1v1h-1zM168.5 335.1h1v1h-1zM168.1 335.9h1v1h-1zM168.2 336h1v1h-1zM170.4 324.9h1v1h-1zM170.8 324.2h1v1h-1zM170.1 324.9h1v1h-1zM170.5 324.8h1v1h-1zM170.5 324.7h1v1h-1zM170.5 324.3h1v1h-1zM170.1 324.1h1v1h-1zM168.7 320.3h1v1h-1zM168.8 320.2h1v1h-1zM168.1 320.4h1v1h-1zM168.6 320.2h1v1h-1zM168.7 320.4h1v1h-1zM166.9 337h1v1h-1zM167.6 336.4h1v1h-1zM167.7 336.4h1v1h-1zM167.4 336.8h1v1h-1zM167.6 336.2h1v1h-1zM167.6 336.9h1v1h-1zM167.8 336.2h1v1h-1zM167.6 336.5h1v1h-1zM164 325.9h1v1h-1zM164.2 325.6h1v1h-1zM164.4 325.6h1v1h-1zM164.3 325.6h1v1h-1zM166.1 343.2h1v1h-1zM166.2 343.3h1v1h-1zM166.8 343.7h1v1h-1zM166.6 343.6h1v1h-1zM166.2 343.5h1v1h-1zM166.4 343.2h1v1h-1zM166.6 343.8h1v1h-1zM165.3 349.9h1v1h-1zM165.1 349.9h1v1h-1zM165 349.9h1v1h-1zM165.8 349.5h1v1h-1zM164.9 350h1v1h-1zM165.6 349.1h1v1h-1zM165.2 350.1h1v1h-1zM165.8 350h1v1h-1zM166.3 336.6h1v1h-1zM166.2 336.5h1v1h-1zM166.8 336.2h1v1h-1zM166.1 336.5h1v1h-1zM165.7 321.6h1v1h-1zM164.9 321.2h1v1h-1zM165.9 321.7h1v1h-1zM165.5 321.4h1v1h-1zM165.5 321.7h1v1h-1zM165.8 321.8h1v1h-1zM165.6 321.3h1v1h-1zM165.7 321.9h1v1h-1zM165.6 335.1h1v1h-1zM165.8 335.6h1v1h-1zM165.5 336h1v1h-1zM166.2 320.2h1v1h-1zM166 320.2h1v1h-1zM166.6 320.8h1v1h-1zM166 320.8h1v1h-1zM166.7 320.4h1v1h-1zM166.6 320.9h1v1h-1zM166.2 320.6h1v1h-1z"/>
<path fill="rgb(33,164,186)" fill-opacity="0.54" d="M167.7 344.6h1v1h-1zM166.9 344.7h1v1h-1zM167 344.2h1v1h-1zM167.6 344.8h1v1h-1zM167.5 344.9h1v1h-1zM167.3 345h1v1h-1zM167 345h1v1h-1zM167.1 344.4h1v1h-1zM167.6 344.7h1v1h-1zM167.3 344.3h1v1h-1zM167.1 344.6h1v1h-1zM167.6 345.1h1v1h-1zM169.1 333.1h1v1h-1zM169.5 333h1v1h-1zM169.4 332.5h1v1h-1zM169.5 332.5h1v1h-1zM169.7 332.4h1v1h-1zM169.5 332.3h1v1h-1zM169.2 332.1h1v1h-1zM165.3 344.2h1v1h-1zM165.9 344.9h1v1h-1zM165 344.4h1v1h-1zM165.4 344.3h1v1h-1zM165.3 345h1v1h-1zM165.1 344.5h1v1h-1zM165.9 345h1v1h-1zM165.5 344.7h1v1h-1zM167.6 320.7h1v1h-1zM167.2 320.8h1v1h-1zM167.8 320.6h1v1h-1zM167 320.2h1v1h-1zM166.9 320.8h1v1h-1zM167.5 320.3h1v1h-1zM167.7 320.4h1v1h-1zM167.9 320.9h1v1h-1zM167.2 320.3h1v1h-1zM166.9 320.6h1v1h-1zM164.1 333.3h1v1h-1zM164.3 333.2h1v1h-1zM164 333.2h1v1h-1zM164 333.8h1v1h-1zM164.6 333.5h1v1h-1zM164.9 333.8h1v1h-1zM164.5 333.2h1v1h-1zM164 333.6h1v1h-1zM163.9 334h1v1h-1zM167.8 349.3h1v1h-1zM167.9 349.3h1v1h-1zM167 349.2h1v1h-1zM167.3 349.8h1v1h-1zM167.2 349.4h1v1h-1zM167.9 349.5h1v1h-1zM167.1 349.5h1v1h-1zM167.2 350.1h1v1h-1zM167.6 350h1v1h-1zM167 349.6h1v1h-1zM167 345.9h1v1h-1zM166.9 345.6h1v1h-1zM166.9 346h1v1h-1zM167 345.8h1v1h-1zM167.3 345.2h1v1h-1zM167.8 346h1v1h-1zM167.4 346h1v1h-1zM165.5 349h1v1h-1zM165.2 348.6h1v1h-1zM165.6 348.9h1v1h-1zM164.9 348.5h1v1h-1zM165.4 348.5h1v1h-1zM165.6 348.8h1v1h-1zM165.7 349h1v1h-1zM165.4 348.3h1v1h-1zM165.9 348.4h1v1h-1zM165.5 348.8h1v1h-1zM164.6 327h1v1h-1zM164.3 326.2h1v1h-1zM164.4 326.7h1v1h-1zM164.3 326.1h1v1h-1zM164.3 326.9h1v1h-1zM164.1 327h1v1h-1zM164.8 326.8h1v1h-1zM168 334.8h1v1h-1zM168.4 334.6h1v1h-1zM168.4 334.3h1v1h-1zM167.9 334.7h1v1h-1zM168.8 334.2h1v1h-1zM168.6 334.5h1v1h-1zM168 334.6h1v1h-1zM168.6 334.7h1v1h-1zM168.2 334.2h1v1h-1zM169.4 331.3h1v1h-1zM169.5 331.3h1v1h-1zM169 331.3h1v1h-1zM169.3 331.2h1v1h-1zM169.4 331.6h1v1h-1zM169.7 331.2h1v1h-1zM166.5 349.9h1v1h-1zM166.7 349.6h1v1h-1zM166 349.8h1v1h-1zM166.1 349.8h1v1h-1zM166 350.1h1v1h-1zM166.8 349.9h1v1h-1zM166.1 350.1h1v1h-1zM167.3 335.4h1v1h-1zM167.8 335.6h1v1h-1zM167.1 335.2h1v1h-1zM167.2 335.3h1v1h-1zM167.7 335.9h1v1h-1zM166.9 336.1h1v1h-1zM166.7 345h1v1h-1zM166.9 344.8h1v1h-1zM166.1 344.7h1v1h-1zM167.9 346.3h1v1h-1zM167.3 346.6h1v1h-1zM167.5 346.3h1v1h-1zM166.9 346.4h1v1h-1zM167.6 346.9h1v1h-1zM167.1 346.6h1v1h-1zM167 346.5h1v1h-1zM167.5 346.7h1v1h-1zM167.1 347h1v1h-1zM165 322.3h1v1h-1zM165 322.3h1v1h-1zM165.3 322.2h1v1h-1zM165.7 322.8h1v1h-1zM165.7 322.5h1v1h-1zM165.3 322.2h1v1h-1zM165.9 322.6h1v1h-1zM165 322.8h1v1h-1zM165 322.5h1v1h-1zM166 335.2h1v1h-1zM166.8 335.8h1v1h-1zM166.8 335.3h1v1h-1zM166.7 336h1v1h-1zM166.7 335.6h1v1h-1zM166 335.9h1v1h-1zM166.1 335.7h1v1h-1zM169.9 322.6h1v1h-1zM169.1 323h1v1h-1zM169.1 322.4h1v1h-1zM169.4 322.3h1v1h-1zM169 322.2h1v1h-1zM169.2 322.9h1v1h-1zM168.9 322.8h1v1h-1zM164.6 332.5h1v1h-1zM164.1 332.9h1v1h-1zM164.5 332.1h1v1h-1zM164.5 333h1v1h-1zM164.6 332.4h1v1h-1zM164.3 332.6h1v1h-1zM164.3 332.3h1v1h-1zM164.6 333.1h1v1h-1zM164.9 345.7h1v1h-1zM165 345.4h1v1h-1zM165.4 346h1v1h-1zM165.5 346h1v1h-1zM165.7 345.7h1v1h-1zM165.8 345.6h1v1h-1zM165.6 345.6h1v1h-1zM165.8 345.8h1v1h-1zM165.1 345.7h1v1h-1zM165.7 345.2h1v1h-1zM165.6 345.5h1v1h-1zM165.3 345.7h1v1h-1zM165.4 347.9h1v1h-1zM165.7 347.6h1v1h-1zM165.7 348.1h1v1h-1zM165.4 347.9h1v1h-1zM165.4 347.4h1v1h-1zM165.2 347.5h1v1h-1zM165.1 348.1h1v1h-1zM165.1 347.9h1v1h-1zM167.5 348.9h1v1h-1zM167.4 348.8h1v1h-1zM167.9 348.7h1v1h-1zM167.1 348.5h1v1h-1zM167.4 348.4h1v1h-1zM167.8 348.3h1v1h-1zM167.4 348.2h1v1h-1zM167.5 348.7h1v1h-1zM167.6 348.2h1v1h-1zM167.1 348.7h1v1h-1zM167.1 348.8h1v1h-1zM167 349.1h1v1h-1zM169 330.6h1v1h-1zM169.1 330.1h1v1h-1zM169.4 330.3h1v1h-1zM169.2 330.5h1v1h-1zM169.5 330.7h1v1h-1zM167.3 348h1v1h-1zM166.9 348h1v1h-1zM167.7 347.1h1v1h-1zM167.7 347.2h1v1h-1zM167.8 347.3h1v1h-1zM167.5 347.6h1v1h-1zM167.6 347.8h1v1h-1zM165.5 346.8h1v1h-1zM165.8 346.9h1v1h-1zM165.4 347.1h1v1h-1zM165.5 346.5h1v1h-1zM165 346.8h1v1h-1zM165.3 346.6h1v1h-1zM168.2 321.7h1v1h-1zM168.2 321.9h1v1h-1zM168.8 321.2h1v1h-1zM168.1 322.1h1v1h-1zM165.2 334.9h1v1h-1zM165.1 334.8h1v1h-1zM165.6 334.1h1v1h-1zM164.9 334.2h1v1h-1zM165.7 334.3h1v1h-1zM165 334.9h1v1h-1zM164.5 331.3h1v1h-1zM164.3 331.6h1v1h-1zM164.7 331.2h1v1h-1zM164.2 332h1v1h-1zM164.2 331.8h1v1h-1zM169.2 329.7h1v1h-1zM168.9 330.1h1v1h-1zM169.1 329.3h1v1h-1zM169.1 329.2h1v1h-1zM169.1 329.4h1v1h-1zM169.5 329.5h1v1h-1zM166.3 345.3h1v1h-1zM166.4 345.8h1v1h-1zM166.6 345.5h1v1h-1zM166.7 345.9h1v1h-1zM166.4 345.9h1v1h-1zM166.7 345.1h1v1h-1zM166.6 345.5h1v1h-1zM166.3 346h1v1h-1zM166.6 345.3h1v1h-1zM166.5 345.4h1v1h-1zM166.4 345.5h1v1h-1zM166.5 345.9h1v1h-1zM164.3 327.8h1v1h-1zM164.2 327.6h1v1h-1zM164.8 327.1h1v1h-1zM164.9 327.4h1v1h-1zM166.5 321.8h1v1h-1zM166.2 321.2h1v1h-1zM166.4 321.9h1v1h-1zM166.8 321.3h1v1h-1zM166.2 321.5h1v1h-1zM166.6 321.4h1v1h-1zM166.5 321.6h1v1h-1zM166 348.3h1v1h-1zM166.1 348.7h1v1h-1zM166.7 348.4h1v1h-1zM166 349.1h1v1h-1zM166.9 348.5h1v1h-1zM165.3 323.2h1v1h-1zM165.9 323.5h1v1h-1zM165.8 324h1v1h-1zM165.2 323.2h1v1h-1zM165.5 323.1h1v1h-1zM165.9 323.8h1v1h-1zM165.3 323.6h1v1h-1zM164.6 330.9h1v1h-1zM164.5 330.8h1v1h-1zM164.6 331.1h1v1h-1zM164.5 330.8h1v1h-1zM163.9 330.6h1v1h-1zM164.9 330.8h1v1h-1zM164.7 330.7h1v1h-1zM164 330.6h1v1h-1zM164.2 330.9h1v1h-1zM166.1 346.8h1v1h-1zM166.1 347h1v1h-1zM166.4 346.3h1v1h-1zM166.5 346.6h1v1h-1zM166.2 346.9h1v1h-1zM166.4 346.6h1v1h-1zM166.2 346.8h1v1h-1zM169.4 328.5h1v1h-1zM169.6 328.9h1v1h-1zM169.7 328.1h1v1h-1zM169.6 328.4h1v1h-1zM169.5 328.6h1v1h-1zM169 328.9h1v1h-1z"/>
<path fill="rgb(39,186,139)" fill-opacity="0.57" d="M166.4 347.5h1v1h-1zM166.5 347.4h1v1h-1zM166.5 347.6h1v1h-1zM166.7 347.2h1v1h-1zM166.4 347.6h1v1h-1zM166.6 347.2h1v1h-1zM166.7 347.5h1v1h-1zM166.4 347.7h1v1h-1zM166.7 347.4h1v1h-1zM168.2 333.4h1v1h-1zM168.7 333.2h1v1h-1zM168 333.4h1v1h-1zM168.5 333.9h1v1h-1zM168.2 333.8h1v1h-1zM168.8 334h1v1h-1zM167.9 333.3h1v1h-1zM168.9 333.8h1v1h-1zM168.9 323.6h1v1h-1zM169.3 323.4h1v1h-1zM169.4 323.3h1v1h-1zM169.8 324h1v1h-1zM169 323.5h1v1h-1zM169.7 323.8h1v1h-1zM169.6 323.1h1v1h-1zM169.6 323.7h1v1h-1zM169.1 323.7h1v1h-1zM167.6 321.7h1v1h-1zM167.8 322h1v1h-1zM167.4 321.9h1v1h-1zM167.7 321.5h1v1h-1zM167.8 321.8h1v1h-1zM167 322.1h1v1h-1zM167.5 321.5h1v1h-1zM164 328.6h1v1h-1zM164.8 328.5h1v1h-1zM164.6 328.2h1v1h-1zM164.9 329h1v1h-1zM164.7 328.7h1v1h-1zM164.8 328.4h1v1h-1zM164.8 328.6h1v1h-1zM164.5 328.6h1v1h-1zM164.7 328.8h1v1h-1zM164.3 328.9h1v1h-1zM164.1 328.9h1v1h-1zM164.3 328.3h1v1h-1zM164.9 330.1h1v1h-1zM164 329.9h1v1h-1zM164.7 329.6h1v1h-1zM164.7 329.8h1v1h-1zM164.1 329.7h1v1h-1zM164.4 329.6h1v1h-1zM164.3 330h1v1h-1zM164.9 329.4h1v1h-1zM167.4 335.1h1v1h-1zM167.6 334.2h1v1h-1zM167.4 334.6h1v1h-1zM167.1 334.6h1v1h-1zM167.1 334.3h1v1h-1zM166.9 335h1v1h-1zM167.5 335h1v1h-1zM167 334.9h1v1h-1zM167.8 334.2h1v1h-1zM167.6 334.8h1v1h-1zM167.6 334.4h1v1h-1zM167.4 335.1h1v1h-1zM167.2 334.3h1v1h-1zM166.2 334.5h1v1h-1zM165.9 334.7h1v1h-1zM166 334.7h1v1h-1zM166.5 335h1v1h-1zM166.1 334.3h1v1h-1zM166.4 334.5h1v1h-1zM166.4 334.3h1v1h-1zM169.1 327.1h1v1h-1zM169.6 327.8h1v1h-1zM169.6 327.9h1v1h-1zM168.9 327.3h1v1h-1zM169.5 327.1h1v1h-1zM169.6 327.4h1v1h-1zM169.4 327.8h1v1h-1zM165 333.2h1v1h-1zM165.2 333.8h1v1h-1zM164.9 333.8h1v1h-1zM165.3 334.1h1v1h-1zM165.9 333.3h1v1h-1zM165.3 333.8h1v1h-1zM165 333.3h1v1h-1zM165.9 333.4h1v1h-1zM165.6 333.2h1v1h-1zM165 333.9h1v1h-1zM165.7 333.8h1v1h-1zM169.5 325.1h1v1h-1zM169 324.3h1v1h-1zM169 324.7h1v1h-1zM169.5 325h1v1h-1zM169.2 325h1v1h-1zM168.9 324.7h1v1h-1zM169.3 324.7h1v1h-1zM169.4 324.4h1v1h-1zM169.6 325.1h1v1h-1zM169.3 324.4h1v1h-1zM165.6 324.3h1v1h-1zM165.2 324.8h1v1h-1zM165.1 324.4h1v1h-1zM165.5 324.2h1v1h-1zM164.9 324.6h1v1h-1zM165.7 324.6h1v1h-1zM165 324.2h1v1h-1zM169.1 326.8h1v1h-1zM169.4 326.8h1v1h-1zM169.5 326.4h1v1h-1zM169 326.6h1v1h-1zM169.2 326.1h1v1h-1zM169 326.6h1v1h-1zM169.8 326.9h1v1h-1zM169 326.5h1v1h-1zM169.2 327.1h1v1h-1zM169.8 325.7h1v1h-1zM169.2 325.1h1v1h-1zM169 325.2h1v1h-1zM169.3 326.1h1v1h-1zM169.3 325.5h1v1h-1zM169.1 325.3h1v1h-1zM169.7 326h1v1h-1zM168.6 322.8h1v1h-1zM168 322.5h1v1h-1zM168.4 322.8h1v1h-1zM168.7 322.7h1v1h-1zM168.4 322.7h1v1h-1zM168.2 322.2h1v1h-1zM168.7 323h1v1h-1zM168.8 322.2h1v1h-1zM167.9 323h1v1h-1zM168.1 322.2h1v1h-1zM168.6 322.6h1v1h-1zM168.3 323h1v1h-1zM168.8 322.6h1v1h-1zM168.9 332.7h1v1h-1zM168.3 333h1v1h-1zM168.9 332.2h1v1h-1zM168.3 332.9h1v1h-1zM168.6 332.3h1v1h-1zM168.6 332.8h1v1h-1zM168.1 332.4h1v1h-1zM168.4 332.9h1v1h-1zM168 333h1v1h-1zM166.4 322.8h1v1h-1zM166.7 322.5h1v1h-1zM166.8 322.9h1v1h-1zM166.8 322.2h1v1h-1zM165.9 322.2h1v1h-1zM166 322.5h1v1h-1zM166.3 322.7h1v1h-1zM166.6 322.8h1v1h-1zM166.7 322.1h1v1h-1zM166.4 322.3h1v1h-1zM166.2 322.7h1v1h-1zM165.5 332.8h1v1h-1zM165.6 332.9h1v1h-1zM165.1 332.8h1v1h-1zM165.4 332.7h1v1h-1zM165 332.8h1v1h-1zM165.5 333h1v1h-1zM165.4 332.4h1v1h-1zM165 332.7h1v1h-1zM165 325.3h1v1h-1zM165 325.8h1v1h-1zM165.3 325.9h1v1h-1zM165.2 326.1h1v1h-1zM165.7 325.1h1v1h-1zM165.2 325.6h1v1h-1zM165.5 325.3h1v1h-1zM165.1 325.8h1v1h-1zM165 325.5h1v1h-1zM167.8 333.8h1v1h-1zM167.8 333.6h1v1h-1zM167.1 334h1v1h-1zM167.2 333.7h1v1h-1zM167.4 333.9h1v1h-1zM166.9 333.8h1v1h-1zM167.2 333.2h1v1h-1z"/>
<path fill="rgb(75,197,95)" fill-opacity="0.61" d="M166.5 333.3h1v1h-1zM166.8 333.8h1v1h-1zM166.6 333.9h1v1h-1zM166.3 333.2h1v1h-1zM166.9 333.1h1v1h-1zM166.5 333.9h1v1h-1zM166.6 333.8h1v1h-1zM166.4 333.8h1v1h-1zM166.3 333.2h1v1h-1zM166 333.2h1v1h-1zM166.1 333.7h1v1h-1zM166 333.7h1v1h-1zM166.9 322.8h1v1h-1zM167.7 322.5h1v1h-1zM167 322.3h1v1h-1zM167.2 322.9h1v1h-1zM167.1 322.3h1v1h-1zM167.6 322.6h1v1h-1zM167.5 323.1h1v1h-1zM167 322.4h1v1h-1zM167.6 322.8h1v1h-1zM167.7 322.3h1v1h-1zM167.1 322.4h1v1h-1zM167 322.5h1v1h-1zM168.6 331.2h1v1h-1zM168.2 331.2h1v1h-1zM168.7 331.5h1v1h-1zM168 331.6h1v1h-1zM168.3 331.6h1v1h-1zM168.3 331.6h1v1h-1zM168.7 332h1v1h-1zM168.2 331.6h1v1h-1zM168 331.9h1v1h-1zM168.7 331.7h1v1h-1zM165.7 331.3h1v1h-1zM165.2 331.9h1v1h-1zM165.4 331.8h1v1h-1zM165 331.7h1v1h-1zM165.9 331.2h1v1h-1zM165.7 331.8h1v1h-1zM165 331.7h1v1h-1zM165.9 331.6h1v1h-1zM165.4 331.7h1v1h-1zM165.4 331.3h1v1h-1zM168.2 323.8h1v1h-1zM168 323.6h1v1h-1zM168.2 323.3h1v1h-1zM168.9 323.2h1v1h-1zM168.5 323.8h1v1h-1zM166.6 324h1v1h-1zM166.5 323.7h1v1h-1zM166 323.6h1v1h-1zM166.4 324h1v1h-1zM166.4 323.8h1v1h-1zM166.6 323.9h1v1h-1zM166.7 323.5h1v1h-1zM166.3 323.7h1v1h-1zM165.9 326.3h1v1h-1zM165.7 327.1h1v1h-1zM165.4 327h1v1h-1zM165 326.3h1v1h-1zM165 326.3h1v1h-1zM165.8 327h1v1h-1zM165 327.1h1v1h-1zM165.6 326.9h1v1h-1zM165.7 326.9h1v1h-1zM165.2 326.8h1v1h-1zM164.9 326.9h1v1h-1zM165.8 326.9h1v1h-1zM165.2 326.1h1v1h-1zM165.3 326.6h1v1h-1zM165.6 326.6h1v1h-1zM168.6 330.5h1v1h-1zM168.8 330.7h1v1h-1zM168.4 330.5h1v1h-1zM168.7 330.6h1v1h-1zM168.9 330.6h1v1h-1zM168.2 330.4h1v1h-1zM168.4 330.6h1v1h-1zM168.7 330.1h1v1h-1zM168.3 330.8h1v1h-1zM168.2 330.9h1v1h-1zM168.5 330.9h1v1h-1zM167.7 333h1v1h-1zM167.2 332.3h1v1h-1zM167.5 332.6h1v1h-1zM167.1 332.4h1v1h-1zM167.3 332.6h1v1h-1zM167.4 332.4h1v1h-1zM167.3 333h1v1h-1zM167.4 333h1v1h-1zM167.2 332.8h1v1h-1zM167.8 333h1v1h-1zM167.5 332.3h1v1h-1zM167.4 332.8h1v1h-1zM167.8 332.9h1v1h-1zM167.8 332.6h1v1h-1zM166.7 332.4h1v1h-1zM166.7 332.7h1v1h-1zM166.3 332.5h1v1h-1zM166.2 333h1v1h-1zM166.1 332.9h1v1h-1zM166.7 332.4h1v1h-1zM166.1 332.2h1v1h-1zM166.8 332.2h1v1h-1zM165.9 332.6h1v1h-1zM165 330.2h1v1h-1zM165 330.3h1v1h-1zM165.6 330.7h1v1h-1zM165.5 330.3h1v1h-1zM165.8 331h1v1h-1zM165 330.3h1v1h-1zM168.7 324.4h1v1h-1zM167.9 324.8h1v1h-1zM168.5 324.4h1v1h-1zM168.7 324.2h1v1h-1zM168 324.5h1v1h-1zM167.9 324.1h1v1h-1zM168.8 329.5h1v1h-1zM168.4 329.6h1v1h-1zM168 329.2h1v1h-1zM168.2 329.5h1v1h-1zM168.6 329.5h1v1h-1zM167.9 329.8h1v1h-1zM168.1 330h1v1h-1zM168.1 329.3h1v1h-1zM168.1 329.7h1v1h-1zM167.3 323.8h1v1h-1zM167.6 323.7h1v1h-1zM167.2 323.5h1v1h-1zM167.7 323.5h1v1h-1zM167.2 324.1h1v1h-1zM167.3 323.4h1v1h-1zM167.4 323.3h1v1h-1zM167.8 323.1h1v1h-1zM167.4 323.6h1v1h-1zM167.1 323.4h1v1h-1zM167.2 323.5h1v1h-1zM167.8 324.1h1v1h-1zM167.4 323.7h1v1h-1zM167.3 323.6h1v1h-1zM167.6 323.5h1v1h-1zM167.5 323.2h1v1h-1zM165.8 327.3h1v1h-1zM165.7 327.4h1v1h-1zM165.6 328h1v1h-1zM165.7 327.7h1v1h-1zM165.6 327.9h1v1h-1zM165.5 327.6h1v1h-1zM165.7 327.4h1v1h-1zM165.8 327.9h1v1h-1zM165.8 327.1h1v1h-1zM166.6 324.9h1v1h-1zM166.7 324.4h1v1h-1zM166.9 324.2h1v1h-1zM166.6 324.5h1v1h-1zM166.7 325h1v1h-1zM166.2 324.6h1v1h-1zM166.6 324.1h1v1h-1zM166.1 324.9h1v1h-1zM166 324.5h1v1h-1zM166.9 324.6h1v1h-1zM166.5 325h1v1h-1zM166.4 324.7h1v1h-1zM166.9 325.1h1v1h-1zM166.3 324.6h1v1h-1zM166.1 324.3h1v1h-1z"/>
<path fill="rgb(119,205,51)" fill-opacity="0.64" d="M165 329.2h1v1h-1zM164.9 329.5h1v1h-1zM165.5 330.1h1v1h-1zM165.5 329.3h1v1h-1zM165.7 329.2h1v1h-1zM165.1 330h1v1h-1zM165.4 329.1h1v1h-1zM165.8 329.4h1v1h-1zM165.8 329.3h1v1h-1zM165.1 329.9h1v1h-1zM168.4 328.8h1v1h-1zM168.1 328.9h1v1h-1zM168 328.2h1v1h-1zM168.5 328.3h1v1h-1zM168.7 328.8h1v1h-1zM167.9 328.6h1v1h-1zM168.6 329h1v1h-1zM168 328.3h1v1h-1zM168.6 325.8h1v1h-1zM168.5 325.8h1v1h-1zM168.5 325.6h1v1h-1zM168.3 325.6h1v1h-1zM168.4 325.8h1v1h-1zM168.8 325.3h1v1h-1zM168.2 325.3h1v1h-1zM168.3 325.6h1v1h-1zM168.1 325.4h1v1h-1zM165.3 328.4h1v1h-1zM165.3 328.3h1v1h-1zM165.5 328.9h1v1h-1zM165.3 328.1h1v1h-1zM165.5 328.2h1v1h-1zM165.5 328.2h1v1h-1zM165.1 328.5h1v1h-1zM165.7 328.5h1v1h-1zM165.7 328.4h1v1h-1zM166.7 331.5h1v1h-1zM166.8 331.3h1v1h-1zM166.9 331.4h1v1h-1zM166.7 331.7h1v1h-1zM166.8 331.3h1v1h-1zM166 331.5h1v1h-1zM165.9 331.5h1v1h-1zM167.5 331.9h1v1h-1zM167.6 331.4h1v1h-1zM167.7 331.8h1v1h-1zM167.9 331.5h1v1h-1zM167.3 331.9h1v1h-1zM167.1 331.6h1v1h-1zM167.6 331.9h1v1h-1zM167.4 332h1v1h-1zM166.9 331.9h1v1h-1zM167.6 331.4h1v1h-1zM167.5 331.5h1v1h-1zM167.1 331.4h1v1h-1zM167.7 331.4h1v1h-1zM167 331.3h1v1h-1zM168.1 327.8h1v1h-1zM168 327.2h1v1h-1zM168.2 327.9h1v1h-1zM168.1 328.1h1v1h-1zM168.7 328h1v1h-1zM168.5 327.4h1v1h-1zM168 327.3h1v1h-1zM168.6 327.5h1v1h-1zM168.7 328h1v1h-1zM168.1 327.9h1v1h-1zM168.4 328h1v1h-1zM168 327.5h1v1h-1zM168.3 327.7h1v1h-1zM168.1 327.8h1v1h-1zM168.7 327.3h1v1h-1zM168 327.9h1v1h-1zM168.5 328h1v1h-1zM168.3 326.2h1v1h-1zM168.2 326.9h1v1h-1zM168 326.6h1v1h-1zM168.9 326.9h1v1h-1zM168.9 326.4h1v1h-1zM168.5 326.8h1v1h-1zM168.3 327h1v1h-1zM167.9 326.8h1v1h-1zM168.2 327h1v1h-1zM168.9 327.1h1v1h-1zM168.9 326.4h1v1h-1zM168.4 326.1h1v1h-1zM168.5 326.2h1v1h-1zM167.8 324.7h1v1h-1zM167.5 324.8h1v1h-1zM167.4 324.4h1v1h-1zM167.9 325.1h1v1h-1zM167.6 324.4h1v1h-1zM166.9 324.3h1v1h-1zM167 324.7h1v1h-1zM167.8 324.7h1v1h-1zM167 324.3h1v1h-1zM167.7 324.5h1v1h-1zM167 324.8h1v1h-1zM167.8 324.4h1v1h-1zM166.3 325.2h1v1h-1zM166.6 325.4h1v1h-1zM166.5 325.2h1v1h-1zM166.3 325.3h1v1h-1zM166.3 325.7h1v1h-1zM165.9 325.4h1v1h-1zM166 325.7h1v1h-1zM166.3 325.5h1v1h-1zM166.4 325.1h1v1h-1zM166.6 326h1v1h-1zM166.4 325.9h1v1h-1zM166.1 325.8h1v1h-1zM166.8 325.2h1v1h-1zM166.1 325.2h1v1h-1zM167.4 330.7h1v1h-1zM167.4 330.4h1v1h-1zM167.6 330.7h1v1h-1zM167.3 330.7h1v1h-1zM167.4 330.6h1v1h-1zM167.2 330.2h1v1h-1zM167.2 330.8h1v1h-1zM167.8 330.7h1v1h-1zM167.7 331h1v1h-1zM167.8 330.6h1v1h-1zM167.1 330.9h1v1h-1zM167.5 330.7h1v1h-1zM167.3 330.6h1v1h-1zM166.7 331.1h1v1h-1zM166.7 330.1h1v1h-1zM165.9 330.9h1v1h-1zM166.5 330.3h1v1h-1zM166.5 330.9h1v1h-1zM166.5 330.6h1v1h-1zM166.3 330.2h1v1h-1zM166.5 330.9h1v1h-1zM166.5 330.6h1v1h-1zM166.9 330.6h1v1h-1zM166 330.9h1v1h-1zM166.6 330.6h1v1h-1zM166.2 330.1h1v1h-1zM166.3 330.5h1v1h-1zM166.3 330.8h1v1h-1zM167.9 325.3h1v1h-1zM167.1 325.6h1v1h-1zM167.1 325.1h1v1h-1zM167.2 325.6h1v1h-1zM167.9 326h1v1h-1zM167.7 325.4h1v1h-1zM167.9 325.2h1v1h-1zM167.6 325.7h1v1h-1zM167.2 325.5h1v1h-1zM167.3 325.9h1v1h-1zM167 325.7h1v1h-1zM167.5 325.1h1v1h-1zM167.7 325.9h1v1h-1zM167.6 325.9h1v1h-1zM167.4 325.9h1v1h-1zM166.6 327h1v1h-1zM166.8 326.5h1v1h-1zM166.3 326.6h1v1h-1zM166.5 327h1v1h-1zM166.9 327.1h1v1h-1z"/>
<path fill="rgb(187,205,44)" fill-opacity="0.67" d="M167.7 330.1h1v1h-1zM167.6 329.6h1v1h-1zM167.3 329.9h1v1h-1zM167.2 329.2h1v1h-1zM167.5 329.5h1v1h-1zM167.4 329.5h1v1h-1zM167 329.6h1v1h-1zM166.9 330.1h1v1h-1zM167.5 329.4h1v1h-1zM167.1 330h1v1h-1zM167.4 329.1h1v1h-1zM167.1 330h1v1h-1zM167.1 329.9h1v1h-1zM167.1 329.6h1v1h-1zM166.9 329.8h1v1h-1zM167.7 330h1v1h-1zM166.9 329.3h1v1h-1zM166.6 329.7h1v1h-1zM166.8 329.4h1v1h-1zM166.2 329.4h1v1h-1zM166.5 329.2h1v1h-1zM166.8 329.9h1v1h-1zM166.4 329.7h1v1h-1zM166.5 329.8h1v1h-1zM166.3 329.1h1v1h-1zM165.9 329.1h1v1h-1zM166.4 329.9h1v1h-1zM166 329.6h1v1h-1zM166.2 329.3h1v1h-1zM166.3 330h1v1h-1zM166.5 330h1v1h-1zM166.1 329.9h1v1h-1zM166.5 329.3h1v1h-1zM166.3 329.8h1v1h-1zM166.3 328.1h1v1h-1zM166.3 327.5h1v1h-1zM166.1 327.3h1v1h-1zM166.2 327.5h1v1h-1zM166.9 327.5h1v1h-1zM166.4 328.1h1v1h-1zM166.5 328h1v1h-1zM166.9 327.2h1v1h-1zM166.7 327.7h1v1h-1zM165.9 328h1v1h-1zM166.4 327.6h1v1h-1zM166 327.7h1v1h-1zM165.9 327.6h1v1h-1zM166.5 327.3h1v1h-1zM167.1 326.8h1v1h-1zM167 326.1h1v1h-1zM167.5 326.2h1v1h-1zM167.7 327.1h1v1h-1zM167 326.5h1v1h-1zM167.7 326.2h1v1h-1zM167.5 326.9h1v1h-1zM167.2 326.2h1v1h-1zM167.2 327.1h1v1h-1zM167.1 327h1v1h-1zM167 326.1h1v1h-1zM167.3 326.8h1v1h-1zM167.8 326.4h1v1h-1zM167.4 326.8h1v1h-1zM167.2 326.5h1v1h-1zM167 326.9h1v1h-1zM167.6 326.8h1v1h-1zM167.5 326.5h1v1h-1zM166.9 326.3h1v1h-1zM167.7 328.8h1v1h-1zM167.2 328.5h1v1h-1zM167.2 328.3h1v1h-1zM167.4 328.6h1v1h-1zM167.5 329h1v1h-1zM167.3 328.8h1v1h-1zM167.5 328.9h1v1h-1zM166.9 328.7h1v1h-1zM167.8 328.5h1v1h-1zM167 328.8h1v1h-1zM167.1 328.3h1v1h-1zM166.5 329h1v1h-1zM166.5 328.2h1v1h-1zM166.3 328.3h1v1h-1zM166.4 328.8h1v1h-1zM166.1 328.5h1v1h-1zM166.9 329.1h1v1h-1zM166.4 328.6h1v1h-1zM166 328.1h1v1h-1zM166 328.8h1v1h-1zM165.9 328.7h1v1h-1zM166.7 328.3h1v1h-1zM166.1 328.4h1v1h-1zM166.7 328.5h1v1h-1zM166.4 328.8h1v1h-1zM166.1 328.6h1v1h-1zM166.3 328.1h1v1h-1zM166.1 328.4h1v1h-1zM166.6 329h1v1h-1zM166.2 329h1v1h-1zM166.4 328.6h1v1h-1zM167.2 328.1h1v1h-1zM167.4 327.7h1v1h-1zM167.1 327.7h1v1h-1zM167.7 327.4h1v1h-1zM167.3 327.5h1v1h-1zM167 327.3h1v1h-1zM167.7 327.2h1v1h-1zM167.4 327.4h1v1h-1zM167.7 327.4h1v1h-1zM167.1 327.8h1v1h-1zM167.5 328h1v1h-1zM167.5 327.5h1v1h-1zM167.1 327.3h1v1h-1z"/>
<path fill="rgb(87,88,213)" fill-opacity="0.36" d="M111 470.2h1v1h-1zM102.6 472.6h1v1h-1zM96.2 466.5h1v1h-1zM107.3 419.4h1v1h-1zM114.6 432.5h1v1h-1zM119.8 427.9h1v1h-1zM104.1 441.5h1v1h-1zM104.3 426.9h1v1h-1zM70.3 441.9h1v1h-1zM99.9 456.7h1v1h-1zM99.6 411.1h1v1h-1zM101.7 432.6h1v1h-1zM88.3 415.3h1v1h-1zM77 471.2h1v1h-1zM82.1 431h1v1h-1zM96.7 456h1v1h-1zM98.8 428.6h1v1h-1zM78.4 468.6h1v1h-1zM104.8 411.8h1v1h-1zM88.6 419.8h1v1h-1zM100.8 418.3h1v1h-1zM74.6 446.1h1v1h-1zM71.1 447.6h1v1h-1zM102 413.1h1v1h-1zM80.3 423.3h1v1h-1zM79.7 425.2h1v1h-1zM90.5 425.8h1v1h-1zM89.2 417.8h1v1h-1zM81.7 467.4h1v1h-1zM92.1 422.9h1v1h-1zM78.5 437.2h1v1h-1zM79.8 434h1v1h-1zM88.1 461.2h1v1h-1zM98.2 422.1h1v1h-1zM97 436.7h1v1h-1zM99 419.8h1v1h-1zM78.9 457h1v1h-1zM100 436.5h1v1h-1zM97.1 444.9h1v1h-1zM106.3 456.8h1v1h-1zM105.8 455.8h1v1h-1zM85.4 470.8h1v1h-1zM84.3 471h1v1h-1zM81.9 419.2h1v1h-1zM81 418.9h1v1h-1zM94.8 422.7h1v1h-1zM82.2 465.2h1v1h-1zM95 441.5h1v1h-1zM61.3 457.8h1v1h-1zM96.9 432.2h1v1h-1zM80.5 453.4h1v1h-1zM75.3 437.4h1v1h-1zM97.5 425.6h1v1h-1zM74.3 450h1v1h-1zM75.4 438.6h1v1h-1zM78.6 463.9h1v1h-1zM78 453.9h1v1h-1zM99.5 437.1h1v1h-1zM82.9 460.4h1v1h-1zM96.3 428.6h1v1h-1zM85.2 460.5h1v1h-1zM79.9 443.7h1v1h-1zM88.4 450.8h1v1h-1zM59.7 465.9h1v1h-1zM58.4 482.1h1v1h-1zM96.4 424.5h1v1h-1zM89.3 428.2h1v1h-1zM82.1 435.4h1v1h-1zM82.5 442.9h1v1h-1zM77.8 443.1h1v1h-1zM87.7 464.2h1v1h-1zM81.5 434.9h1v1h-1zM95.1 428.8h1v1h-1zM94.7 445.1h1v1h-1zM91.1 441.6h1v1h-1zM76.3 448.4h1v1h-1zM80.9 451.3h1v1h-1zM86 463.8h1v1h-1zM75.7 451.4h1v1h-1zM82.3 461.9h1v1h-1zM94.7 447.4h1v1h-1zM80.9 456.3h1v1h-1zM81.8 457.2h1v1h-1zM82.9 426.1h1v1h-1zM86.2 462.7h1v1h-1zM76.1 453.4h1v1h-1zM67.3 448.4h1v1h-1zM87.1 432.1h1v1h-1zM79.3 447h1v1h-1zM81.6 463.6h1v1h-1zM86.6 456.7h1v1h-1zM82.6 427.1h1v1h-1zM96.6 451h1v1h-1zM87.4 430.8h1v1h-1zM83.3 427.2h1v1h-1zM96.2 443.3h1v1h-1zM63.5 453.8h1v1h-1zM78.4 449.6h1v1h-1zM87.7 454h1v1h-1zM85.6 435.3h1v1h-1zM85.6 435.6h1v1h-1zM69.3 449.5h1v1h-1zM95.1 442.8h1v1h-1zM79.2 461.4h1v1h-1zM79.8 461.4h1v1h-1zM95.3 431.1h1v1h-1zM93.5 455h1v1h-1zM82.3 450.5h1v1h-1zM92.6 457.7h1v1h-1zM95 432.7h1v1h-1zM89.2 429.8h1v1h-1zM89 430.6h1v1h-1zM78 448.5h1v1h-1zM67.3 449.4h1v1h-1zM85.4 450.7h1v1h-1zM85.7 449.7h1v1h-1zM87.7 434.8h1v1h-1zM77.6 441.3h1v1h-1zM88.7 455.5h1v1h-1zM77.4 462h1v1h-1zM93.3 450.1h1v1h-1zM94.1 449.7h1v1h-1zM84.5 441.3h1v1h-1zM92.2 451.9h1v1h-1zM68.2 450.7h1v1h-1zM97.3 449.3h1v1h-1zM97 449h1v1h-1zM84.1 454.5h1v1h-1zM78.4 441.2h1v1h-1zM78.8 441.4h1v1h-1zM94.1 434.1h1v1h-1zM88.4 449.2h1v1h-1zM73.9 454h1v1h-1zM91.1 446.7h1v1h-1zM93.5 438.1h1v1h-1zM75.1 465.8h1v1h-1zM91.3 449h1v1h-1zM75.1 454.8h1v1h-1zM96.5 449.5h1v1h-1zM85.1 456.5h1v1h-1zM92.8 456.5h1v1h-1zM59.7 481.2h1v1h-1zM88.2 439.2h1v1h-1zM90.2 456.6h1v1h-1zM90.4 456.5h1v1h-1zM61.6 462.5h1v1h-1zM91 453.4h1v1h-1zM91.7 452.7h1v1h-1zM83.9 455.2h1v1h-1zM84.7 454.9h1v1h-1zM82.2 448.5h1v1h-1zM90.3 454h1v1h-1zM66.2 452.8h1v1h-1zM91.7 447.9h1v1h-1zM68.1 452.1h1v1h-1zM91.5 447h1v1h-1zM93.2 434.5h1v1h-1zM93.6 437h1v1h-1zM93 436.9h1v1h-1zM61.9 484.8h1v1h-1zM75.7 457.2h1v1h-1zM82.2 446.1h1v1h-1zM82.7 445.9h1v1h-1zM83.2 447.8h1v1h-1zM84.9 441h1v1h-1zM89.1 442.2h1v1h-1zM89 447.1h1v1h-1zM88.9 447.2h1v1h-1zM89.8 434.7h1v1h-1zM92.2 434.4h1v1h-1zM89 441.4h1v1h-1zM87.9 447.5h1v1h-1zM87.2 440.2h1v1h-1zM90.5 436.8h1v1h-1zM91.2 434.5h1v1h-1zM83.3 446.5h1v1h-1zM61.7 484.6h1v1h-1zM61.3 484.5h1v1h-1zM72.2 454.1h1v1h-1zM88.6 444.6h1v1h-1zM88 444h1v1h-1zM89.5 436.5h1v1h-1zM89.2 436.1h1v1h-1zM86.3 441.2h1v1h-1zM86.2 441.2h1v1h-1zM64.1 455.5h1v1h-1zM63.1 484.4h1v1h-1zM92.6 436.3h1v1h-1zM85.9 443.3h1v1h-1zM67.1 481.2h1v1h-1zM88.1 441.7h1v1h-1zM88.5 441.5h1v1h-1zM84.1 446.1h1v1h-1zM61.7 483.3h1v1h-1zM86.7 447.6h1v1h-1zM86.6 447.1h1v1h-1zM85.1 446.9h1v1h-1zM62.6 484.4h1v1h-1zM75.7 463.6h1v1h-1zM90.1 435.2h1v1h-1zM74.9 461.8h1v1h-1zM85.9 444.4h1v1h-1zM63.6 458.3h1v1h-1zM86.9 444.4h1v1h-1zM89.9 436.1h1v1h-1zM91 436.1h1v1h-1zM85.6 446.5h1v1h-1zM70.5 452.9h1v1h-1zM64.4 482.8h1v1h-1zM86.5 445.1h1v1h-1zM86.5 445.5h1v1h-1zM73.1 469.6h1v1h-1zM69.1 453.4h1v1h-1zM74.1 457.4h1v1h-1zM65.5 482.4h1v1h-1zM60.3 479.9h1v1h-1zM60.5 474.9h1v1h-1zM65.7 455h1v1h-1zM62.2 481.8h1v1h-1zM74.6 460.5h1v1h-1zM60.9 466h1v1h-1zM70.1 454.3h1v1h-1zM70.2 454.1h1v1h-1zM70.4 454.1h1v1h-1zM64.7 481.8h1v1h-1zM69.1 454.6h1v1h-1zM67.1 480.1h1v1h-1zM74.5 461.1h1v1h-1zM71.4 474.1h1v1h-1zM71.2 473.8h1v1h-1zM70.8 473.8h1v1h-1zM74.1 464.5h1v1h-1zM62.9 482.5h1v1h-1zM74.6 463.7h1v1h-1zM66 455.2h1v1h-1zM66.1 454.9h1v1h-1zM73.5 457h1v1h-1zM73.3 457.6h1v1h-1zM60.8 477.4h1v1h-1zM60 477.1h1v1h-1zM71.8 456.3h1v1h-1z"/>
<path fill="rgb(70,74,208)" fill-opacity="0.39" d="M60.1 478.2h1v1h-1zM60.6 478.5h1v1h-1zM64.2 457.7h1v1h-1zM67.1 454.7h1v1h-1zM71 473.7h1v1h-1zM71.5 473.5h1v1h-1zM72.7 470.2h1v1h-1zM65.9 480h1v1h-1zM61.5 470.4h1v1h-1zM73.2 458.6h1v1h-1zM61.8 472.2h1v1h-1zM62 464.7h1v1h-1zM64.5 480.8h1v1h-1zM61 474.3h1v1h-1zM68.9 477.2h1v1h-1zM69.2 477.2h1v1h-1zM63 481.6h1v1h-1zM63.7 481.7h1v1h-1zM68.8 455.7h1v1h-1zM72.8 459.4h1v1h-1zM61.7 478.9h1v1h-1zM61.5 479h1v1h-1zM70.9 455.9h1v1h-1zM71.5 455.9h1v1h-1zM65.3 457.6h1v1h-1zM73.2 459.9h1v1h-1zM66.6 456.4h1v1h-1zM66.7 456.3h1v1h-1zM67.5 478.9h1v1h-1zM67.5 478.7h1v1h-1zM63.1 462h1v1h-1zM72.9 465.1h1v1h-1zM73.4 465.1h1v1h-1zM61.5 475.9h1v1h-1zM64 460.7h1v1h-1zM68.5 478.7h1v1h-1zM68.2 478.2h1v1h-1zM68.1 478.5h1v1h-1zM62.6 465.3h1v1h-1zM73.2 460.8h1v1h-1zM73.1 461h1v1h-1zM61.7 478.3h1v1h-1zM61 478h1v1h-1zM61.3 478h1v1h-1zM61.4 477.3h1v1h-1zM72.2 467.7h1v1h-1zM67.3 456.2h1v1h-1zM67.3 456.1h1v1h-1zM62.1 466.9h1v1h-1zM64.2 479.9h1v1h-1zM64.3 480.1h1v1h-1zM64.1 479.9h1v1h-1zM65.4 457.8h1v1h-1zM64.9 458h1v1h-1zM63.5 479.9h1v1h-1zM62.9 480.5h1v1h-1zM63.2 480.6h1v1h-1zM63.3 479.7h1v1h-1zM70.6 456h1v1h-1zM72.5 458.2h1v1h-1zM72.5 458.3h1v1h-1zM71.9 458.4h1v1h-1zM62.4 468.3h1v1h-1zM70.9 471.4h1v1h-1zM70.9 471.3h1v1h-1zM71 470.7h1v1h-1zM66.2 479.7h1v1h-1zM61.8 479.4h1v1h-1zM62.5 479.4h1v1h-1zM69.5 456.6h1v1h-1zM69.4 456.3h1v1h-1zM69.7 456.2h1v1h-1zM71.6 457.3h1v1h-1zM65.9 457.3h1v1h-1zM66.8 457.6h1v1h-1zM69.8 473.3h1v1h-1zM65.3 458.9h1v1h-1zM65.2 459.4h1v1h-1zM64.5 461.2h1v1h-1zM64.1 460.9h1v1h-1zM64.8 461.3h1v1h-1zM64.8 461.4h1v1h-1zM62.4 469.3h1v1h-1zM62.7 469.7h1v1h-1zM71.9 459.3h1v1h-1z"/>
<path fill="rgb(55,64,203)" fill-opacity="0.43" d="M65.5 479.2h1v1h-1zM71.9 465.9h1v1h-1zM72 466.5h1v1h-1zM62.4 477.8h1v1h-1zM67.4 478.3h1v1h-1zM67.3 478.4h1v1h-1zM63.4 478.8h1v1h-1zM62.9 479.6h1v1h-1zM62.6 470.2h1v1h-1zM63.6 463.8h1v1h-1zM63.1 464h1v1h-1zM64.6 479.3h1v1h-1zM62.2 477.1h1v1h-1zM62.1 476.4h1v1h-1zM71.4 468.8h1v1h-1zM71.5 469h1v1h-1zM71.3 469.5h1v1h-1zM62.6 472.5h1v1h-1zM62.1 475.4h1v1h-1zM62.7 475.6h1v1h-1zM62.2 474.8h1v1h-1zM62.4 470.9h1v1h-1zM62.4 471.4h1v1h-1zM62.6 471.5h1v1h-1zM71.1 458.7h1v1h-1zM71.5 458h1v1h-1zM71.1 468.6h1v1h-1zM71.4 468.1h1v1h-1zM66.1 457.8h1v1h-1zM66 458.1h1v1h-1zM72.6 461.3h1v1h-1zM72.5 461.2h1v1h-1zM64.7 462.4h1v1h-1zM64.5 462h1v1h-1zM63.6 478.6h1v1h-1zM63.2 478.3h1v1h-1zM63.1 478.1h1v1h-1zM63.8 478.2h1v1h-1zM72.2 465.7h1v1h-1zM63.7 465.6h1v1h-1zM63 465h1v1h-1zM62.8 465h1v1h-1zM68 457.1h1v1h-1zM65.9 478.5h1v1h-1zM69.5 457.6h1v1h-1zM69.2 457.5h1v1h-1zM69.6 457.1h1v1h-1zM69.4 457.5h1v1h-1zM69.6 457.3h1v1h-1zM69.7 457.2h1v1h-1zM69.2 474.5h1v1h-1zM69.2 474h1v1h-1zM72.2 461.9h1v1h-1zM71.6 467.2h1v1h-1zM70.9 467.7h1v1h-1zM71.1 459.7h1v1h-1zM71.6 459.5h1v1h-1zM70.9 458.9h1v1h-1zM66.5 459.6h1v1h-1zM66.2 458.9h1v1h-1zM65.9 459.7h1v1h-1zM66.1 459.1h1v1h-1zM63.2 466.4h1v1h-1zM63 466.6h1v1h-1zM63.4 466.1h1v1h-1zM63.4 466h1v1h-1zM63.2 466.3h1v1h-1zM62.9 465.8h1v1h-1zM68.2 475.8h1v1h-1zM68 476.4h1v1h-1zM64.2 478h1v1h-1zM64.1 478.3h1v1h-1zM64 478.2h1v1h-1zM65.1 478.1h1v1h-1zM65.3 478h1v1h-1zM65 477.8h1v1h-1zM63.2 467h1v1h-1zM72.7 463.9h1v1h-1zM72.8 464.2h1v1h-1zM72.4 464.1h1v1h-1zM72.2 463.1h1v1h-1zM72.1 463.7h1v1h-1zM72.4 462.9h1v1h-1zM63.1 477.3h1v1h-1zM63.6 477.7h1v1h-1zM65.1 460.7h1v1h-1zM66.9 477.5h1v1h-1zM63.4 468h1v1h-1zM69.9 458.4h1v1h-1zM69.8 458.6h1v1h-1zM70.8 457.9h1v1h-1zM70.3 458.2h1v1h-1zM69.9 457.9h1v1h-1zM70.5 458.4h1v1h-1z"/>
<path fill="rgb(43,62,198)" fill-opacity="0.46" d="M69.9 471.4h1v1h-1zM70.1 471h1v1h-1zM66.8 458.6h1v1h-1zM67.3 458.5h1v1h-1zM67.3 458.3h1v1h-1zM67.3 458.2h1v1h-1zM67.1 458h1v1h-1zM67.2 458.6h1v1h-1zM64.7 463.3h1v1h-1zM71 460.1h1v1h-1zM71 459.8h1v1h-1zM69.4 472.8h1v1h-1zM68.9 473.6h1v1h-1zM66.7 460.5h1v1h-1zM63.1 469.1h1v1h-1zM63.5 469.1h1v1h-1zM62.8 476.5h1v1h-1zM63.1 476.4h1v1h-1zM63.1 475.7h1v1h-1zM63.3 476h1v1h-1zM69.6 457.9h1v1h-1zM69.7 458.1h1v1h-1zM71.4 466.3h1v1h-1zM71 466.2h1v1h-1zM68.5 458.4h1v1h-1zM68.6 458h1v1h-1zM67.9 458.1h1v1h-1zM68.7 457.9h1v1h-1zM69.9 459.2h1v1h-1zM70.7 459.5h1v1h-1zM70.6 458.7h1v1h-1zM70.1 459.2h1v1h-1zM64.3 477.4h1v1h-1zM64.3 477.4h1v1h-1zM63.9 477h1v1h-1zM64.2 477.5h1v1h-1zM63.1 475h1v1h-1zM63.2 475.5h1v1h-1zM63.7 475.7h1v1h-1zM67 459.1h1v1h-1zM67.6 459.4h1v1h-1zM67.8 459.6h1v1h-1zM67.6 459h1v1h-1zM69.9 470.2h1v1h-1zM70.3 470.4h1v1h-1zM63.6 470.3h1v1h-1zM63.4 470.2h1v1h-1zM63.2 470h1v1h-1zM63.2 469.8h1v1h-1zM63.5 470.4h1v1h-1zM66.5 477.7h1v1h-1zM66.1 477.4h1v1h-1zM66 477.1h1v1h-1zM66 477.1h1v1h-1zM66.4 477.5h1v1h-1zM66.5 477.6h1v1h-1zM66.6 477.1h1v1h-1zM65.9 477.1h1v1h-1zM68.6 474.8h1v1h-1zM68 475.5h1v1h-1zM68.5 475.2h1v1h-1zM68.6 475.1h1v1h-1zM68.4 474.8h1v1h-1zM68.6 475.1h1v1h-1zM68.4 475.3h1v1h-1zM68 474.9h1v1h-1zM71 461.6h1v1h-1zM71.1 461.1h1v1h-1zM71.4 461.7h1v1h-1zM71.6 460.7h1v1h-1zM70.8 461.1h1v1h-1zM64.6 464h1v1h-1zM64.2 464.6h1v1h-1zM62.9 474.2h1v1h-1zM63.6 474.7h1v1h-1zM62.9 474.7h1v1h-1zM63.3 473.8h1v1h-1zM62.9 473.8h1v1h-1zM63.6 470.9h1v1h-1zM63.2 470.9h1v1h-1zM63.1 471.3h1v1h-1zM63.8 471.2h1v1h-1zM62.9 473.5h1v1h-1zM63.5 473.3h1v1h-1zM63.5 473.1h1v1h-1zM62.9 473.6h1v1h-1zM63.4 473.6h1v1h-1zM70.3 469.2h1v1h-1zM70.7 469h1v1h-1zM70.1 469h1v1h-1zM70.7 469.2h1v1h-1zM70.6 468.9h1v1h-1zM70.5 468.7h1v1h-1zM63.5 471.9h1v1h-1zM63.6 472.6h1v1h-1zM63.7 471.8h1v1h-1zM65.5 476.7h1v1h-1zM64.9 477.4h1v1h-1zM65.4 477h1v1h-1zM70.6 468.5h1v1h-1zM65.5 462.2h1v1h-1zM65 462.6h1v1h-1zM65.4 461.8h1v1h-1zM65.1 462.2h1v1h-1zM65.5 462h1v1h-1zM65 462.3h1v1h-1zM67.6 476.2h1v1h-1zM67.1 476.4h1v1h-1zM67.6 475.9h1v1h-1zM66.9 476.6h1v1h-1zM69.6 459.6h1v1h-1zM69.6 459.7h1v1h-1zM68.7 459.6h1v1h-1zM68.4 459.6h1v1h-1zM68.5 459.6h1v1h-1zM68.3 459.7h1v1h-1zM67.9 459.2h1v1h-1zM68.2 459.1h1v1h-1zM68.6 459.2h1v1h-1zM70.4 459.8h1v1h-1zM69.9 460.6h1v1h-1zM70.2 460.3h1v1h-1z"/>
<path fill="rgb(34,76,199)" fill-opacity="0.50" d="M66.6 461.3h1v1h-1zM66.1 461.1h1v1h-1zM64.1 465.5h1v1h-1zM63.9 465.3h1v1h-1zM71.2 465.3h1v1h-1zM71.3 465.1h1v1h-1zM71.1 465.4h1v1h-1zM71.7 465.5h1v1h-1zM71.5 465.3h1v1h-1zM67.7 460.2h1v1h-1zM67.1 460.5h1v1h-1zM71.4 462.3h1v1h-1zM70.9 462.1h1v1h-1zM70.8 462.1h1v1h-1zM70.9 461.9h1v1h-1zM71.4 462.7h1v1h-1zM64.5 476.6h1v1h-1zM64.6 475.8h1v1h-1zM64.5 476h1v1h-1zM64.5 476.2h1v1h-1zM68.2 474.5h1v1h-1zM68.6 473.7h1v1h-1zM68.7 474.5h1v1h-1zM70.3 467.2h1v1h-1zM64 466.1h1v1h-1zM64.7 466.6h1v1h-1zM64.8 465.9h1v1h-1zM64.4 467.6h1v1h-1zM64.2 467.5h1v1h-1zM71.2 463.5h1v1h-1zM70.8 463.4h1v1h-1zM71.7 463.5h1v1h-1zM71.8 463.8h1v1h-1zM71.7 463.8h1v1h-1zM71.8 464.4h1v1h-1zM71.1 464.7h1v1h-1zM71.2 464h1v1h-1zM70.8 464.5h1v1h-1zM63.9 468.1h1v1h-1zM64.4 468.2h1v1h-1zM64.1 468.4h1v1h-1zM64.2 468.3h1v1h-1zM69 460.6h1v1h-1zM69.2 460.4h1v1h-1zM69.7 460h1v1h-1zM69.5 460.3h1v1h-1zM68.8 460.1h1v1h-1zM68.7 460.4h1v1h-1zM66.5 475.8h1v1h-1zM66.3 476.3h1v1h-1zM69.7 471.1h1v1h-1zM69.7 470.9h1v1h-1zM69.2 471.4h1v1h-1zM69.5 470.7h1v1h-1zM65.5 476.6h1v1h-1zM64.9 475.7h1v1h-1zM65.8 476.2h1v1h-1zM64.9 476.5h1v1h-1zM64.9 476.1h1v1h-1zM70.3 460.7h1v1h-1zM70 461.1h1v1h-1zM70.5 460.7h1v1h-1zM70.3 461.2h1v1h-1zM69.9 461.4h1v1h-1zM64.7 474.9h1v1h-1zM64.2 475.5h1v1h-1zM64.4 475.1h1v1h-1zM64.1 475h1v1h-1zM64.8 474.8h1v1h-1zM64.5 469.4h1v1h-1zM64.5 469.7h1v1h-1zM64.3 469h1v1h-1zM64.4 469.1h1v1h-1zM64.8 469.2h1v1h-1zM64.8 469.6h1v1h-1zM65.4 463.3h1v1h-1zM65.6 463.6h1v1h-1zM65.2 463.5h1v1h-1zM65 462.9h1v1h-1zM64.9 463h1v1h-1zM68 473.5h1v1h-1zM68.5 473.4h1v1h-1zM68.1 473.4h1v1h-1zM68.3 473.1h1v1h-1zM68.7 472.9h1v1h-1zM67.4 475.7h1v1h-1zM67 474.9h1v1h-1zM67 475.1h1v1h-1zM67.1 475.3h1v1h-1zM67.5 475.4h1v1h-1zM67.5 475.7h1v1h-1zM67.8 461.3h1v1h-1zM67.3 461.2h1v1h-1zM67.1 461h1v1h-1zM64.4 473.8h1v1h-1zM64.3 474h1v1h-1zM63.8 474.5h1v1h-1zM64.7 473.7h1v1h-1zM64.4 470.5h1v1h-1zM64.7 470h1v1h-1zM64.8 470.1h1v1h-1zM69.9 466.3h1v1h-1zM70 466.4h1v1h-1zM70 466.1h1v1h-1zM70.1 465.9h1v1h-1z"/>
<path fill="rgb(31,130,210)" fill-opacity="0.53" d="M64.1 473.2h1v1h-1zM64.3 473.3h1v1h-1zM64.5 472.9h1v1h-1zM64.6 473.7h1v1h-1zM64.5 473.5h1v1h-1zM64.5 470.8h1v1h-1zM64.3 471h1v1h-1zM64.4 471.5h1v1h-1zM64.3 471.5h1v1h-1zM64.5 470.9h1v1h-1zM64.3 472.3h1v1h-1zM64.8 472.6h1v1h-1zM63.9 472.6h1v1h-1zM64.2 472.2h1v1h-1zM65.9 461.8h1v1h-1zM65.8 462.5h1v1h-1zM66.5 462.1h1v1h-1zM68.8 470.2h1v1h-1zM69.5 470.5h1v1h-1zM69.3 470.2h1v1h-1zM69.7 470.5h1v1h-1zM68.9 470.5h1v1h-1zM69.3 470h1v1h-1zM69.3 470.3h1v1h-1zM69.2 470h1v1h-1zM69.6 470.3h1v1h-1zM69.4 470h1v1h-1zM69.4 461.1h1v1h-1zM69.6 461.4h1v1h-1zM69.8 461.4h1v1h-1zM69.5 461.1h1v1h-1zM69.2 461h1v1h-1zM70.5 461.9h1v1h-1zM70.5 462.5h1v1h-1zM69.8 461.8h1v1h-1zM65.6 464h1v1h-1zM65.7 463.7h1v1h-1zM65.3 475.4h1v1h-1zM65.7 474.7h1v1h-1zM65.2 474.9h1v1h-1zM65.3 475.6h1v1h-1zM65.5 475.7h1v1h-1zM69 468.7h1v1h-1zM69.6 469.6h1v1h-1zM69 468.8h1v1h-1zM69.2 468.9h1v1h-1zM67.8 471.8h1v1h-1zM68.8 472.1h1v1h-1zM68.2 472.5h1v1h-1zM68.7 472.5h1v1h-1zM68.1 472.4h1v1h-1zM68.5 461h1v1h-1zM67.9 460.9h1v1h-1zM68.1 461.1h1v1h-1zM68 461.6h1v1h-1zM68.2 461.2h1v1h-1zM68.4 460.8h1v1h-1zM68.2 461.1h1v1h-1zM66.4 475.2h1v1h-1zM66.5 475.4h1v1h-1zM66.8 475.2h1v1h-1zM66.6 475h1v1h-1zM66.7 475.4h1v1h-1zM66.2 475.2h1v1h-1zM66.5 475.2h1v1h-1zM65.8 475.1h1v1h-1zM68.9 468.5h1v1h-1zM68.9 468.6h1v1h-1zM67.4 474.5h1v1h-1zM67.1 474.1h1v1h-1zM67.5 474.5h1v1h-1zM65.4 465.4h1v1h-1zM65.2 465.6h1v1h-1zM65.7 465.3h1v1h-1zM65.7 465.3h1v1h-1zM65.1 464.8h1v1h-1zM65.1 464.8h1v1h-1zM65 465h1v1h-1zM65.3 465.5h1v1h-1zM65.1 464.8h1v1h-1zM70.6 465.6h1v1h-1zM70.5 464.8h1v1h-1zM65.1 466h1v1h-1zM65.7 465.8h1v1h-1zM65.4 466.5h1v1h-1zM65 465.8h1v1h-1zM65.1 466.2h1v1h-1zM65.4 467.5h1v1h-1zM65.2 467.5h1v1h-1zM65.5 467.6h1v1h-1zM65.5 467h1v1h-1zM65.1 467.1h1v1h-1zM65.6 466.9h1v1h-1zM65.5 466.8h1v1h-1zM64.9 466.9h1v1h-1zM69.9 463.5h1v1h-1zM70.7 463h1v1h-1zM70.4 463.4h1v1h-1zM70.1 463.2h1v1h-1zM69.9 463.2h1v1h-1zM70.2 463.3h1v1h-1zM70.4 463.1h1v1h-1zM70.2 463.5h1v1h-1zM65.3 474.3h1v1h-1zM65.5 474.1h1v1h-1zM65.6 473.8h1v1h-1zM65.4 474.6h1v1h-1zM64.9 474h1v1h-1zM64.8 474.2h1v1h-1zM69 467.2h1v1h-1zM69.6 467h1v1h-1zM69.2 467h1v1h-1zM68.9 467.5h1v1h-1zM65.7 468h1v1h-1zM65.3 467.8h1v1h-1zM65.6 468.6h1v1h-1zM65.3 468.2h1v1h-1zM65.3 467.8h1v1h-1zM67.8 473.3h1v1h-1zM67.4 473.7h1v1h-1zM67.4 472.7h1v1h-1zM67.2 473.6h1v1h-1zM67.7 472.7h1v1h-1zM67.2 473.4h1v1h-1zM67.2 473.2h1v1h-1zM66.9 473.1h1v1h-1z"/>
<path fill="rgb(33,164,186)" fill-opacity="0.57" d="M70.1 464.4h1v1h-1zM70.6 464.2h1v1h-1zM70.1 464.6h1v1h-1zM70.2 464.2h1v1h-1zM70.4 464.6h1v1h-1zM70.4 463.7h1v1h-1zM69.8 463.9h1v1h-1zM66.1 474h1v1h-1zM66.3 474.2h1v1h-1zM66.2 474h1v1h-1zM66.2 473.9h1v1h-1zM65.9 473.8h1v1h-1zM66.7 474h1v1h-1zM66.3 474.6h1v1h-1zM68 471.5h1v1h-1zM68.2 471.6h1v1h-1zM68 470.8h1v1h-1zM68.4 471.4h1v1h-1zM68.5 471.6h1v1h-1zM68.1 471.2h1v1h-1zM68.5 471.3h1v1h-1zM67.4 462h1v1h-1zM67.4 462.3h1v1h-1zM67.7 462.1h1v1h-1zM66.9 462.4h1v1h-1zM67.3 461.9h1v1h-1zM67.6 462.2h1v1h-1zM66.8 462.3h1v1h-1zM64.9 468.8h1v1h-1zM65.6 468.9h1v1h-1zM64.9 468.8h1v1h-1zM65.3 473.2h1v1h-1zM65.4 472.7h1v1h-1zM65 472.8h1v1h-1zM65.6 473.2h1v1h-1zM65.1 472.7h1v1h-1zM65 473.4h1v1h-1zM65.7 473.1h1v1h-1zM69.5 462.1h1v1h-1zM69.2 462.6h1v1h-1zM68.9 462.6h1v1h-1zM69.3 462.2h1v1h-1zM69.4 462.3h1v1h-1zM69.3 462.6h1v1h-1zM66.7 463.5h1v1h-1zM66.4 463.4h1v1h-1zM66.7 463.2h1v1h-1zM66.3 463.1h1v1h-1zM66.4 463.1h1v1h-1zM66.2 463.6h1v1h-1zM66.6 463.5h1v1h-1zM66.7 463.6h1v1h-1zM65.8 463.7h1v1h-1zM65 472.6h1v1h-1zM65.6 472.5h1v1h-1zM65.7 472.3h1v1h-1zM65.5 472.2h1v1h-1zM65 470.7h1v1h-1zM65.4 470.2h1v1h-1zM65.4 470.2h1v1h-1zM65.4 470.6h1v1h-1zM65.1 470.2h1v1h-1zM65.7 469.8h1v1h-1zM65.1 470.8h1v1h-1zM65.3 470.7h1v1h-1zM65 471.6h1v1h-1zM65.5 471.5h1v1h-1zM64.9 471.1h1v1h-1zM65.8 471.4h1v1h-1zM65.7 471.1h1v1h-1zM68.3 462.6h1v1h-1zM68.8 462.5h1v1h-1zM68 462.1h1v1h-1zM68.5 462.3h1v1h-1zM68.7 462.7h1v1h-1zM68.3 461.9h1v1h-1zM68.4 462.5h1v1h-1zM68.1 462.6h1v1h-1zM68.2 461.9h1v1h-1zM67.8 461.9h1v1h-1zM66.4 473.1h1v1h-1zM66.1 473.6h1v1h-1zM66.2 473.5h1v1h-1zM66.6 473.6h1v1h-1zM66.4 473.1h1v1h-1zM66.2 473.2h1v1h-1zM66.1 472.9h1v1h-1zM66.6 473h1v1h-1zM66.8 472.4h1v1h-1zM67.6 471.7h1v1h-1zM67.8 472.4h1v1h-1zM66.9 472.6h1v1h-1zM68.3 470.3h1v1h-1zM68.8 469.9h1v1h-1zM67.9 470.5h1v1h-1zM67.9 469.8h1v1h-1zM68.6 470.4h1v1h-1zM67.9 470.1h1v1h-1zM69 466.2h1v1h-1zM69.5 466.1h1v1h-1zM68.9 466.1h1v1h-1zM69.4 466.3h1v1h-1zM69.5 465.9h1v1h-1zM69 465.9h1v1h-1zM69.2 466.6h1v1h-1zM69 466.4h1v1h-1zM68.6 469.6h1v1h-1zM68.1 469h1v1h-1zM68.5 469.7h1v1h-1zM68.6 468.8h1v1h-1zM68 468.6h1v1h-1zM68 468.5h1v1h-1zM67.9 467.9h1v1h-1zM68 468.4h1v1h-1zM68 468.2h1v1h-1zM68.6 468.2h1v1h-1zM67.8 468h1v1h-1zM66.1 472.2h1v1h-1zM66.5 471.9h1v1h-1zM66.1 471.9h1v1h-1zM66.4 471.9h1v1h-1zM66.3 472.5h1v1h-1zM66.7 472.7h1v1h-1zM66.3 472.4h1v1h-1zM66 472.2h1v1h-1zM66.2 464.3h1v1h-1zM66.3 463.9h1v1h-1zM66.3 464.6h1v1h-1zM66.4 464.2h1v1h-1zM66.8 464.2h1v1h-1zM66.6 464.3h1v1h-1zM66.6 464.5h1v1h-1zM66.3 463.9h1v1h-1zM66.4 464.1h1v1h-1zM69.4 463.1h1v1h-1zM69.2 463.1h1v1h-1zM69.3 463.2h1v1h-1zM69.4 463.2h1v1h-1zM68.9 463.4h1v1h-1z"/>
<path fill="rgb(39,186,139)" fill-opacity="0.60" d="M66.3 467.7h1v1h-1zM66.7 467.1h1v1h-1zM66.3 467.4h1v1h-1zM65.8 467.1h1v1h-1zM66.5 467.3h1v1h-1zM65.9 467.6h1v1h-1zM66.4 467h1v1h-1zM66.7 467.6h1v1h-1zM66.8 466.9h1v1h-1zM66.6 467.1h1v1h-1zM66.5 468.6h1v1h-1zM66.2 468h1v1h-1zM65.9 468.4h1v1h-1zM66.7 467.9h1v1h-1zM67.5 470.9h1v1h-1zM67.5 471h1v1h-1zM67.2 471.1h1v1h-1zM67.6 471.2h1v1h-1zM67.5 471.4h1v1h-1zM66.9 471.6h1v1h-1zM67.3 471.2h1v1h-1zM67.5 471.2h1v1h-1zM67 471.6h1v1h-1zM66.7 466.5h1v1h-1zM66 466.5h1v1h-1zM66.7 466.1h1v1h-1zM66.7 465.6h1v1h-1zM66.3 464.8h1v1h-1zM66.5 464.9h1v1h-1zM65.9 465.3h1v1h-1zM66.4 465h1v1h-1zM66.2 465.4h1v1h-1zM66.5 465.6h1v1h-1zM66.4 470.7h1v1h-1zM65.8 470.8h1v1h-1zM66.3 471.1h1v1h-1zM66.1 471.5h1v1h-1zM66.3 471h1v1h-1zM66.1 471.5h1v1h-1zM66.2 470.8h1v1h-1zM68.7 467h1v1h-1zM68 466.7h1v1h-1zM68.3 467.3h1v1h-1zM68.5 467.3h1v1h-1zM67.9 466.7h1v1h-1zM68 466.7h1v1h-1zM68.2 466.8h1v1h-1zM68.3 467.5h1v1h-1zM67.6 463.3h1v1h-1zM67.2 463.3h1v1h-1zM67.1 463.4h1v1h-1zM67.7 462.9h1v1h-1zM67.5 463h1v1h-1zM67.4 463.2h1v1h-1zM67.5 463.2h1v1h-1zM67.4 463.6h1v1h-1zM67.5 463.1h1v1h-1zM67.5 462.8h1v1h-1zM66.7 469.4h1v1h-1zM66.3 469.1h1v1h-1zM66.3 469.4h1v1h-1zM66.6 469.3h1v1h-1zM65.8 468.7h1v1h-1zM66.1 469.4h1v1h-1zM66.5 468.8h1v1h-1zM66 469.6h1v1h-1zM66.1 468.9h1v1h-1zM65.8 470.2h1v1h-1zM66.5 469.7h1v1h-1zM66.5 470.1h1v1h-1zM66.4 470.4h1v1h-1zM66.2 469.8h1v1h-1zM66.5 470.1h1v1h-1zM65.9 470.3h1v1h-1zM68.9 465.4h1v1h-1zM69.6 465.4h1v1h-1zM69.4 464.7h1v1h-1zM69.3 464.9h1v1h-1zM69 465.3h1v1h-1zM69.5 465.6h1v1h-1zM69 465.3h1v1h-1zM69.6 463.8h1v1h-1zM68.9 463.9h1v1h-1zM69.4 464.3h1v1h-1zM68.9 464.1h1v1h-1zM69.4 463.9h1v1h-1zM69.3 464.6h1v1h-1zM69.2 464h1v1h-1zM69.1 463.7h1v1h-1zM69 463.9h1v1h-1zM67.7 468.5h1v1h-1zM67.1 468.4h1v1h-1zM67.3 468.2h1v1h-1zM67.6 468.3h1v1h-1zM67.1 468h1v1h-1zM67.6 467.8h1v1h-1zM67.8 468.6h1v1h-1zM66.9 468.1h1v1h-1zM66.8 470.2h1v1h-1zM67.4 470.1h1v1h-1zM67 469.7h1v1h-1zM66.9 470.6h1v1h-1zM67.5 469.7h1v1h-1zM67.7 470h1v1h-1zM67.5 470.4h1v1h-1zM67.3 470.1h1v1h-1zM67.5 469.7h1v1h-1zM67.3 470.5h1v1h-1zM68.7 463.3h1v1h-1zM68.1 463.6h1v1h-1zM68.3 463.2h1v1h-1zM67.6 469.2h1v1h-1zM67 469.2h1v1h-1zM67.6 468.9h1v1h-1zM67.2 469.4h1v1h-1zM67.2 469.6h1v1h-1zM67.2 469.4h1v1h-1zM67 468.7h1v1h-1zM67.2 468.9h1v1h-1zM67.3 469.5h1v1h-1zM67.4 469.3h1v1h-1zM67 469.5h1v1h-1zM67.7 466.9h1v1h-1zM67.4 467h1v1h-1zM67.4 466.8h1v1h-1zM67.1 467.5h1v1h-1zM67.5 467.6h1v1h-1zM67 467.2h1v1h-1zM68.7 466.2h1v1h-1zM68.4 466h1v1h-1zM68.3 466.1h1v1h-1zM68.3 465.8h1v1h-1zM68.6 466.5h1v1h-1zM68.2 465.8h1v1h-1zM68 466.4h1v1h-1zM68.3 466.2h1v1h-1zM68 465.8h1v1h-1zM68.2 466.1h1v1h-1zM67.6 466.4h1v1h-1zM67.3 465.9h1v1h-1zM67.5 466.4h1v1h-1zM67 466h1v1h-1zM67.2 466.4h1v1h-1zM67.1 465.8h1v1h-1zM66.9 466h1v1h-1zM67.5 464.6h1v1h-1zM67 463.8h1v1h-1zM67.6 464.2h1v1h-1zM67.2 464.4h1v1h-1zM67.3 463.9h1v1h-1zM67.2 464.4h1v1h-1z"/>
<path fill="rgb(75,197,95)" fill-opacity="0.64" d="M67.5 465.2h1v1h-1zM67.4 465.1h1v1h-1zM67.3 465.2h1v1h-1zM67.1 465.4h1v1h-1zM67.2 465.5h1v1h-1zM67.4 465h1v1h-1zM68.6 463.8h1v1h-1zM68 464.4h1v1h-1zM67.9 463.8h1v1h-1zM68.3 463.8h1v1h-1zM68.1 464.2h1v1h-1zM68.2 464.4h1v1h-1zM68 463.7h1v1h-1zM68.1 463.8h1v1h-1zM68.8 464h1v1h-1zM68 464.1h1v1h-1zM68.6 465.5h1v1h-1zM68 465.6h1v1h-1zM68.7 465.1h1v1h-1zM68.4 465.7h1v1h-1zM67.8 465.6h1v1h-1zM67.9 464.9h1v1h-1zM68.6 465.1h1v1h-1zM68 464.9h1v1h-1zM68.3 464.8h1v1h-1zM68.6 465.3h1v1h-1zM68 465.5h1v1h-1zM68 464.9h1v1h-1zM68.7 465h1v1h-1zM68.4 465.1h1v1h-1zM68.7 464.8h1v1h-1zM68.1 465.1h1v1h-1z"/>
<path fill="rgb(87,88,213)" fill-opacity="0.39" d="M214.7 458h1v1h-1zM216.5 427.1h1v1h-1zM200.3 469.2h1v1h-1zM204.8 463.5h1v1h-1zM206.2 450.4h1v1h-1zM183.4 475h1v1h-1zM205.2 419.1h1v1h-1zM200.4 458h1v1h-1zM200.6 452.7h1v1h-1zM169.5 433.6h1v1h-1zM196.2 452.6h1v1h-1zM227.4 461.8h1v1h-1zM225.9 459.2h1v1h-1zM205.9 425.9h1v1h-1zM205.4 428.9h1v1h-1zM200.2 409.6h1v1h-1zM196.8 418.8h1v1h-1zM194.7 410.2h1v1h-1zM192.3 412.3h1v1h-1zM182.5 424.1h1v1h-1zM193.4 455.4h1v1h-1zM197.3 441.4h1v1h-1zM188.1 456.7h1v1h-1zM185.4 422.9h1v1h-1zM195.3 413.7h1v1h-1zM197 445.2h1v1h-1zM216.8 449.6h1v1h-1zM218 448.8h1v1h-1zM193.2 417.8h1v1h-1zM195.7 447.9h1v1h-1zM197.7 425.1h1v1h-1zM187.4 453.8h1v1h-1zM171.6 482.5h1v1h-1zM169.9 437.9h1v1h-1zM200.6 423.3h1v1h-1zM201 423.7h1v1h-1zM189.9 466.7h1v1h-1zM189.8 465.9h1v1h-1zM196.9 414.7h1v1h-1zM200.6 427.2h1v1h-1zM194 424.3h1v1h-1zM189.8 451.7h1v1h-1zM194.1 427.2h1v1h-1zM185.6 449.2h1v1h-1zM168.8 442.1h1v1h-1zM199.3 428.1h1v1h-1zM183.7 448.5h1v1h-1zM196.6 427.1h1v1h-1zM172.6 481.3h1v1h-1zM177.1 479h1v1h-1zM191.8 453.2h1v1h-1zM181.9 451h1v1h-1zM168.2 479.2h1v1h-1zM200.5 432.5h1v1h-1zM183 427.6h1v1h-1zM196.4 437.8h1v1h-1zM175.1 432.5h1v1h-1zM192.2 420.9h1v1h-1zM203.1 434h1v1h-1zM195.3 446.2h1v1h-1zM176.4 478.6h1v1h-1zM199.2 414.1h1v1h-1zM183.9 434h1v1h-1zM201 412.3h1v1h-1zM184.6 430.6h1v1h-1zM202.9 434.8h1v1h-1zM202.2 413.7h1v1h-1zM165.6 455.7h1v1h-1zM185.7 456.7h1v1h-1zM198.3 431.2h1v1h-1zM202.7 435.3h1v1h-1zM193 446.4h1v1h-1zM173.3 433.4h1v1h-1zM191.9 451.4h1v1h-1zM199.4 435h1v1h-1zM182.2 435.1h1v1h-1zM202 412.7h1v1h-1zM194.4 422.4h1v1h-1zM166 467h1v1h-1zM200.1 414h1v1h-1zM179.1 439.3h1v1h-1zM185.6 446.8h1v1h-1zM191.4 449.8h1v1h-1zM191.7 450.1h1v1h-1zM173.9 479h1v1h-1zM193.3 420h1v1h-1zM194.5 420.9h1v1h-1zM166.5 450h1v1h-1zM185.7 431h1v1h-1zM181.5 435.9h1v1h-1zM181.8 440.3h1v1h-1zM195.8 430.8h1v1h-1zM187.9 446h1v1h-1zM179.3 434.4h1v1h-1zM198.8 433.8h1v1h-1zM184.4 427.5h1v1h-1zM185.5 455.8h1v1h-1zM190.4 445.8h1v1h-1zM194.3 442.7h1v1h-1zM194.1 443.1h1v1h-1zM182.7 441.8h1v1h-1zM186.5 432h1v1h-1zM185.9 446.2h1v1h-1zM181.5 445.1h1v1h-1zM180.2 435.5h1v1h-1zM196.8 436.5h1v1h-1zM182.5 443.8h1v1h-1zM183.6 438.4h1v1h-1zM198.1 433.2h1v1h-1zM184.9 436.1h1v1h-1zM166.2 465h1v1h-1zM193.5 444.3h1v1h-1zM183.5 454.4h1v1h-1zM189.8 428.4h1v1h-1zM169.7 478.2h1v1h-1zM194.6 436.6h1v1h-1zM194.6 437.5h1v1h-1zM189.4 427.5h1v1h-1zM184 455h1v1h-1zM184.8 427.4h1v1h-1zM186.9 433h1v1h-1zM191.7 429.2h1v1h-1zM191.9 436.3h1v1h-1zM185.9 425.8h1v1h-1zM186.6 425.8h1v1h-1zM173.1 434.7h1v1h-1zM183.7 443.5h1v1h-1zM186.7 445.2h1v1h-1zM178.7 440.3h1v1h-1zM166.8 460.1h1v1h-1zM196.3 433.4h1v1h-1zM190.5 445.3h1v1h-1zM183.1 455.4h1v1h-1zM182.8 455.2h1v1h-1zM186.8 436.3h1v1h-1zM168.7 476h1v1h-1zM176.9 475h1v1h-1zM192.8 435.5h1v1h-1zM188.5 431h1v1h-1zM178.2 435.5h1v1h-1zM196 434.1h1v1h-1zM196 433.9h1v1h-1zM188.9 444.5h1v1h-1zM180.2 444.6h1v1h-1zM194 434.1h1v1h-1zM191.7 433.9h1v1h-1zM191 444.1h1v1h-1zM194.3 435.5h1v1h-1zM174.9 433.9h1v1h-1zM175.6 433.7h1v1h-1zM178.6 435.7h1v1h-1zM178.4 436.3h1v1h-1zM172.5 440.4h1v1h-1zM166.1 458.5h1v1h-1zM166.7 457.9h1v1h-1zM177.3 473.7h1v1h-1zM190.3 444.3h1v1h-1zM186.3 437.6h1v1h-1zM194.6 431.3h1v1h-1zM173.4 436.1h1v1h-1zM189.3 430.9h1v1h-1zM188.8 430.7h1v1h-1zM192.4 438.9h1v1h-1zM192.6 442h1v1h-1zM181.6 455.5h1v1h-1zM183.9 443.5h1v1h-1zM172.3 478h1v1h-1zM190.4 437.6h1v1h-1zM190.2 437.5h1v1h-1zM185.3 438.2h1v1h-1zM184.7 440.3h1v1h-1zM167.7 449.8h1v1h-1zM184.4 439.1h1v1h-1zM187.8 429.5h1v1h-1zM187 427.2h1v1h-1zM167.6 452.9h1v1h-1zM193.4 429.7h1v1h-1zM189.9 433.5h1v1h-1zM187.5 428.3h1v1h-1zM173.5 437.1h1v1h-1zM189 436.7h1v1h-1zM192.7 439.9h1v1h-1zM192.4 440.6h1v1h-1zM186.9 440.6h1v1h-1zM173.7 438.3h1v1h-1zM173.1 439.3h1v1h-1zM180.3 457.3h1v1h-1zM180.2 456.9h1v1h-1zM178.3 465.7h1v1h-1zM177.9 465.9h1v1h-1zM192.5 429.9h1v1h-1zM188.5 428.1h1v1h-1zM188.7 427.9h1v1h-1zM191.4 432.3h1v1h-1zM168.2 445.8h1v1h-1zM185.5 439.6h1v1h-1zM176 435.6h1v1h-1zM185.1 439.9h1v1h-1zM191.2 442.2h1v1h-1zM189.7 434.1h1v1h-1zM189 434.4h1v1h-1zM192.1 432.2h1v1h-1zM180.6 451.7h1v1h-1zM180.5 452h1v1h-1zM191.2 439.4h1v1h-1zM187.7 442.9h1v1h-1zM188.8 435.9h1v1h-1zM187.9 436.2h1v1h-1zM193.2 430.7h1v1h-1zM193.3 431.4h1v1h-1zM185.6 442.7h1v1h-1zM187.5 441.2h1v1h-1zM188.1 434.6h1v1h-1zM188.2 435.1h1v1h-1zM192.3 431.4h1v1h-1zM177.9 442.4h1v1h-1zM166.8 471.3h1v1h-1zM186.3 442.9h1v1h-1zM186.6 443.4h1v1h-1zM178.8 462.4h1v1h-1zM189.6 439.9h1v1h-1zM189.7 440.2h1v1h-1zM189 441.2h1v1h-1zM186.6 442.2h1v1h-1zM186.7 442.4h1v1h-1zM167.8 457.7h1v1h-1zM172 441.3h1v1h-1zM176 475h1v1h-1zM169.9 476.8h1v1h-1zM177 468.3h1v1h-1zM167.7 457.3h1v1h-1zM175 476.2h1v1h-1zM190.6 441.5h1v1h-1zM190.4 441.4h1v1h-1zM180.7 454.9h1v1h-1zM190.8 440.5h1v1h-1zM177.5 441.6h1v1h-1zM175.6 436.1h1v1h-1zM175.1 435.7h1v1h-1zM173.4 476.7h1v1h-1zM169.5 476.3h1v1h-1zM176.6 437.5h1v1h-1zM176.4 438.5h1v1h-1zM176.8 438.4h1v1h-1zM176.8 439.8h1v1h-1zM167.7 462.8h1v1h-1zM169.7 445.2h1v1h-1zM170.6 443.3h1v1h-1zM175.5 439.4h1v1h-1zM175.2 439.6h1v1h-1zM167.1 461.7h1v1h-1zM171.6 476.7h1v1h-1zM175.4 436.9h1v1h-1zM172 477.3h1v1h-1zM175.2 438h1v1h-1zM175.9 473.9h1v1h-1zM177.9 463.8h1v1h-1zM176.1 441.3h1v1h-1zM179.3 446.8h1v1h-1zM179.2 446.9h1v1h-1zM168.4 449.8h1v1h-1zM174.4 476.2h1v1h-1zM168.2 452.8h1v1h-1zM170.7 476h1v1h-1zM175.6 440.7h1v1h-1zM168.4 471.6h1v1h-1zM178.7 462.9h1v1h-1zM177.9 463.1h1v1h-1zM168.5 454.1h1v1h-1zM172 442.4h1v1h-1zM179.3 453.2h1v1h-1zM179 453.1h1v1h-1zM179 456.4h1v1h-1zM169.4 447.6h1v1h-1zM169.5 446.8h1v1h-1zM169.3 447h1v1h-1zM168.6 470.7h1v1h-1zM168.7 470.8h1v1h-1zM168.7 469.7h1v1h-1zM167.8 470.4h1v1h-1zM177.8 444.5h1v1h-1zM178.2 444.2h1v1h-1zM171.3 476.1h1v1h-1zM177.8 462h1v1h-1zM177.8 462.2h1v1h-1zM169.9 444.7h1v1h-1zM168 465.1h1v1h-1zM168.2 464.9h1v1h-1zM168.8 465.3h1v1h-1zM178.2 460.2h1v1h-1zM176.7 469.6h1v1h-1zM168.5 456h1v1h-1zM167.8 456.5h1v1h-1zM178.2 461.6h1v1h-1zM168.8 474.6h1v1h-1zM169.3 448.6h1v1h-1zM168 459.6h1v1h-1zM168.5 464h1v1h-1zM174.8 474.1h1v1h-1zM170.2 445.9h1v1h-1zM173.9 475.2h1v1h-1zM174 475h1v1h-1zM178.3 445.3h1v1h-1zM178 444.9h1v1h-1zM168.5 460.8h1v1h-1zM168.1 461.4h1v1h-1zM168.3 461h1v1h-1zM177.7 463.6h1v1h-1zM174 441.8h1v1h-1zM174.2 442.5h1v1h-1zM174 442.5h1v1h-1zM169.7 472.9h1v1h-1zM171.4 444.3h1v1h-1zM171.5 444h1v1h-1zM171 444.4h1v1h-1zM171.4 444.2h1v1h-1zM171.2 444.3h1v1h-1zM176.2 466.9h1v1h-1z"/>
<path fill="rgb(70,74,208)" fill-opacity="0.42" d="M172.5 442.8h1v1h-1zM169.7 449.9h1v1h-1zM168.9 449.9h1v1h-1zM177.5 463.5h1v1h-1zM173.1 475.1h1v1h-1zM175.7 472h1v1h-1zM175.7 471.7h1v1h-1zM175.7 472h1v1h-1zM176.2 443.2h1v1h-1zM176.4 443h1v1h-1zM176.2 442.9h1v1h-1zM176.2 442.8h1v1h-1zM176.9 444.5h1v1h-1zM177.7 444.1h1v1h-1zM169.1 472.1h1v1h-1zM178 448.4h1v1h-1zM178.3 448.5h1v1h-1zM178.1 450.1h1v1h-1zM169.2 451.1h1v1h-1zM169.4 453.3h1v1h-1zM176.1 465.7h1v1h-1zM169.5 452h1v1h-1zM170.4 447.7h1v1h-1zM169.8 447.6h1v1h-1zM170 447.7h1v1h-1zM170 447.8h1v1h-1zM178.7 455.6h1v1h-1zM178.6 456.3h1v1h-1zM177.9 456.1h1v1h-1zM178.4 456.3h1v1h-1zM178.3 456.1h1v1h-1zM173.8 474.2h1v1h-1zM168.8 465.7h1v1h-1zM169.6 471.4h1v1h-1zM178.2 451.7h1v1h-1zM172.1 475.3h1v1h-1zM172.1 474.8h1v1h-1zM172.3 474.7h1v1h-1zM175.2 471.2h1v1h-1zM169.6 454.5h1v1h-1zM177.9 453.9h1v1h-1zM178.7 453.6h1v1h-1zM173 443.4h1v1h-1zM173 442.8h1v1h-1zM169.1 470.5h1v1h-1zM169.4 467.7h1v1h-1zM169.6 468.3h1v1h-1zM169.1 465.5h1v1h-1zM169.3 469.1h1v1h-1zM175 442.9h1v1h-1zM170.4 473.7h1v1h-1zM170.8 473.9h1v1h-1zM170.1 473.9h1v1h-1zM170.2 474.4h1v1h-1zM170 474.5h1v1h-1zM171.7 447.2h1v1h-1zM171.6 447.5h1v1h-1zM173.9 443.3h1v1h-1zM174.4 442.8h1v1h-1zM173.9 442.8h1v1h-1zM176.3 464.7h1v1h-1zM172.1 444.4h1v1h-1zM172.6 443.8h1v1h-1zM169.1 464.4h1v1h-1zM169.2 464.1h1v1h-1zM170.4 449.3h1v1h-1zM170.2 449.2h1v1h-1zM176 444h1v1h-1zM176.3 444.3h1v1h-1zM169.6 455.7h1v1h-1zM169.4 456.4h1v1h-1zM174.8 469h1v1h-1zM174.8 468.9h1v1h-1zM176.9 446.6h1v1h-1zM177.2 446.4h1v1h-1zM177 446.4h1v1h-1zM177.8 446.4h1v1h-1zM177.1 446.2h1v1h-1zM169.2 460.5h1v1h-1zM174.6 472.9h1v1h-1zM174.3 473.2h1v1h-1zM174.6 472.9h1v1h-1zM172.7 445.1h1v1h-1zM176.7 464.6h1v1h-1zM169.8 462.6h1v1h-1zM169.5 462.5h1v1h-1zM169.6 461.9h1v1h-1zM173.6 474h1v1h-1zM173.6 473.9h1v1h-1zM173.3 444.5h1v1h-1zM173.7 444.4h1v1h-1zM173.1 443.9h1v1h-1zM177 460h1v1h-1zM174.9 443.8h1v1h-1zM175.7 468h1v1h-1zM175.2 468.5h1v1h-1zM176.9 447.5h1v1h-1zM176.9 447.6h1v1h-1zM171.9 445.8h1v1h-1zM172.8 445.7h1v1h-1zM177.5 458.7h1v1h-1zM171.7 474.3h1v1h-1zM176.2 444.8h1v1h-1zM176 445.3h1v1h-1zM176.6 445.3h1v1h-1zM174.3 443.8h1v1h-1zM171.9 473.9h1v1h-1zM177.1 447.9h1v1h-1zM177.3 448.4h1v1h-1zM175 467.1h1v1h-1zM171.9 446.7h1v1h-1zM170.8 471.6h1v1h-1zM173.5 445.2h1v1h-1zM170.1 470.1h1v1h-1zM170.4 469.7h1v1h-1zM176.8 456h1v1h-1zM177.2 456.2h1v1h-1zM170.5 450.8h1v1h-1zM170.1 450.7h1v1h-1zM169.8 450.7h1v1h-1zM177.7 449.4h1v1h-1zM177.2 448.9h1v1h-1zM177.4 448.9h1v1h-1zM177.6 448.7h1v1h-1zM177.5 449.3h1v1h-1zM174.9 445.2h1v1h-1zM175 445.2h1v1h-1zM169.8 469.6h1v1h-1zM174.9 465.9h1v1h-1zM177.5 455.3h1v1h-1zM177.4 455.4h1v1h-1zM170.5 467.4h1v1h-1zM170.4 466.9h1v1h-1zM170.2 467.2h1v1h-1zM170.8 467.1h1v1h-1zM174.2 470.8h1v1h-1zM174 470.8h1v1h-1zM174 471.2h1v1h-1zM173.8 471.4h1v1h-1zM170.6 452.5h1v1h-1zM170.7 451.7h1v1h-1zM170.4 465.2h1v1h-1zM170.4 465.4h1v1h-1zM170.4 468.1h1v1h-1zM170.6 468.2h1v1h-1zM170.6 468h1v1h-1zM170.5 467.7h1v1h-1zM170.6 467.9h1v1h-1zM169.8 453.7h1v1h-1zM170.5 454.2h1v1h-1zM173.1 472.9h1v1h-1zM173.3 473.1h1v1h-1zM177.1 450.2h1v1h-1zM177.5 450.3h1v1h-1zM176.9 449.9h1v1h-1zM174.7 444.6h1v1h-1zM174.3 445.2h1v1h-1zM174.4 445.4h1v1h-1zM172.2 448.4h1v1h-1zM173.9 470.1h1v1h-1zM174.5 470.2h1v1h-1zM174.4 470.1h1v1h-1zM177.1 453.3h1v1h-1zM177.3 452.9h1v1h-1zM177.1 453.2h1v1h-1zM176.6 462.4h1v1h-1zM176.2 462.1h1v1h-1zM173.7 446.1h1v1h-1zM173.7 445.9h1v1h-1zM173.8 446h1v1h-1zM173.1 446.5h1v1h-1zM172.8 446.4h1v1h-1zM177.3 452.3h1v1h-1zM177.2 452.4h1v1h-1zM171.5 472.9h1v1h-1zM171.6 472.8h1v1h-1zM171.4 473.3h1v1h-1zM171.2 472.8h1v1h-1zM171.1 473.6h1v1h-1zM171.3 473.2h1v1h-1zM176.2 447.5h1v1h-1zM176.3 446.6h1v1h-1zM174.9 465.2h1v1h-1zM175.7 464.7h1v1h-1zM175.1 465.3h1v1h-1zM170.5 454.6h1v1h-1zM170.2 454.8h1v1h-1zM170.4 455h1v1h-1zM170.4 454.7h1v1h-1zM173.8 469.4h1v1h-1z"/>
<path fill="rgb(55,64,203)" fill-opacity="0.46" d="M175.3 446.4h1v1h-1zM175.6 446.5h1v1h-1zM171.9 472.8h1v1h-1zM172.3 473.4h1v1h-1zM172.4 472.9h1v1h-1zM171.9 472.7h1v1h-1zM172 473h1v1h-1zM171.8 472.9h1v1h-1zM170.2 462.9h1v1h-1zM170.8 462.6h1v1h-1zM169.9 463.1h1v1h-1zM173.2 447.5h1v1h-1zM173.4 447.4h1v1h-1zM174.3 446.5h1v1h-1zM174.7 446.6h1v1h-1zM174.3 446.2h1v1h-1zM174.4 446.1h1v1h-1zM175.9 447.9h1v1h-1zM176.5 447.8h1v1h-1zM172.9 472.1h1v1h-1zM170.8 456.4h1v1h-1zM170.3 455.7h1v1h-1zM170.3 456.4h1v1h-1zM170.9 472.4h1v1h-1zM171.5 472.1h1v1h-1zM170.9 472.4h1v1h-1zM171.4 472h1v1h-1zM171.5 472h1v1h-1zM170.3 461.7h1v1h-1zM170 462.6h1v1h-1zM175.8 464.3h1v1h-1zM175.3 464.6h1v1h-1zM173.8 467.8h1v1h-1zM174.5 468.2h1v1h-1zM174.3 468.1h1v1h-1zM174.5 468.4h1v1h-1zM171.2 450h1v1h-1zM171.4 450.4h1v1h-1zM171.4 450.4h1v1h-1zM170.2 461.1h1v1h-1zM170.4 461.3h1v1h-1zM170.7 461.3h1v1h-1zM175.5 446.9h1v1h-1zM175.7 447.1h1v1h-1zM174.8 447.3h1v1h-1zM175.1 446.9h1v1h-1zM170.6 460h1v1h-1zM169.9 459.7h1v1h-1zM170.3 460.5h1v1h-1zM170.7 459.9h1v1h-1zM170.3 457.9h1v1h-1zM169.9 458.4h1v1h-1zM170.3 457.5h1v1h-1zM170.5 457.5h1v1h-1zM170.7 457.4h1v1h-1zM170.8 456.8h1v1h-1zM171 471.3h1v1h-1zM171.2 471.5h1v1h-1zM171.3 470.8h1v1h-1zM176.8 461h1v1h-1zM176.4 461.6h1v1h-1zM176.3 461.3h1v1h-1zM171.2 470.4h1v1h-1zM170.8 469.6h1v1h-1zM171.8 469.6h1v1h-1zM171.2 470.4h1v1h-1zM172.4 449h1v1h-1zM172.2 449.1h1v1h-1zM173.5 448h1v1h-1zM173.7 448.4h1v1h-1zM173.3 448.4h1v1h-1zM173.8 448h1v1h-1zM174.4 447.5h1v1h-1zM174.5 446.7h1v1h-1zM174.2 447.4h1v1h-1zM174.4 447.3h1v1h-1zM174.5 446.7h1v1h-1zM170.8 468.7h1v1h-1zM171.1 469.5h1v1h-1zM173.6 471.2h1v1h-1zM173 470.7h1v1h-1zM173.7 471.1h1v1h-1zM173.2 470.9h1v1h-1zM173.2 470.8h1v1h-1zM173.4 471.5h1v1h-1zM174 467.6h1v1h-1zM174.7 467.2h1v1h-1zM174 466.9h1v1h-1zM174.6 467h1v1h-1zM172.5 472.3h1v1h-1zM172.2 471.8h1v1h-1zM175.7 463.3h1v1h-1zM175.7 462.8h1v1h-1zM175.6 462.7h1v1h-1zM171.6 467.9h1v1h-1zM171 468h1v1h-1zM171.8 468.4h1v1h-1zM171.5 468.5h1v1h-1zM176.3 448.8h1v1h-1zM176 448.7h1v1h-1zM171.5 467.3h1v1h-1zM173.5 469.7h1v1h-1zM173 469.8h1v1h-1zM171.3 466.2h1v1h-1zM170.9 465.7h1v1h-1zM170.9 466.4h1v1h-1zM175.3 447.7h1v1h-1zM174.9 448.5h1v1h-1zM175 448.4h1v1h-1zM175.7 448h1v1h-1zM173.6 469.1h1v1h-1zM172.9 469.4h1v1h-1zM173.5 468.8h1v1h-1zM172.8 468.6h1v1h-1zM174 465.9h1v1h-1zM174.1 466.4h1v1h-1zM174.5 466.4h1v1h-1zM171.6 450.9h1v1h-1zM171.2 450.8h1v1h-1zM171.3 451.5h1v1h-1zM171.6 451.5h1v1h-1zM172.3 471.4h1v1h-1zM171.9 471.5h1v1h-1zM172.5 471.2h1v1h-1zM172 471.4h1v1h-1zM172.1 470.6h1v1h-1zM172.8 471.6h1v1h-1zM171.4 464.6h1v1h-1zM171.2 464.7h1v1h-1zM171.1 464.8h1v1h-1zM174.3 448.3h1v1h-1zM176.2 460.1h1v1h-1zM176.2 460.4h1v1h-1zM176.4 460.3h1v1h-1zM172.7 470.3h1v1h-1zM172.5 470.2h1v1h-1zM172 469.8h1v1h-1zM172 470.3h1v1h-1zM171.7 452.9h1v1h-1zM171.7 453.2h1v1h-1zM171.1 453.1h1v1h-1zM176.3 455.9h1v1h-1zM176.6 455.8h1v1h-1zM176.6 455.9h1v1h-1zM176.2 455.7h1v1h-1zM176 457.5h1v1h-1zM176.1 456.9h1v1h-1zM175.9 457.1h1v1h-1zM176.3 457.2h1v1h-1zM176.5 457h1v1h-1zM172.7 468.7h1v1h-1zM171.8 468.8h1v1h-1zM171.7 452.2h1v1h-1zM171.7 452.3h1v1h-1zM171.1 452.3h1v1h-1zM171.5 451.7h1v1h-1zM171.2 453.8h1v1h-1zM171 453.7h1v1h-1zM176 457.8h1v1h-1zM176.1 458.3h1v1h-1zM176.7 457.9h1v1h-1zM176.2 450.1h1v1h-1zM175.9 450.3h1v1h-1zM176.8 449.8h1v1h-1zM173.3 467.9h1v1h-1zM173.7 468.5h1v1h-1zM173.7 467.7h1v1h-1zM173.4 468.6h1v1h-1zM175.9 459.5h1v1h-1zM176.2 458.8h1v1h-1zM175.8 454.5h1v1h-1zM176.4 453.8h1v1h-1zM176 453.8h1v1h-1zM175.8 454.2h1v1h-1zM176 453.8h1v1h-1zM174.8 461.9h1v1h-1zM175.2 462.3h1v1h-1zM175.2 461.8h1v1h-1zM172.8 449.4h1v1h-1zM173.4 449.4h1v1h-1zM173 449.2h1v1h-1zM173.6 449.4h1v1h-1zM173.4 448.9h1v1h-1zM172 468.6h1v1h-1zM172.7 468.5h1v1h-1zM171.8 468.5h1v1h-1zM172.3 467.8h1v1h-1zM174.5 465.4h1v1h-1zM174.2 464.8h1v1h-1zM173.8 465.5h1v1h-1zM174.2 464.6h1v1h-1zM171.8 463.8h1v1h-1zM171.6 464.2h1v1h-1zM171.1 464.5h1v1h-1zM171 463.7h1v1h-1zM176.2 452.9h1v1h-1zM175.9 453.6h1v1h-1zM176.8 452.7h1v1h-1zM176.3 453.6h1v1h-1zM176.8 453h1v1h-1zM172.3 449.7h1v1h-1zM172.8 450.4h1v1h-1zM172.3 450.5h1v1h-1zM172.7 450.3h1v1h-1zM172.2 450h1v1h-1zM171.2 455.4h1v1h-1zM171 455.5h1v1h-1zM171 455h1v1h-1zM176.5 451.5h1v1h-1zM176 451.2h1v1h-1zM175.9 451.1h1v1h-1zM176.5 451h1v1h-1zM173.7 466.7h1v1h-1zM173.2 467.4h1v1h-1zM173.2 467h1v1h-1zM173.6 467.3h1v1h-1zM173.3 467.4h1v1h-1zM175.7 449.2h1v1h-1zM175.2 448.8h1v1h-1zM175.1 449.3h1v1h-1zM172.7 466.7h1v1h-1zM172.1 466.7h1v1h-1zM172.4 466.8h1v1h-1zM171.9 467.1h1v1h-1zM172.5 467.4h1v1h-1zM176.1 451.9h1v1h-1zM176.3 451.8h1v1h-1zM176.4 451.7h1v1h-1zM170.8 463.4h1v1h-1zM171.1 463.1h1v1h-1zM171.3 463.5h1v1h-1zM170.9 463h1v1h-1zM171.6 463.4h1v1h-1zM172.6 466.5h1v1h-1zM172.8 465.9h1v1h-1zM172.2 465.9h1v1h-1zM172 466.4h1v1h-1zM172.1 466.2h1v1h-1zM171.9 465.9h1v1h-1zM174.1 448.8h1v1h-1zM174.6 448.6h1v1h-1zM174.1 463.7h1v1h-1zM174.4 464.3h1v1h-1zM174.1 463.8h1v1h-1zM174.2 464.6h1v1h-1zM173.9 464.4h1v1h-1zM174.3 464.5h1v1h-1zM170.9 461.9h1v1h-1zM173.8 466.6h1v1h-1zM173.2 466.5h1v1h-1zM173.3 466.4h1v1h-1zM171.5 461.5h1v1h-1zM171.3 461.5h1v1h-1zM171.6 460.7h1v1h-1zM171.4 461.6h1v1h-1zM170.8 461.4h1v1h-1zM171.3 455.7h1v1h-1zM171.3 455.7h1v1h-1z"/>
<path fill="rgb(43,62,198)" fill-opacity="0.50" d="M172.3 465.3h1v1h-1zM172.6 465.3h1v1h-1zM174.2 463.6h1v1h-1zM174.3 462.9h1v1h-1zM174 462.7h1v1h-1zM174.2 463.5h1v1h-1zM174.6 463.3h1v1h-1zM173.3 464.8h1v1h-1zM172.9 464.9h1v1h-1zM172.8 464.7h1v1h-1zM173.1 465.4h1v1h-1zM172.6 451.3h1v1h-1zM172.7 450.8h1v1h-1zM172.5 451.5h1v1h-1zM172.5 450.7h1v1h-1zM172.6 451h1v1h-1zM171.9 451.2h1v1h-1zM172.2 451.2h1v1h-1zM172.4 451.1h1v1h-1zM172.3 451.2h1v1h-1zM175.4 460.9h1v1h-1zM175.7 460.7h1v1h-1zM175.3 461.2h1v1h-1zM175.5 461.5h1v1h-1zM174.8 461h1v1h-1zM175.6 461.3h1v1h-1zM171.7 460h1v1h-1zM171.2 459.8h1v1h-1zM171.7 459.9h1v1h-1zM171.2 460.5h1v1h-1zM171.6 460h1v1h-1zM171.4 460.2h1v1h-1zM171.1 460.4h1v1h-1zM173.6 450.1h1v1h-1zM173.5 450.2h1v1h-1zM172.9 449.6h1v1h-1zM175.5 449.9h1v1h-1zM175.1 450.4h1v1h-1zM175.1 450.3h1v1h-1zM174.9 450.3h1v1h-1zM174.9 449.9h1v1h-1zM175 450.2h1v1h-1zM172.5 452.1h1v1h-1zM172 451.8h1v1h-1zM172.7 452.1h1v1h-1zM172.2 452.6h1v1h-1zM171.6 456.9h1v1h-1zM171.2 457.1h1v1h-1zM171.9 453.3h1v1h-1zM172 452.8h1v1h-1zM172.6 453.3h1v1h-1zM172 452.7h1v1h-1zM172.6 453.2h1v1h-1zM172.4 464.5h1v1h-1zM172.6 464.3h1v1h-1zM172.5 464.1h1v1h-1zM172.4 464.1h1v1h-1zM172.1 464.4h1v1h-1zM172.6 463.6h1v1h-1zM171.7 459.4h1v1h-1zM174.4 462.1h1v1h-1zM171.9 454.2h1v1h-1zM172.3 454h1v1h-1zM172.8 453.7h1v1h-1zM175.5 454.9h1v1h-1zM174.8 455.2h1v1h-1zM174.9 455.6h1v1h-1zM175.6 454.9h1v1h-1zM175.4 455.2h1v1h-1zM175 454.8h1v1h-1zM174.3 450.4h1v1h-1zM174 450.2h1v1h-1zM174.2 450.1h1v1h-1zM174.1 449.8h1v1h-1zM174.4 450.5h1v1h-1zM174.1 449.9h1v1h-1zM171.8 457.7h1v1h-1zM171.1 458.4h1v1h-1zM171.7 458.4h1v1h-1zM171.2 458.5h1v1h-1zM171.5 457.9h1v1h-1zM171.5 458.1h1v1h-1zM171 458.4h1v1h-1zM171.2 458h1v1h-1zM171.6 458.1h1v1h-1zM173.3 464.3h1v1h-1zM172.9 463.9h1v1h-1zM173.5 463.8h1v1h-1zM172.8 463.9h1v1h-1zM173.2 464.3h1v1h-1zM175 456h1v1h-1zM175.4 456.5h1v1h-1zM175.5 456.1h1v1h-1zM175.6 454.2h1v1h-1zM175.8 453.7h1v1h-1zM175.5 453.7h1v1h-1zM175.3 454.2h1v1h-1zM172 462.7h1v1h-1zM172.8 462.9h1v1h-1zM171.8 463.2h1v1h-1zM171.9 463.2h1v1h-1zM171.8 463.5h1v1h-1zM172.1 462.6h1v1h-1zM172 462.7h1v1h-1zM172.1 463.2h1v1h-1zM172 463.4h1v1h-1zM172.1 462.7h1v1h-1zM175.5 451.1h1v1h-1zM175.1 451.1h1v1h-1zM175.8 450.7h1v1h-1zM175.1 451.1h1v1h-1zM175.5 450.7h1v1h-1zM175.6 451.5h1v1h-1zM174.9 451.2h1v1h-1zM174.9 450.8h1v1h-1zM175 453.5h1v1h-1zM174.9 453.1h1v1h-1zM175.5 453.3h1v1h-1zM171.8 461.8h1v1h-1zM172.7 461.8h1v1h-1zM172.7 462.1h1v1h-1zM173.7 462.7h1v1h-1zM173.2 462.8h1v1h-1zM173.8 463.4h1v1h-1zM173 463.1h1v1h-1zM171.9 454.9h1v1h-1zM172.6 454.8h1v1h-1zM172.1 455.1h1v1h-1zM172.4 454.7h1v1h-1zM172.5 455.1h1v1h-1zM171.8 454.9h1v1h-1zM175 456.6h1v1h-1zM175.3 457.4h1v1h-1zM175.6 456.9h1v1h-1zM175.1 457.4h1v1h-1zM175 456.9h1v1h-1zM174.9 451.7h1v1h-1zM174.8 451.7h1v1h-1zM175.4 452.2h1v1h-1zM175.1 451.7h1v1h-1zM175.2 452.5h1v1h-1zM175.4 452.4h1v1h-1zM175.3 452.1h1v1h-1zM172.9 450.8h1v1h-1zM173 450.6h1v1h-1zM175.7 460.1h1v1h-1zM175.3 460.6h1v1h-1zM175.3 459.9h1v1h-1zM175 460h1v1h-1zM175.6 460.5h1v1h-1zM174.9 459.8h1v1h-1zM173.3 462.3h1v1h-1zM173.6 462.3h1v1h-1zM173.5 461.9h1v1h-1zM173.8 461.7h1v1h-1zM172.3 460.8h1v1h-1zM172.4 460.7h1v1h-1zM172.3 461.1h1v1h-1zM172.6 460.8h1v1h-1zM175.1 458.3h1v1h-1zM175.7 458.4h1v1h-1zM174.9 458.3h1v1h-1zM174.8 458h1v1h-1zM174 450.6h1v1h-1zM174.3 451.1h1v1h-1zM174 451.3h1v1h-1zM174.7 451.1h1v1h-1zM174.7 450.9h1v1h-1zM173.4 452.2h1v1h-1zM172.8 452.4h1v1h-1zM173.7 451.7h1v1h-1zM173.4 452.4h1v1h-1zM173.5 452.8h1v1h-1zM173.1 452.7h1v1h-1zM173.1 452.7h1v1h-1zM173.5 453.4h1v1h-1zM175.6 458.7h1v1h-1zM175.6 458.8h1v1h-1zM175 459.2h1v1h-1zM175.6 459.4h1v1h-1zM174.9 459h1v1h-1zM175.7 458.9h1v1h-1zM175.5 459.5h1v1h-1zM175.2 458.7h1v1h-1zM175.5 458.8h1v1h-1zM175.2 459.2h1v1h-1zM174.8 461.1h1v1h-1zM173.9 461h1v1h-1zM174.1 460.8h1v1h-1zM174.5 461.3h1v1h-1zM174.4 460.7h1v1h-1zM174.7 461h1v1h-1zM172.2 455.9h1v1h-1zM172.3 456.1h1v1h-1zM172.4 456.5h1v1h-1zM172.5 456.1h1v1h-1zM172.7 455.7h1v1h-1zM172.3 455.9h1v1h-1zM173.6 453.9h1v1h-1zM173.5 454.3h1v1h-1zM173.5 454.2h1v1h-1zM172.9 454.3h1v1h-1zM173.8 453.7h1v1h-1zM173.1 453.8h1v1h-1zM173.5 454.3h1v1h-1zM173 454.4h1v1h-1zM174.7 452.2h1v1h-1zM174.3 451.7h1v1h-1zM174.8 452.4h1v1h-1zM174.7 451.6h1v1h-1zM173.9 452.9h1v1h-1zM174.7 452.8h1v1h-1zM174 453.2h1v1h-1zM174 453.2h1v1h-1zM174 454.5h1v1h-1zM174.7 453.6h1v1h-1zM174 454.1h1v1h-1zM174.6 454.4h1v1h-1zM174.6 454h1v1h-1zM174.8 454.6h1v1h-1zM174.2 454.6h1v1h-1zM174 454.7h1v1h-1zM174.2 455.4h1v1h-1zM174.3 455.5h1v1h-1zM174.1 455h1v1h-1zM173.5 455.1h1v1h-1zM173.4 454.8h1v1h-1zM173.2 454.7h1v1h-1zM173.4 460.8h1v1h-1zM173.6 461.1h1v1h-1zM172.8 459.8h1v1h-1zM172.3 460.6h1v1h-1zM172.4 459.8h1v1h-1zM172.4 460.5h1v1h-1zM172.7 460.4h1v1h-1zM172.5 459.8h1v1h-1zM172 460.3h1v1h-1zM174.6 456h1v1h-1zM174.5 456.3h1v1h-1zM174.2 456.4h1v1h-1zM174.8 456.5h1v1h-1zM174.3 456.6h1v1h-1zM173.9 456.2h1v1h-1zM174.2 456.4h1v1h-1zM172.6 457.1h1v1h-1zM172.4 456.9h1v1h-1zM172.5 457h1v1h-1zM172.2 457.6h1v1h-1zM172.4 457.3h1v1h-1zM172.2 456.6h1v1h-1zM172.2 456.6h1v1h-1zM172 456.9h1v1h-1zM173.2 456.5h1v1h-1zM173.6 455.7h1v1h-1zM172.9 455.8h1v1h-1zM174.5 457.5h1v1h-1zM173.9 456.7h1v1h-1zM174.6 457.4h1v1h-1z"/>
<path fill="rgb(34,76,199)" fill-opacity="0.54" d="M171.9 459.6h1v1h-1zM172.4 458.7h1v1h-1zM172.4 459.4h1v1h-1zM172.7 458.7h1v1h-1zM174.3 459.9h1v1h-1zM174.1 460.1h1v1h-1zM174.5 460.4h1v1h-1zM174 460.5h1v1h-1zM174.2 460.4h1v1h-1zM174.1 460.5h1v1h-1zM174.1 460.1h1v1h-1zM174.6 460.4h1v1h-1zM173.9 460.4h1v1h-1zM173.8 460.3h1v1h-1zM171.8 458.5h1v1h-1zM172.5 458.2h1v1h-1zM172.7 458.1h1v1h-1zM172.7 457.7h1v1h-1zM172.5 458.4h1v1h-1zM171.8 457.8h1v1h-1zM171.9 457.8h1v1h-1zM172.6 458.2h1v1h-1zM172.6 458.2h1v1h-1zM173 459.9h1v1h-1zM173.1 460.3h1v1h-1zM173.5 460.3h1v1h-1zM173.8 459.6h1v1h-1zM172.9 460.4h1v1h-1zM172.9 460.4h1v1h-1zM174 458.6h1v1h-1zM174 458.5h1v1h-1zM174.8 457.7h1v1h-1zM174.4 458.1h1v1h-1zM174.3 458.1h1v1h-1zM174.5 457.7h1v1h-1zM174.1 457.7h1v1h-1zM174.4 458.6h1v1h-1zM173.1 457.1h1v1h-1zM173.1 456.9h1v1h-1zM173.7 457.6h1v1h-1zM172.8 456.8h1v1h-1zM173.6 457.5h1v1h-1zM173.2 457.4h1v1h-1zM174.6 459.3h1v1h-1zM174.7 459.3h1v1h-1zM173.3 459.6h1v1h-1zM173.2 459h1v1h-1zM173.4 459h1v1h-1zM173.6 458.8h1v1h-1zM173.7 459.5h1v1h-1zM172.9 458.6h1v1h-1zM173.5 457.9h1v1h-1zM173.2 457.7h1v1h-1zM173.2 458.2h1v1h-1zM173.2 458.4h1v1h-1zM173.6 458.5h1v1h-1z"/></g>
<line x1="37.5" y1="353.5" x2="38.7" y2="353.5" stroke="#8a7090" stroke-width="0.6"/>
<line x1="37.5" y1="350.5" x2="38.7" y2="350.5" stroke="#8a7090" stroke-width="0.6"/>
<line x1="37.5" y1="347.5" x2="38.7" y2="347.5" stroke="#8a7090" stroke-width="0.6"/>
<line x1="37.5" y1="344.5" x2="38.7" y2="344.5" stroke="#8a7090" stroke-width="0.6"/>
<line x1="37.5" y1="340.5" x2="38.7" y2="340.5" stroke="#8a7090" stroke-width="0.6"/>
<line x1="37.5" y1="337.5" x2="38.7" y2="337.5" stroke="#8a7090" stroke-width="0.6"/>
<line x1="37.5" y1="334.5" x2="38.7" y2="334.5" stroke="#8a7090" stroke-width="0.6"/>
<line x1="37.5" y1="330.5" x2="38.7" y2="330.5" stroke="#8a7090" stroke-width="0.6"/>
<line x1="37.5" y1="327.5" x2="38.7" y2="327.5" stroke="#8a7090" stroke-width="0.6"/>
<line x1="37.5" y1="324.5" x2="38.7" y2="324.5" stroke="#8a7090" stroke-width="0.6"/>
<line x1="37.5" y1="321.5" x2="38.7" y2="321.5" stroke="#8a7090" stroke-width="0.6"/>
<line x1="37.5" y1="317.5" x2="38.7" y2="317.5" stroke="#8a7090" stroke-width="0.6"/>
<line x1="37.5" y1="314.5" x2="38.7" y2="314.5" stroke="#8a7090" stroke-width="0.6"/>
<line x1="37.5" y1="311.5" x2="38.7" y2="311.5" stroke="#8a7090" stroke-width="0.6"/>
<line x1="37.5" y1="307.5" x2="38.7" y2="307.5" stroke="#8a7090" stroke-width="0.6"/>
<line x1="37.5" y1="304.5" x2="38.7" y2="304.5" stroke="#8a7090" stroke-width="0.6"/>
<line x1="37.5" y1="301.5" x2="38.7" y2="301.5" stroke="#8a7090" stroke-width="0.6"/>
<line x1="37.5" y1="298.5" x2="38.7" y2="298.5" stroke="#8a7090" stroke-width="0.6"/>
<line x1="37.5" y1="294.5" x2="38.7" y2="294.5" stroke="#8a7090" stroke-width="0.6"/>
<line x1="37.5" y1="291.5" x2="38.7" y2="291.5" stroke="#8a7090" stroke-width="0.6"/>
<line x1="37.5" y1="288.5" x2="38.7" y2="288.5" stroke="#8a7090" stroke-width="0.6"/>
<line x1="37.5" y1="285.5" x2="38.7" y2="285.5" stroke="#8a7090" stroke-width="0.6"/>
<line x1="37.5" y1="281.5" x2="38.7" y2="281.5" stroke="#8a7090" stroke-width="0.6"/>
<line x1="37.5" y1="278.5" x2="38.7" y2="278.5" stroke="#8a7090" stroke-width="0.6"/>
<line x1="37.5" y1="275.5" x2="38.7" y2="275.5" stroke="#8a7090" stroke-width="0.6"/>
<line x1="37.5" y1="271.5" x2="38.7" y2="271.5" stroke="#8a7090" stroke-width="0.6"/>
<line x1="37.5" y1="268.5" x2="38.7" y2="268.5" stroke="#8a7090" stroke-width="0.6"/>
<line x1="38.5" y1="353.9" x2="38.5" y2="355.1" stroke="#8a7090" stroke-width="0.6"/>
<line x1="41.5" y1="353.9" x2="41.5" y2="355.1" stroke="#8a7090" stroke-width="0.6"/>
<line x1="45.5" y1="353.9" x2="45.5" y2="355.1" stroke="#8a7090" stroke-width="0.6"/>
<line x1="48.5" y1="353.9" x2="48.5" y2="355.1" stroke="#8a7090" stroke-width="0.6"/>
<line x1="51.5" y1="353.9" x2="51.5" y2="355.1" stroke="#8a7090" stroke-width="0.6"/>
<line x1="55.5" y1="353.9" x2="55.5" y2="355.1" stroke="#8a7090" stroke-width="0.6"/>
<line x1="58.5" y1="353.9" x2="58.5" y2="355.1" stroke="#8a7090" stroke-width="0.6"/>
<line x1="61.5" y1="353.9" x2="61.5" y2="355.1" stroke="#8a7090" stroke-width="0.6"/>
<line x1="65.5" y1="353.9" x2="65.5" y2="355.1" stroke="#8a7090" stroke-width="0.6"/>
<line x1="68.5" y1="353.9" x2="68.5" y2="355.1" stroke="#8a7090" stroke-width="0.6"/>
<line x1="71.5" y1="353.9" x2="71.5" y2="355.1" stroke="#8a7090" stroke-width="0.6"/>
<line x1="74.5" y1="353.9" x2="74.5" y2="355.1" stroke="#8a7090" stroke-width="0.6"/>
<line x1="78.5" y1="353.9" x2="78.5" y2="355.1" stroke="#8a7090" stroke-width="0.6"/>
<line x1="81.5" y1="353.9" x2="81.5" y2="355.1" stroke="#8a7090" stroke-width="0.6"/>
<line x1="84.5" y1="353.9" x2="84.5" y2="355.1" stroke="#8a7090" stroke-width="0.6"/>
<line x1="88.5" y1="353.9" x2="88.5" y2="355.1" stroke="#8a7090" stroke-width="0.6"/>
<line x1="91.5" y1="353.9" x2="91.5" y2="355.1" stroke="#8a7090" stroke-width="0.6"/>
<line x1="94.5" y1="353.9" x2="94.5" y2="355.1" stroke="#8a7090" stroke-width="0.6"/>
<line x1="98.5" y1="353.9" x2="98.5" y2="355.1" stroke="#8a7090" stroke-width="0.6"/>
<line x1="101.5" y1="353.9" x2="101.5" y2="355.1" stroke="#8a7090" stroke-width="0.6"/>
<line x1="104.5" y1="353.9" x2="104.5" y2="355.1" stroke="#8a7090" stroke-width="0.6"/>
<line x1="107.5" y1="353.9" x2="107.5" y2="355.1" stroke="#8a7090" stroke-width="0.6"/>
<line x1="111.5" y1="353.9" x2="111.5" y2="355.1" stroke="#8a7090" stroke-width="0.6"/>
<line x1="114.5" y1="353.9" x2="114.5" y2="355.1" stroke="#8a7090" stroke-width="0.6"/>
<line x1="117.5" y1="353.9" x2="117.5" y2="355.1" stroke="#8a7090" stroke-width="0.6"/>
<line x1="121.5" y1="353.9" x2="121.5" y2="355.1" stroke="#8a7090" stroke-width="0.6"/>
<line x1="124.5" y1="353.9" x2="124.5" y2="355.1" stroke="#8a7090" stroke-width="0.6"/>
<rect x="38.7" y="268.6" width="85.7" height="85.3" fill="none" stroke="#b096b8" stroke-width="1.1"/>
<line x1="38.7" y1="353.9" x2="124.4" y2="353.9" stroke="#8c8490" stroke-width="1.1"/>
<text x="31.57" y="354.9" font-size="4.81" font-weight="normal" fill="#555" textLength="2.62" lengthAdjust="spacingAndGlyphs">0</text>
<text x="37.89" y="362.4" font-size="4.81" font-weight="normal" fill="#555" textLength="2.62" lengthAdjust="spacingAndGlyphs">0</text>
<text x="22.58" y="338.65" font-size="4.81" font-weight="normal" fill="#555" textLength="11.58" lengthAdjust="spacingAndGlyphs">50000</text>
<text x="49.66" y="362.4" font-size="4.81" font-weight="normal" fill="#555" textLength="11.58" lengthAdjust="spacingAndGlyphs">50000</text>
<text x="20.18" y="322.4" font-size="4.81" font-weight="normal" fill="#555" textLength="13.98" lengthAdjust="spacingAndGlyphs">100000</text>
<text x="64.63" y="362.4" font-size="4.81" font-weight="normal" fill="#555" textLength="13.98" lengthAdjust="spacingAndGlyphs">100000</text>
<text x="20.18" y="306.15" font-size="4.81" font-weight="normal" fill="#555" textLength="13.98" lengthAdjust="spacingAndGlyphs">150000</text>
<text x="80.88" y="362.4" font-size="4.81" font-weight="normal" fill="#555" textLength="13.98" lengthAdjust="spacingAndGlyphs">150000</text>
<text x="20.29" y="289.9" font-size="4.81" font-weight="normal" fill="#555" textLength="13.87" lengthAdjust="spacingAndGlyphs">200000</text>
<text x="97.24" y="362.4" font-size="4.81" font-weight="normal" fill="#555" textLength="13.87" lengthAdjust="spacingAndGlyphs">200000</text>
<text x="20.29" y="273.65" font-size="4.81" font-weight="normal" fill="#555" textLength="13.87" lengthAdjust="spacingAndGlyphs">250000</text>
<text x="113.49" y="362.4" font-size="4.81" font-weight="normal" fill="#555" textLength="13.87" lengthAdjust="spacingAndGlyphs">250000</text>
<path d="M38.7 353.9V268.6H68.8" fill="none" stroke="#ee96ee" stroke-width="1.3" stroke-opacity="0.7"/>
<line x1="38.7" y1="338.2" x2="68.8" y2="338.2" stroke="#ee96ee" stroke-width="1.3"/>
<rect x="68.8" y="268.6" width="47.5" height="68.7" fill="none" stroke="#ee96ee" stroke-width="1.3"/>
<line x1="68.8" y1="268.6" x2="68.8" y2="353.9" stroke="#c45ee0" stroke-width="1.5"/>
<text x="39.12" y="275.8" font-size="7.82" font-weight="normal" fill="#000" textLength="14.51" lengthAdjust="spacingAndGlyphs">36.6</text>
<text x="107.49" y="275.8" font-size="8.12" font-weight="normal" fill="#000" textLength="15.75" lengthAdjust="spacingAndGlyphs">27.5</text>
<text x="39.5" y="352.4" font-size="8.12" font-weight="normal" fill="#000" textLength="15.29" lengthAdjust="spacingAndGlyphs">28.7</text>
<text x="73.74" y="267.9" font-size="10.38" font-weight="normal" fill="#000" textLength="12.82" lengthAdjust="spacingAndGlyphs">B6</text>
<text x="107.02" y="373" font-size="9.56" font-weight="normal" fill="#000" textLength="34.95" lengthAdjust="spacingAndGlyphs">Hoechst</text>
<text transform="translate(18.7,335.37) rotate(-90)" x="0" y="0" font-size="10.58" fill="#000" stroke="#000" stroke-width="0" textLength="40.57" lengthAdjust="spacingAndGlyphs">Pyronin Y</text>
<line x1="141.4" y1="353.5" x2="142.6" y2="353.5" stroke="#8a7090" stroke-width="0.6"/>
<line x1="141.4" y1="350.5" x2="142.6" y2="350.5" stroke="#8a7090" stroke-width="0.6"/>
<line x1="141.4" y1="347.5" x2="142.6" y2="347.5" stroke="#8a7090" stroke-width="0.6"/>
<line x1="141.4" y1="343.5" x2="142.6" y2="343.5" stroke="#8a7090" stroke-width="0.6"/>
<line x1="141.4" y1="340.5" x2="142.6" y2="340.5" stroke="#8a7090" stroke-width="0.6"/>
<line x1="141.4" y1="337.5" x2="142.6" y2="337.5" stroke="#8a7090" stroke-width="0.6"/>
<line x1="141.4" y1="333.5" x2="142.6" y2="333.5" stroke="#8a7090" stroke-width="0.6"/>
<line x1="141.4" y1="330.5" x2="142.6" y2="330.5" stroke="#8a7090" stroke-width="0.6"/>
<line x1="141.4" y1="327.5" x2="142.6" y2="327.5" stroke="#8a7090" stroke-width="0.6"/>
<line x1="141.4" y1="324.5" x2="142.6" y2="324.5" stroke="#8a7090" stroke-width="0.6"/>
<line x1="141.4" y1="320.5" x2="142.6" y2="320.5" stroke="#8a7090" stroke-width="0.6"/>
<line x1="141.4" y1="317.5" x2="142.6" y2="317.5" stroke="#8a7090" stroke-width="0.6"/>
<line x1="141.4" y1="314.5" x2="142.6" y2="314.5" stroke="#8a7090" stroke-width="0.6"/>
<line x1="141.4" y1="311.5" x2="142.6" y2="311.5" stroke="#8a7090" stroke-width="0.6"/>
<line x1="141.4" y1="307.5" x2="142.6" y2="307.5" stroke="#8a7090" stroke-width="0.6"/>
<line x1="141.4" y1="304.5" x2="142.6" y2="304.5" stroke="#8a7090" stroke-width="0.6"/>
<line x1="141.4" y1="301.5" x2="142.6" y2="301.5" stroke="#8a7090" stroke-width="0.6"/>
<line x1="141.4" y1="298.5" x2="142.6" y2="298.5" stroke="#8a7090" stroke-width="0.6"/>
<line x1="141.4" y1="294.5" x2="142.6" y2="294.5" stroke="#8a7090" stroke-width="0.6"/>
<line x1="141.4" y1="291.5" x2="142.6" y2="291.5" stroke="#8a7090" stroke-width="0.6"/>
<line x1="141.4" y1="288.5" x2="142.6" y2="288.5" stroke="#8a7090" stroke-width="0.6"/>
<line x1="141.4" y1="284.5" x2="142.6" y2="284.5" stroke="#8a7090" stroke-width="0.6"/>
<line x1="141.4" y1="281.5" x2="142.6" y2="281.5" stroke="#8a7090" stroke-width="0.6"/>
<line x1="141.4" y1="278.5" x2="142.6" y2="278.5" stroke="#8a7090" stroke-width="0.6"/>
<line x1="141.4" y1="275.5" x2="142.6" y2="275.5" stroke="#8a7090" stroke-width="0.6"/>
<line x1="141.4" y1="271.5" x2="142.6" y2="271.5" stroke="#8a7090" stroke-width="0.6"/>
<line x1="141.4" y1="268.5" x2="142.6" y2="268.5" stroke="#8a7090" stroke-width="0.6"/>
<line x1="142.5" y1="353.6" x2="142.5" y2="354.8" stroke="#8a7090" stroke-width="0.6"/>
<line x1="145.5" y1="353.6" x2="145.5" y2="354.8" stroke="#8a7090" stroke-width="0.6"/>
<line x1="149.5" y1="353.6" x2="149.5" y2="354.8" stroke="#8a7090" stroke-width="0.6"/>
<line x1="152.5" y1="353.6" x2="152.5" y2="354.8" stroke="#8a7090" stroke-width="0.6"/>
<line x1="155.5" y1="353.6" x2="155.5" y2="354.8" stroke="#8a7090" stroke-width="0.6"/>
<line x1="159.5" y1="353.6" x2="159.5" y2="354.8" stroke="#8a7090" stroke-width="0.6"/>
<line x1="162.5" y1="353.6" x2="162.5" y2="354.8" stroke="#8a7090" stroke-width="0.6"/>
<line x1="166.5" y1="353.6" x2="166.5" y2="354.8" stroke="#8a7090" stroke-width="0.6"/>
<line x1="169.5" y1="353.6" x2="169.5" y2="354.8" stroke="#8a7090" stroke-width="0.6"/>
<line x1="172.5" y1="353.6" x2="172.5" y2="354.8" stroke="#8a7090" stroke-width="0.6"/>
<line x1="176.5" y1="353.6" x2="176.5" y2="354.8" stroke="#8a7090" stroke-width="0.6"/>
<line x1="179.5" y1="353.6" x2="179.5" y2="354.8" stroke="#8a7090" stroke-width="0.6"/>
<line x1="182.5" y1="353.6" x2="182.5" y2="354.8" stroke="#8a7090" stroke-width="0.6"/>
<line x1="186.5" y1="353.6" x2="186.5" y2="354.8" stroke="#8a7090" stroke-width="0.6"/>
<line x1="189.5" y1="353.6" x2="189.5" y2="354.8" stroke="#8a7090" stroke-width="0.6"/>
<line x1="192.5" y1="353.6" x2="192.5" y2="354.8" stroke="#8a7090" stroke-width="0.6"/>
<line x1="196.5" y1="353.6" x2="196.5" y2="354.8" stroke="#8a7090" stroke-width="0.6"/>
<line x1="199.5" y1="353.6" x2="199.5" y2="354.8" stroke="#8a7090" stroke-width="0.6"/>
<line x1="202.5" y1="353.6" x2="202.5" y2="354.8" stroke="#8a7090" stroke-width="0.6"/>
<line x1="206.5" y1="353.6" x2="206.5" y2="354.8" stroke="#8a7090" stroke-width="0.6"/>
<line x1="209.5" y1="353.6" x2="209.5" y2="354.8" stroke="#8a7090" stroke-width="0.6"/>
<line x1="212.5" y1="353.6" x2="212.5" y2="354.8" stroke="#8a7090" stroke-width="0.6"/>
<line x1="216.5" y1="353.6" x2="216.5" y2="354.8" stroke="#8a7090" stroke-width="0.6"/>
<line x1="219.5" y1="353.6" x2="219.5" y2="354.8" stroke="#8a7090" stroke-width="0.6"/>
<line x1="222.5" y1="353.6" x2="222.5" y2="354.8" stroke="#8a7090" stroke-width="0.6"/>
<line x1="226.5" y1="353.6" x2="226.5" y2="354.8" stroke="#8a7090" stroke-width="0.6"/>
<line x1="229.5" y1="353.6" x2="229.5" y2="354.8" stroke="#8a7090" stroke-width="0.6"/>
<rect x="142.6" y="268.6" width="87" height="85" fill="none" stroke="#b096b8" stroke-width="1.1"/>
<line x1="142.6" y1="353.6" x2="229.6" y2="353.6" stroke="#8c8490" stroke-width="1.1"/>
<text x="136.77" y="354.6" font-size="4.81" font-weight="normal" fill="#555" textLength="2.62" lengthAdjust="spacingAndGlyphs">0</text>
<text x="141.79" y="362.4" font-size="4.81" font-weight="normal" fill="#555" textLength="2.62" lengthAdjust="spacingAndGlyphs">0</text>
<text x="127.78" y="338.35" font-size="4.81" font-weight="normal" fill="#555" textLength="11.58" lengthAdjust="spacingAndGlyphs">50000</text>
<text x="153.56" y="362.4" font-size="4.81" font-weight="normal" fill="#555" textLength="11.58" lengthAdjust="spacingAndGlyphs">50000</text>
<text x="125.38" y="322.1" font-size="4.81" font-weight="normal" fill="#555" textLength="13.98" lengthAdjust="spacingAndGlyphs">100000</text>
<text x="168.53" y="362.4" font-size="4.81" font-weight="normal" fill="#555" textLength="13.98" lengthAdjust="spacingAndGlyphs">100000</text>
<text x="125.38" y="305.85" font-size="4.81" font-weight="normal" fill="#555" textLength="13.98" lengthAdjust="spacingAndGlyphs">150000</text>
<text x="184.78" y="362.4" font-size="4.81" font-weight="normal" fill="#555" textLength="13.98" lengthAdjust="spacingAndGlyphs">150000</text>
<text x="125.49" y="289.6" font-size="4.81" font-weight="normal" fill="#555" textLength="13.87" lengthAdjust="spacingAndGlyphs">200000</text>
<text x="201.14" y="362.4" font-size="4.81" font-weight="normal" fill="#555" textLength="13.87" lengthAdjust="spacingAndGlyphs">200000</text>
<text x="125.49" y="273.35" font-size="4.81" font-weight="normal" fill="#555" textLength="13.87" lengthAdjust="spacingAndGlyphs">250000</text>
<text x="217.39" y="362.4" font-size="4.81" font-weight="normal" fill="#555" textLength="13.87" lengthAdjust="spacingAndGlyphs">250000</text>
<path d="M142.6 353.6V268.6H173.3" fill="none" stroke="#ee96ee" stroke-width="1.3" stroke-opacity="0.7"/>
<line x1="142.6" y1="337.9" x2="173.3" y2="337.9" stroke="#ee96ee" stroke-width="1.3"/>
<rect x="173.3" y="268.6" width="48.5" height="67.9" fill="none" stroke="#ee96ee" stroke-width="1.3"/>
<line x1="173.3" y1="268.6" x2="173.3" y2="353.6" stroke="#c45ee0" stroke-width="1.5"/>
<text x="143.51" y="275.9" font-size="7.97" font-weight="normal" fill="#000" textLength="14.86" lengthAdjust="spacingAndGlyphs">39.1</text>
<text x="218.22" y="275.7" font-size="7.82" font-weight="normal" fill="#000" textLength="8.83" lengthAdjust="spacingAndGlyphs">46</text>
<text x="144.21" y="352.2" font-size="7.94" font-weight="normal" fill="#000" textLength="15.01" lengthAdjust="spacingAndGlyphs">11.5</text>
<text x="174.78" y="266.6" font-size="9.56" font-weight="normal" fill="#000" textLength="28.81" lengthAdjust="spacingAndGlyphs">Alox15</text>
<line x1="41.2" y1="486.5" x2="42.4" y2="486.5" stroke="#8a7090" stroke-width="0.6"/>
<line x1="41.2" y1="483.5" x2="42.4" y2="483.5" stroke="#8a7090" stroke-width="0.6"/>
<line x1="41.2" y1="479.5" x2="42.4" y2="479.5" stroke="#8a7090" stroke-width="0.6"/>
<line x1="41.2" y1="476.5" x2="42.4" y2="476.5" stroke="#8a7090" stroke-width="0.6"/>
<line x1="41.2" y1="473.5" x2="42.4" y2="473.5" stroke="#8a7090" stroke-width="0.6"/>
<line x1="41.2" y1="469.5" x2="42.4" y2="469.5" stroke="#8a7090" stroke-width="0.6"/>
<line x1="41.2" y1="466.5" x2="42.4" y2="466.5" stroke="#8a7090" stroke-width="0.6"/>
<line x1="41.2" y1="463.5" x2="42.4" y2="463.5" stroke="#8a7090" stroke-width="0.6"/>
<line x1="41.2" y1="460.5" x2="42.4" y2="460.5" stroke="#8a7090" stroke-width="0.6"/>
<line x1="41.2" y1="456.5" x2="42.4" y2="456.5" stroke="#8a7090" stroke-width="0.6"/>
<line x1="41.2" y1="453.5" x2="42.4" y2="453.5" stroke="#8a7090" stroke-width="0.6"/>
<line x1="41.2" y1="450.5" x2="42.4" y2="450.5" stroke="#8a7090" stroke-width="0.6"/>
<line x1="41.2" y1="447.5" x2="42.4" y2="447.5" stroke="#8a7090" stroke-width="0.6"/>
<line x1="41.2" y1="443.5" x2="42.4" y2="443.5" stroke="#8a7090" stroke-width="0.6"/>
<line x1="41.2" y1="440.5" x2="42.4" y2="440.5" stroke="#8a7090" stroke-width="0.6"/>
<line x1="41.2" y1="437.5" x2="42.4" y2="437.5" stroke="#8a7090" stroke-width="0.6"/>
<line x1="41.2" y1="433.5" x2="42.4" y2="433.5" stroke="#8a7090" stroke-width="0.6"/>
<line x1="41.2" y1="430.5" x2="42.4" y2="430.5" stroke="#8a7090" stroke-width="0.6"/>
<line x1="41.2" y1="427.5" x2="42.4" y2="427.5" stroke="#8a7090" stroke-width="0.6"/>
<line x1="41.2" y1="424.5" x2="42.4" y2="424.5" stroke="#8a7090" stroke-width="0.6"/>
<line x1="41.2" y1="420.5" x2="42.4" y2="420.5" stroke="#8a7090" stroke-width="0.6"/>
<line x1="41.2" y1="417.5" x2="42.4" y2="417.5" stroke="#8a7090" stroke-width="0.6"/>
<line x1="41.2" y1="414.5" x2="42.4" y2="414.5" stroke="#8a7090" stroke-width="0.6"/>
<line x1="41.2" y1="411.5" x2="42.4" y2="411.5" stroke="#8a7090" stroke-width="0.6"/>
<line x1="41.2" y1="407.5" x2="42.4" y2="407.5" stroke="#8a7090" stroke-width="0.6"/>
<line x1="41.2" y1="404.5" x2="42.4" y2="404.5" stroke="#8a7090" stroke-width="0.6"/>
<line x1="41.2" y1="401.5" x2="42.4" y2="401.5" stroke="#8a7090" stroke-width="0.6"/>
<line x1="42.5" y1="486.3" x2="42.5" y2="487.5" stroke="#8a7090" stroke-width="0.6"/>
<line x1="45.5" y1="486.3" x2="45.5" y2="487.5" stroke="#8a7090" stroke-width="0.6"/>
<line x1="49.5" y1="486.3" x2="49.5" y2="487.5" stroke="#8a7090" stroke-width="0.6"/>
<line x1="52.5" y1="486.3" x2="52.5" y2="487.5" stroke="#8a7090" stroke-width="0.6"/>
<line x1="55.5" y1="486.3" x2="55.5" y2="487.5" stroke="#8a7090" stroke-width="0.6"/>
<line x1="58.5" y1="486.3" x2="58.5" y2="487.5" stroke="#8a7090" stroke-width="0.6"/>
<line x1="62.5" y1="486.3" x2="62.5" y2="487.5" stroke="#8a7090" stroke-width="0.6"/>
<line x1="65.5" y1="486.3" x2="65.5" y2="487.5" stroke="#8a7090" stroke-width="0.6"/>
<line x1="68.5" y1="486.3" x2="68.5" y2="487.5" stroke="#8a7090" stroke-width="0.6"/>
<line x1="72.5" y1="486.3" x2="72.5" y2="487.5" stroke="#8a7090" stroke-width="0.6"/>
<line x1="75.5" y1="486.3" x2="75.5" y2="487.5" stroke="#8a7090" stroke-width="0.6"/>
<line x1="78.5" y1="486.3" x2="78.5" y2="487.5" stroke="#8a7090" stroke-width="0.6"/>
<line x1="82.5" y1="486.3" x2="82.5" y2="487.5" stroke="#8a7090" stroke-width="0.6"/>
<line x1="85.5" y1="486.3" x2="85.5" y2="487.5" stroke="#8a7090" stroke-width="0.6"/>
<line x1="88.5" y1="486.3" x2="88.5" y2="487.5" stroke="#8a7090" stroke-width="0.6"/>
<line x1="91.5" y1="486.3" x2="91.5" y2="487.5" stroke="#8a7090" stroke-width="0.6"/>
<line x1="95.5" y1="486.3" x2="95.5" y2="487.5" stroke="#8a7090" stroke-width="0.6"/>
<line x1="98.5" y1="486.3" x2="98.5" y2="487.5" stroke="#8a7090" stroke-width="0.6"/>
<line x1="101.5" y1="486.3" x2="101.5" y2="487.5" stroke="#8a7090" stroke-width="0.6"/>
<line x1="105.5" y1="486.3" x2="105.5" y2="487.5" stroke="#8a7090" stroke-width="0.6"/>
<line x1="108.5" y1="486.3" x2="108.5" y2="487.5" stroke="#8a7090" stroke-width="0.6"/>
<line x1="111.5" y1="486.3" x2="111.5" y2="487.5" stroke="#8a7090" stroke-width="0.6"/>
<line x1="115.5" y1="486.3" x2="115.5" y2="487.5" stroke="#8a7090" stroke-width="0.6"/>
<line x1="118.5" y1="486.3" x2="118.5" y2="487.5" stroke="#8a7090" stroke-width="0.6"/>
<line x1="121.5" y1="486.3" x2="121.5" y2="487.5" stroke="#8a7090" stroke-width="0.6"/>
<line x1="124.5" y1="486.3" x2="124.5" y2="487.5" stroke="#8a7090" stroke-width="0.6"/>
<line x1="128.5" y1="486.3" x2="128.5" y2="487.5" stroke="#8a7090" stroke-width="0.6"/>
<rect x="42.4" y="401.3" width="85.8" height="85" fill="none" stroke="#b096b8" stroke-width="1.1"/>
<line x1="42.4" y1="486.3" x2="128.2" y2="486.3" stroke="#8c8490" stroke-width="1.1"/>
<text x="36.27" y="487.3" font-size="4.81" font-weight="normal" fill="#555" textLength="2.62" lengthAdjust="spacingAndGlyphs">0</text>
<text x="41.59" y="494.3" font-size="4.81" font-weight="normal" fill="#555" textLength="2.62" lengthAdjust="spacingAndGlyphs">0</text>
<text x="27.28" y="471.05" font-size="4.81" font-weight="normal" fill="#555" textLength="11.58" lengthAdjust="spacingAndGlyphs">50000</text>
<text x="53.36" y="494.3" font-size="4.81" font-weight="normal" fill="#555" textLength="11.58" lengthAdjust="spacingAndGlyphs">50000</text>
<text x="24.88" y="454.8" font-size="4.81" font-weight="normal" fill="#555" textLength="13.98" lengthAdjust="spacingAndGlyphs">100000</text>
<text x="68.33" y="494.3" font-size="4.81" font-weight="normal" fill="#555" textLength="13.98" lengthAdjust="spacingAndGlyphs">100000</text>
<text x="24.88" y="438.55" font-size="4.81" font-weight="normal" fill="#555" textLength="13.98" lengthAdjust="spacingAndGlyphs">150000</text>
<text x="84.58" y="494.3" font-size="4.81" font-weight="normal" fill="#555" textLength="13.98" lengthAdjust="spacingAndGlyphs">150000</text>
<text x="24.99" y="422.3" font-size="4.81" font-weight="normal" fill="#555" textLength="13.87" lengthAdjust="spacingAndGlyphs">200000</text>
<text x="100.94" y="494.3" font-size="4.81" font-weight="normal" fill="#555" textLength="13.87" lengthAdjust="spacingAndGlyphs">200000</text>
<text x="24.99" y="406.05" font-size="4.81" font-weight="normal" fill="#555" textLength="13.87" lengthAdjust="spacingAndGlyphs">250000</text>
<text x="117.19" y="494.3" font-size="4.81" font-weight="normal" fill="#555" textLength="13.87" lengthAdjust="spacingAndGlyphs">250000</text>
<path d="M42.4 486.3V401.3H72.5" fill="none" stroke="#ec9cec" stroke-width="1.5" stroke-opacity="0.7"/>
<line x1="42.4" y1="465" x2="72.5" y2="465" stroke="#ec9cec" stroke-width="1.5"/>
<rect x="72.5" y="401.3" width="54.2" height="76.8" fill="none" stroke="#ec9cec" stroke-width="1.5"/>
<line x1="72.5" y1="401.3" x2="72.5" y2="486.3" stroke="#e8a2ea" stroke-width="1.9"/>
<text x="42.26" y="409.8" font-size="9.61" font-weight="normal" fill="#000" textLength="18.93" lengthAdjust="spacingAndGlyphs">14.4</text>
<text x="105.47" y="409.9" font-size="8.87" font-weight="normal" fill="#000" textLength="18.54" lengthAdjust="spacingAndGlyphs">17.6</text>
<text x="43.27" y="484.6" font-size="9.02" font-weight="normal" fill="#000" textLength="11.53" lengthAdjust="spacingAndGlyphs">60</text>
<text x="69.13" y="399.6" font-size="11.13" font-weight="normal" fill="#000" textLength="15.94" lengthAdjust="spacingAndGlyphs">B6</text>
<text x="109.42" y="504.1" font-size="11.74" font-weight="normal" fill="#000" textLength="43.77" lengthAdjust="spacingAndGlyphs">Hoechst</text>
<text transform="translate(24.3,478.38) rotate(-90)" x="0" y="0" font-size="11.88" fill="#000" stroke="#000" stroke-width="0" textLength="51.54" lengthAdjust="spacingAndGlyphs">Pyronin Y</text>
<line x1="146.2" y1="485.5" x2="147.4" y2="485.5" stroke="#8a7090" stroke-width="0.6"/>
<line x1="146.2" y1="482.5" x2="147.4" y2="482.5" stroke="#8a7090" stroke-width="0.6"/>
<line x1="146.2" y1="478.5" x2="147.4" y2="478.5" stroke="#8a7090" stroke-width="0.6"/>
<line x1="146.2" y1="475.5" x2="147.4" y2="475.5" stroke="#8a7090" stroke-width="0.6"/>
<line x1="146.2" y1="472.5" x2="147.4" y2="472.5" stroke="#8a7090" stroke-width="0.6"/>
<line x1="146.2" y1="469.5" x2="147.4" y2="469.5" stroke="#8a7090" stroke-width="0.6"/>
<line x1="146.2" y1="465.5" x2="147.4" y2="465.5" stroke="#8a7090" stroke-width="0.6"/>
<line x1="146.2" y1="462.5" x2="147.4" y2="462.5" stroke="#8a7090" stroke-width="0.6"/>
<line x1="146.2" y1="459.5" x2="147.4" y2="459.5" stroke="#8a7090" stroke-width="0.6"/>
<line x1="146.2" y1="456.5" x2="147.4" y2="456.5" stroke="#8a7090" stroke-width="0.6"/>
<line x1="146.2" y1="453.5" x2="147.4" y2="453.5" stroke="#8a7090" stroke-width="0.6"/>
<line x1="146.2" y1="449.5" x2="147.4" y2="449.5" stroke="#8a7090" stroke-width="0.6"/>
<line x1="146.2" y1="446.5" x2="147.4" y2="446.5" stroke="#8a7090" stroke-width="0.6"/>
<line x1="146.2" y1="443.5" x2="147.4" y2="443.5" stroke="#8a7090" stroke-width="0.6"/>
<line x1="146.2" y1="440.5" x2="147.4" y2="440.5" stroke="#8a7090" stroke-width="0.6"/>
<line x1="146.2" y1="436.5" x2="147.4" y2="436.5" stroke="#8a7090" stroke-width="0.6"/>
<line x1="146.2" y1="433.5" x2="147.4" y2="433.5" stroke="#8a7090" stroke-width="0.6"/>
<line x1="146.2" y1="430.5" x2="147.4" y2="430.5" stroke="#8a7090" stroke-width="0.6"/>
<line x1="146.2" y1="427.5" x2="147.4" y2="427.5" stroke="#8a7090" stroke-width="0.6"/>
<line x1="146.2" y1="423.5" x2="147.4" y2="423.5" stroke="#8a7090" stroke-width="0.6"/>
<line x1="146.2" y1="420.5" x2="147.4" y2="420.5" stroke="#8a7090" stroke-width="0.6"/>
<line x1="146.2" y1="417.5" x2="147.4" y2="417.5" stroke="#8a7090" stroke-width="0.6"/>
<line x1="146.2" y1="414.5" x2="147.4" y2="414.5" stroke="#8a7090" stroke-width="0.6"/>
<line x1="146.2" y1="410.5" x2="147.4" y2="410.5" stroke="#8a7090" stroke-width="0.6"/>
<line x1="146.2" y1="407.5" x2="147.4" y2="407.5" stroke="#8a7090" stroke-width="0.6"/>
<line x1="146.2" y1="404.5" x2="147.4" y2="404.5" stroke="#8a7090" stroke-width="0.6"/>
<line x1="146.2" y1="401.5" x2="147.4" y2="401.5" stroke="#8a7090" stroke-width="0.6"/>
<line x1="147.5" y1="485.4" x2="147.5" y2="486.6" stroke="#8a7090" stroke-width="0.6"/>
<line x1="150.5" y1="485.4" x2="150.5" y2="486.6" stroke="#8a7090" stroke-width="0.6"/>
<line x1="154.5" y1="485.4" x2="154.5" y2="486.6" stroke="#8a7090" stroke-width="0.6"/>
<line x1="157.5" y1="485.4" x2="157.5" y2="486.6" stroke="#8a7090" stroke-width="0.6"/>
<line x1="160.5" y1="485.4" x2="160.5" y2="486.6" stroke="#8a7090" stroke-width="0.6"/>
<line x1="163.5" y1="485.4" x2="163.5" y2="486.6" stroke="#8a7090" stroke-width="0.6"/>
<line x1="167.5" y1="485.4" x2="167.5" y2="486.6" stroke="#8a7090" stroke-width="0.6"/>
<line x1="170.5" y1="485.4" x2="170.5" y2="486.6" stroke="#8a7090" stroke-width="0.6"/>
<line x1="173.5" y1="485.4" x2="173.5" y2="486.6" stroke="#8a7090" stroke-width="0.6"/>
<line x1="177.5" y1="485.4" x2="177.5" y2="486.6" stroke="#8a7090" stroke-width="0.6"/>
<line x1="180.5" y1="485.4" x2="180.5" y2="486.6" stroke="#8a7090" stroke-width="0.6"/>
<line x1="183.5" y1="485.4" x2="183.5" y2="486.6" stroke="#8a7090" stroke-width="0.6"/>
<line x1="187.5" y1="485.4" x2="187.5" y2="486.6" stroke="#8a7090" stroke-width="0.6"/>
<line x1="190.5" y1="485.4" x2="190.5" y2="486.6" stroke="#8a7090" stroke-width="0.6"/>
<line x1="193.5" y1="485.4" x2="193.5" y2="486.6" stroke="#8a7090" stroke-width="0.6"/>
<line x1="196.5" y1="485.4" x2="196.5" y2="486.6" stroke="#8a7090" stroke-width="0.6"/>
<line x1="200.5" y1="485.4" x2="200.5" y2="486.6" stroke="#8a7090" stroke-width="0.6"/>
<line x1="203.5" y1="485.4" x2="203.5" y2="486.6" stroke="#8a7090" stroke-width="0.6"/>
<line x1="206.5" y1="485.4" x2="206.5" y2="486.6" stroke="#8a7090" stroke-width="0.6"/>
<line x1="210.5" y1="485.4" x2="210.5" y2="486.6" stroke="#8a7090" stroke-width="0.6"/>
<line x1="213.5" y1="485.4" x2="213.5" y2="486.6" stroke="#8a7090" stroke-width="0.6"/>
<line x1="216.5" y1="485.4" x2="216.5" y2="486.6" stroke="#8a7090" stroke-width="0.6"/>
<line x1="220.5" y1="485.4" x2="220.5" y2="486.6" stroke="#8a7090" stroke-width="0.6"/>
<line x1="223.5" y1="485.4" x2="223.5" y2="486.6" stroke="#8a7090" stroke-width="0.6"/>
<line x1="226.5" y1="485.4" x2="226.5" y2="486.6" stroke="#8a7090" stroke-width="0.6"/>
<line x1="229.5" y1="485.4" x2="229.5" y2="486.6" stroke="#8a7090" stroke-width="0.6"/>
<line x1="233.5" y1="485.4" x2="233.5" y2="486.6" stroke="#8a7090" stroke-width="0.6"/>
<rect x="147.4" y="401.2" width="85.9" height="84.2" fill="none" stroke="#b096b8" stroke-width="1.1"/>
<line x1="147.4" y1="485.4" x2="233.3" y2="485.4" stroke="#8c8490" stroke-width="1.1"/>
<text x="142.57" y="486.4" font-size="4.81" font-weight="normal" fill="#555" textLength="2.62" lengthAdjust="spacingAndGlyphs">0</text>
<text x="146.59" y="494.1" font-size="4.81" font-weight="normal" fill="#555" textLength="2.62" lengthAdjust="spacingAndGlyphs">0</text>
<text x="133.58" y="470.15" font-size="4.81" font-weight="normal" fill="#555" textLength="11.58" lengthAdjust="spacingAndGlyphs">50000</text>
<text x="158.36" y="494.1" font-size="4.81" font-weight="normal" fill="#555" textLength="11.58" lengthAdjust="spacingAndGlyphs">50000</text>
<text x="131.18" y="453.9" font-size="4.81" font-weight="normal" fill="#555" textLength="13.98" lengthAdjust="spacingAndGlyphs">100000</text>
<text x="173.33" y="494.1" font-size="4.81" font-weight="normal" fill="#555" textLength="13.98" lengthAdjust="spacingAndGlyphs">100000</text>
<text x="131.18" y="437.65" font-size="4.81" font-weight="normal" fill="#555" textLength="13.98" lengthAdjust="spacingAndGlyphs">150000</text>
<text x="189.58" y="494.1" font-size="4.81" font-weight="normal" fill="#555" textLength="13.98" lengthAdjust="spacingAndGlyphs">150000</text>
<text x="131.29" y="421.4" font-size="4.81" font-weight="normal" fill="#555" textLength="13.87" lengthAdjust="spacingAndGlyphs">200000</text>
<text x="205.94" y="494.1" font-size="4.81" font-weight="normal" fill="#555" textLength="13.87" lengthAdjust="spacingAndGlyphs">200000</text>
<text x="131.29" y="405.15" font-size="4.81" font-weight="normal" fill="#555" textLength="13.87" lengthAdjust="spacingAndGlyphs">250000</text>
<text x="222.19" y="494.1" font-size="4.81" font-weight="normal" fill="#555" textLength="13.87" lengthAdjust="spacingAndGlyphs">250000</text>
<path d="M147.4 485.4V401.2H177.4" fill="none" stroke="#ec9cec" stroke-width="1.5" stroke-opacity="0.7"/>
<line x1="147.4" y1="464.5" x2="177.4" y2="464.5" stroke="#ec9cec" stroke-width="1.5"/>
<rect x="177.4" y="401.2" width="54.5" height="76.1" fill="none" stroke="#ec9cec" stroke-width="1.5"/>
<line x1="177.4" y1="401.2" x2="177.4" y2="485.4" stroke="#e8a2ea" stroke-width="1.9"/>
<text x="147.78" y="409.9" font-size="8.57" font-weight="normal" fill="#000" textLength="18.95" lengthAdjust="spacingAndGlyphs">42.8</text>
<text x="209.8" y="409.9" font-size="8.57" font-weight="normal" fill="#000" textLength="11.03" lengthAdjust="spacingAndGlyphs">28</text>
<text x="147.5" y="484" font-size="9.02" font-weight="normal" fill="#000" textLength="19.44" lengthAdjust="spacingAndGlyphs">21.3</text>
<text x="173.48" y="398.7" font-size="10.87" font-weight="normal" fill="#000" textLength="36.02" lengthAdjust="spacingAndGlyphs">Alox15</text>
</g>
</svg></body></html>
